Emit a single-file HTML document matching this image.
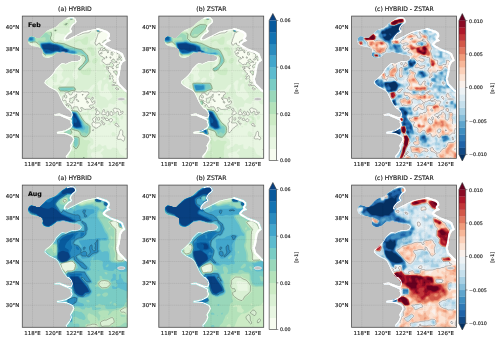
<!DOCTYPE html>
<html><head><meta charset="utf-8"><title>figure</title><style>html,body{margin:0;padding:0;background:#fff}svg{display:block}text{stroke:#222;stroke-width:.14px}</style></head><body>
<svg width="500" height="340" viewBox="0 0 500 340" font-family="'DejaVu Sans','Liberation Sans',sans-serif">
<defs>
<clipPath id="pc"><rect x="0" y="0" width="104.9" height="142.2"/></clipPath>
<clipPath id="sea"><polygon points="6.0,25.0 7.0,22.0 9.0,20.5 12.0,21.0 15.0,22.3 18.0,22.0 20.0,20.0 22.0,18.0 23.5,16.3 26.0,14.3 29.0,13.0 31.9,12.0 34.8,10.2 37.2,7.8 39.8,5.7 42.8,3.8 45.8,1.8 48.8,0.9 51.8,1.2 53.7,3.0 54.5,5.7 53.2,7.5 51.0,9.3 49.5,11.2 48.8,13.2 50.2,15.0 49.2,16.8 46.8,18.0 45.0,19.8 43.5,21.8 43.0,23.2 45.2,23.7 47.5,22.5 52.0,20.2 56.5,18.0 61.0,15.8 67.0,14.2 73.0,13.2 76.0,12.0 80.5,13.5 85.0,15.0 87.7,17.2 88.0,20.2 86.5,22.5 88.8,24.8 85.0,26.2 82.8,28.5 85.0,30.0 88.8,32.2 92.5,33.8 97.0,35.2 100.8,37.5 102.0,40.8 103.5,44.4 100.6,46.6 99.0,49.6 98.5,53.0 97.6,58.7 96.3,63.0 97.6,67.5 100.6,70.5 103.5,73.4 106.0,75.0 106.0,143.0 44.2,143.0 44.2,142.2 43.8,140.3 45.8,137.8 47.7,135.2 48.8,132.2 48.0,129.5 49.8,126.5 51.3,123.5 50.2,121.0 47.2,119.5 44.2,118.2 40.5,117.8 35.2,117.5 34.8,116.0 39.0,115.2 42.8,114.5 45.8,113.0 48.3,111.5 49.5,109.2 48.3,106.2 48.8,104.8 45.0,102.8 41.2,101.3 37.5,99.5 32.7,99.5 32.2,98.3 37.5,97.4 42.0,99.2 45.8,100.7 48.8,101.3 49.8,98.8 48.8,95.8 46.5,93.2 45.0,92.5 42.0,88.8 39.8,85.0 38.2,81.2 36.0,76.8 33.8,74.5 30.8,73.0 27.8,71.5 24.8,69.2 22.5,67.0 23.2,64.8 27.0,61.8 30.0,58.8 32.2,55.8 33.8,52.8 37.5,49.0 40.2,46.9 43.8,48.0 46.8,46.5 50.2,45.3 53.2,45.1 55.8,44.9 57.9,44.0 59.0,42.1 58.2,40.2 55.5,38.9 52.2,38.4 48.8,38.0 45.0,36.8 41.2,35.7 37.5,36.5 35.0,36.3 33.0,38.0 30.0,40.5 26.0,42.0 22.0,41.0 20.5,39.0 21.0,36.0 20.5,33.0 18.0,31.5 14.0,30.5 10.0,30.0 7.0,28.0"/></clipPath>
<g id="fringe"><polyline points="45.8,1.8 48.8,0.9 51.8,1.2 53.7,3.0 54.5,5.7 53.2,7.5 51.0,9.3 49.5,11.2 48.8,13.2 50.2,15.0 49.2,16.8 46.8,18.0 45.0,19.8 43.5,21.8 43.0,23.2" fill="none" stroke="#fff" stroke-width="2.6" stroke-linejoin="round" stroke-linecap="round"/><polyline points="45.2,23.7 47.5,22.5 52.0,20.2 56.5,18.0 61.0,15.8 67.0,14.2 73.0,13.2 76.0,12.0" fill="none" stroke="#fff" stroke-width="1.6" stroke-linejoin="round" stroke-linecap="round"/><polyline points="76.0,12.0 80.5,13.5 85.0,15.0 87.7,17.2 88.0,20.2 86.5,22.5 88.8,24.8 85.0,26.2 82.8,28.5 85.0,30.0 88.8,32.2 92.5,33.8 97.0,35.2 100.8,37.5 102.0,40.8 103.5,44.4 100.6,46.6 99.0,49.6 98.5,53.0 97.6,58.7 96.3,63.0 97.6,67.5 100.6,70.5 103.5,73.4 106.0,75.0" fill="none" stroke="#fff" stroke-width="4.2" stroke-linejoin="round" stroke-linecap="round"/><polyline points="44.2,142.2 43.8,140.3 45.8,137.8 47.7,135.2 48.8,132.2 48.0,129.5 49.8,126.5 51.3,123.5 50.2,121.0 47.2,119.5 44.2,118.2 40.5,117.8 35.2,117.5 34.8,116.0 39.0,115.2 42.8,114.5 45.8,113.0 48.3,111.5 49.5,109.2 48.3,106.2 48.8,104.8 45.0,102.8 41.2,101.3 37.5,99.5 32.7,99.5 32.2,98.3 37.5,97.4 42.0,99.2 45.8,100.7 48.8,101.3 49.8,98.8 48.8,95.8 46.5,93.2" fill="none" stroke="#fff" stroke-width="2.2" stroke-linejoin="round" stroke-linecap="round"/><polyline points="46.5,93.2 45.0,92.5 42.0,88.8 39.8,85.0 38.2,81.2 36.0,76.8 33.8,74.5 30.8,73.0 27.8,71.5 24.8,69.2 22.5,67.0 23.2,64.8 27.0,61.8 30.0,58.8 32.2,55.8 33.8,52.8 37.5,49.0 40.2,46.9" fill="none" stroke="#fff" stroke-width="1.4" stroke-linejoin="round" stroke-linecap="round"/><polyline points="40.2,46.9 43.8,48.0 46.8,46.5 50.2,45.3 53.2,45.1 55.8,44.9 57.9,44.0 59.0,42.1" fill="none" stroke="#fff" stroke-width="1.2" stroke-linejoin="round" stroke-linecap="round"/><polyline points="59.0,42.1 58.2,40.2 55.5,38.9 52.2,38.4 48.8,38.0 45.0,36.8 41.2,35.7 37.5,36.5 35.0,36.3" fill="none" stroke="#fff" stroke-width="0.5" stroke-linejoin="round" stroke-linecap="round"/></g>
<ellipse id="jeju" cx="99.3" cy="83.1" rx="3.8" ry="1.5" fill="#c0c0c0" stroke="#fff" stroke-width="0.5"/>
<g id="grid" stroke="#000" stroke-opacity="0.17" stroke-width="0.4" stroke-dasharray="1.4 0.5" fill="none"><path d="M10.20 0V142.3"/><path d="M31.20 0V142.3"/><path d="M52.20 0V142.3"/><path d="M73.20 0V142.3"/><path d="M94.20 0V142.3"/><path d="M0 10.90H105.2"/><path d="M0 32.74H105.2"/><path d="M0 54.58H105.2"/><path d="M0 76.42H105.2"/><path d="M0 98.26H105.2"/><path d="M0 120.10H105.2"/></g>
</defs>
<rect width="500" height="340" fill="#fff"/>
<g transform="translate(22.3,16.1)">
<g clip-path="url(#pc)">
<rect width="105.2" height="142.3" fill="#c0c0c0"/>
<g transform="translate(-0.3,-0.1)"><g clip-path="url(#sea)"><rect x="-1" y="-1" width="107.2" height="144.3" fill="#f7fcf0"/><path d="M65.0 85.0L64.5 86.2L65.5 87.0L66.2 87.0L66.5 86.8L66.2 85.8ZM54.5 83.2L54.2 83.8L55.8 85.5L56.8 85.5L56.8 85.0L55.0 83.2ZM60.0 79.0L60.8 79.2L61.2 78.5L60.2 78.5ZM54.8 78.0L53.5 79.2L53.2 80.2L52.5 81.0L51.0 81.0L50.0 82.2L48.0 82.2L47.5 82.8L48.2 84.0L47.5 85.2L47.5 86.0L49.0 87.0L50.8 87.0L50.8 85.5L52.2 83.8L52.2 82.2L52.8 81.8L54.0 81.8L54.5 81.0ZM98.0 58.8L97.0 58.8L96.2 59.8L96.8 63.8L97.0 63.8L97.0 62.2L97.8 60.5ZM91.5 55.2L91.8 56.5L92.5 56.8L93.5 57.8L94.0 59.0L94.5 59.2L95.5 58.0L95.2 55.5L93.8 54.8ZM90.2 51.8L90.8 52.8L91.5 52.8L91.2 52.0ZM97.2 46.2L97.5 47.5L96.8 48.2L95.0 48.8L94.0 50.2L94.0 51.2L94.8 51.8L97.0 51.2L97.5 51.8L97.5 53.2L99.0 54.0L99.5 49.8L100.5 47.5L100.0 47.0ZM89.2 44.8L89.5 45.2L90.5 45.2L92.2 46.8L94.0 46.0L95.2 46.5L94.8 45.5L93.5 45.2L92.2 44.0L92.0 43.0L90.8 43.0ZM88.0 40.8L87.8 41.8L88.0 42.2L88.8 42.2L89.0 41.5L88.5 40.8ZM84.0 40.5L84.0 41.5L84.2 42.0L84.8 42.0L85.0 41.0ZM79.8 36.2L78.2 37.2L78.5 38.0L79.5 38.0L80.0 37.5ZM89.2 36.0L89.0 38.5L90.5 39.2L91.0 38.8L90.8 37.2L90.0 36.0ZM87.8 33.2L87.5 34.0L88.5 34.2L88.5 33.8ZM90.8 32.2L90.2 33.8L90.5 35.2L93.0 36.2L93.2 35.0L94.2 34.8L94.8 35.8L94.5 36.5L95.5 37.8L96.0 37.8L96.0 36.5L96.5 36.0L97.2 36.0L97.8 36.5L97.8 37.5L97.0 38.5L96.8 41.2L97.2 42.0L95.2 43.0L95.5 44.0L96.8 44.0L97.8 42.8L98.2 42.8L99.2 43.5L99.2 45.0L100.8 44.8L102.0 46.2L104.0 45.0L104.0 43.8L101.0 36.8L97.0 34.5L92.8 33.2ZM98.5 40.0L99.5 40.8L99.5 41.5L99.0 42.0L98.0 42.0L97.5 41.5L97.5 41.0ZM87.8 16.2L88.5 19.0L88.2 16.8ZM6.8 21.2L5.5 24.2L5.5 25.8L6.5 28.5L9.5 30.5L12.5 30.8L17.0 31.8L19.8 33.2L20.5 36.0L20.0 37.8L20.0 39.5L21.5 41.5L25.2 42.5L26.8 42.5L30.5 41.0L35.5 36.8L38.5 37.0L40.0 36.5L42.0 36.5L48.0 38.5L55.0 39.2L57.5 40.5L58.2 42.0L57.8 43.2L57.0 43.8L53.2 44.8L49.5 44.8L46.8 45.8L44.0 47.2L43.0 47.2L41.0 46.5L39.2 46.8L37.2 48.2L33.0 52.5L31.8 55.2L29.8 58.0L26.0 61.8L22.8 64.2L22.0 66.2L22.0 67.5L24.5 70.0L27.2 72.0L33.0 74.8L35.5 77.2L38.2 82.8L38.8 84.5L41.2 89.0L44.0 92.5L45.8 93.5L48.2 96.2L49.0 98.2L48.5 100.2L47.2 100.5L38.2 97.0L36.2 97.0L31.8 97.8L31.8 99.0L32.2 100.0L37.2 100.0L40.5 101.8L43.5 102.8L48.0 105.2L47.8 107.0L48.8 109.2L47.5 111.2L42.5 114.0L34.2 115.5L34.2 116.8L34.8 118.0L40.8 118.2L44.0 118.8L49.5 121.2L50.2 122.5L50.5 123.5L47.5 129.0L47.5 130.2L48.0 131.5L47.5 134.2L43.2 139.8L43.2 141.2L43.8 143.0L104.8 143.0L105.0 142.0L106.0 141.2L106.0 135.0L105.0 134.8L104.0 133.5L104.2 132.5L105.0 131.8L106.0 131.5L106.0 74.2L103.5 72.5L101.0 73.0L99.8 72.0L98.8 72.0L95.8 69.2L92.5 69.5L92.0 69.0L93.2 67.8L93.8 66.5L93.2 66.2L91.2 66.5L90.8 65.8L91.5 64.8L91.5 64.0L90.5 62.5L91.0 61.8L90.8 59.8L89.8 59.5L88.5 61.2L87.5 60.8L87.2 59.8L88.8 58.8L89.0 57.5L87.0 56.2L86.2 54.0L85.5 54.0L85.0 53.5L85.0 52.8L84.2 52.0L84.5 50.5L85.5 50.0L86.0 50.5L85.5 51.8L85.8 52.5L86.5 53.0L86.5 51.5L87.2 50.5L90.0 51.2L92.0 49.5L92.0 49.0L90.8 48.0L90.8 47.2L89.5 46.2L88.2 46.5L87.8 48.5L86.0 48.2L84.0 48.8L81.8 46.5L80.8 46.2L80.0 45.2L80.2 43.8L81.2 43.0L82.8 43.0L82.8 42.2L80.8 40.8L78.0 39.5L77.2 38.5L77.2 37.5L76.5 36.5L76.5 35.5L77.2 34.8L78.8 34.2L78.2 32.5L79.0 31.8L80.5 31.8L81.5 32.5L79.8 34.2L80.2 35.0L83.8 34.2L85.5 35.8L85.5 36.8L86.5 36.5L86.2 34.2L84.0 33.8L82.0 32.2L82.2 31.8L84.0 31.5L84.2 29.8L84.0 29.0L83.0 28.0L83.0 27.5L84.0 26.8L85.0 26.8L85.8 26.2L86.0 24.0L83.0 24.0L82.0 25.2L80.5 26.0L82.2 28.2L80.5 30.0L78.0 28.5L78.0 27.0L76.2 27.5L75.0 29.2L73.5 28.5L73.0 27.0L73.2 25.8L73.8 25.2L74.2 22.8L76.0 18.5L76.0 17.8L77.0 16.8L80.2 15.2L82.0 15.2L84.0 14.8L86.2 15.0L85.0 14.2L76.8 11.5L75.2 11.5L72.8 12.8L67.5 13.5L61.2 15.0L57.5 16.8L59.2 16.8L61.8 15.5L64.2 15.2L67.5 14.2L69.0 14.2L69.2 14.8L67.0 16.5L62.8 17.0L59.2 18.0L55.8 19.5L50.5 20.2L48.5 21.2L46.8 23.0L44.2 23.0L44.0 22.2L45.0 20.8L47.2 18.5L50.0 17.0L50.8 15.5L50.8 14.5L49.5 12.8L51.0 10.2L53.2 8.5L55.0 6.2L54.5 3.0L53.2 1.5L52.2 0.8L48.0 0.5L44.8 1.5L39.5 5.0L34.0 10.0L32.0 11.2L28.2 12.5L24.8 14.2L17.5 21.5L15.2 21.8L12.8 20.5L10.2 20.0L8.5 20.0ZM99.2 113.5L100.2 114.5L100.8 115.8L100.5 118.0L100.8 119.5L102.0 120.2L102.8 121.2L102.5 123.8L102.0 124.8L101.2 125.2L99.2 123.5L98.5 123.2L96.0 123.5L95.2 123.0L95.2 121.8L97.2 117.8L97.5 115.5L98.0 114.5ZM71.0 113.5L71.5 113.8L71.2 114.8L70.5 114.5ZM93.8 107.2L94.8 107.0L95.8 108.8L97.0 109.8L97.0 110.5L96.5 111.0L93.0 109.2L93.0 108.2ZM79.2 104.8L80.0 104.5L80.5 105.0L80.8 106.5L83.0 107.5L83.0 108.0L82.2 108.8L81.2 108.8L80.8 108.2L80.2 107.0L79.0 105.5ZM89.0 102.5L90.5 103.5L90.5 104.2L89.2 106.0L88.5 106.0L87.2 105.0L86.8 104.0ZM83.5 102.5L85.2 102.2L86.8 103.8L85.5 104.5L84.0 104.5L83.5 104.0ZM79.5 101.5L82.0 101.0L83.0 101.8L83.0 102.2L80.8 103.2L79.8 102.2ZM76.8 101.0L77.2 101.5L77.5 103.8L76.8 104.2L76.0 104.2L75.2 103.5L75.2 102.5ZM73.5 100.5L74.2 101.0L74.5 101.8L73.5 102.8L73.8 105.0L72.5 106.5L73.2 107.0L77.2 106.8L78.5 107.8L79.0 109.2L78.2 110.0L77.0 110.2L76.0 111.5L74.2 112.2L73.2 112.2L72.8 111.0L71.5 111.0L70.8 110.2L70.0 108.5L70.0 107.0L71.5 106.2L71.5 105.2L70.5 103.0L71.0 102.2L71.8 102.0ZM89.0 95.2L90.0 96.0L91.2 98.2L90.8 99.0L89.5 99.5L88.5 99.2L87.8 98.2L88.2 96.2ZM75.5 94.5L77.8 96.2L78.0 97.2L77.0 98.2L74.0 99.0L73.5 98.0L74.5 96.5L74.8 95.0ZM81.5 93.5L82.5 93.8L82.2 95.5L83.5 97.2L84.5 97.2L85.5 95.2L86.2 95.2L86.8 95.8L86.5 97.0L86.8 99.5L85.5 100.0L83.5 98.5L80.5 99.0L79.8 98.2L79.8 97.2L80.8 95.2L80.8 94.5ZM74.0 92.5L75.0 93.0L75.0 93.8L74.5 94.2L73.8 94.2L73.2 93.8L73.2 93.0ZM91.2 93.2L92.2 92.2L94.0 92.2L94.8 92.8L96.8 93.0L98.2 94.2L98.8 95.2L98.5 95.8L98.8 96.8L100.2 95.2L100.8 95.2L101.0 97.0L100.0 98.0L98.0 99.0L97.2 99.0L96.5 98.5L96.2 95.8L95.2 95.2L93.5 97.0L92.5 97.2L92.0 96.5L92.0 95.0L91.2 94.0ZM71.0 90.8L71.8 90.8L72.2 91.2L71.5 92.2L71.0 92.2L70.2 91.5ZM46.0 89.8L47.0 89.5L47.2 90.0L46.5 90.5ZM44.5 88.0L45.5 89.0L45.0 89.8L44.0 89.2L44.0 88.5ZM70.2 81.2L71.0 81.2L71.5 82.0L71.0 83.2L70.2 83.2L69.5 82.2ZM41.0 80.8L41.8 79.5L42.5 79.5L42.8 79.8L42.5 81.2L43.5 82.0L44.8 81.8L44.8 79.8L43.0 78.5L43.0 77.2L43.5 76.8L46.0 76.5L47.0 77.2L47.0 78.0L47.5 78.8L49.0 79.0L49.8 78.5L50.5 76.5L52.8 75.2L53.8 75.2L55.0 76.0L58.5 76.0L60.2 75.2L61.8 76.0L65.8 75.8L66.5 76.2L67.0 77.8L66.5 78.5L65.0 79.0L64.8 80.8L63.2 81.5L63.2 83.0L64.8 84.2L64.2 83.2L64.2 82.5L64.8 82.0L67.8 82.5L68.5 83.0L70.0 86.5L70.5 86.8L71.2 85.5L72.2 84.8L72.8 85.2L72.8 87.2L70.2 89.0L68.5 89.0L67.2 89.8L67.2 90.5L69.5 92.0L69.5 92.8L69.0 93.2L64.2 93.2L64.0 93.5L62.0 93.2L61.2 92.8L60.8 91.8L58.8 91.5L58.5 92.2L59.8 93.8L59.8 94.8L59.0 95.5L58.0 95.5L57.2 94.8L55.5 90.8L52.0 90.8L51.2 91.2L51.2 93.0L51.0 93.2L50.0 93.0L49.5 92.5L49.8 91.0L48.8 90.0L48.5 89.0L46.8 87.8L45.0 87.8L44.2 86.5L44.2 85.0L43.5 84.2L42.2 84.2L41.5 85.0L40.8 84.8L40.5 83.5L41.0 82.2ZM93.5 72.0L94.2 71.5L97.0 73.0L96.0 73.8L95.0 73.8L93.8 72.8ZM90.8 68.0L92.0 69.0L91.0 69.8L90.0 69.2L90.0 68.8ZM87.8 62.0L88.8 62.8L88.2 63.2L87.2 63.0Z" fill="#e8f6e2" fill-rule="evenodd"/><path d="M106.0 137.0L104.5 137.5L104.2 138.5L106.0 138.8ZM90.5 116.0L89.5 117.5L89.5 118.5L90.0 119.5L91.0 120.2L92.8 120.2L93.8 119.0L93.5 117.5L92.5 116.5L91.5 116.0ZM83.0 110.2L83.5 111.0L84.2 111.0L84.0 110.2L83.5 110.0ZM80.0 109.8L79.5 111.0L80.2 110.2ZM86.2 105.5L87.0 107.0L86.0 108.0L85.2 108.2L86.0 109.0L88.2 109.2L88.8 108.2L88.8 107.2L87.2 106.5ZM78.5 102.8L78.8 103.5L79.2 103.5L79.2 103.0ZM99.5 99.5L98.5 100.8L98.5 102.5L99.2 103.5L100.2 103.5L101.5 101.0L100.5 99.5ZM82.8 99.8L83.0 100.5L84.8 101.5L86.5 101.2L86.2 100.8L85.0 100.5L83.8 99.5ZM71.2 99.5L71.2 100.5L71.5 100.5L71.8 99.8ZM31.8 99.0L32.2 100.0L38.5 100.2L40.0 99.5L41.2 98.2L38.2 97.0L36.2 97.0L31.8 97.8ZM95.2 96.5L93.8 97.8L93.8 98.5L93.2 99.2L92.0 99.8L90.5 99.8L89.8 100.2L89.8 101.0L90.5 102.0L92.5 102.2L93.2 103.2L93.2 104.2L92.8 104.8L91.0 105.0L90.2 106.0L90.5 107.2L91.8 108.2L92.5 108.0L94.8 106.0L95.8 106.5L96.2 107.8L97.5 108.2L97.2 103.2L96.8 102.0L95.0 100.8L95.2 100.0L95.0 98.5L95.5 97.8ZM60.8 94.0L61.0 94.5L62.0 94.2ZM68.8 94.8L69.2 95.5L72.5 95.0L72.0 94.0L71.2 93.5L70.5 93.5ZM85.5 93.2L84.8 93.2L83.0 95.0L83.5 96.0L84.0 96.0L84.2 95.0L85.8 94.0ZM59.5 92.2L59.5 92.8L60.5 93.2L60.2 92.5ZM52.0 91.5L52.0 92.5L52.5 93.2L53.8 92.5L55.2 92.5L55.0 91.8ZM44.2 90.8L44.2 91.5L44.8 92.2L47.0 92.8L48.0 93.5L47.5 94.5L47.5 95.5L48.5 96.8L49.0 99.0L48.5 100.2L47.5 100.5L47.5 103.0L46.8 104.5L48.0 105.2L47.8 107.0L48.8 109.2L47.5 111.2L42.5 114.0L34.2 115.5L34.2 116.8L34.8 118.0L38.8 118.2L39.5 117.8L40.0 116.5L40.8 116.2L42.5 118.5L44.0 118.8L49.5 121.2L50.2 122.5L50.5 123.5L47.5 129.0L47.5 130.2L48.0 131.5L47.5 134.2L43.2 139.8L43.2 140.2L44.8 141.2L45.2 143.0L70.5 143.0L70.2 141.2L69.0 139.5L69.0 138.0L69.5 136.8L70.2 136.2L73.8 136.5L75.5 135.5L77.2 135.5L78.8 134.2L80.2 132.2L81.0 132.2L82.0 133.8L78.5 137.0L80.8 139.5L80.5 143.0L103.0 143.0L102.5 140.5L99.0 138.8L97.5 137.2L96.0 133.2L94.5 132.0L90.5 131.5L89.0 133.2L88.2 133.5L86.0 133.2L84.8 132.2L84.2 129.8L83.8 129.2L82.8 129.2L81.0 130.2L80.2 130.2L78.2 128.2L76.8 128.2L74.8 130.8L72.0 131.5L70.0 133.5L69.2 133.5L68.5 132.8L68.0 131.0L69.2 129.5L70.8 129.0L71.5 127.8L71.5 125.0L71.0 123.0L68.8 121.8L67.8 120.5L67.8 119.2L69.0 116.5L69.2 110.5L68.2 108.2L67.0 107.0L65.0 106.2L62.8 104.0L60.8 100.5L61.0 99.2L64.0 99.5L65.5 99.0L66.2 99.8L66.2 102.2L67.0 104.0L67.5 104.5L68.5 104.5L68.8 104.2L68.8 99.5L69.2 98.8L69.2 98.0L68.0 97.8L66.5 96.2L68.2 94.5L66.5 93.8L65.0 93.8L65.2 95.0L65.0 96.2L60.2 96.5L59.0 97.0L57.5 96.2L56.2 94.5L53.8 94.5L53.0 94.0L51.0 94.0L49.0 93.2L48.5 92.8L48.8 91.5L48.2 91.0L46.0 91.2L45.5 90.8ZM68.2 89.8L68.2 90.5L69.5 90.2L69.2 89.8ZM50.5 83.2L50.0 84.0L50.8 84.5L51.2 83.8ZM93.0 67.0L92.2 66.8L91.5 67.5L92.5 67.8ZM98.0 59.2L97.0 59.5L96.8 60.0L97.0 61.0L97.5 61.0ZM34.8 58.2L32.8 57.5L31.5 57.8L30.0 60.5L29.2 61.2L28.5 60.8L28.0 59.8L22.8 64.2L22.0 66.2L22.0 67.5L25.2 70.5L25.8 69.2L25.8 68.0L25.2 66.8L25.5 64.8L28.8 61.5L29.2 61.8L32.2 66.2L33.2 66.5L34.8 65.8L34.8 62.2L35.2 61.0L35.2 59.0ZM92.5 55.5L92.2 56.2L93.0 56.5L94.2 58.2L94.8 58.2L95.2 57.2L95.0 55.8L94.2 55.2ZM99.8 47.5L97.2 48.5L96.2 49.5L96.8 50.2L98.8 50.8L99.2 51.2L98.2 53.2L99.0 53.2L99.5 49.8L100.2 48.5ZM89.0 46.8L88.5 47.0L88.8 48.0L88.5 50.0L89.5 50.5L91.0 49.5L90.2 48.5L90.0 47.2ZM90.8 43.8L90.5 44.5L91.2 44.8L92.2 46.0L92.8 46.0L92.8 45.2L92.0 45.0L91.2 43.8ZM79.5 41.2L80.0 42.5L81.8 42.2L80.2 41.0ZM100.0 36.2L100.0 36.8L99.2 37.2L100.2 38.0L100.2 39.8L101.5 41.2L101.5 42.0L101.2 42.2L100.2 42.0L100.0 42.8L100.2 43.0L102.5 42.8L103.5 43.8L103.2 44.5L101.8 44.0L101.8 45.0L102.5 46.0L104.0 45.0L104.0 43.8L101.2 37.0ZM97.2 34.8L96.2 34.5L95.5 34.8L95.2 35.2L96.2 35.5ZM91.2 33.8L91.0 34.5L92.2 35.2L92.5 34.2ZM77.0 30.8L76.0 32.2L76.0 33.2L76.8 33.8L77.8 33.8L77.8 32.5L78.5 31.0ZM83.5 29.5L82.2 29.2L80.8 31.0L81.5 31.2L82.2 30.8L83.5 30.8ZM82.0 26.5L82.5 26.8L84.8 26.5L85.5 26.0L85.5 24.8L84.8 24.2L83.2 24.2L82.0 25.8ZM74.2 15.2L75.2 16.2L77.2 16.2L78.0 15.8L78.5 13.8L79.0 13.2L82.8 13.5L76.8 11.5L75.2 11.5L74.2 12.0L74.5 12.5ZM6.5 21.5L5.5 24.2L5.5 25.8L6.5 28.5L7.8 27.5L9.8 27.2L11.8 27.5L14.2 30.5L14.5 31.2L17.0 31.8L19.8 33.2L20.5 36.0L20.0 37.8L20.0 39.5L21.5 41.5L24.8 42.2L24.8 41.2L26.5 40.5L28.8 40.5L30.5 41.0L35.5 36.8L38.5 37.0L40.0 36.5L42.0 36.5L48.0 38.5L55.0 39.2L57.8 40.8L58.2 42.0L57.8 43.0L58.8 42.8L59.5 43.5L59.8 44.2L59.5 47.8L59.0 48.8L56.2 51.0L55.2 52.2L55.8 54.0L55.2 58.0L56.2 60.0L56.2 61.0L55.5 62.5L54.0 63.8L53.2 63.8L51.5 61.8L50.5 59.5L50.5 57.8L51.2 56.5L52.0 54.0L54.2 51.8L54.8 49.5L57.0 47.5L56.8 44.5L57.2 43.5L53.2 44.8L49.5 44.8L48.0 46.2L47.0 46.5L46.2 46.0L44.0 47.2L39.8 46.5L37.0 48.5L41.2 53.8L41.2 55.0L40.0 56.8L39.5 58.2L39.8 59.2L41.5 61.8L41.5 62.5L41.0 63.2L38.0 65.0L37.5 66.0L37.8 66.8L38.5 67.5L39.8 67.5L41.2 66.8L42.5 64.8L42.8 63.5L44.2 62.0L45.2 61.5L46.5 61.5L47.8 62.5L47.5 64.2L45.2 67.2L44.5 69.0L43.5 70.0L42.2 70.2L39.8 70.0L38.0 68.5L36.8 68.5L34.0 69.5L31.8 69.2L31.0 69.8L30.2 71.0L29.8 73.2L33.0 74.8L35.5 77.2L38.0 82.5L39.5 78.2L40.0 77.8L41.8 78.2L42.0 78.0L41.8 76.5L42.2 76.0L44.2 75.8L46.0 76.0L47.2 76.5L47.8 77.5L48.5 78.0L49.0 77.2L49.0 76.5L49.8 75.8L52.8 74.8L53.8 74.8L55.0 73.8L56.5 73.8L59.2 74.5L61.5 74.2L62.5 73.8L65.5 73.8L66.8 73.2L70.0 69.2L72.0 68.2L72.8 69.0L72.8 70.0L70.5 73.8L70.2 75.5L69.8 76.0L68.0 75.8L67.5 76.2L67.8 78.0L66.8 79.2L65.5 79.8L65.2 81.2L67.0 82.0L68.8 82.0L70.8 80.0L71.5 79.8L72.2 80.2L72.8 81.2L72.8 82.5L73.5 82.2L74.2 83.0L74.8 84.8L74.8 88.5L74.0 89.8L73.8 91.0L74.8 90.8L76.0 91.0L78.5 93.0L78.8 94.0L78.2 95.2L78.8 96.2L79.5 96.2L80.2 93.0L80.8 92.0L82.2 91.5L84.0 91.8L85.2 91.5L86.0 90.8L86.5 88.2L87.2 87.5L88.5 87.5L91.8 88.5L93.0 88.2L93.5 87.8L94.0 85.2L95.0 84.5L99.5 85.0L102.0 88.0L103.0 88.5L106.0 88.5L106.0 80.2L105.5 79.8L105.5 78.8L106.0 78.2L106.0 74.2L104.0 73.0L101.0 73.5L99.2 72.8L98.2 74.2L95.5 75.0L94.2 74.5L92.2 72.5L92.5 71.8L93.5 70.8L94.5 70.8L95.2 71.5L96.0 71.5L96.2 70.8L95.5 69.8L93.5 70.2L91.8 70.0L90.8 70.5L89.2 69.2L90.2 67.2L90.2 65.5L90.8 64.0L89.8 64.0L89.0 65.5L88.0 66.2L87.2 66.2L86.5 65.5L86.8 64.2L86.5 62.5L87.2 61.5L86.8 59.5L87.8 58.5L88.0 57.8L86.5 56.8L86.2 55.5L85.8 55.0L85.0 55.0L83.8 53.2L82.5 53.2L82.0 52.8L82.0 52.2L83.8 51.0L84.0 50.0L81.2 47.2L80.2 48.0L79.5 49.2L78.0 48.2L77.5 47.0L78.5 45.0L78.2 41.0L76.8 40.5L76.0 39.8L75.2 38.0L74.8 34.5L72.0 29.8L70.8 28.8L68.8 28.2L68.0 27.5L68.2 25.5L69.0 24.8L71.2 24.0L72.2 22.5L73.5 19.0L73.5 17.5L73.0 16.5L70.8 16.2L66.5 18.2L63.0 18.5L59.2 20.2L55.5 20.8L53.2 21.5L48.0 24.5L43.0 26.0L40.5 25.5L39.0 23.8L37.5 24.0L35.8 25.2L34.2 25.5L33.0 25.2L32.2 24.5L32.8 19.5L33.2 18.5L35.0 17.0L36.0 16.8L39.0 18.0L41.8 17.8L44.5 19.8L46.0 19.8L47.2 18.5L50.0 17.0L50.8 15.5L50.8 14.5L49.5 12.8L50.8 10.8L51.0 9.0L51.8 8.0L54.8 6.8L55.0 6.2L54.5 3.0L52.2 0.8L48.0 0.5L44.8 1.5L39.5 5.0L36.5 7.5L36.8 10.0L35.8 11.0L31.8 11.2L30.8 12.2L30.8 13.0L30.0 14.0L25.0 14.8L24.5 14.5L17.5 21.5L15.2 21.8L12.8 20.5L10.2 20.0L8.5 20.0ZM104.5 82.2L102.8 84.0L101.5 84.0L101.0 83.2L102.0 82.0L103.8 81.5ZM78.2 64.2L79.5 64.2L80.0 64.8L80.0 66.8L79.2 68.8L79.2 72.2L78.8 73.2L79.0 74.5L80.0 75.0L81.5 74.8L81.8 70.5L82.5 69.0L84.0 67.5L85.2 67.5L86.0 68.2L86.0 70.2L85.5 71.5L85.8 72.8L88.8 76.8L90.5 80.0L90.2 81.2L86.5 84.5L86.0 84.5L83.0 81.0L79.8 80.5L78.8 80.0L77.5 78.5L77.2 75.0L75.8 72.8L75.8 69.5L75.2 68.8L75.0 67.2L77.2 64.8ZM83.0 61.2L83.8 62.0L83.8 62.8L82.8 63.8L81.5 63.8L81.0 63.2L81.2 62.5L82.2 61.5ZM84.2 55.8L84.8 55.8L85.8 57.0L85.8 57.8L85.0 58.5L84.0 58.2L83.2 57.5L83.5 56.2ZM73.2 54.8L74.0 54.8L74.5 55.2L74.0 56.2L73.2 56.2L72.8 55.8ZM47.0 15.5L47.0 14.8L48.2 14.0L49.2 14.0L50.0 14.8L49.0 16.0L47.5 16.0Z" fill="#daf0d4" fill-rule="evenodd"/><path d="M93.5 105.5L91.5 105.8L91.2 106.0L91.5 107.0L92.5 107.2L93.5 106.2ZM91.0 100.5L91.0 101.0L91.5 101.2L93.0 101.2L93.8 102.0L93.8 102.8L94.5 103.8L96.0 103.0L95.8 102.5L94.0 101.8L93.2 100.5ZM48.8 94.0L48.2 94.5L48.0 96.0L48.5 96.8L49.0 99.0L48.2 100.5L48.2 103.2L47.8 104.5L48.0 105.2L47.8 107.0L48.8 109.2L47.5 111.2L42.5 114.0L41.2 114.2L41.2 114.8L42.5 117.0L43.5 118.0L47.0 119.5L48.5 119.2L50.2 117.5L50.5 116.0L49.8 114.5L50.0 114.2L51.2 114.2L53.5 115.2L55.8 115.8L56.8 116.8L57.0 117.8L56.2 118.5L53.5 118.5L51.2 120.0L50.0 122.2L50.5 123.5L49.5 125.2L50.5 127.5L50.8 130.2L52.2 133.5L51.8 134.8L51.0 135.2L48.8 135.0L47.5 134.2L46.2 136.0L47.0 137.5L47.0 143.0L65.5 143.0L65.2 141.5L65.5 137.5L65.0 136.0L65.0 134.8L65.5 133.8L65.5 130.8L66.2 128.5L68.5 126.5L68.5 125.5L66.8 124.0L64.2 124.2L62.5 124.0L60.8 122.2L61.2 121.8L62.2 122.0L64.5 121.8L67.8 117.8L68.5 115.8L68.5 110.2L67.2 108.5L64.0 106.5L62.8 105.2L59.5 100.5L58.2 98.0L55.8 95.0ZM53.5 136.2L54.8 137.0L54.2 137.8L53.8 137.8L53.0 137.0ZM68.0 79.8L66.2 80.0L65.8 81.0L66.5 81.5L67.8 81.2L68.2 80.8ZM68.5 76.8L68.5 78.0L69.0 78.8L69.8 78.2L69.8 77.5L69.0 76.8ZM89.8 71.2L90.2 73.2L91.2 73.8L90.8 72.0ZM36.0 71.8L37.2 74.8L38.2 75.5L45.5 75.5L47.2 76.0L48.8 75.2L53.0 74.5L54.0 73.8L53.0 71.5L51.2 70.5L44.5 70.5L40.0 71.0L37.2 70.8L36.5 71.0ZM89.5 65.8L88.8 66.5L88.8 67.0L89.5 66.8L89.8 66.0ZM85.0 59.8L85.2 61.2L85.8 61.8L86.5 61.8L86.8 61.5L86.5 60.5L85.8 59.8ZM93.2 55.8L94.5 57.2L94.8 56.2L94.2 55.8ZM97.5 49.0L97.2 49.8L98.5 50.2L98.8 49.2ZM81.2 48.5L81.0 49.5L82.0 51.0L83.0 51.0L83.2 50.0L81.8 48.5ZM89.2 47.8L89.5 48.5L89.2 49.8L89.5 49.8L89.8 49.0L89.5 47.8ZM74.5 42.2L73.0 42.0L71.2 43.0L70.0 45.2L70.0 46.0L71.0 47.2L72.8 47.8L73.5 47.5L74.5 46.5L75.8 44.0L75.8 43.2ZM66.0 31.0L65.5 32.0L65.5 33.8L66.2 34.5L67.5 35.0L68.8 36.2L69.2 39.2L70.2 40.0L71.5 40.0L72.5 39.0L72.8 38.2L72.8 36.0L71.0 32.2L69.8 31.0L69.0 30.8ZM82.8 25.2L82.8 26.2L85.2 26.0L85.2 25.0L84.5 24.5L83.5 24.5ZM66.2 21.8L65.8 21.0L64.0 20.5L61.0 22.8L59.0 23.5L55.0 23.2L53.2 24.2L53.0 26.0L53.5 26.5L54.2 26.5L56.0 25.0L57.8 24.8L58.5 25.2L60.5 28.0L62.2 28.8L64.8 28.8L65.8 27.0ZM6.5 21.5L5.5 24.2L5.5 25.8L7.5 26.8L13.2 26.5L15.8 28.2L17.2 30.0L17.8 32.0L20.0 33.5L20.5 36.0L20.2 36.5L20.8 37.5L22.0 39.0L23.0 39.5L31.8 40.0L35.5 36.8L38.5 37.0L40.0 36.5L42.0 36.5L48.0 38.5L55.0 39.2L56.2 40.0L59.0 40.0L62.0 40.5L62.8 41.5L63.0 44.0L60.5 48.2L56.2 52.2L56.2 53.5L57.0 54.5L58.2 54.8L58.8 55.2L58.5 55.8L58.8 56.8L61.2 58.8L66.5 59.2L67.5 59.0L68.2 58.2L69.0 55.2L69.0 52.8L68.2 51.8L66.2 51.8L63.8 53.5L60.8 54.0L59.8 53.8L60.5 52.2L64.8 48.0L66.0 47.2L67.0 47.2L68.0 46.8L68.5 46.0L68.5 45.0L67.2 43.2L66.2 39.5L64.2 37.2L62.8 34.5L59.8 33.0L56.2 32.5L50.8 30.8L43.2 27.2L37.2 26.2L33.2 26.2L31.5 25.5L29.5 22.8L29.5 21.2L30.5 18.2L29.8 15.5L28.8 15.0L26.5 15.5L23.2 15.5L17.5 21.5L15.2 21.8L12.8 20.5L10.2 20.0L8.5 20.0ZM31.5 14.5L32.2 15.8L33.8 15.8L35.5 14.8L35.8 13.5L35.0 13.0L33.0 13.0L32.0 13.5ZM75.5 12.8L74.8 13.5L74.8 15.5L75.5 16.0L77.2 16.0L78.0 15.2L77.8 13.0ZM51.0 1.2L50.0 0.5L47.5 0.8L46.2 4.5L45.0 5.8L41.5 7.0L40.8 7.8L41.0 9.2L43.5 10.5L45.0 10.5L46.0 10.0L47.2 8.0L48.2 4.8L49.5 4.0L50.2 4.0L51.2 2.8Z" fill="#ccebc5" fill-rule="evenodd"/><path d="M60.0 142.5L60.0 143.0L63.2 143.0L62.5 141.5L61.0 141.5ZM52.5 120.5L51.8 121.0L51.0 123.0L51.2 130.0L53.2 132.5L54.2 132.8L55.2 132.0L57.0 128.8L57.2 122.5L56.8 121.5L54.0 120.5ZM49.0 94.5L48.5 95.2L48.5 97.2L49.0 98.2L48.5 100.0L48.8 103.5L47.8 106.2L47.8 107.0L48.8 109.2L48.0 110.8L47.2 111.2L47.0 112.8L43.5 113.5L42.0 114.2L42.5 116.0L43.8 117.5L46.8 118.8L47.8 118.8L49.8 116.8L49.8 116.0L48.5 113.5L49.5 113.0L52.8 114.2L55.5 114.8L57.0 115.5L58.8 119.0L59.5 119.8L62.2 120.8L64.5 120.5L66.5 118.5L67.8 116.5L68.0 115.5L68.0 110.5L66.2 108.5L64.0 107.2L62.2 105.5L59.8 102.0L57.0 97.2L55.2 95.2ZM36.8 71.8L36.8 72.5L37.8 74.5L38.5 75.0L42.0 75.0L42.2 75.2L45.0 75.0L46.2 75.5L47.5 75.5L49.0 74.8L52.8 74.2L53.5 73.5L52.8 72.0L51.5 71.0L37.5 71.2ZM83.0 25.5L83.2 26.0L85.0 25.8L85.0 25.2L84.2 24.8L83.5 24.8ZM6.5 21.5L5.5 24.2L5.5 25.2L6.5 26.0L8.2 26.5L11.2 26.0L14.0 26.0L16.0 27.5L17.5 29.2L18.5 32.5L20.0 33.5L20.2 35.8L21.2 37.2L22.8 38.8L24.0 39.2L31.8 39.2L33.0 39.0L35.5 36.8L38.5 37.0L40.0 36.5L42.0 36.5L49.2 38.8L59.5 39.2L62.2 39.8L63.2 41.2L63.8 43.8L61.2 48.0L56.8 52.2L56.5 53.0L57.2 54.0L58.5 53.8L66.2 45.5L66.5 44.0L65.5 39.2L60.0 33.8L54.5 32.5L47.8 30.2L42.2 27.8L36.0 26.8L33.5 26.8L31.2 26.0L28.5 23.0L28.5 21.5L29.5 19.2L29.5 17.5L28.8 16.0L22.5 16.2L17.5 21.5L15.2 21.8L12.8 20.5L10.2 20.0L8.5 20.0ZM32.8 14.2L32.8 14.8L34.2 14.5L34.0 14.0ZM75.2 13.2L74.8 14.2L75.0 15.2L75.5 15.8L77.2 15.8L77.8 15.2L77.8 13.5L77.0 13.0ZM45.2 7.5L43.5 7.8L42.8 8.5L44.0 9.0L45.2 8.0ZM47.8 1.5L48.0 3.2L50.0 3.5L50.8 3.0L50.8 1.5L50.2 1.0L48.8 0.8Z" fill="#b4e2ba" fill-rule="evenodd"/><path d="M52.5 121.2L52.0 121.8L51.5 124.0L51.8 129.8L53.0 131.5L54.2 131.8L55.5 130.2L56.5 128.0L56.5 122.5L55.8 121.8L54.2 121.2ZM42.8 114.5L43.0 115.8L44.2 117.0L46.8 118.0L48.0 117.8L49.0 116.2L47.5 113.5L43.8 114.0ZM49.2 95.0L48.8 95.8L49.2 103.2L48.8 105.8L48.0 107.2L48.8 109.2L47.8 111.2L48.5 112.0L50.8 113.0L57.2 115.0L58.2 116.0L59.2 118.2L61.0 119.5L63.0 120.0L64.5 119.5L66.8 117.2L67.2 116.2L67.2 113.2L67.5 113.0L67.2 110.2L65.5 108.8L63.8 108.0L62.2 106.5L58.5 101.0L56.2 97.0L55.0 95.8L51.0 95.0ZM52.8 73.8L52.8 72.8L51.5 71.5L49.0 71.2L48.2 71.5L41.0 71.5L37.2 72.0L37.8 73.8L38.5 74.5L39.5 74.8L47.8 75.0L48.5 74.5ZM83.5 25.2L83.5 25.8L84.5 25.8L84.5 25.2ZM5.5 24.2L5.5 25.0L7.5 26.0L12.0 25.8L14.0 24.8L13.5 21.5L13.0 20.8L10.2 20.0L8.5 20.0L6.8 21.2ZM16.5 21.5L17.2 22.0L19.0 22.0L21.2 21.2L22.8 21.2L23.5 21.8L23.8 23.5L22.8 24.8L20.5 25.0L17.0 24.5L15.5 25.5L15.8 26.2L17.0 27.5L19.0 33.0L20.0 33.5L20.5 35.5L21.5 37.0L23.5 38.8L26.0 39.0L26.2 38.8L30.5 38.8L34.2 37.8L35.5 36.8L38.5 37.0L40.0 36.5L42.0 36.5L48.0 38.5L50.2 38.8L59.2 38.5L62.0 39.0L63.0 39.8L64.0 42.5L64.0 44.2L61.5 48.2L57.0 52.5L57.2 53.5L58.5 53.2L65.8 45.5L66.0 44.8L65.8 41.5L65.0 39.2L61.0 35.0L59.5 34.0L49.2 31.2L42.0 28.5L31.2 26.5L29.0 24.8L27.5 22.8L28.0 19.5L26.2 18.5L25.5 17.5L24.2 17.0L21.8 17.2L17.5 21.5ZM75.2 13.5L75.0 15.0L75.5 15.5L76.8 15.8L77.5 15.2L77.8 14.8L77.5 13.5L77.0 13.2ZM48.2 1.2L48.0 1.8L48.2 3.0L49.8 3.2L50.5 2.8L50.2 1.2L49.5 1.0Z" fill="#99d7ba" fill-rule="evenodd"/><path d="M53.0 121.8L52.2 123.0L52.2 127.2L52.8 129.8L53.5 130.8L54.0 130.8L55.0 129.5L55.8 127.8L55.8 123.2L55.2 122.5ZM49.8 95.2L49.0 96.2L49.5 101.0L49.5 105.5L48.5 108.2L48.8 109.2L48.2 110.5L51.0 112.5L56.5 114.0L58.0 114.8L60.5 117.0L61.8 116.2L62.5 116.2L64.2 117.5L65.0 117.5L66.2 116.0L66.2 112.5L66.5 112.2L66.2 110.5L65.0 109.8L63.5 109.5L62.2 108.2L61.2 106.0L58.2 101.8L56.8 98.8L54.5 96.0ZM38.0 72.2L38.2 73.5L39.2 74.2L47.2 74.5L48.0 74.0L51.8 73.0L50.8 72.2L49.2 72.0ZM59.0 51.5L57.5 53.0L58.2 52.8ZM17.5 27.0L19.2 33.0L20.0 33.5L20.2 34.8L22.0 37.2L23.8 38.5L29.5 38.5L34.5 36.8L38.5 37.0L40.0 36.5L42.0 36.5L46.5 38.0L48.2 38.2L52.8 38.2L55.2 37.8L56.8 36.2L58.0 36.2L60.8 38.0L62.2 38.5L63.8 40.0L64.5 42.8L64.5 44.0L62.5 48.0L65.5 45.0L65.2 41.2L64.8 39.8L60.0 34.8L59.0 34.2L54.0 33.2L49.2 31.8L47.0 32.0L46.2 31.5L43.5 31.2L40.5 29.0L35.5 27.5L31.5 27.0L27.5 24.5L26.5 24.5L25.5 25.5L24.0 26.0L18.5 26.2ZM5.5 24.2L6.0 25.0L7.8 25.8L10.2 25.8L12.2 25.2L13.0 24.8L12.8 21.5L12.0 20.5L11.2 20.2L8.2 20.2L6.5 21.5ZM75.5 13.5L75.2 15.0L75.8 15.5L77.0 15.5L77.5 15.0L77.5 13.8ZM48.2 1.8L48.2 2.5L48.8 3.0L50.2 2.8L50.2 1.8L49.8 1.2L49.0 1.2Z" fill="#7accc4" fill-rule="evenodd"/><path d="M49.8 95.8L49.2 96.5L50.0 103.8L50.0 106.2L49.8 106.5L50.0 110.8L51.0 111.8L53.0 112.8L56.8 113.5L59.2 114.5L61.2 114.5L62.2 114.0L63.2 112.5L63.2 111.2L61.5 109.2L59.8 105.0L58.2 103.0L55.2 97.5L54.2 96.5L53.0 96.0ZM18.0 27.8L18.8 31.0L20.0 34.0L21.8 36.5L23.2 38.0L24.0 38.2L30.0 38.0L33.5 36.5L36.0 36.5L37.5 37.0L42.0 36.5L45.8 37.8L48.5 37.8L48.8 38.0L52.2 38.0L54.0 37.5L55.0 36.8L55.0 35.8L53.0 34.5L47.0 33.2L45.8 32.5L42.8 31.8L41.0 30.0L38.2 28.8L35.0 27.8L31.2 27.2L28.5 26.0L19.0 26.8ZM5.8 23.5L5.8 24.2L8.0 25.5L10.8 25.2L12.2 24.8L12.5 24.2L12.2 21.5L10.8 20.5L7.8 20.5L6.5 21.5ZM76.0 13.5L75.5 13.8L75.2 14.8L75.5 15.2L76.5 15.5L77.2 15.0L77.5 14.2L77.2 13.8ZM49.0 1.5L48.5 2.2L49.0 2.8L49.8 2.8L50.0 1.8Z" fill="#5dbbce" fill-rule="evenodd"/><path d="M50.0 96.0L49.5 96.8L50.2 102.5L50.2 109.8L50.5 110.5L51.5 111.5L54.2 112.8L58.8 112.8L59.0 113.0L61.0 112.8L61.2 111.5L59.8 107.5L59.8 106.8L54.8 97.5L53.5 96.5ZM18.5 27.8L18.5 29.2L20.0 33.5L23.0 37.5L24.2 38.0L29.5 37.8L33.8 36.0L35.2 36.0L38.0 36.8L42.0 36.5L45.0 37.5L47.2 37.2L49.5 37.8L52.8 37.5L54.2 36.5L54.0 35.8L52.5 35.0L49.8 34.2L48.5 34.2L44.8 32.5L42.5 32.0L40.2 30.0L34.8 28.0L32.2 27.8L28.2 26.5L20.0 27.0ZM5.8 23.5L6.2 24.2L7.8 25.0L10.5 24.8L11.5 24.0L11.5 21.5L9.5 20.8L7.5 20.8L6.5 21.5ZM75.8 13.8L75.5 14.8L76.0 15.2L76.8 15.2L77.2 14.8L77.2 14.0ZM49.2 1.8L49.0 2.2L49.5 2.5L49.8 2.0Z" fill="#42a6cc" fill-rule="evenodd"/><path d="M50.2 96.2L49.8 97.2L50.5 102.2L50.8 110.2L51.8 111.2L54.8 112.5L58.0 112.2L59.8 111.8L60.2 111.2L60.2 110.0L59.8 109.2L59.0 106.2L54.5 97.8L53.2 96.8ZM18.8 28.0L18.8 29.2L19.8 32.5L21.5 35.2L23.5 37.5L28.8 37.5L33.5 35.8L35.8 35.8L39.5 36.8L40.0 36.5L42.0 36.5L43.2 37.0L48.5 36.8L49.8 37.2L51.5 37.2L53.2 36.5L52.8 35.8L50.5 35.0L48.2 35.5L46.8 33.8L42.5 32.2L40.8 30.8L34.5 28.2L32.0 28.0L27.5 26.8L19.5 27.5ZM6.5 22.0L6.5 22.8L7.5 24.2L9.5 24.5L10.2 24.2L10.8 23.5L10.8 22.2L10.0 21.5L8.2 21.2L7.0 21.5ZM75.8 14.0L76.0 15.0L77.0 14.8L77.0 14.0Z" fill="#2a8bbe" fill-rule="evenodd"/><path d="M50.5 96.5L50.2 96.8L50.2 99.5L51.0 104.8L50.8 106.8L51.0 110.0L52.0 111.0L54.0 112.0L56.5 112.0L59.2 111.5L59.8 111.0L59.8 109.8L59.2 109.0L58.5 106.0L54.2 98.0L53.0 97.0ZM19.0 28.5L19.5 31.0L20.5 33.2L22.8 36.5L24.0 37.2L29.5 37.0L34.0 35.2L40.0 36.5L45.2 36.8L46.8 35.2L46.8 34.2L46.2 33.8L42.5 32.5L40.5 31.0L37.2 29.5L34.0 28.5L26.8 27.0L20.0 27.8ZM8.0 22.5L8.0 23.5L8.5 23.8L9.5 23.8L10.0 23.2L9.5 22.2ZM76.0 14.2L76.0 14.8L76.8 14.8L76.8 14.2Z" fill="#1373b2" fill-rule="evenodd"/><path d="M50.8 97.0L50.5 98.8L51.2 102.5L51.2 109.8L52.2 110.8L54.5 111.8L59.0 111.0L59.2 109.8L58.0 105.8L54.2 98.8L53.2 97.5ZM19.5 28.5L19.8 30.8L20.8 33.0L23.8 36.8L29.5 36.5L33.5 35.0L35.8 35.0L39.2 36.0L44.8 36.5L46.0 35.5L46.2 34.8L45.5 33.8L44.5 33.2L42.2 32.8L40.5 31.5L36.8 29.8L33.5 28.8L30.0 28.2L27.8 27.5L20.8 28.0Z" fill="#085a9d" fill-rule="evenodd"/><path d="M51.5 97.8L51.2 98.5L52.0 101.0L54.2 103.0L55.0 104.5L54.8 106.0L54.2 106.8L53.8 107.0L52.8 106.5L52.0 106.8L51.8 109.8L54.2 111.0L58.2 110.5L58.5 109.8L58.0 107.5L56.8 104.8L55.8 103.5L53.5 98.8L52.8 98.0ZM24.0 35.2L24.5 35.8L25.2 35.5L25.2 35.2ZM39.2 34.8L39.8 35.2L42.5 36.0L44.5 36.0L45.2 35.2L45.2 34.5L44.5 33.8L43.0 33.2L41.2 33.2ZM20.0 29.0L21.0 32.2L22.5 33.5L25.8 33.5L30.2 35.2L31.5 35.2L33.5 34.5L37.8 34.5L38.0 34.2L37.5 33.2L37.8 32.2L37.5 31.0L34.5 29.5L30.8 29.0L27.0 28.0L23.8 28.5L21.0 28.5Z" fill="#084081" fill-rule="evenodd"/><path d="M99.2 113.5L100.2 114.5L100.8 115.8L100.8 117.8L100.5 118.0L100.8 119.5L102.0 120.2L102.8 121.2L102.5 123.8L102.0 124.8L101.2 125.2L99.2 123.5L98.5 123.2L96.0 123.5L95.2 123.0L95.2 121.8L97.2 117.8L97.5 115.5L98.0 114.5L99.2 113.5M71.0 113.5L71.5 113.8L71.2 114.8L70.5 114.5L70.5 114.0L71.0 113.5M93.8 107.2L94.8 107.0L95.8 108.8L97.0 109.8L97.0 110.5L96.5 111.0L96.0 111.0L94.8 110.0L93.0 109.2L93.0 108.2L93.8 107.2M79.2 104.8L80.0 104.5L80.5 105.0L80.8 106.5L83.0 107.5L83.0 108.0L82.2 108.8L81.2 108.8L80.8 108.2L80.2 107.0L79.0 105.5L79.2 104.8M89.0 102.5L89.8 102.8L90.5 103.5L90.5 104.2L89.2 106.0L88.5 106.0L87.2 105.0L86.8 104.0L87.5 103.2L89.0 102.5M83.5 102.5L83.8 102.2L85.2 102.2L86.8 103.8L85.5 104.5L84.0 104.5L83.5 104.0L83.5 102.5M79.5 101.5L82.0 101.0L83.0 101.8L83.0 102.2L81.2 103.2L80.8 103.2L79.8 102.2L79.5 101.5M76.8 101.0L77.2 101.5L77.5 103.8L76.8 104.2L76.0 104.2L75.2 103.5L75.2 102.5L76.8 101.0M73.5 100.5L74.2 101.0L74.5 101.8L73.5 102.8L73.8 105.0L72.5 106.5L73.2 107.0L77.2 106.8L78.5 107.8L79.0 108.8L79.0 109.2L78.2 110.0L77.0 110.2L76.0 111.5L74.2 112.2L73.2 112.2L72.8 111.0L71.5 111.0L70.8 110.2L70.0 108.5L70.0 107.0L70.5 106.5L71.5 106.2L71.5 105.2L70.5 103.5L70.5 103.0L71.0 102.2L71.8 102.0L73.5 100.5M89.0 95.2L90.0 96.0L91.2 98.2L90.8 99.0L89.5 99.5L88.5 99.2L87.8 98.2L88.2 96.2L89.0 95.2M75.5 94.5L77.8 96.2L78.0 97.2L77.0 98.2L74.0 99.0L73.5 98.0L74.5 96.5L74.8 95.0L75.5 94.5M81.5 93.5L82.5 93.8L82.2 95.5L83.5 97.2L84.5 97.2L85.0 96.8L85.0 95.8L85.5 95.2L86.2 95.2L86.8 95.8L86.5 97.0L86.8 99.5L85.5 100.0L83.5 98.5L82.2 98.5L80.5 99.0L79.8 98.2L79.8 97.2L80.8 95.2L80.8 94.5L81.5 93.5M74.0 92.5L74.5 92.5L75.0 93.0L75.0 93.8L74.5 94.2L73.8 94.2L73.2 93.8L73.2 93.0L74.0 92.5M91.2 93.2L92.2 92.2L94.0 92.2L94.8 92.8L96.8 93.0L98.2 94.2L98.8 95.2L98.5 95.8L98.8 96.8L100.2 95.2L100.8 95.2L101.0 95.5L101.0 97.0L100.0 98.0L99.5 98.0L98.0 99.0L97.2 99.0L96.5 98.5L96.5 96.2L95.8 95.2L95.2 95.2L93.5 97.0L92.5 97.2L92.0 96.5L92.0 95.0L91.2 94.0L91.2 93.2M70.2 91.5L71.0 90.8L71.8 90.8L72.2 91.2L71.5 92.2L71.0 92.2L70.2 91.5M46.0 89.8L47.0 89.5L47.2 90.0L46.5 90.5L46.0 89.8M44.5 88.0L45.5 89.0L45.0 89.8L44.0 89.2L44.0 88.5L44.5 88.0M65.0 85.0L64.5 86.2L65.5 87.0L66.2 87.0L66.5 86.8L66.2 85.8L65.0 85.0M54.5 83.2L54.2 83.8L55.8 85.5L56.8 85.5L56.8 85.0L55.0 83.2L54.5 83.2M70.2 81.2L71.0 81.2L71.5 82.0L71.0 83.2L70.2 83.2L69.5 82.2L70.2 81.2M60.0 79.0L60.8 79.2L61.2 78.5L60.2 78.5L60.0 79.0M54.8 78.0L53.5 79.2L53.2 80.2L52.5 81.0L51.0 81.0L50.0 82.2L48.0 82.2L47.5 82.8L48.2 84.0L47.5 85.2L47.5 86.0L49.0 87.0L50.8 87.0L50.8 85.5L52.2 83.8L52.2 82.2L52.8 81.8L54.0 81.8L54.5 81.0L54.8 78.0M41.0 80.8L41.8 79.5L42.5 79.5L42.8 79.8L42.5 80.0L42.5 81.2L43.5 82.0L44.8 81.8L44.8 79.8L43.0 78.5L43.0 77.2L43.5 76.8L46.0 76.5L47.0 77.2L47.0 78.0L47.5 78.8L49.0 79.0L49.8 78.5L50.5 76.5L52.8 75.2L53.8 75.2L55.0 76.0L58.5 76.0L60.2 75.2L61.2 75.5L61.8 76.0L65.8 75.8L66.5 76.2L67.0 77.8L66.5 78.5L65.0 79.0L64.8 80.8L64.2 81.2L63.2 81.5L63.2 83.0L64.8 84.2L64.2 83.2L64.2 82.5L64.8 82.0L67.8 82.5L68.5 83.0L70.0 86.5L70.5 86.8L71.2 85.5L72.2 84.8L72.8 85.2L72.8 87.2L70.2 89.0L68.5 89.0L67.2 89.8L67.2 90.5L68.0 91.2L69.5 92.0L69.5 92.8L69.0 93.2L64.2 93.2L64.0 93.5L62.0 93.2L61.2 92.8L60.8 91.8L58.8 91.5L58.5 92.2L59.8 93.8L59.8 94.8L59.0 95.5L58.0 95.5L57.2 94.8L55.5 90.8L52.0 90.8L51.2 91.2L51.2 93.0L51.0 93.2L50.0 93.0L49.5 92.5L49.8 91.0L48.8 90.0L48.5 89.0L46.8 87.8L45.0 87.8L44.2 86.5L44.2 85.0L43.5 84.2L42.2 84.2L41.5 85.0L40.8 84.8L40.5 83.5L41.0 82.2L41.0 80.8M93.5 72.0L94.2 71.5L97.0 73.0L96.0 73.8L95.0 73.8L93.8 72.8L93.5 72.0M90.0 69.2L90.0 68.8L90.8 68.0L92.0 69.0L91.0 69.8L90.5 69.8L90.0 69.2M87.2 63.0L87.2 62.5L87.8 62.0L88.8 62.8L88.2 63.2L87.2 63.0M96.2 59.8L96.2 61.0M91.5 55.2L91.8 56.5L92.5 56.8L93.5 57.8L94.0 59.0L94.5 59.2L95.5 58.0L95.2 55.5L93.8 54.8L91.5 55.2M90.2 51.8L90.2 52.2L90.8 52.8L91.5 52.8L91.2 52.0L90.2 51.8M89.2 44.8L89.5 45.2L90.5 45.2L92.2 46.8L94.0 46.0L95.2 46.5L95.2 46.0L94.8 45.5L93.5 45.2L92.2 44.0L92.0 43.0L90.8 43.0L89.2 44.8M88.0 40.8L87.8 41.8L88.0 42.2L88.8 42.2L89.0 41.5L88.5 40.8L88.0 40.8M84.0 40.5L84.0 41.5L84.2 42.0L84.8 42.0L85.0 41.0L84.5 40.5L84.0 40.5M98.5 40.0L99.5 40.8L99.5 41.5L99.0 42.0L98.0 42.0L97.5 41.5L97.5 41.0L98.5 40.0M79.8 36.2L79.0 36.5L78.2 37.2L78.5 38.0L79.5 38.0L80.0 37.5L79.8 36.2M89.2 36.0L89.0 38.5L89.5 39.0L90.5 39.2L91.0 38.8L90.8 37.2L90.0 36.0L89.2 36.0M87.8 33.2L87.5 34.0L88.5 34.2L88.5 33.8L87.8 33.2M69.2 14.5L68.2 15.8L66.2 16.8L62.8 17.0L60.8 17.5L54.8 19.8M104.0 133.5L104.2 132.5M102.0 73.0L101.0 73.0L99.8 72.0L98.2 71.8L95.8 69.2L92.5 69.5L92.0 69.0L93.2 67.8L93.8 66.5L93.2 66.2L91.2 66.5L90.8 65.8L91.5 64.8L91.5 64.0L90.5 62.5L91.0 61.8L90.8 59.8L89.8 59.5L88.5 61.2L87.5 60.8L87.2 59.8L88.0 59.0L88.8 58.8L89.0 57.5L87.0 56.2L86.2 54.0L85.5 54.0L85.0 53.5L85.0 52.8L84.2 52.0L84.5 50.5L85.0 50.0L85.5 50.0L86.0 50.5L85.5 51.8L85.8 52.5L86.5 53.0L86.5 51.5L87.2 50.5L90.0 51.2L90.2 50.8L92.0 49.5L92.0 49.0L90.8 48.0L90.8 47.2L89.5 46.2L88.2 46.5L87.8 48.5L86.0 48.2L84.0 48.8L81.8 46.5L80.8 46.2L80.0 45.2L80.2 43.8L81.2 43.0L82.8 43.0L82.8 42.2L82.0 41.5L81.5 41.5L80.8 40.8L78.8 40.0L77.5 39.0L77.2 37.5L76.5 36.5L76.5 35.5L77.2 34.8L78.8 34.2L78.2 32.5L79.0 31.8L80.5 31.8L81.5 32.5L79.8 34.2L80.2 35.0L83.8 34.2L85.5 35.8L85.5 36.8L86.5 36.5L86.2 34.2L84.0 33.8L82.0 32.2L82.2 31.8L83.8 31.8L84.0 31.5M83.0 28.0L83.0 27.5M86.0 24.0L83.0 24.0L82.0 25.2L81.5 25.2L80.5 26.0L82.2 28.2L80.5 30.0L78.0 28.5L78.0 27.0L76.2 27.5L75.0 29.2L74.0 29.0L73.2 28.0L73.0 26.5L73.8 25.2L73.8 24.2L75.2 20.8L76.0 17.8L77.0 16.8L77.5 16.8L78.8 15.8L80.2 15.2L82.0 15.2M90.2 33.8L90.2 35.0L93.0 36.2L93.2 35.0M94.8 35.8L94.5 36.5L95.5 37.8L96.0 37.8L96.0 36.5L96.5 36.0M97.8 36.5L97.8 37.5L97.0 38.5L97.0 39.8L96.8 40.0L96.8 41.2L97.2 42.0L95.8 42.5L95.2 43.0L95.2 43.8L95.5 44.0L96.8 44.0L97.8 42.8L98.2 42.8L99.2 43.5L99.2 45.0L100.8 44.8M97.2 46.2L97.5 47.5L96.8 48.2L95.0 48.8L94.0 50.2L94.0 51.2L94.8 51.8L96.0 51.2L97.0 51.2L97.5 51.8L97.5 53.2" fill="none" stroke="#1a1a1a" stroke-opacity="0.85" stroke-width="0.33" stroke-linejoin="round"/><path d="M62.5 141.5L61.0 141.5M52.5 120.5L51.8 121.0M51.2 130.0L53.2 132.5L54.2 132.8L55.2 132.0L57.0 128.8L57.2 127.8L57.2 122.5L56.8 121.5L54.0 120.5L52.5 120.5M42.5 116.0L43.8 117.5M47.8 118.8L49.8 116.8L49.8 116.0L48.5 113.5L49.0 113.0L49.5 113.0L52.8 114.2L55.5 114.8L57.0 115.5L57.8 116.5L58.8 119.0L59.5 119.8L62.2 120.8L64.5 120.5L66.5 118.5L67.8 116.5L68.0 115.5L68.0 110.5L66.2 108.5L64.0 107.2L62.2 105.5L59.8 102.0L57.0 97.2L55.2 95.2L49.0 94.5M36.8 71.8L36.8 72.5L37.8 74.5L38.5 75.0L42.0 75.0L42.2 75.2L45.0 75.0L46.2 75.5L47.5 75.5L49.0 74.8L52.8 74.2L53.5 73.5L52.8 72.0L51.5 71.0L37.5 71.2L36.8 71.8M83.0 25.5L83.2 26.0M85.0 25.2L84.2 24.8L83.5 24.8L83.0 25.5M8.2 26.5L11.0 26.2L11.2 26.0L14.0 26.0L16.0 27.5L17.5 29.2M21.2 37.2L23.2 39.0L24.0 39.2M59.5 39.2L59.8 39.5L62.2 39.8L63.2 41.2L63.8 43.8L61.2 48.0L56.8 52.2L56.5 53.0L57.2 54.0L58.5 53.8L66.2 45.5L66.5 44.0L65.5 39.2L60.0 33.8L54.5 32.5L47.8 30.2L42.2 27.8L36.2 27.0L36.0 26.8L33.5 26.8L31.2 26.0L28.5 23.0L28.5 21.5L29.5 19.2L29.5 17.5L28.8 16.0M32.8 14.2L32.8 14.8L34.0 14.8L34.2 14.5L34.0 14.0L32.8 14.2M75.2 13.2L74.8 14.2L75.0 15.2L75.5 15.8L77.2 15.8L77.8 15.2L77.8 13.5L77.0 13.0L75.2 13.2M45.2 7.5L43.5 7.8L42.8 8.5L44.0 9.0L45.2 8.0L45.2 7.5M48.0 3.2L50.0 3.5L50.8 3.0" fill="none" stroke="#1a1a1a" stroke-opacity="0.85" stroke-width="0.33" stroke-linejoin="round"/><use href="#fringe"/></g><use href="#jeju"/></g>
<use href="#grid"/>
</g>
<rect x="0" y="0" width="104.9" height="142.2" fill="none" stroke="#4a4a4a" stroke-width="0.8"/>
<text x="10.2" y="149.60000000000002" font-size="5.4" text-anchor="middle" fill="#111">118°E</text>
<text x="31.2" y="149.60000000000002" font-size="5.4" text-anchor="middle" fill="#111">120°E</text>
<text x="52.2" y="149.60000000000002" font-size="5.4" text-anchor="middle" fill="#111">122°E</text>
<text x="73.2" y="149.60000000000002" font-size="5.4" text-anchor="middle" fill="#111">124°E</text>
<text x="94.2" y="149.60000000000002" font-size="5.4" text-anchor="middle" fill="#111">126°E</text>
<text x="-3.0" y="13.00" font-size="5.4" text-anchor="end" fill="#111">40°N</text>
<text x="-3.0" y="34.84" font-size="5.4" text-anchor="end" fill="#111">38°N</text>
<text x="-3.0" y="56.68" font-size="5.4" text-anchor="end" fill="#111">36°N</text>
<text x="-3.0" y="78.52" font-size="5.4" text-anchor="end" fill="#111">34°N</text>
<text x="-3.0" y="100.36" font-size="5.4" text-anchor="end" fill="#111">32°N</text>
<text x="-3.0" y="122.20" font-size="5.4" text-anchor="end" fill="#111">30°N</text>
<text x="52.6" y="-5.2" font-size="6.1" text-anchor="middle" fill="#111">(a) HYBRID</text>
<text x="5.6" y="11.4" font-size="6.3" font-weight="bold" fill="#000">Feb</text>
</g>
<g transform="translate(158.8,16.1)">
<g clip-path="url(#pc)">
<rect width="105.2" height="142.3" fill="#c0c0c0"/>
<g transform="translate(-0.3,-0.1)"><g clip-path="url(#sea)"><rect x="-1" y="-1" width="107.2" height="144.3" fill="#f7fcf0"/><path d="M65.0 85.0L64.5 86.2L65.5 87.0L66.2 87.0L66.5 86.8L66.2 85.8ZM54.5 83.2L54.2 83.8L55.8 85.5L56.8 85.5L56.8 85.0L55.0 83.2ZM60.0 79.0L60.8 79.2L61.2 78.5L60.2 78.5ZM54.8 78.0L53.5 79.2L53.2 80.2L52.5 81.0L51.0 81.0L50.0 82.2L48.0 82.2L47.5 82.8L48.2 84.0L47.5 85.2L47.5 86.0L49.0 87.0L50.8 87.0L50.8 85.5L52.2 83.8L52.2 82.2L52.8 81.8L54.0 81.8L54.5 81.0ZM98.0 58.8L97.0 58.8L96.2 59.8L96.8 63.8L97.0 63.8L97.0 62.2L97.8 60.5ZM91.5 55.2L91.8 56.5L92.5 56.8L93.5 57.8L94.0 59.0L94.5 59.2L95.5 58.0L95.2 55.5L93.8 54.8ZM90.2 51.8L90.8 52.8L91.5 52.8L91.2 52.0ZM97.2 46.2L97.5 47.5L96.8 48.2L95.0 48.8L94.0 50.2L94.0 51.2L94.8 51.8L97.0 51.2L97.5 51.8L97.5 53.2L99.0 54.0L99.5 49.8L100.5 47.5L100.0 47.0ZM89.2 44.8L89.5 45.2L90.5 45.2L92.2 46.8L94.0 46.0L95.2 46.5L94.8 45.5L93.5 45.2L92.2 44.0L92.0 43.0L90.8 43.0ZM88.0 40.8L87.8 41.8L88.0 42.2L88.8 42.2L89.0 41.5L88.5 40.8ZM84.0 40.5L84.0 41.5L84.2 42.0L84.8 42.0L85.0 41.0ZM79.8 36.2L78.2 37.2L78.5 38.0L79.5 38.0L80.0 37.5ZM89.2 36.0L89.0 38.5L90.5 39.2L91.0 38.8L90.8 37.2L90.0 36.0ZM87.8 33.2L87.5 34.0L88.5 34.2L88.5 33.8ZM90.8 32.2L90.2 33.8L90.5 35.2L93.0 36.2L93.2 35.0L94.2 34.8L94.8 35.8L94.5 36.5L95.5 37.8L96.0 37.8L96.0 36.5L96.5 36.0L97.2 36.0L97.8 36.5L97.8 37.5L97.0 38.5L96.8 41.2L97.2 42.0L95.2 43.0L95.5 44.0L96.8 44.0L97.8 42.8L98.2 42.8L99.2 43.5L99.2 45.0L100.8 44.8L102.0 46.2L104.0 45.0L104.0 43.8L101.0 36.8L97.0 34.5L92.8 33.2ZM98.5 40.0L99.5 40.8L99.5 41.5L99.0 42.0L98.0 42.0L97.5 41.5L97.5 41.0ZM87.8 16.2L88.5 19.0L88.2 16.8ZM6.8 21.2L5.5 24.2L5.5 25.8L6.5 28.5L9.5 30.5L12.5 30.8L17.0 31.8L19.8 33.2L20.5 36.0L20.0 37.8L20.0 39.5L21.5 41.5L25.2 42.5L26.8 42.5L30.5 41.0L35.5 36.8L38.5 37.0L40.0 36.5L42.0 36.5L48.0 38.5L55.0 39.2L57.5 40.5L58.2 42.0L57.8 43.2L57.0 43.8L53.2 44.8L49.5 44.8L46.8 45.8L44.0 47.2L43.0 47.2L41.0 46.5L39.2 46.8L37.2 48.2L33.0 52.5L31.8 55.2L29.8 58.0L26.0 61.8L22.8 64.2L22.0 66.2L22.0 67.5L24.5 70.0L27.2 72.0L33.0 74.8L35.5 77.2L38.2 82.8L38.8 84.5L41.2 89.0L44.0 92.5L45.8 93.5L48.2 96.2L49.0 98.2L48.5 100.2L47.2 100.5L38.2 97.0L36.2 97.0L31.8 97.8L31.8 99.0L32.2 100.0L37.2 100.0L40.5 101.8L43.5 102.8L48.0 105.2L47.8 107.0L48.8 109.2L47.5 111.2L42.5 114.0L34.2 115.5L34.2 116.8L34.8 118.0L40.8 118.2L44.0 118.8L49.5 121.2L50.2 122.5L50.5 123.5L47.5 129.0L47.5 130.2L48.0 131.5L47.5 134.2L43.2 139.8L43.2 141.2L43.8 143.0L104.8 143.0L105.0 142.0L106.0 141.2L106.0 134.8L104.5 133.8L104.5 133.0L105.5 132.0L106.0 132.0L106.0 74.2L103.5 72.5L101.0 73.0L99.8 72.0L98.8 72.0L95.8 69.2L92.5 69.5L92.0 69.0L93.2 67.8L93.8 66.5L93.2 66.2L91.2 66.5L90.8 65.8L91.5 64.8L91.5 64.0L90.5 62.5L91.0 61.8L90.8 59.8L89.8 59.5L88.5 61.2L87.5 60.8L87.2 59.8L88.8 58.8L89.0 57.5L87.0 56.2L86.2 54.0L85.5 54.0L85.0 53.5L85.0 52.8L84.2 52.0L84.5 50.5L85.5 50.0L86.0 50.5L85.5 51.8L85.8 52.5L86.5 53.0L86.5 51.5L87.2 50.5L90.0 51.2L92.0 49.5L92.0 49.0L90.8 48.0L90.8 47.2L89.5 46.2L88.2 46.5L87.8 48.5L86.0 48.2L84.0 48.8L81.8 46.5L80.8 46.2L80.0 45.2L80.2 43.8L81.2 43.0L82.8 43.0L82.8 42.2L80.8 40.8L78.0 39.5L77.2 38.5L77.2 37.5L76.5 36.5L76.5 35.5L77.2 34.8L78.8 34.2L78.2 32.5L79.0 31.8L80.5 31.8L81.5 32.5L79.8 34.2L80.2 35.0L83.8 34.2L85.5 35.8L85.5 36.8L86.5 36.5L86.2 34.2L84.0 33.8L82.0 32.2L82.2 31.8L84.0 31.5L84.2 29.8L84.0 29.0L83.0 28.0L83.0 27.5L84.0 26.8L85.0 26.8L85.8 26.2L86.0 24.0L83.0 24.0L82.0 25.2L80.5 26.0L82.2 28.2L80.5 30.0L78.0 28.5L78.0 27.0L76.2 27.5L75.0 29.2L73.5 28.5L73.0 27.0L73.2 25.8L73.8 25.2L74.2 22.8L76.0 18.5L76.0 17.8L77.0 16.8L80.2 15.2L82.0 15.2L84.0 14.8L86.2 15.0L85.0 14.2L76.8 11.5L75.2 11.5L72.8 12.8L67.5 13.5L61.2 15.0L57.5 16.8L59.2 16.8L61.8 15.5L64.2 15.2L67.5 14.2L69.0 14.2L69.2 14.8L67.0 16.5L62.8 17.0L59.2 18.0L55.8 19.5L50.5 20.2L45.2 23.0L44.2 23.0L44.0 22.2L45.0 20.8L47.2 18.5L50.0 17.0L50.8 15.5L50.8 14.5L49.5 12.8L51.0 10.2L53.2 8.5L55.0 6.2L54.5 3.0L53.2 1.5L52.2 0.8L48.0 0.5L44.8 1.5L39.5 5.0L34.0 10.0L32.0 11.2L28.2 12.5L24.8 14.2L17.5 21.5L15.2 21.8L12.8 20.5L10.2 20.0L8.5 20.0ZM98.8 115.2L99.2 115.2L100.0 116.0L100.2 120.2L101.5 120.8L102.2 121.8L102.2 122.8L101.5 123.8L100.8 123.8L99.8 122.8L96.5 123.0L95.8 122.5L95.8 121.5L97.2 119.0L97.8 116.5ZM93.0 108.2L94.2 107.0L94.8 107.0L95.2 107.5L95.5 108.8L96.8 109.8L96.8 110.2L95.8 110.5L94.8 109.8L93.5 109.5L93.0 109.0ZM80.8 107.2L81.0 107.0L82.2 107.2L82.8 108.0L81.8 108.8L80.8 108.0ZM79.5 104.8L80.0 104.8L80.5 105.5L80.0 106.5L79.2 105.8ZM88.5 102.8L89.5 102.8L90.5 103.8L90.2 104.8L89.0 106.0L87.8 105.5L87.0 104.2ZM83.5 103.0L84.8 102.2L85.8 102.5L86.5 103.8L84.5 104.5L83.8 104.0ZM76.8 101.5L77.2 102.2L77.2 103.8L76.0 104.2L75.2 102.8ZM79.8 101.8L80.2 101.2L82.2 101.2L82.8 102.2L80.8 103.2ZM73.8 100.5L74.2 101.0L74.2 102.0L73.5 102.8L73.8 105.0L73.0 106.0L73.0 106.8L74.2 107.0L77.2 106.8L78.2 107.5L79.0 109.0L78.2 110.0L77.0 110.2L75.8 111.8L75.0 112.0L73.2 113.8L72.8 115.0L71.2 116.5L70.5 116.8L69.8 115.8L69.8 113.0L70.2 111.2L69.5 109.0L69.5 107.0L71.2 105.8L71.2 105.0L70.2 103.0L71.0 102.0L72.0 101.8L73.2 100.5ZM89.0 95.2L90.0 96.0L91.0 98.0L91.0 98.5L90.0 99.2L88.8 99.2L88.0 98.8L88.0 97.0ZM81.5 93.5L82.0 93.2L82.5 93.8L82.2 95.5L83.8 97.5L85.0 97.0L85.0 95.8L85.5 95.2L86.2 95.2L86.8 95.8L86.2 97.5L86.8 99.2L86.2 99.8L85.2 99.8L83.2 98.2L81.8 98.8L80.5 98.8L80.0 98.2L79.8 97.5L80.5 96.0L80.8 94.5ZM74.2 92.2L74.8 92.2L75.5 93.0L75.2 94.2L78.0 96.8L78.0 97.2L77.2 98.0L74.8 99.0L74.0 99.0L73.5 98.5L73.5 97.8L74.5 96.2L74.8 94.8L73.0 93.8L73.0 93.0ZM91.2 93.0L92.5 92.0L93.8 92.0L95.0 92.8L97.0 93.0L98.5 94.8L98.2 96.0L98.5 97.0L99.2 97.0L100.2 95.8L100.8 96.0L100.8 97.0L100.0 97.8L98.8 98.0L98.2 98.8L97.0 98.8L96.5 98.2L96.5 96.0L96.0 95.2L95.0 95.2L93.8 96.8L92.5 97.0L92.0 96.0L92.0 95.0L91.2 94.0ZM71.2 90.5L72.2 91.0L72.2 91.8L71.8 92.2L70.8 92.2L70.2 91.8L70.2 91.2ZM46.0 89.8L47.0 89.5L47.2 90.0L46.5 90.5ZM70.2 81.2L71.0 81.2L71.5 82.0L71.0 83.2L70.2 83.2L69.5 82.2ZM41.0 80.8L41.8 79.5L42.5 79.5L42.8 79.8L42.5 81.2L43.5 82.0L44.5 82.0L44.8 79.8L43.0 78.5L43.0 77.8L43.5 77.2L46.5 77.0L47.5 78.8L49.0 79.0L49.8 78.5L50.2 76.8L51.5 75.5L52.8 75.0L53.5 75.0L55.2 76.0L58.5 76.0L60.2 75.2L61.8 76.0L65.8 75.8L66.5 76.2L67.0 77.8L66.5 78.5L65.0 79.0L64.8 80.8L63.2 81.5L63.2 83.0L64.8 84.2L64.2 83.2L64.2 82.5L64.8 82.0L67.8 82.5L68.8 83.2L69.0 84.5L70.2 86.5L71.0 86.2L71.8 84.8L72.5 84.8L72.8 87.2L70.5 89.0L68.5 89.0L67.2 89.8L67.2 90.5L68.0 91.2L69.8 92.0L69.2 93.2L68.8 93.5L68.0 93.2L63.2 93.5L61.5 93.0L60.8 91.8L58.8 91.5L58.5 92.2L59.8 93.8L59.8 94.8L59.0 95.5L58.2 95.5L57.2 94.5L55.5 90.8L52.0 90.8L50.8 91.8L50.2 91.8L48.8 90.0L48.0 88.5L45.2 87.2L45.0 86.5L45.8 85.2L45.2 84.5L43.0 83.8L40.8 83.5ZM93.5 72.0L94.2 71.5L97.0 73.0L96.0 73.8L95.0 73.8L93.8 72.8ZM90.8 68.0L92.0 69.0L91.0 69.8L90.0 69.2L90.0 68.8ZM87.8 62.0L88.8 62.8L88.2 63.2L87.2 63.0Z" fill="#e8f6e2" fill-rule="evenodd"/><path d="M106.0 137.0L104.2 137.5L104.0 138.5L106.0 138.8ZM106.0 122.5L105.8 122.8L106.0 124.8ZM90.2 115.2L89.2 116.8L89.0 117.8L89.2 119.0L90.2 120.2L91.2 120.8L92.5 120.8L93.8 119.8L94.2 118.0L93.2 116.5L91.2 115.2ZM82.8 110.0L83.2 111.5L84.5 111.2L84.8 110.5L83.8 109.8ZM80.0 109.2L79.0 111.0L79.2 112.0L80.0 111.8L80.5 110.2ZM86.0 105.2L86.5 107.2L85.8 107.8L85.0 107.8L85.0 108.5L85.8 109.2L88.0 109.5L88.8 108.5L89.0 107.2L87.2 106.2L86.5 105.2ZM77.2 105.2L77.0 106.0L78.0 106.2L78.0 105.5ZM78.5 102.5L78.5 103.2L79.5 103.5L79.5 103.0ZM82.8 99.8L82.8 100.2L83.8 101.2L86.5 101.8L86.2 100.8L83.8 99.5ZM99.5 99.2L98.2 100.8L98.2 102.0L99.0 103.8L100.2 103.8L100.8 103.5L101.5 102.0L101.8 100.5L100.5 99.2ZM31.8 99.0L32.2 100.0L38.5 100.2L40.0 99.5L41.2 98.2L38.2 97.0L36.2 97.0L31.8 97.8ZM95.0 96.5L94.0 97.2L93.5 98.0L93.5 98.8L92.8 99.5L91.2 99.5L89.8 100.2L89.8 101.2L90.2 102.0L92.2 102.2L93.2 103.5L93.2 104.0L92.5 104.8L90.8 105.0L90.2 105.8L90.2 107.0L91.5 108.2L92.2 108.2L94.0 106.5L95.0 106.0L96.5 108.0L98.0 108.8L97.5 107.5L97.8 104.2L96.8 101.5L95.2 100.8L95.5 100.0L95.2 98.2L95.8 97.0L95.5 96.5ZM69.2 94.8L69.8 95.2L70.8 95.2L72.0 94.5L71.2 93.8L70.2 93.8ZM65.0 94.0L65.5 95.5L66.5 95.5L67.8 94.8L67.2 94.0L66.5 93.8ZM85.5 93.5L84.8 93.5L83.0 95.0L83.0 95.5L84.0 96.0L84.2 95.0L85.5 94.0ZM59.5 92.2L59.5 92.8L60.5 93.2L60.2 92.5ZM44.2 90.8L44.2 91.5L44.8 92.2L46.8 92.8L47.5 93.8L47.2 95.2L48.2 96.2L49.0 98.2L48.5 100.2L47.5 100.5L47.5 103.0L46.8 104.5L48.0 105.2L47.8 107.0L48.8 109.2L47.5 111.2L42.5 114.0L34.2 115.5L34.2 116.8L34.8 118.0L37.2 118.0L37.5 118.2L38.8 118.2L40.0 117.0L41.5 117.5L44.5 117.0L47.2 120.2L49.5 121.2L50.2 122.5L50.5 123.5L47.5 129.0L47.5 130.2L48.0 131.5L47.5 134.2L43.2 139.8L43.2 140.2L44.8 141.2L45.2 143.0L70.8 143.0L70.5 141.0L69.5 139.5L69.8 137.5L70.5 136.8L73.2 136.8L75.8 135.5L77.8 135.5L80.2 132.8L80.8 132.8L81.5 133.5L81.5 134.2L78.5 136.5L78.5 137.2L80.8 139.5L80.5 143.0L103.0 143.0L103.0 141.8L102.5 140.5L101.8 139.8L99.5 139.0L97.8 137.5L97.0 136.0L96.5 133.8L95.8 132.5L94.8 131.8L92.0 131.0L91.0 130.0L90.2 130.2L89.0 132.8L88.0 133.2L86.8 133.2L85.5 132.8L84.8 131.5L84.8 128.5L84.5 128.2L80.2 129.5L78.8 128.0L77.0 127.8L75.8 128.8L74.2 130.8L72.5 131.0L70.0 133.0L69.2 133.0L68.2 131.8L68.2 130.8L69.2 129.8L70.8 129.2L71.5 128.5L71.8 127.0L71.0 123.5L68.2 122.0L67.2 120.8L67.5 119.5L68.8 117.0L69.0 111.2L67.8 108.8L65.0 106.8L63.0 104.5L60.8 100.0L61.2 99.2L63.5 99.0L64.2 98.2L64.5 97.2L64.0 96.8L61.5 96.5L58.8 96.8L57.0 95.2L56.5 94.0L55.5 93.2L55.2 91.8L52.0 91.5L51.2 92.8L49.8 92.8L48.5 91.0L46.0 91.2L45.0 90.5ZM50.2 115.5L51.0 115.2L51.8 116.0L51.8 116.5L51.0 117.0ZM68.2 90.2L69.0 90.5L69.5 90.0L68.5 89.8ZM42.2 84.2L41.0 85.0L40.5 87.8L42.0 90.0L43.2 90.0L45.0 88.2L44.8 85.0L43.5 84.2ZM50.5 83.2L50.0 84.0L50.8 84.5L51.2 83.8ZM93.0 67.0L92.2 66.8L91.5 67.5L92.5 67.8ZM98.0 59.2L97.0 59.5L96.8 60.0L97.0 61.0L97.5 61.0ZM92.5 55.5L92.2 56.2L93.0 56.5L94.2 58.2L94.8 58.2L95.2 57.2L95.0 55.8L94.2 55.2ZM99.8 47.5L97.2 48.5L96.2 49.5L96.8 50.2L98.8 50.8L99.2 51.2L98.2 53.2L99.0 53.2L99.5 49.8L100.2 48.5ZM89.0 46.8L88.5 47.0L88.8 48.0L88.5 50.0L89.5 50.5L91.0 49.5L90.2 48.5L90.0 47.2ZM90.8 43.8L90.5 44.5L91.2 44.8L92.2 46.0L92.8 46.0L92.8 45.2L92.0 45.0L91.2 43.8ZM79.5 41.2L80.0 42.5L81.8 42.2L80.2 41.0ZM100.0 36.2L100.0 36.8L99.2 37.2L100.2 38.0L100.2 39.8L101.5 41.2L101.5 42.0L101.2 42.2L100.2 42.0L100.0 42.8L100.2 43.0L102.5 42.8L103.5 43.8L103.2 44.5L101.8 44.0L101.8 45.0L102.5 46.0L104.0 45.0L104.0 43.8L101.2 37.0ZM97.2 34.8L96.2 34.5L95.5 34.8L95.2 35.2L96.2 35.5ZM91.2 33.8L91.0 34.5L92.2 35.2L92.5 34.2ZM77.0 30.8L76.0 32.2L76.0 33.2L76.8 33.8L77.8 33.8L77.8 32.5L78.5 31.0ZM83.5 29.5L82.2 29.2L80.8 31.0L81.5 31.2L82.2 30.8L83.5 30.8ZM82.0 26.5L82.5 26.8L84.8 26.5L85.5 26.0L85.5 24.8L84.8 24.2L83.2 24.2L82.0 25.8ZM74.2 15.2L75.2 16.2L77.2 16.2L78.0 15.8L78.5 13.8L79.0 13.2L82.8 13.5L76.8 11.5L75.2 11.5L74.2 12.0L74.5 12.5ZM6.5 21.5L5.5 24.2L5.5 25.8L6.5 28.5L7.2 28.0L12.0 27.8L14.2 30.5L14.5 31.2L17.0 31.8L19.8 33.2L20.5 36.0L20.0 37.8L20.0 39.5L21.5 41.5L24.8 42.2L24.8 41.2L26.5 40.5L28.8 40.5L30.5 41.0L35.5 36.8L38.5 37.0L40.0 36.5L42.0 36.5L48.0 38.5L55.0 39.2L57.8 40.8L58.2 42.0L57.8 43.0L58.8 42.8L59.5 43.5L59.8 45.2L59.0 48.0L57.8 49.8L55.8 50.8L54.8 50.8L54.5 50.0L57.0 47.5L56.8 44.5L57.2 43.5L53.2 44.8L49.5 44.8L48.0 46.2L47.0 46.5L46.2 46.0L44.0 47.2L39.8 46.5L37.0 48.5L41.2 53.8L41.2 55.0L40.0 56.8L39.5 58.2L39.8 59.2L41.5 61.8L41.5 62.5L41.0 63.2L39.0 64.2L37.5 65.5L36.0 65.8L34.8 64.8L35.2 59.0L34.8 58.2L32.8 57.5L32.0 57.5L31.0 58.2L30.0 60.5L29.2 61.2L28.5 60.8L28.0 59.8L22.8 64.2L22.0 66.2L22.0 67.5L25.2 70.5L25.8 69.2L25.8 68.0L25.2 66.8L25.5 64.8L27.8 62.2L28.8 61.5L29.2 61.8L32.5 66.5L32.8 68.5L31.2 69.5L30.5 70.5L29.8 73.2L33.0 74.8L35.5 77.2L38.0 82.5L39.0 79.2L40.0 77.8L41.8 78.2L42.8 76.8L47.0 76.5L48.5 78.0L49.0 77.2L49.0 76.0L49.5 75.5L55.0 73.5L59.2 74.5L61.5 74.2L62.5 73.8L65.5 73.8L66.8 73.2L70.0 69.2L72.0 68.2L72.8 69.0L72.8 70.0L70.5 73.8L70.2 75.5L69.8 76.0L68.0 75.8L67.5 76.2L67.8 78.0L66.8 79.2L65.5 79.8L65.2 81.2L67.0 82.0L68.8 82.0L70.8 80.0L71.8 79.8L72.8 81.2L72.8 82.5L73.5 82.2L74.5 83.2L75.2 87.8L74.8 90.0L76.5 90.8L78.5 92.5L78.8 94.2L78.2 95.2L79.0 96.5L79.8 96.0L80.2 92.0L82.2 90.8L84.8 91.0L85.5 90.0L85.8 88.0L86.8 86.8L92.0 88.0L93.0 87.5L93.8 85.0L94.5 84.2L96.5 84.8L99.5 84.8L100.5 85.8L101.2 87.2L102.5 88.2L106.0 88.5L106.0 80.2L105.5 79.8L105.5 78.8L106.0 78.2L106.0 74.2L104.0 73.0L101.0 73.5L99.2 72.8L98.2 74.2L95.5 75.0L94.2 74.5L92.2 72.5L92.5 71.8L93.5 70.8L94.5 70.8L95.2 71.5L96.0 71.5L96.2 70.8L95.5 69.8L93.5 70.2L91.8 70.0L90.8 70.5L89.2 69.2L90.2 67.2L90.2 65.5L90.8 64.0L89.8 64.0L89.0 65.5L88.0 66.2L87.2 66.2L86.5 65.5L86.8 64.2L86.5 62.5L87.2 61.5L86.8 59.5L87.8 58.5L88.0 57.8L86.5 56.8L86.2 55.5L85.8 55.0L85.0 55.0L83.8 53.2L82.5 53.2L82.0 52.8L82.0 52.2L83.8 51.0L84.0 50.0L81.2 47.2L80.2 48.0L79.5 49.2L78.0 48.2L77.5 47.0L78.5 45.0L78.2 41.0L76.8 40.5L76.0 39.8L75.2 38.0L74.8 34.5L72.0 29.8L70.8 28.8L68.8 28.2L68.0 27.5L68.2 25.5L69.0 24.8L71.2 24.0L72.2 22.5L73.5 19.0L73.5 17.5L73.0 16.5L70.8 16.2L66.5 18.2L63.0 18.5L59.2 20.2L55.5 20.8L53.2 21.5L50.5 23.2L48.0 24.2L46.0 24.5L44.5 24.0L43.8 23.2L43.5 21.8L47.2 18.5L50.0 17.0L50.8 15.5L50.8 14.5L49.5 12.8L51.0 10.5L51.0 9.5L52.5 7.8L54.5 7.0L55.0 6.2L54.5 3.0L52.2 0.8L48.0 0.5L44.8 1.5L37.2 6.8L36.2 7.8L36.5 9.0L35.5 10.2L34.2 10.8L32.5 10.8L31.0 11.8L29.8 12.0L29.5 14.2L28.8 14.8L26.2 15.0L24.2 14.8L17.5 21.5L15.2 21.8L12.8 20.5L10.2 20.0L8.5 20.0ZM104.5 82.0L104.0 83.2L102.8 84.0L101.5 84.0L101.0 83.5L101.0 83.0L102.5 81.8L103.8 81.5ZM78.2 64.2L79.5 64.2L80.0 64.8L80.0 66.8L79.2 68.8L79.2 72.2L78.8 73.2L79.0 74.5L80.0 75.0L81.5 74.8L81.8 70.5L82.5 69.0L84.0 67.5L85.2 67.5L86.0 68.2L86.0 70.2L85.5 71.5L85.8 72.8L88.8 76.8L90.5 80.0L90.5 81.0L88.0 83.0L86.5 84.8L86.0 84.8L83.0 81.0L80.2 80.8L78.8 80.0L77.5 78.5L77.2 75.0L75.8 72.8L75.8 69.5L75.2 68.8L75.0 67.2L77.2 64.8ZM47.0 61.8L47.8 62.5L47.8 63.8L46.2 65.8L45.2 66.2L43.2 66.2L42.2 65.5L42.8 63.5L44.2 62.0L45.2 61.5ZM83.0 61.2L83.8 62.0L83.8 62.8L82.8 63.8L81.5 63.8L81.0 63.2L81.2 62.5L82.2 61.5ZM84.2 55.8L84.8 55.8L85.8 57.0L85.8 57.8L85.0 58.5L84.0 58.2L83.2 57.5L83.5 56.2ZM73.2 54.8L74.0 54.8L74.5 55.2L74.0 56.2L73.2 56.2L72.8 55.8ZM53.0 53.0L55.2 56.2L55.2 58.0L56.2 60.0L56.2 61.0L55.5 62.5L54.0 63.8L53.2 63.8L52.0 62.5L50.5 59.5L50.5 57.8L51.2 56.5L52.0 54.0ZM47.8 15.2L48.2 14.5L49.8 14.8L49.0 15.8L48.2 15.8Z" fill="#daf0d4" fill-rule="evenodd"/><path d="M50.2 122.8L50.5 123.5L49.5 125.8L53.0 128.5L53.2 129.8L52.0 134.2L51.2 135.0L49.8 135.2L47.5 134.0L46.2 136.0L47.0 137.5L47.0 143.0L65.8 143.0L65.2 141.0L65.5 138.8L65.2 134.8L65.8 133.2L65.8 129.8L66.2 128.5L68.2 126.5L68.2 125.8L66.8 124.8L63.0 125.0L59.8 123.5L58.8 123.5L56.8 125.5L56.0 125.5L55.0 124.5L53.8 121.8L52.0 121.8ZM53.5 136.2L54.8 137.0L54.2 137.8L53.8 137.8L53.0 137.0ZM93.5 105.2L91.8 105.5L91.2 106.0L91.2 106.8L91.8 107.2L92.5 107.2L93.8 106.0ZM90.8 100.8L91.2 101.2L93.0 101.5L94.2 103.8L95.2 103.8L96.0 103.2L95.5 102.2L94.0 101.5L93.8 100.5L91.2 100.2ZM47.5 91.5L47.2 92.0L48.2 93.0L48.0 96.0L49.0 98.2L49.0 99.0L48.2 100.5L48.2 103.2L47.8 104.5L48.0 105.2L47.8 107.0L48.8 109.2L47.5 111.2L42.5 114.0L39.2 114.5L39.5 115.5L41.2 116.8L44.5 116.5L46.8 119.0L49.0 119.0L50.0 118.5L50.2 118.0L50.2 117.0L49.5 115.2L49.5 114.2L50.0 113.8L55.8 115.8L56.5 116.8L57.0 120.2L57.5 121.0L59.5 121.8L64.0 122.2L66.8 119.2L68.2 116.5L68.5 112.0L67.8 110.0L63.2 106.0L60.0 101.0L58.8 98.2L56.0 94.5L53.8 94.0L52.8 92.2L52.0 93.2L51.2 93.5L48.5 92.8L48.2 92.0ZM44.0 84.8L42.8 84.5L41.5 85.0L41.2 85.5L41.5 89.0L43.5 89.2L44.5 88.2L44.5 85.2ZM68.0 79.8L66.2 80.0L65.8 81.0L66.5 81.5L67.8 81.2L68.2 80.8ZM68.5 76.8L68.5 78.0L69.0 78.8L69.8 78.2L69.8 77.5L69.0 76.8ZM89.8 71.2L90.2 73.2L91.2 73.8L90.8 72.0ZM33.8 67.8L34.2 71.2L36.0 76.2L37.0 76.8L46.5 76.2L48.0 75.8L48.8 75.0L54.0 73.2L54.2 72.8L54.2 71.5L52.8 67.8L51.0 66.8L46.2 66.8L46.0 67.0L34.8 66.8ZM89.5 65.8L88.8 66.5L88.8 67.0L89.5 66.8L89.8 66.0ZM85.0 59.8L85.2 61.2L85.8 61.8L86.5 61.8L86.8 61.5L86.5 60.5L85.8 59.8ZM93.2 55.8L94.5 57.2L94.8 56.2L94.2 55.8ZM97.5 49.0L97.2 49.8L98.5 50.2L98.8 49.2ZM81.2 48.5L81.0 49.5L82.0 51.0L83.0 51.0L83.2 50.0L81.8 48.5ZM89.2 47.8L89.5 48.5L89.2 49.8L89.5 49.8L89.8 49.0L89.5 47.8ZM74.5 42.2L73.0 42.0L71.2 43.0L70.0 45.2L70.0 46.0L71.0 47.2L72.8 47.8L73.5 47.5L74.5 46.5L75.8 44.0L75.8 43.2ZM66.0 31.0L65.5 32.0L65.5 33.8L66.2 34.5L67.5 35.0L68.8 36.2L69.2 39.2L70.2 40.0L71.5 40.0L72.5 39.0L72.8 38.2L72.8 36.0L71.0 32.2L69.8 31.0L69.0 30.8ZM82.8 25.2L82.8 26.2L85.2 26.0L85.2 25.0L84.5 24.5L83.5 24.5ZM66.2 21.8L65.8 21.0L64.0 20.5L61.0 22.8L59.0 23.5L57.5 23.2L54.2 23.5L53.2 24.2L52.8 25.8L53.2 26.5L54.2 26.5L56.0 25.0L57.8 24.8L58.5 25.2L60.5 28.0L62.2 28.8L64.8 28.8L65.8 27.0ZM75.5 12.8L74.8 13.5L74.8 15.5L75.5 16.0L77.2 16.0L78.0 15.2L77.8 13.0ZM6.5 21.5L5.5 24.2L5.8 26.5L7.8 27.2L9.8 27.2L13.0 26.5L15.0 27.8L16.2 29.0L17.2 32.0L20.0 33.5L20.5 36.0L20.2 36.8L21.0 38.0L23.0 39.5L31.8 40.0L35.5 36.8L38.5 37.0L40.0 36.5L42.0 36.5L48.0 38.5L55.0 39.2L56.8 40.2L60.0 40.0L61.5 42.0L61.5 43.8L60.8 47.0L58.2 50.2L55.0 51.8L54.0 53.0L54.2 53.8L55.5 55.5L58.2 55.2L58.8 56.8L60.0 58.0L62.0 59.0L66.5 59.2L67.5 59.0L68.2 58.2L69.0 55.2L69.0 52.8L68.2 51.8L66.2 51.8L63.8 53.5L62.8 53.8L60.8 53.5L61.8 51.2L65.0 47.5L67.0 47.2L68.0 46.8L68.5 46.0L68.2 44.5L65.8 41.5L64.0 38.0L63.5 35.0L62.2 33.8L59.8 32.5L56.0 32.2L52.0 31.0L43.8 26.5L40.8 26.0L38.8 25.0L33.8 25.2L32.5 24.8L31.8 23.8L31.5 22.8L31.8 21.2L34.8 22.2L38.5 22.0L41.2 19.0L43.8 17.5L45.2 16.0L47.8 12.8L49.0 10.5L49.0 9.0L48.0 7.0L49.0 6.0L49.5 4.5L51.0 3.5L51.2 1.8L50.5 0.8L48.0 0.5L47.2 1.0L45.5 4.5L45.5 5.5L46.0 6.5L45.5 7.2L40.8 7.8L33.5 12.8L32.5 13.8L31.8 16.2L31.0 17.5L27.5 15.8L22.8 16.0L17.5 21.5L15.2 21.8L12.8 20.5L10.2 20.0L8.5 20.0Z" fill="#ccebc5" fill-rule="evenodd"/><path d="M60.0 142.5L60.0 143.0L63.2 143.0L63.2 142.2L62.5 141.5L61.0 141.5ZM48.8 93.5L48.5 94.0L48.5 97.2L49.0 98.2L48.5 100.0L48.8 103.5L47.8 106.2L47.8 107.0L48.8 109.2L48.0 110.8L47.2 111.2L47.0 112.2L45.5 112.2L42.5 114.0L39.8 114.5L39.8 115.2L41.2 116.5L44.8 116.2L46.5 118.5L48.8 118.8L49.8 118.2L50.0 117.8L49.0 114.2L49.0 113.2L49.8 113.0L56.2 115.2L57.5 117.2L58.0 119.2L58.8 120.0L62.2 121.2L63.8 121.2L66.0 119.2L67.8 116.5L68.0 114.0L67.8 111.0L65.8 108.8L62.8 106.2L59.2 100.8L58.2 98.5L55.5 94.8L53.8 94.5L53.0 94.0L51.5 94.0L50.5 93.5ZM42.2 85.0L41.8 85.5L41.8 88.5L43.5 88.8L44.2 88.0L44.2 85.8L43.8 85.0ZM34.2 67.8L34.8 71.5L36.0 75.2L36.8 76.0L46.0 76.0L47.2 75.8L49.0 74.5L52.8 73.5L53.8 72.8L53.2 70.2L51.8 67.5L50.8 67.2L44.0 67.5L43.8 67.2L38.0 67.0L37.8 67.2L34.8 67.2ZM83.0 25.5L83.2 26.0L85.0 25.8L85.0 25.2L84.2 24.8L83.5 24.8ZM6.5 21.5L5.5 24.2L5.5 25.8L8.2 27.0L9.2 27.0L12.5 26.0L13.8 26.0L15.0 26.8L17.0 29.2L17.8 32.0L20.0 33.5L20.2 35.8L20.8 36.8L22.2 38.5L24.0 39.2L31.8 39.2L33.0 39.0L35.5 36.8L38.5 37.0L40.0 36.5L42.0 36.5L49.2 38.8L53.2 39.0L56.2 39.8L60.2 39.5L61.2 40.5L62.0 42.2L61.5 46.0L60.8 47.8L58.5 50.5L54.5 52.8L54.5 53.5L55.5 55.0L56.8 55.0L59.8 53.5L61.2 51.2L63.0 49.5L65.5 45.5L65.5 43.5L64.2 39.5L62.2 35.8L60.8 34.0L59.0 33.2L56.8 33.0L51.0 31.2L42.5 27.2L38.0 26.2L33.5 26.0L32.0 25.5L29.0 22.5L29.5 18.5L28.0 16.8L23.5 16.8L23.2 16.5L22.2 16.8L17.5 21.5L15.2 21.8L12.8 20.5L10.2 20.0L8.5 20.0ZM75.2 13.2L74.8 14.2L75.0 15.2L75.5 15.8L77.2 15.8L77.8 15.2L77.8 13.5L77.0 13.0ZM48.0 9.5L47.0 8.8L42.0 8.5L36.0 11.8L34.2 13.5L33.0 15.5L32.0 18.0L32.2 19.5L34.2 21.2L38.2 21.0L41.0 18.2L43.0 17.0L46.2 13.8L48.0 10.8ZM47.8 1.5L47.8 3.0L48.2 3.5L50.0 3.5L50.8 3.0L50.8 1.5L50.2 1.0L48.8 0.8Z" fill="#b4e2ba" fill-rule="evenodd"/><path d="M40.0 114.5L40.2 115.5L41.2 116.2L44.8 116.0L47.0 118.5L48.8 118.5L49.8 117.8L49.0 114.5L48.2 113.0L45.2 112.5L42.5 114.0ZM49.0 94.0L48.8 98.0L49.0 98.2L49.2 103.8L48.0 107.2L48.8 109.2L47.8 111.2L49.8 112.5L55.5 114.2L57.5 115.8L59.0 119.2L62.0 120.2L64.0 120.0L66.2 118.0L67.2 116.2L67.2 111.2L65.8 109.5L64.0 108.5L62.5 107.0L57.5 98.2L55.2 95.0L51.2 94.2L50.2 93.8ZM42.5 85.5L42.2 88.0L43.5 88.2L44.0 87.5L43.8 85.8ZM34.5 68.2L34.8 70.2L36.5 75.2L37.2 75.8L46.8 75.5L49.2 74.0L52.2 73.2L53.2 72.5L52.2 69.0L51.0 67.8L35.2 67.5ZM83.5 25.2L83.5 25.8L84.5 25.8L84.5 25.2ZM5.5 24.2L5.5 25.2L6.0 25.8L8.2 26.8L13.0 25.8L14.2 25.2L14.5 24.8L13.8 21.2L12.8 20.5L10.2 20.0L8.5 20.0L6.8 21.2ZM16.5 21.5L17.2 22.0L19.0 22.0L21.2 21.2L22.8 21.2L23.5 21.8L23.8 23.2L23.0 24.2L16.8 24.5L15.5 25.2L15.5 26.0L17.2 29.0L18.2 32.5L20.0 33.5L20.2 35.5L22.5 38.2L23.5 38.8L26.0 39.0L26.2 38.8L30.5 38.8L34.2 37.8L35.5 36.8L38.5 37.0L40.0 36.5L42.0 36.5L48.0 38.5L51.0 39.0L53.5 39.0L53.8 39.2L60.2 39.0L61.5 40.2L62.2 41.8L61.8 46.5L61.0 48.0L58.5 51.0L55.0 52.8L55.0 53.8L56.0 54.8L59.0 53.5L63.0 48.8L64.8 46.0L65.2 44.5L64.2 40.5L61.5 35.8L60.0 34.2L55.8 33.2L49.8 31.2L42.0 28.0L41.0 28.0L36.8 26.8L32.5 26.2L30.2 25.0L28.2 23.2L27.8 22.2L28.0 19.5L24.2 17.5L21.5 17.5L17.5 21.5ZM75.2 13.5L75.0 15.0L75.5 15.5L76.8 15.8L77.5 15.2L77.8 14.8L77.5 13.5L77.0 13.2ZM47.2 10.0L46.8 9.5L41.8 9.5L38.2 11.2L35.8 13.0L34.8 14.2L33.0 17.8L33.0 19.0L34.5 19.8L35.5 18.2L36.2 17.8L39.0 18.2L43.2 15.8L45.5 13.5ZM48.2 1.2L48.0 1.8L48.2 3.0L50.0 3.2L50.5 2.8L50.2 1.2L49.5 1.0Z" fill="#99d7ba" fill-rule="evenodd"/><path d="M40.2 114.5L40.5 115.5L41.8 116.2L44.0 115.8L45.0 116.0L47.0 118.2L49.0 118.2L49.5 117.8L48.5 113.8L47.5 113.0L44.8 112.8L42.5 114.0ZM49.5 94.2L49.0 95.0L49.0 97.0L49.2 97.2L49.8 105.2L49.5 106.5L48.5 108.2L48.8 109.2L48.2 110.5L50.0 111.8L57.0 114.5L58.5 115.8L59.8 118.0L60.2 118.0L60.5 117.2L61.5 116.2L62.5 116.2L64.2 117.5L65.2 117.5L66.2 116.2L66.2 111.5L65.2 110.2L63.5 110.0L62.2 108.8L60.8 104.8L55.5 96.0L54.0 95.0L52.0 94.8L50.0 94.0ZM35.0 68.2L35.0 70.0L36.5 74.8L37.5 75.5L46.2 75.2L48.2 73.8L51.8 72.5L52.2 72.0L51.2 68.8L50.2 68.2L41.8 68.0L41.5 67.8L36.0 67.8ZM60.0 51.0L56.2 52.5L55.5 53.2L55.8 54.0L56.8 54.0L58.5 53.2L59.5 52.2ZM16.8 26.2L16.8 27.5L18.5 32.5L20.0 33.5L20.2 35.0L21.8 37.0L23.8 38.5L29.5 38.5L34.5 36.8L38.5 37.0L40.0 36.5L42.0 36.5L47.2 38.2L51.0 38.8L58.2 39.0L60.5 38.5L61.5 39.5L62.8 42.0L62.2 46.5L61.5 48.8L63.0 47.8L64.8 45.0L63.5 39.8L61.0 36.0L59.0 34.5L55.5 33.8L48.8 31.5L47.2 31.2L43.2 31.5L42.5 30.5L42.5 29.8L41.2 28.8L40.5 28.8L36.8 27.2L32.0 26.5L27.5 24.0L26.5 24.0L24.2 25.2L18.2 25.5ZM46.5 31.5L47.8 31.8L49.2 33.2L49.2 34.5L48.5 35.2L47.5 35.2L46.5 34.2L46.2 33.5ZM5.5 24.2L5.8 25.2L8.5 26.5L12.5 25.5L13.5 24.8L13.0 21.0L12.8 20.5L8.5 20.0L6.5 21.5ZM75.5 13.5L75.2 15.0L75.8 15.5L77.0 15.5L77.5 15.0L77.5 13.8ZM48.2 1.8L48.2 2.5L48.8 3.0L50.2 2.8L50.2 1.8L49.8 1.2L49.0 1.2Z" fill="#7accc4" fill-rule="evenodd"/><path d="M40.5 114.2L40.8 115.5L41.5 116.0L45.0 115.8L47.2 118.2L48.2 118.2L49.2 117.8L48.5 114.2L47.5 113.2L44.8 112.8L42.5 114.0ZM49.8 94.5L49.2 95.2L50.5 107.2L50.5 109.8L51.0 110.8L55.0 113.2L57.5 114.2L59.0 114.2L62.5 113.0L63.0 112.5L63.0 111.8L61.2 108.8L60.5 105.5L55.0 96.0L53.0 95.0ZM35.2 68.8L35.8 71.8L36.8 74.5L37.2 75.0L41.0 75.0L41.2 74.8L43.0 75.0L46.0 74.2L46.8 73.2L47.0 69.2L46.0 68.5L45.0 68.2L35.8 68.2ZM17.2 26.8L17.2 28.0L19.0 33.0L20.0 33.5L20.2 34.8L22.2 37.2L24.0 38.2L30.0 38.0L33.5 36.5L36.0 36.5L37.5 37.0L42.0 36.5L45.8 37.8L51.5 38.5L58.8 38.5L59.5 37.8L59.2 37.2L57.0 36.0L53.5 36.5L50.2 36.5L47.2 36.0L43.0 33.5L41.0 29.5L36.0 27.5L31.0 26.5L28.5 25.2L25.8 25.2L24.5 25.8L18.5 26.0ZM5.5 24.2L5.8 25.0L8.8 26.2L12.2 25.2L13.0 24.8L12.5 20.8L11.8 20.2L8.5 20.0L6.5 21.5ZM76.0 13.5L75.5 13.8L75.2 14.8L75.5 15.2L76.5 15.5L77.2 15.0L77.5 14.2L77.2 13.8ZM49.0 1.5L48.5 2.5L49.8 2.8L50.0 1.8Z" fill="#5dbbce" fill-rule="evenodd"/><path d="M40.5 114.8L41.5 115.8L45.0 115.5L47.2 118.0L49.0 117.8L48.5 114.8L48.0 113.8L44.2 113.0L42.5 114.0L40.8 114.2ZM50.0 94.8L49.5 95.2L49.8 99.8L51.2 110.0L52.5 111.2L56.5 113.5L58.8 113.5L61.0 112.8L61.8 112.0L61.8 111.2L60.8 109.0L60.0 105.5L55.0 96.8L53.8 95.5ZM35.8 69.0L35.8 70.2L37.0 74.0L38.0 74.8L45.2 73.8L46.0 73.0L46.2 72.2L46.0 69.8L45.0 68.8L36.0 68.8ZM17.5 27.2L19.2 33.0L20.0 33.5L20.0 34.0L23.0 37.5L24.2 38.0L29.5 37.8L33.8 36.0L35.2 36.0L38.0 36.8L42.0 36.5L45.0 37.5L48.2 37.5L50.0 38.0L53.0 38.0L53.2 38.2L58.2 38.0L57.0 36.8L51.0 37.2L47.2 36.5L45.2 35.0L43.2 34.2L42.5 33.5L42.0 31.8L41.0 30.0L37.0 28.2L31.2 27.0L28.2 25.8L18.2 26.5ZM5.5 24.2L6.2 25.0L8.0 25.8L9.8 25.8L11.2 25.2L12.5 24.5L12.2 21.2L11.5 20.2L8.5 20.0L6.5 21.5ZM75.8 13.8L75.5 14.8L76.0 15.2L76.8 15.2L77.2 14.8L77.2 14.0ZM49.2 1.8L49.0 2.2L49.5 2.5L49.8 2.0Z" fill="#42a6cc" fill-rule="evenodd"/><path d="M41.0 114.2L41.0 115.0L41.5 115.5L45.0 115.2L47.2 117.8L48.8 117.5L48.2 114.8L47.0 113.5L44.2 113.0L42.5 114.0ZM50.2 95.0L49.8 95.5L50.0 99.5L51.2 106.8L51.2 108.5L51.8 110.0L52.8 111.0L56.8 113.2L60.5 112.5L61.0 112.0L61.0 110.5L60.2 108.8L59.8 106.0L56.2 99.5L54.0 96.0ZM36.5 69.5L36.5 71.2L37.8 74.0L40.2 74.0L44.5 73.2L45.5 72.2L45.2 70.2L44.8 69.5L43.8 69.5L42.8 70.0L37.8 69.2ZM56.8 37.8L56.5 37.2L55.0 37.5ZM18.0 27.2L18.0 28.8L19.5 33.0L22.5 36.8L23.5 37.5L28.8 37.5L33.5 35.8L35.8 35.8L39.5 36.8L42.0 36.5L44.2 37.2L46.5 37.0L46.5 36.5L45.5 35.5L43.0 34.5L42.2 33.8L41.8 31.8L41.0 30.5L37.2 28.8L27.0 26.0L24.5 26.5L18.8 26.8ZM5.8 23.5L6.2 24.5L7.8 25.2L10.5 25.0L11.8 24.2L11.5 20.8L10.8 20.2L8.5 20.0L6.5 21.5ZM75.8 14.0L76.0 15.0L77.0 14.8L77.0 14.0Z" fill="#2a8bbe" fill-rule="evenodd"/><path d="M41.2 114.5L41.5 115.2L45.0 115.0L47.5 117.5L48.5 117.2L48.0 114.8L47.0 113.8L43.8 113.2ZM50.2 95.5L50.0 96.2L50.2 96.5L50.5 101.5L52.0 109.8L53.0 110.8L56.2 112.8L58.2 112.8L60.5 112.0L60.8 111.0L59.8 108.2L59.2 105.5L55.0 98.0L53.8 96.2L51.8 95.5ZM18.2 27.8L18.5 29.5L20.0 33.2L22.5 36.2L24.0 37.2L29.5 37.0L34.0 35.2L42.2 36.8L45.5 36.8L45.8 36.5L45.0 35.5L43.0 34.8L42.0 33.8L41.0 31.0L37.5 29.2L34.5 28.2L31.5 27.8L27.8 26.5L19.5 27.0ZM6.5 21.5L6.2 23.5L7.0 24.2L10.0 24.5L11.0 23.8L11.0 21.2L10.2 20.5L7.8 20.5ZM76.0 14.2L76.0 14.8L76.8 14.8L76.8 14.2Z" fill="#1373b2" fill-rule="evenodd"/><path d="M42.0 114.8L44.8 114.5L46.0 115.0L47.0 116.0L47.5 115.8L47.5 114.8L47.0 114.2L45.2 113.8L43.5 113.8ZM50.8 95.8L50.5 98.2L52.2 109.5L56.0 112.2L57.8 112.5L59.8 112.0L60.2 111.5L60.2 110.8L58.5 104.8L53.8 96.8L52.5 96.0ZM18.8 27.8L18.8 29.2L20.2 33.0L23.8 36.8L29.5 36.5L33.5 35.0L35.8 35.0L39.2 36.0L42.8 36.5L45.0 36.2L44.8 35.8L42.5 34.8L41.8 34.0L41.2 32.2L40.5 31.2L34.8 28.8L32.8 28.5L26.8 26.8ZM6.8 21.5L7.0 23.0L7.5 23.8L9.8 23.8L10.2 23.2L10.2 21.5L9.8 21.0L7.8 20.8Z" fill="#085a9d" fill-rule="evenodd"/><path d="M51.2 96.5L51.8 100.5L54.2 103.0L55.0 104.5L54.5 106.5L53.8 107.0L53.2 106.8L52.8 107.0L52.5 107.8L52.8 109.2L54.8 110.2L56.5 111.8L58.2 111.8L59.5 111.2L58.0 105.0L56.8 103.5L53.8 97.8L52.8 96.8ZM24.0 35.2L24.2 35.8L25.2 35.5L25.2 35.2ZM39.2 34.8L39.8 35.2L42.8 36.0L43.8 35.8L42.5 35.2L41.0 33.8L40.5 33.8ZM19.2 28.2L19.2 29.2L20.5 32.2L22.5 33.8L25.8 33.5L30.2 35.2L31.5 35.2L33.5 34.5L37.8 34.5L38.0 34.2L37.5 33.2L37.8 31.0L37.0 30.2L34.5 29.2L31.2 28.8L27.8 27.5L22.2 27.8Z" fill="#084081" fill-rule="evenodd"/><path d="M98.8 115.2L99.2 115.2L100.0 116.0L100.0 119.8L100.2 120.2L101.5 120.8L102.2 121.8L102.2 122.8L101.5 123.8L100.8 123.8L99.8 122.8L96.5 123.0L95.8 122.5L95.8 121.5L97.2 119.0L97.8 116.5L98.8 115.2M93.0 108.2L94.2 107.0L94.8 107.0L95.2 107.5L95.5 108.8L96.8 109.8L96.8 110.2L95.8 110.5L94.8 109.8L93.5 109.5L93.0 109.0L93.0 108.2M80.8 107.2L81.0 107.0L82.2 107.2L82.8 108.0L81.8 108.8L80.8 108.0L80.8 107.2M79.5 104.8L80.0 104.8L80.5 105.5L80.5 106.0L80.0 106.5L79.2 105.8L79.5 104.8M88.5 102.8L89.5 102.8L90.5 103.8L90.2 104.8L89.0 106.0L87.8 105.5L87.0 104.2L88.5 102.8M83.5 103.0L84.8 102.2L85.8 102.5L86.5 103.8L85.8 104.2L84.5 104.5L83.8 104.0L83.5 103.0M76.8 101.5L77.2 102.2L77.2 103.8L76.0 104.2L75.5 103.8L75.2 102.8L76.8 101.5M79.8 101.8L80.2 101.2L82.2 101.2L82.8 101.8L82.8 102.2L80.8 103.2L79.8 101.8M73.8 100.5L74.2 101.0L74.2 102.0L73.5 102.8L73.8 105.0L73.0 106.0L73.0 106.8L74.2 107.0L77.2 106.8L78.2 107.5L79.0 109.0L78.2 110.0L77.0 110.2L75.8 111.8L75.0 112.0L73.2 113.8L72.8 115.0L71.2 116.5L70.5 116.8L69.8 115.8L69.8 113.0L70.2 111.2L69.5 109.0L69.5 107.0L71.2 105.8L71.2 105.0L70.8 104.5L70.2 103.0L71.0 102.0L72.0 101.8L73.2 100.5L73.8 100.5M89.0 95.2L90.0 96.0L91.0 98.0L91.0 98.5L90.0 99.2L88.8 99.2L88.0 98.8L88.0 97.0L89.0 95.2M81.5 93.5L82.0 93.2L82.5 93.8L82.2 95.5L83.8 97.5L85.0 97.0L85.0 95.8L85.5 95.2L86.2 95.2L86.8 95.8L86.8 96.5L86.2 97.5L86.8 99.2L86.2 99.8L85.2 99.8L83.2 98.2L81.8 98.8L80.5 98.8L80.0 98.2L79.8 97.5L80.5 96.0L80.8 94.5L81.5 93.5M74.2 92.2L74.8 92.2L75.5 93.0L75.2 94.2L78.0 96.8L78.0 97.2L77.2 98.0L74.8 99.0L74.0 99.0L73.5 98.5L73.5 97.8L74.5 96.2L74.8 94.8L73.0 93.8L73.0 93.0L74.2 92.2M91.2 93.0L92.5 92.0L93.8 92.0L95.0 92.8L97.0 93.0L98.5 94.8L98.2 96.0L98.5 97.0L99.2 97.0L100.2 95.8L100.8 96.0L100.8 97.0L100.0 97.8L98.8 98.0L98.2 98.8L97.0 98.8L96.5 98.2L96.5 96.0L96.0 95.2L95.0 95.2L93.8 96.8L92.5 97.0L92.0 96.0L92.0 95.0L91.2 94.0L91.2 93.0M71.2 90.5L71.8 90.5L72.2 91.0L72.2 91.8L71.8 92.2L70.8 92.2L70.2 91.8L70.2 91.2L71.2 90.5M46.0 89.8L47.0 89.5L47.2 90.0L46.5 90.5L46.0 89.8M65.0 85.0L64.5 86.2L65.5 87.0L66.2 87.0L66.5 86.8L66.2 85.8L65.0 85.0M54.5 83.2L54.2 83.8L55.8 85.5L56.8 85.5L56.8 85.0L55.0 83.2L54.5 83.2M70.2 81.2L71.0 81.2L71.5 82.0L71.0 83.2L70.2 83.2L69.5 82.2L70.2 81.2M60.0 79.0L60.8 79.2L61.2 78.5L60.2 78.5L60.0 79.0M54.8 78.0L53.5 79.2L53.2 80.2L52.5 81.0L51.0 81.0L50.0 82.2L48.0 82.2L47.5 82.8L48.2 84.0L47.5 85.2L47.5 86.0L49.0 87.0L50.8 87.0L50.8 85.5L52.2 83.8L52.2 82.2L52.8 81.8L54.0 81.8L54.5 81.0L54.8 78.0M41.0 80.8L41.8 79.5L42.5 79.5L42.8 79.8L42.5 80.0L42.5 81.2L43.5 82.0L44.5 82.0L44.8 81.8L44.8 79.8L43.0 78.5L43.0 77.8L43.5 77.2L46.5 77.0L47.5 78.8L49.0 79.0L49.8 78.5L50.2 77.5L50.2 76.8L51.5 75.5L52.8 75.0L53.5 75.0L55.2 76.0L58.5 76.0L60.2 75.2L61.2 75.5L61.8 76.0L65.8 75.8L66.5 76.2L67.0 77.8L66.5 78.5L65.0 79.0L64.8 80.8L64.2 81.2L63.2 81.5L63.2 83.0L64.8 84.2L64.2 83.2L64.2 82.5L64.8 82.0L67.8 82.5L68.8 83.2L69.0 84.5L70.2 86.5L71.0 86.2L71.2 85.2L71.8 84.8L72.5 84.8L72.8 85.0L72.8 87.2L70.5 89.0L68.5 89.0L67.2 89.8L67.2 90.5L68.0 91.2L69.8 92.0L69.2 93.2L68.8 93.5L68.0 93.2L63.2 93.5L61.5 93.0L60.8 91.8L58.8 91.5L58.5 92.2L59.8 93.8L59.8 94.8L59.0 95.5L58.2 95.5L57.2 94.5L57.2 94.0L55.5 90.8L52.0 90.8L50.8 91.8L50.2 91.8L48.8 90.0L48.8 89.5L48.0 88.5L47.5 88.5L46.8 87.8L45.2 87.2L45.0 86.5L45.8 85.2L45.2 84.5L43.0 83.8L41.0 83.8L40.8 83.5L41.0 80.8M93.5 72.0L94.2 71.5L97.0 73.0L96.0 73.8L95.0 73.8L93.8 72.8L93.5 72.0M90.0 69.2L90.0 68.8L90.8 68.0L92.0 69.0L91.0 69.8L90.5 69.8L90.0 69.2M87.2 63.0L87.2 62.5L87.8 62.0L88.8 62.8L88.2 63.2L87.2 63.0M96.2 59.8L96.2 61.0M91.5 55.2L91.8 56.5L92.5 56.8L93.5 57.8L94.0 59.0L94.5 59.2L95.5 58.0L95.2 55.5L93.8 54.8L91.5 55.2M90.2 51.8L90.2 52.2L90.8 52.8L91.5 52.8L91.2 52.0L90.2 51.8M89.2 44.8L89.5 45.2L90.5 45.2L92.2 46.8L94.0 46.0L95.2 46.5L95.2 46.0L94.8 45.5L93.5 45.2L92.2 44.0L92.0 43.0L90.8 43.0L89.2 44.8M88.0 40.8L87.8 41.8L88.0 42.2L88.8 42.2L89.0 41.5L88.5 40.8L88.0 40.8M84.0 40.5L84.0 41.5L84.2 42.0L84.8 42.0L85.0 41.0L84.5 40.5L84.0 40.5M98.5 40.0L99.5 40.8L99.5 41.5L99.0 42.0L98.0 42.0L97.5 41.5L97.5 41.0L98.5 40.0M79.8 36.2L79.0 36.5L78.2 37.2L78.5 38.0L79.5 38.0L80.0 37.5L79.8 36.2M89.2 36.0L89.0 38.5L89.5 39.0L90.5 39.2L91.0 38.8L90.8 37.2L90.0 36.0L89.2 36.0M87.8 33.2L87.5 34.0L88.5 34.2L88.5 33.8L87.8 33.2M69.2 14.5L68.2 15.8L66.2 16.8L62.8 17.0L60.8 17.5L54.8 19.8M104.5 133.8L104.5 133.0M102.0 73.0L101.0 73.0L99.8 72.0L98.2 71.8L95.8 69.2L92.5 69.5L92.0 69.0L93.2 67.8L93.8 66.5L93.2 66.2L91.2 66.5L90.8 65.8L91.5 64.8L91.5 64.0L90.5 62.5L91.0 61.8L90.8 59.8L89.8 59.5L88.5 61.2L87.5 60.8L87.2 59.8L88.0 59.0L88.8 58.8L89.0 57.5L87.0 56.2L86.2 54.0L85.5 54.0L85.0 53.5L85.0 52.8L84.2 52.0L84.5 50.5L85.0 50.0L85.5 50.0L86.0 50.5L85.5 51.8L85.8 52.5L86.5 53.0L86.5 51.5L87.2 50.5L90.0 51.2L90.2 50.8L92.0 49.5L92.0 49.0L90.8 48.0L90.8 47.2L89.5 46.2L88.2 46.5L87.8 48.5L86.0 48.2L84.0 48.8L81.8 46.5L80.8 46.2L80.0 45.2L80.2 43.8L81.2 43.0L82.8 43.0L82.8 42.2L82.0 41.5L81.5 41.5L80.8 40.8L78.8 40.0L77.5 39.0L77.2 37.5L76.5 36.5L76.5 35.5L77.2 34.8L78.8 34.2L78.2 32.5L79.0 31.8L80.5 31.8L81.5 32.5L79.8 34.2L80.2 35.0L83.8 34.2L85.5 35.8L85.5 36.8L86.5 36.5L86.2 34.2L84.0 33.8L82.0 32.2L82.2 31.8L83.8 31.8L84.0 31.5M83.0 28.0L83.0 27.5M86.0 24.0L83.0 24.0L82.0 25.2L81.5 25.2L80.5 26.0L82.2 28.2L80.5 30.0L78.0 28.5L78.0 27.0L76.2 27.5L75.0 29.2L74.0 29.0L73.2 28.0L73.0 26.5L73.8 25.2L73.8 24.2L75.2 20.8L76.0 17.8L77.0 16.8L77.5 16.8L78.8 15.8L80.2 15.2L82.0 15.2M90.2 33.8L90.2 35.0L93.0 36.2L93.2 35.0M94.8 35.8L94.5 36.5L95.5 37.8L96.0 37.8L96.0 36.5L96.5 36.0M97.8 36.5L97.8 37.5L97.0 38.5L97.0 39.8L96.8 40.0L96.8 41.2L97.2 42.0L95.8 42.5L95.2 43.0L95.2 43.8L95.5 44.0L96.8 44.0L97.8 42.8L98.2 42.8L99.2 43.5L99.2 45.0L100.8 44.8M97.2 46.2L97.5 47.5L96.8 48.2L95.0 48.8L94.0 50.2L94.0 51.2L94.8 51.8L96.0 51.2L97.0 51.2L97.5 51.8L97.5 53.2" fill="none" stroke="#1a1a1a" stroke-opacity="0.85" stroke-width="0.33" stroke-linejoin="round"/><path d="M62.5 141.5L61.0 141.5M48.8 93.5L48.5 94.0L48.8 103.5M41.2 116.5L44.8 116.2L46.5 118.5L48.8 118.8L49.8 118.2L50.0 117.8L49.0 114.2L49.0 113.2L49.8 113.0L56.2 115.2L57.5 117.2L58.0 119.2L58.8 120.0L62.2 121.2L63.8 121.2L66.0 119.2L67.8 116.5L67.8 114.2L68.0 114.0L67.8 111.0L65.8 108.8L64.5 108.0L62.8 106.2L59.2 100.8L58.2 98.5L55.5 94.8L53.8 94.5L53.0 94.0L51.5 94.0L50.5 93.5L48.8 93.5M42.2 85.0L41.8 85.5M43.5 88.8L44.2 88.0L44.2 85.8L43.8 85.0L42.2 85.0M34.2 67.8L34.8 71.5L36.0 75.2L36.8 76.0L46.0 76.0L47.2 75.8L49.0 74.5L52.8 73.5L53.8 72.8L53.2 70.2L51.8 67.5L50.8 67.2L44.8 67.2L44.0 67.5L43.8 67.2L38.0 67.0L37.8 67.2L34.8 67.2L34.2 67.8M83.0 25.5L83.2 26.0M85.0 25.2L84.2 24.8L83.5 24.8L83.0 25.5M8.2 27.0L9.2 27.0L12.5 26.0L13.8 26.0L15.0 26.8L17.0 29.2M21.8 38.0L23.2 39.0L24.0 39.2M60.2 39.5L61.2 40.5L62.0 42.2L61.5 46.0L60.8 47.8L58.5 50.5L54.5 52.8L54.5 53.5L55.5 55.0L56.8 55.0L59.8 53.5L61.2 51.2L63.0 49.5L65.5 45.5L65.5 43.5L64.2 39.5L62.2 35.8L60.8 34.0L59.0 33.2L56.8 33.0L51.0 31.2L42.5 27.2L41.5 27.2L38.0 26.2L33.5 26.0L32.0 25.5L29.0 22.5L29.5 18.5L28.0 16.8M75.2 13.2L74.8 14.2L75.0 15.2L75.5 15.8L77.2 15.8L77.8 15.2L77.8 13.5L77.0 13.0L75.2 13.2M48.0 9.5L47.0 8.8L42.0 8.5L39.2 9.8L36.0 11.8L34.2 13.5L33.0 15.5L32.0 18.0L32.2 19.5L34.2 21.2L37.5 21.2L38.2 21.0L41.0 18.2L43.0 17.0L46.2 13.8L48.0 10.8L48.0 9.5M47.8 3.0L48.2 3.5L50.0 3.5L50.8 3.0" fill="none" stroke="#1a1a1a" stroke-opacity="0.85" stroke-width="0.33" stroke-linejoin="round"/><use href="#fringe"/></g><use href="#jeju"/></g>
<use href="#grid"/>
</g>
<rect x="0" y="0" width="104.9" height="142.2" fill="none" stroke="#4a4a4a" stroke-width="0.8"/>
<text x="10.2" y="149.60000000000002" font-size="5.4" text-anchor="middle" fill="#111">118°E</text>
<text x="31.2" y="149.60000000000002" font-size="5.4" text-anchor="middle" fill="#111">120°E</text>
<text x="52.2" y="149.60000000000002" font-size="5.4" text-anchor="middle" fill="#111">122°E</text>
<text x="73.2" y="149.60000000000002" font-size="5.4" text-anchor="middle" fill="#111">124°E</text>
<text x="94.2" y="149.60000000000002" font-size="5.4" text-anchor="middle" fill="#111">126°E</text>
<text x="-3.0" y="13.00" font-size="5.4" text-anchor="end" fill="#111">40°N</text>
<text x="-3.0" y="34.84" font-size="5.4" text-anchor="end" fill="#111">38°N</text>
<text x="-3.0" y="56.68" font-size="5.4" text-anchor="end" fill="#111">36°N</text>
<text x="-3.0" y="78.52" font-size="5.4" text-anchor="end" fill="#111">34°N</text>
<text x="-3.0" y="100.36" font-size="5.4" text-anchor="end" fill="#111">32°N</text>
<text x="-3.0" y="122.20" font-size="5.4" text-anchor="end" fill="#111">30°N</text>
<text x="52.6" y="-5.2" font-size="6.1" text-anchor="middle" fill="#111">(b) ZSTAR</text>
</g>
<g transform="translate(351.6,16.1)">
<g clip-path="url(#pc)">
<rect width="105.2" height="142.3" fill="#c0c0c0"/>
<g transform="translate(-0.3,-0.1)"><g clip-path="url(#sea)"><rect x="-1" y="-1" width="107.2" height="144.3" fill="#f9f0eb"/><path d="M99.0 143.0L100.8 143.0L100.0 142.0L99.2 142.0ZM52.2 141.8L51.2 143.0L52.2 143.0ZM105.5 131.8L103.8 132.8L103.8 134.0L104.8 135.5L106.0 136.0L106.0 131.8ZM50.0 124.2L48.0 128.0L48.5 128.5L47.5 129.5L48.0 131.5L47.5 134.2L43.2 139.8L43.2 141.2L43.8 143.0L47.5 143.0L49.0 139.5L50.8 133.5L51.0 131.2L52.0 129.5L52.0 127.2L50.8 126.2ZM88.8 113.2L87.5 113.2L86.2 114.2L86.2 115.5L86.8 116.5L87.5 116.8L88.8 116.0L89.2 114.8L89.2 113.5ZM77.5 103.0L77.0 104.0L77.0 106.2L78.8 107.8L80.2 107.8L81.0 106.8L81.0 105.0L79.8 104.5L78.2 103.0ZM81.0 101.0L80.5 101.5L80.5 102.2L81.2 103.2L81.2 104.0L82.0 101.8L81.8 101.2ZM80.0 93.0L79.8 94.0L80.2 95.0L81.0 95.0L81.2 94.0ZM97.8 47.8L97.2 48.2L97.5 49.0L99.0 49.8L99.5 48.8L98.8 48.0ZM40.2 46.5L39.2 46.8L37.2 48.2L33.2 52.2L33.5 53.2L32.8 54.0L32.2 54.0L31.2 55.8L34.0 57.2L34.2 59.0L35.0 60.2L36.8 60.0L37.5 58.5L37.5 55.2L40.0 52.2L41.8 51.5L42.5 50.5L41.0 49.2L41.0 48.0ZM58.0 41.8L58.2 42.2L57.8 43.2L57.0 43.8L53.2 44.8L51.2 44.8L50.8 45.5L51.2 48.5L50.5 49.0L49.5 48.8L49.0 48.0L49.2 46.8L50.0 46.0L50.0 44.8L46.2 46.0L46.5 47.5L45.2 49.2L45.2 50.5L46.2 53.2L46.2 54.8L45.8 56.2L44.2 58.2L44.2 60.0L45.2 61.5L46.2 64.2L45.8 64.8L45.2 64.8L43.0 62.0L40.8 61.5L38.8 61.5L37.5 61.0L36.5 61.8L35.8 64.0L34.8 64.5L34.0 63.5L32.0 63.2L30.8 62.2L30.2 60.0L29.2 58.5L26.0 61.8L22.8 64.2L22.0 66.2L22.0 67.5L24.5 70.0L27.2 72.0L27.8 71.8L29.2 73.0L33.0 74.8L35.5 77.2L38.2 83.2L39.2 83.2L39.8 83.8L40.0 85.0L39.8 86.5L41.2 89.0L44.2 92.8L43.8 91.5L44.5 90.8L45.0 90.8L46.2 92.2L46.0 93.8L48.2 96.2L49.0 98.2L48.5 100.0L48.8 100.8L52.0 102.5L51.8 104.8L51.0 105.5L48.8 105.5L48.2 105.0L48.2 102.0L47.5 101.5L46.0 101.2L45.5 100.8L45.8 100.0L38.2 97.0L36.2 97.0L31.8 97.8L31.8 98.5L32.5 98.2L33.0 98.8L32.8 100.0L37.2 100.0L47.5 104.8L48.0 105.2L47.8 107.0L48.8 109.0L48.0 110.8L45.0 112.8L42.5 114.0L34.2 115.5L34.2 116.8L34.8 118.0L42.8 118.5L45.2 119.2L49.2 121.2L51.2 121.0L51.8 120.0L51.8 118.2L50.0 116.2L49.2 112.5L49.2 110.8L49.8 110.2L53.2 109.8L54.2 111.0L55.0 113.5L55.0 114.8L54.2 116.2L54.8 118.5L56.0 119.2L57.0 120.5L58.2 123.2L58.5 125.5L59.0 126.5L55.5 132.2L54.0 136.5L54.0 138.2L54.8 137.8L55.2 136.0L56.0 135.2L56.8 135.2L57.2 135.8L57.2 136.5L56.5 137.5L55.5 138.0L55.5 138.5L56.2 139.2L59.5 141.0L60.5 142.0L60.8 143.0L63.5 143.0L62.8 140.8L62.8 138.5L63.2 138.0L64.5 138.0L65.8 139.2L66.5 141.0L66.2 143.0L74.5 143.0L74.5 141.2L75.5 140.2L76.2 140.0L77.2 141.0L77.2 143.0L87.5 143.0L87.2 141.5L85.2 140.5L85.2 137.8L83.5 137.2L82.5 136.2L80.0 135.8L78.8 134.0L78.5 133.0L78.8 132.2L79.2 131.8L81.2 131.2L82.0 132.0L82.0 132.8L82.8 134.0L86.0 136.8L88.0 136.5L89.0 135.8L89.2 135.0L91.0 133.0L92.2 132.2L93.8 132.0L94.8 131.0L95.5 129.5L95.8 128.0L97.0 126.5L101.8 126.2L103.0 125.8L104.0 124.2L106.0 124.0L106.0 111.0L105.0 111.2L104.0 112.5L103.8 114.0L103.2 114.8L103.2 116.0L104.0 117.0L103.2 117.8L101.8 117.2L98.0 119.5L96.5 119.0L93.8 119.0L93.0 119.5L90.5 119.5L89.8 120.0L89.2 121.5L88.5 122.0L87.2 121.8L86.2 120.8L86.0 119.8L85.2 119.2L82.2 121.0L81.0 121.0L80.0 120.2L79.5 119.2L79.5 118.0L78.8 117.8L76.2 119.0L74.8 118.0L73.5 115.0L72.8 114.2L71.0 115.0L69.2 116.8L68.0 117.0L67.0 116.5L66.2 115.5L66.5 112.8L64.8 111.5L63.0 111.2L61.8 109.2L61.8 108.2L63.2 106.8L62.2 106.0L61.2 106.2L60.0 106.0L58.0 103.5L57.5 102.0L57.8 101.8L60.2 102.0L62.8 100.2L67.0 100.2L67.8 99.2L68.0 98.0L69.0 97.0L71.0 97.5L72.2 96.2L74.2 96.2L75.2 95.0L75.2 93.2L74.8 92.5L75.2 90.0L75.8 89.5L77.5 89.0L80.5 89.2L82.2 88.8L83.8 87.8L84.2 86.0L82.5 85.2L80.5 85.8L79.0 84.8L77.5 84.8L76.0 85.8L73.8 86.0L73.0 86.8L73.0 87.8L72.5 88.8L73.2 90.8L73.2 92.2L72.0 93.8L70.8 93.8L69.2 93.0L68.2 92.0L66.8 91.8L66.5 93.8L63.5 95.5L62.0 94.2L61.5 93.2L61.8 92.2L63.2 91.5L64.8 89.5L65.5 89.5L67.5 87.8L70.5 88.0L71.5 87.0L71.8 86.2L69.5 83.8L66.0 84.2L63.5 83.0L61.5 83.0L60.8 84.2L61.5 87.2L59.5 89.0L55.2 89.8L52.0 89.2L51.0 90.0L50.2 89.5L50.2 88.5L48.8 86.2L48.5 83.8L49.5 83.0L51.8 82.5L53.0 81.8L55.8 83.5L56.5 83.5L58.2 82.5L57.8 81.2L56.5 80.0L53.5 79.8L53.0 79.2L52.5 76.5L53.0 76.0L54.2 76.0L55.5 76.5L58.0 76.5L61.0 78.5L64.0 78.5L65.2 78.0L67.5 78.0L69.0 79.0L71.2 79.0L74.0 78.0L75.5 75.8L77.0 75.5L78.0 74.5L79.0 74.5L79.5 75.2L78.5 76.0L77.2 76.2L76.5 77.8L78.5 78.8L81.2 78.5L82.8 80.5L82.8 82.0L80.0 82.5L79.5 83.8L80.5 84.5L81.5 84.5L82.8 83.2L83.8 83.0L85.5 84.8L87.8 84.5L89.5 85.2L89.8 86.2L88.2 88.5L88.5 89.5L89.2 90.0L91.2 89.8L92.8 91.0L93.0 91.8L92.8 93.2L91.8 94.2L89.5 94.8L87.2 97.2L84.5 98.0L83.8 98.8L83.8 99.5L84.5 100.2L86.5 100.5L86.8 100.8L86.5 101.8L87.5 102.0L87.8 101.2L86.5 100.5L86.8 99.8L88.0 98.8L89.5 98.5L90.0 98.0L90.2 96.5L91.0 95.8L92.0 95.8L93.0 96.5L94.2 98.8L94.5 100.2L94.0 102.0L94.5 103.0L95.2 103.8L96.5 104.0L97.5 101.2L97.2 97.0L97.8 96.2L100.2 96.2L101.8 97.5L101.8 99.2L101.0 100.5L101.0 102.5L101.8 104.0L101.2 107.2L101.8 108.0L106.0 108.0L106.0 82.2L105.0 81.5L104.2 79.8L104.5 77.2L105.2 76.2L106.0 76.0L106.0 74.2L104.2 73.2L97.8 66.5L97.0 63.8L97.0 62.2L98.0 59.5L98.0 58.5L97.5 57.5L98.8 55.5L99.2 51.2L98.0 52.5L96.5 52.5L94.5 50.8L93.5 50.8L92.2 51.8L91.2 53.8L89.2 54.8L87.8 55.0L87.0 54.2L86.5 54.2L85.2 56.5L83.0 56.2L81.0 56.5L80.8 56.8L81.0 60.2L78.0 62.5L77.5 62.0L78.5 59.5L78.5 57.5L76.2 55.2L76.2 54.2L76.8 53.8L77.0 52.5L79.2 51.0L79.0 48.0L77.8 45.5L78.0 41.8L77.5 41.5L75.5 41.8L74.0 40.8L72.5 40.8L70.5 40.0L69.5 40.0L68.0 41.5L71.8 42.5L72.8 43.0L73.2 43.8L73.0 44.8L71.5 46.0L69.8 46.0L68.0 44.8L66.0 45.5L62.5 42.2L60.2 42.5L58.8 42.2ZM58.8 131.2L59.2 130.5L62.8 130.2L64.5 131.0L66.5 130.8L70.0 131.0L72.8 132.2L75.2 132.5L77.0 134.0L77.0 135.0L75.8 136.0L75.0 136.0L72.8 135.0L69.0 137.5L67.8 137.5L65.0 136.8L64.0 137.0L61.0 136.8L59.8 135.8L59.5 133.5ZM101.0 120.8L101.8 121.0L102.5 122.8L102.2 124.0L101.2 124.0L100.8 123.2L100.5 121.8ZM66.8 120.2L67.8 121.2L67.5 124.2L68.0 125.2L68.0 127.8L66.8 129.0L64.0 129.2L62.0 127.5L62.0 126.5L63.0 125.5L64.8 125.2L65.2 124.8L64.2 122.2L64.2 121.2L65.0 120.2L65.5 120.5ZM42.5 100.8L42.8 100.5L44.2 100.8L45.0 101.5L44.0 102.2L43.2 102.2L42.5 101.5ZM68.0 94.5L68.5 94.2L69.0 95.0L68.2 95.5ZM95.2 92.2L96.8 92.2L97.5 93.0L97.5 94.8L96.8 96.0L95.5 95.5L94.2 94.0L94.2 93.0ZM95.8 85.8L96.8 86.0L96.8 87.2L96.2 87.8L95.2 87.8L94.8 87.2L94.8 86.5ZM90.8 80.0L91.8 80.5L92.8 82.2L92.8 83.2L92.2 83.8L91.2 83.0L89.8 81.0ZM96.5 76.8L97.5 77.8L98.0 79.5L99.0 80.5L99.0 81.5L98.0 82.5L97.0 82.5L95.5 81.5L94.8 80.5L94.8 79.2L95.5 77.8ZM43.2 75.8L44.0 76.5L45.0 78.5L45.0 79.5L42.5 82.8L42.0 83.0L40.0 82.8L38.8 81.2L38.5 77.5L39.5 76.2L41.5 75.8ZM51.5 73.0L51.5 73.5L50.0 74.8L48.5 77.0L47.0 77.0L46.0 76.0L46.0 75.2L47.2 73.8L50.2 72.5ZM80.2 66.5L81.2 67.2L80.2 68.5L79.8 70.2L79.0 70.5L78.5 70.0L79.0 67.5L79.5 66.8ZM91.5 65.5L92.0 65.5L93.0 66.5L93.0 68.0L92.2 68.5L91.2 67.8L91.0 66.0ZM58.8 53.8L59.2 53.8L60.5 54.8L64.5 56.8L64.5 57.5L63.5 59.2L63.5 60.8L67.5 66.5L67.8 68.0L68.2 68.8L70.0 68.5L70.5 67.0L72.5 64.8L73.8 64.8L74.5 65.8L73.8 67.0L73.8 69.0L75.5 69.8L76.0 70.5L75.8 73.8L75.0 74.8L71.5 74.5L70.8 75.0L68.5 75.5L67.8 75.0L64.8 75.0L62.5 74.0L60.5 74.5L58.5 74.5L57.5 74.0L56.8 73.0L55.8 73.0L55.2 72.5L56.0 71.8L56.2 70.8L58.2 69.2L57.2 66.5L56.2 65.5L55.5 64.0L55.5 63.2L56.5 61.8L56.5 60.8L57.0 59.8L58.8 58.0L58.2 56.5L58.2 54.2ZM50.8 51.2L51.2 52.0L50.8 58.5L51.5 59.8L51.5 60.8L50.8 61.5L48.8 61.8L47.8 60.8L48.2 55.8L47.5 53.0L49.0 51.5ZM63.5 49.8L65.8 47.2L66.5 47.2L68.5 50.0L73.2 49.2L73.8 49.8L73.8 51.0L71.5 52.5L69.0 52.8L67.5 51.8L64.2 52.0L63.5 51.2ZM54.8 46.2L56.0 48.0L56.2 49.2L54.5 50.5L52.0 50.8L51.8 49.2L53.5 48.0L53.5 46.5L54.0 46.0ZM74.8 26.8L74.2 25.5L73.8 25.2L71.8 25.5L70.8 24.8L69.5 25.5L66.2 26.5L64.8 28.2L65.8 29.0L68.2 29.2L69.5 30.0L71.0 30.0L73.2 28.8L74.5 28.5ZM72.5 23.2L71.8 23.0L71.2 24.2L72.2 23.8ZM61.5 22.8L60.5 22.5L59.8 22.8L59.2 23.5L60.0 23.5ZM6.5 21.5L5.5 24.2L5.5 25.8L6.8 28.8L9.5 30.5L12.5 30.8L17.0 31.8L19.8 33.2L19.5 31.8L16.8 30.0L16.2 28.8L16.2 27.0L15.5 25.8L12.2 22.5L12.2 22.0L13.2 21.0L13.8 21.0L11.8 20.2L8.5 20.0ZM7.8 25.2L10.8 25.2L11.5 26.0L11.8 28.0L11.0 29.2L10.2 29.8L9.5 29.8L7.8 28.5L7.2 27.2L7.2 25.8ZM21.8 17.2L23.0 17.8L25.2 20.2L24.5 23.0L23.5 24.5L23.8 24.8L28.0 24.0L28.8 24.5L30.8 24.8L33.2 25.8L35.5 28.0L36.2 29.8L36.2 31.2L34.8 33.8L34.2 36.0L33.8 36.5L31.5 37.0L29.5 38.2L27.5 37.2L24.5 36.8L23.2 34.5L21.8 34.2L20.2 35.5L20.5 36.0L20.0 37.8L20.0 39.5L21.5 41.5L25.2 42.5L26.8 42.5L30.5 41.0L35.5 36.8L38.5 37.0L40.0 36.5L42.0 36.5L49.2 38.8L55.0 39.2L57.8 40.8L58.2 40.0L59.5 39.5L60.2 38.8L60.2 37.8L57.8 37.2L56.5 36.0L56.2 35.0L57.0 34.2L57.8 34.2L58.0 33.8L57.0 32.8L55.2 32.0L54.0 33.8L53.2 33.8L51.2 31.5L51.2 30.5L52.5 29.0L53.0 28.8L54.2 29.0L56.8 28.2L56.5 27.2L54.0 27.0L52.0 28.0L51.0 28.0L49.2 26.8L46.8 28.0L41.8 27.8L40.5 26.2L40.5 25.0L41.5 24.2L43.5 23.8L44.8 23.0L46.8 23.0L49.2 25.5L50.8 23.5L52.8 23.0L53.5 22.2L54.0 21.0L56.5 18.8L58.2 18.2L60.0 17.2L61.0 17.2L62.8 18.5L64.0 18.5L65.8 19.2L66.2 19.8L66.2 21.2L67.8 22.0L69.5 21.8L69.8 21.0L67.5 16.5L68.2 15.5L68.8 15.5L69.8 17.2L72.2 18.5L74.0 18.8L76.0 20.2L76.2 20.8L76.0 23.8L78.8 27.2L80.5 32.8L79.5 34.8L79.5 35.8L80.2 37.2L81.2 42.0L82.0 42.8L84.8 44.0L85.8 44.0L86.8 44.8L86.5 47.5L87.2 49.0L90.0 49.2L91.2 49.0L92.2 48.2L94.5 48.5L95.0 47.0L95.0 44.5L95.5 44.0L97.2 44.2L98.8 45.8L100.8 45.8L101.5 45.2L101.5 44.5L99.2 41.5L99.5 40.0L100.2 38.5L100.2 37.8L99.2 35.8L97.0 34.5L90.2 32.2L84.0 28.5L85.5 26.8L85.8 24.8L86.5 24.0L88.0 24.2L88.8 24.0L87.5 22.5L88.5 20.8L88.2 16.8L85.0 14.2L76.8 11.5L75.2 11.5L72.8 12.8L67.5 13.5L62.2 14.8L61.0 16.2L60.5 16.2L60.0 15.5L45.2 23.0L44.2 23.0L44.0 22.2L45.0 20.8L47.2 18.5L50.0 17.0L50.0 16.2L50.8 15.5L50.8 14.5L49.5 12.8L51.0 10.2L53.2 8.5L55.0 6.2L54.5 3.0L52.2 0.8L48.0 0.5L44.8 1.5L37.2 6.8L34.0 10.0L32.5 10.8L32.0 11.8L31.2 11.5L25.5 13.8L23.5 15.2ZM22.5 38.8L23.2 38.0L25.8 38.0L27.0 39.0L27.2 40.5L26.8 41.0L23.8 40.8L23.0 40.2ZM53.2 3.0L52.8 5.8L52.0 6.5L47.8 7.5L43.0 9.5L40.0 9.2L39.0 8.2L38.5 6.5L39.5 5.5L43.8 3.5L50.5 2.0L52.2 2.0Z" fill="#edf2f5" fill-rule="evenodd"/><path d="M84.0 142.5L84.0 143.0L87.0 143.0L86.5 141.8L85.0 141.8ZM84.5 138.8L81.8 136.8L80.0 136.5L78.2 135.0L76.0 136.5L75.0 136.5L74.0 136.0L72.2 136.0L69.0 137.8L67.5 137.8L66.2 137.2L65.0 137.5L66.0 138.8L67.0 141.0L66.8 143.0L71.0 143.0L69.5 141.8L70.2 141.0L71.2 141.0L72.0 141.8L72.0 143.0L73.8 143.0L73.5 142.5L73.8 140.8L74.8 139.8L77.2 138.8L78.5 139.2L77.8 140.8L77.5 143.0L81.2 143.0L82.0 141.5L82.0 139.8L82.2 139.5L83.0 140.2L84.0 140.2L84.5 139.5ZM105.5 132.2L104.8 132.8L104.5 134.2L105.0 135.2L106.0 135.8L106.0 132.2ZM51.8 127.5L50.8 127.8L50.0 129.5L48.2 130.0L47.8 130.5L48.0 132.8L47.5 134.2L43.8 139.0L44.2 139.5L44.0 140.5L43.2 141.0L43.8 143.0L47.5 143.0L47.5 142.2L48.5 140.5L50.2 135.2L50.8 131.5L52.0 129.0ZM49.8 124.8L48.8 127.0L50.0 127.0L50.2 126.5ZM88.8 114.0L87.8 113.8L86.8 114.5L86.8 115.2L87.2 116.0L88.2 115.8ZM106.0 111.8L105.5 111.8L104.8 112.5L104.0 115.0L105.5 117.0L102.8 119.5L102.5 120.8L102.8 122.2L103.2 123.0L104.8 123.5L106.0 123.5ZM78.0 104.2L77.5 104.8L77.5 106.0L78.5 107.0L80.0 107.2L80.2 107.0L80.0 105.5ZM43.8 102.8L47.5 104.8L48.0 105.2L47.8 105.8L48.0 105.5L48.2 103.0L47.8 102.0L46.5 101.8L44.5 102.8ZM43.5 99.2L44.0 100.0L45.2 100.0L45.2 99.8ZM34.0 97.5L34.2 98.5L33.2 100.0L37.2 100.0L41.5 102.0L40.5 100.0L40.5 99.2L41.5 98.2L38.2 97.0L36.2 97.0ZM89.2 96.8L88.2 97.5L88.5 98.0L89.5 97.5ZM106.0 96.0L105.8 96.8L104.5 98.0L103.2 97.8L102.5 98.0L102.5 98.8L101.2 101.0L101.2 102.2L102.5 104.8L102.0 106.8L104.0 107.5L106.0 107.5ZM93.2 94.8L93.0 95.5L95.0 98.8L94.8 102.2L95.5 103.2L96.2 103.2L96.8 102.5L97.2 100.2L97.0 98.0L94.2 95.0ZM74.2 92.5L73.5 93.0L72.5 94.5L73.5 95.2L74.2 95.2L75.0 94.5L75.0 93.5ZM83.2 86.5L83.0 86.2L80.5 86.5L78.0 85.2L75.5 86.8L74.5 86.8L73.8 87.5L73.2 89.2L74.0 90.2L74.5 90.2L75.5 89.2L77.0 88.8L81.2 88.8L82.5 88.2L83.2 87.5ZM61.8 84.2L62.5 87.0L63.5 88.0L70.2 87.0L69.8 84.8L69.0 84.0L65.8 84.8L63.8 83.5L62.2 83.5ZM80.2 83.5L81.0 83.8L82.0 83.0L80.5 82.8ZM53.5 81.2L55.8 83.2L56.5 83.2L57.8 82.5L57.8 81.8L55.5 80.0L53.8 80.2ZM59.2 75.2L60.5 77.8L61.5 78.2L64.0 78.2L66.0 77.5L67.5 77.5L68.5 76.5L69.2 77.2L69.5 78.8L71.2 78.8L73.8 77.8L74.5 75.2L73.5 74.8L71.2 74.8L70.0 75.5L68.2 75.8L67.2 75.0L65.2 75.2L62.5 74.2L60.8 74.5ZM39.8 46.5L38.2 47.5L37.2 49.0L36.5 49.0L33.8 51.8L34.2 52.5L34.2 53.5L32.5 55.0L32.8 56.0L34.2 56.8L35.0 59.5L36.0 59.5L36.8 59.0L37.2 58.0L37.0 55.5L38.5 54.0L39.2 52.2L41.8 51.0L41.5 50.5L40.5 50.0L40.5 47.8ZM71.5 40.8L70.0 40.8L70.0 41.0L72.8 42.5L73.8 43.8L73.5 44.8L72.0 46.2L71.0 46.8L69.5 46.8L68.2 45.8L67.5 45.8L67.0 46.5L68.8 49.2L71.0 49.2L73.0 48.5L74.2 49.2L74.5 50.8L72.2 53.0L72.0 53.8L71.8 53.5L68.2 53.5L66.8 52.2L65.8 52.2L64.5 53.2L63.8 53.0L62.8 51.2L63.5 49.2L65.2 47.2L65.5 46.0L62.5 42.5L58.5 42.5L58.2 42.2L57.8 43.2L57.0 43.8L52.2 44.8L52.2 45.5L54.2 45.2L55.8 46.5L56.5 49.2L55.5 50.2L52.0 51.2L51.5 51.8L51.0 58.2L52.0 60.0L52.0 60.8L51.0 61.8L48.8 62.0L47.8 61.2L47.2 60.0L47.8 58.2L47.2 52.5L48.5 50.8L49.8 50.5L50.0 50.0L49.0 49.8L48.0 48.5L48.0 47.5L49.0 45.0L46.8 45.8L47.0 48.2L45.8 50.0L46.5 52.8L46.5 55.2L46.0 56.5L44.5 58.2L44.8 60.0L47.0 64.5L46.5 65.2L45.5 65.2L44.5 64.8L42.5 62.5L40.0 61.8L37.5 61.8L36.8 63.0L36.5 64.2L35.8 65.0L33.2 65.2L32.8 64.8L32.8 64.0L30.8 62.8L30.0 61.2L29.8 59.8L28.8 59.2L29.2 61.8L28.2 62.2L27.2 61.0L26.8 61.0L22.8 64.2L22.0 66.2L22.0 67.5L24.5 70.0L26.5 71.5L28.2 71.5L29.8 73.2L33.0 74.8L35.5 77.2L38.0 82.5L38.5 82.0L38.0 80.2L38.0 78.8L38.5 77.0L39.2 76.2L41.2 75.8L43.5 75.8L44.5 76.8L45.2 79.2L42.8 82.8L40.8 83.0L40.2 83.5L40.2 87.2L43.0 91.2L44.2 90.2L45.8 90.2L46.8 91.0L46.8 92.8L46.2 93.8L48.5 96.8L49.0 98.2L48.8 100.0L49.2 101.0L52.0 102.5L52.0 104.0L51.2 105.5L49.2 106.0L49.5 108.5L48.5 108.8L48.8 109.2L47.5 111.2L42.5 114.0L34.2 115.5L34.2 116.8L34.8 118.0L42.8 118.5L47.2 120.2L48.8 120.0L49.8 120.8L51.0 120.5L51.5 118.8L49.8 115.8L49.0 111.0L49.8 110.0L53.5 109.8L54.2 110.8L55.2 114.0L54.5 115.8L54.8 117.8L55.2 118.8L56.8 120.0L58.5 123.5L59.0 125.8L59.8 127.0L58.0 129.0L57.5 130.0L57.5 131.0L56.2 131.5L54.8 134.8L54.8 135.8L56.0 134.5L57.0 134.5L58.2 135.5L58.5 136.2L57.5 138.2L58.2 139.8L61.0 141.8L61.2 143.0L63.0 143.0L62.2 141.5L62.0 137.5L60.0 136.8L59.0 135.8L59.2 134.0L58.2 131.8L58.2 131.0L59.5 130.0L62.8 129.8L64.5 130.8L66.2 130.8L67.5 130.0L68.2 130.0L73.2 131.8L75.5 132.0L77.2 133.2L77.8 133.0L77.8 132.2L78.2 131.5L80.2 131.0L82.0 130.0L82.8 130.0L83.2 130.5L83.2 131.5L82.8 132.5L84.8 134.8L88.0 135.8L90.8 132.5L91.5 132.0L93.2 131.8L94.8 130.5L95.2 129.0L95.2 127.2L96.8 125.8L97.5 125.5L101.8 125.8L102.5 125.2L101.5 125.0L100.5 124.0L99.5 120.5L98.2 120.2L96.5 119.2L93.5 119.2L92.5 119.8L90.5 119.8L89.8 120.5L89.5 121.8L88.5 122.5L87.0 122.2L85.2 120.2L84.2 120.2L81.2 122.0L79.5 120.5L78.5 118.5L76.8 119.5L75.2 119.0L74.2 117.8L73.8 116.0L73.0 115.0L72.0 115.0L71.0 115.5L69.5 117.0L68.2 117.5L66.8 116.8L65.5 115.2L65.5 114.5L66.0 113.8L65.8 112.5L64.5 112.0L62.8 112.5L62.2 112.0L61.0 107.2L58.8 105.0L56.2 101.0L56.8 100.2L58.0 100.2L59.2 101.2L60.5 101.2L62.5 100.0L64.2 100.2L67.0 99.8L67.8 97.5L67.2 95.5L66.5 94.8L65.8 94.8L64.5 95.5L63.5 97.2L63.0 97.2L61.0 93.0L61.2 91.8L63.0 90.5L62.8 89.2L60.5 88.8L58.5 89.8L54.8 90.5L53.2 90.0L50.2 90.2L49.5 89.5L49.5 88.0L48.0 85.5L48.0 83.8L49.0 82.8L51.5 82.2L52.5 81.5L52.5 78.2L52.0 77.2L52.0 76.2L53.0 75.5L56.5 76.0L58.0 75.2L57.0 74.2L55.5 74.0L54.5 73.0L54.8 71.5L57.8 69.0L56.2 66.0L54.8 64.8L54.0 65.0L53.2 66.5L52.2 67.2L50.5 67.2L48.8 66.0L51.0 65.2L52.2 64.2L54.2 61.8L56.0 61.5L56.2 60.2L58.2 58.0L57.8 53.5L58.5 53.0L59.2 53.0L61.2 54.8L63.5 55.8L64.5 55.5L65.2 54.0L65.8 54.5L65.2 55.5L65.2 57.2L64.0 58.8L63.8 60.5L66.8 65.2L67.8 66.2L68.5 68.2L69.5 68.2L69.8 67.0L71.8 63.8L72.5 63.5L73.5 63.8L74.8 64.8L75.2 65.8L74.2 67.0L74.2 68.5L75.5 69.2L76.5 70.5L75.8 72.5L75.8 74.8L76.5 75.0L77.5 74.2L79.2 74.0L80.8 75.2L80.2 76.0L77.5 76.8L77.2 77.8L77.8 78.2L79.0 78.5L81.5 78.2L82.8 79.8L83.2 82.0L85.5 83.8L88.2 83.5L89.0 84.0L90.2 84.0L90.5 83.2L89.2 82.0L89.0 80.8L90.5 79.0L91.5 79.0L93.2 80.5L93.8 81.8L93.5 83.2L92.5 84.5L91.8 84.8L91.0 86.5L88.8 88.8L89.5 89.8L91.5 89.2L94.0 92.2L95.8 91.8L97.2 92.0L98.0 92.8L98.0 95.5L98.5 95.8L101.2 95.8L102.0 94.5L103.5 93.8L105.0 93.8L106.0 94.8L106.0 83.2L104.8 82.5L104.2 81.0L102.5 79.0L102.5 78.5L105.0 76.0L106.0 75.8L106.0 74.2L104.2 73.2L98.0 67.0L97.0 63.8L97.0 62.2L98.0 59.5L97.0 57.2L98.8 55.0L99.0 52.8L96.8 53.0L94.5 51.5L93.2 51.5L92.5 52.0L92.0 53.2L91.0 54.2L88.2 55.5L87.0 55.5L85.5 57.2L83.8 56.8L81.8 56.8L81.2 57.2L81.5 60.8L79.2 62.0L78.5 65.0L76.5 62.8L75.5 62.8L75.0 62.2L75.5 61.8L76.8 61.5L78.0 59.8L78.0 57.8L75.2 54.8L75.2 54.2L76.2 53.2L76.2 52.2L77.0 51.5L78.5 51.0L79.0 50.2L78.5 47.2L77.8 46.5L76.2 46.2L75.8 45.8L77.2 44.5L77.8 42.8L77.2 42.2L75.8 42.5L75.0 42.2L74.0 41.2ZM81.8 125.5L82.2 124.5L83.0 125.0L82.5 125.8ZM67.0 119.8L68.0 121.2L67.8 124.5L68.2 125.2L68.2 128.0L67.2 129.2L65.2 129.2L64.0 129.8L61.8 128.0L61.5 126.8L62.5 125.5L63.5 125.0L64.5 125.0L65.0 124.5L64.0 122.2L63.8 120.0L64.2 119.5L66.0 120.0ZM96.8 73.5L98.0 74.5L97.8 75.8L98.0 78.5L99.5 80.2L99.8 81.0L99.5 81.8L98.0 83.5L98.0 85.2L97.5 86.0L97.2 87.5L96.5 88.2L95.0 88.2L94.2 87.8L94.0 87.0L94.2 86.2L96.5 84.5L96.8 83.2L95.8 82.2L94.5 81.8L93.5 80.8L93.5 80.0L95.0 78.0L95.5 76.8L95.2 74.2L96.0 73.5ZM83.5 73.2L84.2 73.2L84.8 73.8L84.8 74.8L84.2 75.2L83.8 75.2L83.0 74.2ZM52.0 72.8L52.0 73.8L50.5 75.0L50.0 76.5L49.2 77.2L47.8 77.8L45.0 76.5L45.0 76.0L47.5 73.2L49.8 72.2L51.5 72.2ZM79.0 66.0L80.2 66.0L82.0 66.8L82.0 67.5L81.0 68.2L80.2 70.8L79.8 71.2L78.5 71.2L78.0 70.5ZM91.5 64.8L93.5 66.5L93.8 67.2L93.5 68.2L92.8 69.0L91.2 68.8L90.5 67.5L90.5 65.8ZM65.8 27.8L65.8 28.2L66.8 29.0L68.2 29.0L70.0 30.0L70.8 30.0L74.2 28.2L74.5 26.8L74.0 25.8L69.8 25.5L66.5 26.5ZM6.5 21.5L5.5 24.2L5.5 25.8L6.8 28.8L8.8 30.0L7.8 28.8L6.8 26.2L8.0 25.0L10.5 25.0L11.8 26.2L11.8 28.5L11.2 29.2L11.2 30.0L12.0 30.8L17.0 31.8L19.2 33.0L19.0 31.8L17.0 30.8L16.0 29.8L15.8 26.8L14.8 25.2L12.2 22.8L12.2 21.8L13.5 21.0L13.2 20.8L10.2 20.0L8.5 20.0ZM67.2 19.8L67.0 21.0L67.8 21.5L68.8 21.5L69.0 20.8L68.0 19.8ZM58.2 17.0L57.5 16.8L48.5 21.2L49.0 21.2L49.8 22.2L48.2 23.2L48.5 24.2L49.0 24.5L50.0 23.0L52.5 22.5L53.2 21.2L56.2 18.2L58.2 17.5ZM62.8 15.0L62.0 17.0L62.2 17.5L63.5 18.2L66.5 18.8L67.0 14.8L67.8 13.8L68.5 13.8L70.0 15.5L70.2 16.5L71.5 17.8L74.0 18.5L76.0 19.8L76.5 20.5L76.5 23.8L77.0 24.8L79.0 26.8L79.5 27.8L79.5 29.0L81.0 32.8L81.0 33.5L80.0 34.8L80.0 36.2L81.8 41.8L82.8 42.8L84.0 43.2L86.5 43.2L88.0 44.5L88.2 45.0L87.0 47.0L87.5 48.8L89.5 49.0L90.8 48.8L92.5 47.5L93.8 47.5L94.5 46.5L94.5 44.2L95.8 43.2L97.8 44.0L99.2 45.2L100.5 45.0L100.2 43.8L98.8 42.0L98.8 40.2L99.5 38.8L99.5 38.0L98.8 36.8L98.8 35.5L97.0 34.5L90.2 32.2L86.5 30.0L85.8 30.0L84.0 28.5L85.2 26.5L85.2 25.0L85.8 23.5L87.8 23.2L87.5 19.8L86.8 18.5L86.8 17.2L87.2 16.8L88.2 17.2L88.2 16.8L86.2 15.0L85.0 14.2L76.8 11.5L75.2 11.5L72.8 12.8L66.2 13.8L63.2 14.5ZM92.8 39.5L94.0 39.2L95.0 40.0L93.2 40.2ZM84.5 20.0L85.2 20.0L85.8 20.5L86.0 21.2L85.5 21.8L84.0 21.0ZM83.2 15.0L83.8 15.8L82.5 17.2L81.5 17.5L81.0 17.0L81.5 15.8L82.2 15.0ZM53.2 1.5L52.2 0.8L50.8 0.5L48.0 0.5L44.8 1.5L39.2 5.2L40.8 5.0L43.2 3.5L49.0 2.0L52.5 2.0L53.2 2.8L53.5 3.8L52.8 6.0L51.8 6.8L48.0 7.5L43.2 9.5L41.0 9.5L39.8 9.2L39.0 8.5L38.2 6.5L38.5 5.8L35.5 8.5L35.2 9.8L34.8 10.0L34.2 9.8L33.2 10.5L33.2 11.2L32.0 12.5L31.2 12.5L30.5 12.0L28.2 12.5L25.5 13.8L22.2 16.5L21.8 17.2L22.0 17.0L23.8 18.5L24.8 19.0L25.5 18.2L26.2 18.5L26.2 19.2L25.5 19.8L24.2 24.2L25.5 24.2L26.2 23.8L27.8 23.5L33.5 25.8L36.0 27.8L36.8 31.0L35.0 34.0L34.8 36.2L33.8 37.0L32.2 37.0L30.0 38.5L27.8 37.5L25.0 37.2L23.5 36.0L22.8 34.8L22.0 34.8L21.2 35.8L20.2 36.2L20.0 39.5L21.5 41.5L25.2 42.5L27.5 42.2L31.2 40.5L35.5 36.8L38.5 37.0L40.0 36.5L42.0 36.5L47.2 38.2L48.8 38.0L49.2 38.8L55.0 39.2L57.2 40.5L59.5 38.8L59.2 38.0L57.2 37.5L55.2 35.0L53.2 34.8L52.2 33.8L50.8 31.5L51.0 29.0L49.8 27.8L48.5 27.5L47.5 28.0L43.8 28.0L43.5 27.8L41.8 28.0L40.2 26.0L40.2 25.0L41.0 24.2L44.5 23.0L44.0 22.8L44.2 21.8L47.2 18.5L49.5 17.5L49.5 16.2L50.8 15.0L50.8 14.5L49.5 12.8L51.0 10.2L53.2 8.5L55.0 6.2L54.5 3.0ZM22.5 38.5L23.0 38.0L24.8 37.8L26.0 38.0L27.0 38.8L27.2 40.5L26.2 41.2L23.5 40.8L22.8 40.0Z" fill="#dbeaf2" fill-rule="evenodd"/><path d="M67.2 142.8L67.2 143.0L68.2 143.0L68.0 142.5ZM44.0 141.8L43.5 141.8L43.8 143.0ZM78.8 140.5L78.0 141.8L78.0 143.0L80.8 143.0L81.0 141.0L80.2 140.2ZM80.0 137.8L80.2 138.2L81.0 138.0ZM59.5 137.8L59.0 139.0L59.2 139.8L60.2 140.5L61.0 140.5L61.5 140.0L61.2 138.5L60.5 137.8ZM72.2 137.8L71.8 137.2L70.5 137.2L68.5 138.2L66.5 138.0L67.2 140.5L67.8 141.0L68.5 141.0L70.2 140.2L72.2 140.0L72.5 139.8ZM78.5 136.5L77.5 136.2L76.8 136.8L76.5 137.5L77.8 137.8L78.2 137.5ZM57.5 132.8L57.2 133.8L57.8 134.2L58.5 134.2L58.8 134.0L58.5 133.2ZM106.0 132.5L105.0 133.5L105.0 134.5L106.0 135.5ZM50.2 130.5L48.8 130.5L48.0 131.2L47.8 134.2L44.2 138.5L45.0 139.2L44.5 141.8L47.0 142.5L48.5 140.2L50.5 133.5L50.5 130.8ZM64.5 130.0L64.8 130.5L66.2 130.2L66.2 129.8ZM60.8 129.0L59.8 128.5L58.8 129.5L60.2 129.8L60.8 129.5ZM51.8 128.2L51.2 128.5L51.0 129.8L51.8 129.2ZM106.0 117.8L103.5 120.2L103.2 121.5L104.2 122.5L106.0 122.8L106.0 121.8L105.5 121.8L104.8 120.8L105.5 119.8L106.0 119.8ZM106.0 112.5L105.2 113.0L104.8 114.0L104.8 115.2L106.0 116.0ZM49.2 110.0L48.5 109.5L47.5 111.2L42.5 114.0L34.2 115.5L34.2 116.8L34.8 118.0L36.0 118.0L35.5 117.2L35.8 116.0L37.2 116.5L39.8 116.2L42.0 118.5L44.0 118.8L46.0 119.8L48.8 119.2L50.2 120.2L51.0 118.8L49.8 116.0L49.5 113.8L48.8 111.8ZM44.2 103.2L47.2 104.8L47.8 104.0L47.8 102.5L47.2 102.2L46.2 102.2ZM106.0 98.2L104.0 99.8L102.2 100.2L101.5 101.5L101.8 102.8L103.5 105.0L103.5 106.0L104.8 107.0L106.0 107.0L106.0 105.0L104.5 104.2L104.8 103.0L106.0 102.5ZM95.8 98.2L95.8 102.0L96.0 102.0L96.5 101.0L96.5 98.8ZM34.0 100.0L37.2 100.0L38.0 100.5L38.5 99.2L40.2 97.8L38.2 97.0L35.5 97.2L35.5 98.5ZM74.0 88.8L74.2 89.2L74.8 89.2L76.2 88.5L78.0 88.2L80.8 88.5L82.0 88.0L82.5 87.2L80.0 87.0L78.8 86.0L77.8 86.0L76.0 87.5L74.5 87.8ZM69.0 84.5L68.0 84.5L66.0 85.8L66.0 86.5L66.2 86.8L68.5 86.5L69.0 86.0ZM54.2 80.8L54.2 81.5L55.0 82.5L56.0 83.0L57.2 82.5L57.2 81.8L56.0 80.5ZM45.5 78.0L45.5 79.2L42.5 83.0L40.8 83.5L40.5 87.8L42.8 90.8L45.0 89.8L46.8 90.0L47.5 90.5L47.5 92.0L46.5 94.0L48.5 96.8L49.0 98.2L48.8 99.8L49.5 101.0L51.2 101.8L52.2 102.8L51.8 105.0L51.0 105.8L49.8 106.0L49.8 109.8L50.2 110.0L53.5 109.8L54.2 110.5L55.2 113.8L55.2 114.8L54.5 116.0L54.5 116.8L55.5 118.8L56.8 119.8L59.0 124.2L59.0 125.0L60.0 126.5L61.0 126.8L62.8 125.0L64.5 124.2L64.0 123.5L63.5 120.8L62.0 120.2L61.8 119.8L63.5 118.8L64.2 118.8L65.0 119.2L67.0 119.2L68.0 120.2L68.0 124.5L68.8 126.0L68.5 129.0L70.5 130.5L73.5 131.2L75.0 131.2L76.8 132.0L78.2 131.0L80.0 130.5L81.2 129.2L82.8 128.8L84.8 130.8L84.0 132.0L84.0 133.0L84.8 134.0L86.2 134.5L88.8 134.0L89.5 133.0L90.2 130.5L90.8 130.5L91.2 131.2L92.0 131.5L93.5 131.2L94.5 130.2L94.8 128.5L93.8 127.5L94.5 126.5L97.0 125.0L99.8 125.0L100.0 124.8L99.5 122.2L98.5 121.0L96.0 119.2L94.2 119.2L93.0 119.8L90.5 120.0L89.8 121.0L89.8 122.2L88.0 123.2L87.5 125.5L86.8 125.2L86.5 122.5L85.2 121.0L84.8 120.8L83.8 121.0L83.0 121.8L83.0 122.8L83.8 124.0L83.8 125.8L82.5 126.8L81.0 127.0L80.0 128.2L78.2 127.8L77.2 126.8L77.2 126.2L77.8 125.8L79.8 125.8L80.5 125.0L80.5 124.5L79.2 123.5L79.5 122.2L79.2 121.0L78.2 120.0L76.5 120.2L75.5 119.8L74.0 118.0L73.5 116.2L72.8 115.5L71.5 115.8L68.8 118.0L67.5 117.8L65.2 116.0L64.5 114.8L65.5 113.2L65.0 112.8L64.2 112.8L62.8 113.5L62.0 112.8L61.8 110.8L60.2 107.0L56.8 102.8L56.0 101.2L56.0 100.2L56.8 99.5L58.2 99.8L59.5 100.5L60.8 100.5L62.8 99.2L63.8 99.8L66.5 99.5L67.0 98.8L67.0 96.5L66.5 95.5L65.0 95.8L64.2 97.8L63.5 98.5L63.0 98.5L62.2 97.5L62.0 96.0L60.8 93.5L60.8 90.2L60.5 90.0L58.8 90.0L56.0 90.8L49.8 90.5L49.0 89.8L49.0 87.8L48.5 86.8L47.0 85.2L48.2 82.8L51.5 81.8L52.0 78.2L51.2 77.5L48.5 78.0ZM85.5 130.8L85.8 130.2L87.0 130.5L86.5 131.0ZM90.0 127.0L90.5 127.2L90.2 128.2L89.8 127.8ZM45.8 86.0L46.0 85.2L46.8 85.8L46.0 86.2ZM73.8 75.2L72.5 74.8L71.2 75.0L69.8 75.8L69.2 76.5L70.2 78.2L71.8 78.2L73.5 77.2L74.0 75.8ZM60.2 75.2L60.5 76.8L61.0 77.8L61.5 78.0L64.2 78.0L65.8 77.2L67.0 77.2L67.8 76.5L67.8 75.8L67.2 75.2L64.5 75.2L62.5 74.5L60.8 74.8ZM22.0 66.2L22.5 66.2L23.0 67.0L22.5 68.0L24.5 70.0L26.5 71.5L26.8 71.2L28.8 71.5L30.2 73.5L33.0 74.8L35.5 77.2L37.5 81.5L37.0 79.5L38.8 76.5L42.0 75.5L44.5 75.8L47.2 73.0L50.0 71.8L51.8 71.8L52.8 73.0L52.5 74.2L51.2 75.5L51.5 75.8L52.5 75.0L54.2 74.5L54.0 71.8L55.0 70.5L55.8 70.2L57.0 69.0L56.8 67.8L55.8 66.8L54.8 66.8L53.0 68.5L52.2 68.0L48.5 67.0L44.0 64.8L42.5 63.2L41.0 63.5L39.8 62.5L38.0 62.5L37.0 64.5L36.2 65.2L32.8 65.5L32.0 64.0L30.8 63.2L30.0 62.2L28.5 63.0L26.5 61.2L22.8 64.2ZM33.2 72.5L33.8 72.5L34.2 73.2L34.0 74.5L33.5 74.5L32.8 73.8L32.8 73.0ZM47.0 55.0L46.8 56.5L45.0 58.2L45.0 59.2L46.2 61.2L46.2 62.2L46.8 63.2L48.0 64.5L50.2 64.5L51.5 63.5L51.8 62.2L48.5 62.2L47.0 60.8L47.2 58.8ZM74.0 54.8L72.8 55.0L71.5 54.2L70.2 54.0L67.0 54.5L66.0 55.5L65.8 57.0L64.2 59.0L64.0 60.0L64.5 61.2L68.0 66.0L68.8 66.2L69.0 65.2L66.8 63.0L67.0 62.2L69.5 63.0L72.8 62.5L75.0 61.2L76.5 61.0L77.2 60.2L77.8 59.0L77.5 58.0ZM93.5 52.0L92.5 52.8L91.5 54.2L88.5 55.8L87.2 56.0L86.5 56.8L86.2 57.8L85.5 58.2L83.2 57.0L82.2 57.0L81.8 57.5L82.0 61.0L79.5 62.2L79.2 64.5L79.8 65.5L82.2 66.2L82.8 66.8L82.8 67.5L81.0 69.0L80.8 70.8L80.2 71.5L79.0 72.0L77.5 71.0L77.2 70.5L78.0 69.2L78.5 67.0L76.2 63.8L75.2 64.0L76.0 65.8L75.0 67.0L75.0 68.0L77.0 70.2L76.0 72.5L76.2 74.2L79.0 73.5L82.0 75.2L82.5 74.8L82.5 73.5L83.2 72.8L84.5 72.8L85.2 73.5L85.5 74.8L84.5 76.2L83.5 76.2L81.8 77.0L80.8 76.5L79.0 76.5L78.2 76.8L77.8 77.8L78.0 78.0L80.5 78.0L80.8 77.8L81.8 78.0L82.5 78.8L83.8 81.8L85.5 83.2L87.2 83.2L88.2 82.5L88.5 79.8L90.2 78.0L91.5 78.0L92.8 78.8L94.2 78.2L95.0 76.5L94.2 75.0L94.2 74.0L95.2 73.0L98.5 73.0L99.2 73.8L99.2 75.5L98.5 76.2L98.2 77.5L98.8 78.8L100.2 79.8L100.2 81.0L98.8 83.5L98.8 85.0L97.8 86.8L97.8 88.0L97.0 88.8L95.5 88.8L93.8 88.0L94.0 85.8L95.2 85.0L96.0 84.0L95.8 83.0L94.5 82.8L93.8 84.0L92.0 85.5L91.5 87.0L93.0 90.5L94.0 91.8L97.5 91.5L98.5 92.2L98.8 92.8L98.5 94.8L99.2 95.2L99.8 95.0L99.5 93.5L100.2 92.8L102.0 93.5L103.5 93.2L106.0 93.5L106.0 83.8L104.8 84.0L104.2 85.5L103.5 86.2L103.0 85.8L102.8 84.8L104.0 82.8L103.8 81.2L102.8 80.2L100.8 79.0L100.8 78.0L100.2 77.2L100.2 76.5L100.8 76.0L103.2 76.5L105.2 75.5L106.0 75.5L106.0 74.2L104.2 73.2L100.2 69.2L99.5 69.0L97.8 66.5L97.0 63.8L97.0 62.2L98.0 59.5L96.8 58.5L96.5 57.0L98.0 55.2L98.5 53.8L96.5 53.2L94.5 52.0ZM85.8 77.5L86.2 77.0L87.0 77.0L88.0 77.8L88.2 78.5L87.8 79.0L86.8 79.0L86.0 78.5ZM91.2 64.2L91.8 64.2L93.8 66.2L94.2 67.2L93.8 68.8L92.8 69.5L91.8 69.5L90.0 68.2L90.0 65.8ZM39.2 46.8L38.5 47.5L38.5 49.0L37.5 50.2L36.2 50.2L35.8 49.8L34.0 51.5L35.0 53.0L34.0 54.8L34.0 55.5L35.2 56.5L35.5 58.5L36.0 58.5L36.8 57.5L36.2 55.8L38.5 53.5L38.8 52.5L38.5 50.8L39.5 49.8L40.0 48.5L40.0 47.8ZM75.5 43.0L74.2 43.2L74.2 44.8L72.5 46.5L71.0 47.5L69.0 48.0L69.8 48.8L71.5 48.5L72.2 48.0L73.8 48.0L74.8 48.8L75.5 51.2L73.5 52.8L73.8 53.2L75.2 53.0L75.5 52.5L75.2 51.5L75.8 51.0L78.0 50.8L78.8 49.8L78.5 48.0L77.2 47.0L75.8 47.2L74.8 46.5L74.5 45.8L74.8 45.0L76.5 44.0L76.5 43.5ZM62.5 42.8L58.0 42.5L57.8 43.2L57.0 43.8L53.5 44.5L55.0 45.0L56.2 46.2L56.8 49.0L55.8 50.5L52.8 51.2L51.8 52.0L51.5 58.8L52.0 59.2L53.8 59.0L55.0 60.2L55.8 60.2L57.2 58.8L58.0 57.2L57.0 54.0L58.0 52.8L59.5 52.5L61.8 54.5L63.5 55.0L63.5 54.2L62.2 52.2L62.2 51.5L63.2 49.2L64.5 48.0L65.2 46.5L64.5 45.0ZM72.2 41.5L72.8 42.0L73.5 42.0L73.0 41.5ZM15.2 30.8L15.2 31.5L17.0 31.8L18.8 32.8L18.8 32.2L18.0 31.5ZM6.2 27.8L6.5 28.5L8.0 29.5L7.2 28.0ZM80.0 27.8L80.2 30.5L81.8 32.8L81.8 33.8L80.2 35.2L81.8 40.5L82.5 41.8L83.8 42.8L86.2 42.2L89.2 44.5L89.0 45.8L87.5 47.2L88.0 48.5L90.2 48.5L91.8 47.2L93.5 47.0L94.2 45.8L94.0 43.8L95.5 42.5L98.2 43.2L98.2 41.5L97.8 40.0L98.5 39.0L98.5 37.8L98.0 37.0L98.0 35.0L90.2 32.2L87.8 30.8L87.0 30.8L86.5 31.2L87.0 33.0L85.2 35.2L84.5 35.2L84.0 34.8L84.2 31.5L84.8 30.5L84.5 29.8L81.0 27.5ZM91.5 37.2L92.0 36.8L93.0 36.8L94.5 38.5L96.8 39.2L97.2 40.0L95.5 41.5L92.8 41.0L91.8 40.0ZM84.2 37.5L85.0 36.8L86.0 36.8L87.5 37.8L87.5 38.5L86.8 39.2L85.5 39.2L84.2 38.2ZM88.8 33.0L89.5 32.8L90.0 33.2L89.2 33.8ZM66.2 28.2L66.8 28.8L68.0 28.8L69.8 29.8L71.2 29.8L73.2 28.0L74.0 27.8L74.2 26.8L73.8 26.0L69.5 25.8L66.5 26.8ZM6.8 21.2L5.5 24.2L5.5 25.5L7.0 25.5L7.8 25.0L11.0 25.0L11.8 25.8L12.0 26.8L11.8 29.2L12.5 30.0L14.8 29.5L15.2 28.8L15.5 27.2L14.8 25.8L12.0 22.5L12.2 21.5L13.2 20.8L10.2 20.0L8.5 20.0ZM56.0 17.5L49.8 20.8L50.8 22.2L52.0 22.2ZM65.8 14.5L64.2 14.8L63.2 15.5L63.0 16.0L63.2 17.5L64.5 18.0L66.0 17.8L66.0 14.8ZM69.8 13.2L71.0 16.8L72.8 18.0L75.2 18.8L76.5 20.0L77.0 24.0L78.8 25.8L79.5 25.8L79.5 24.2L80.2 23.8L82.2 24.8L82.2 26.5L82.8 27.0L84.0 27.2L84.8 26.8L85.0 22.8L83.5 21.2L83.2 20.5L84.2 19.2L85.8 18.2L86.0 17.2L85.8 16.0L85.0 15.5L83.0 17.5L80.2 18.5L78.2 18.5L77.8 17.5L78.2 17.0L79.2 17.2L80.2 17.0L82.0 14.5L84.8 14.8L85.2 14.5L76.8 11.5L75.2 11.5L75.5 11.8L75.2 13.0L73.5 12.2L72.8 12.8ZM55.0 5.8L53.5 4.8L52.8 6.2L51.5 7.0L48.2 7.5L43.5 9.5L39.8 9.2L38.8 8.2L38.2 6.8L37.8 6.5L35.8 8.2L36.2 9.0L36.0 10.0L34.0 11.0L32.2 12.8L29.8 12.8L28.5 13.5L27.5 13.0L26.5 13.2L24.8 14.2L22.2 16.5L22.0 17.0L23.0 17.2L24.0 18.2L25.0 17.8L26.2 17.8L26.8 18.2L26.8 19.5L25.5 21.0L24.5 23.8L25.0 24.0L27.0 22.8L27.8 22.8L29.0 23.8L33.8 25.8L36.2 27.5L37.0 29.5L37.0 31.5L35.2 34.5L35.0 37.2L34.8 37.5L33.2 37.2L31.8 37.5L30.2 39.0L27.2 37.5L25.0 37.5L22.8 35.5L20.8 36.2L20.0 37.8L20.0 39.5L21.5 41.5L25.2 42.5L27.5 42.2L31.2 40.5L35.5 36.8L38.5 37.0L40.0 36.5L42.0 36.5L47.2 38.2L48.0 37.5L49.2 37.5L50.0 38.0L50.2 38.8L55.0 39.2L56.8 40.2L58.8 38.8L58.8 38.2L58.2 38.0L57.0 38.0L55.0 35.5L53.0 35.5L52.0 34.5L51.5 33.0L50.2 31.5L50.5 29.2L50.0 28.5L49.2 28.0L47.0 28.2L41.2 28.0L40.0 25.8L40.0 25.0L41.0 24.0L42.5 23.8L44.0 23.0L44.0 22.2L45.0 20.8L47.2 18.5L49.2 17.5L49.0 16.2L50.8 14.5L49.5 12.8L51.0 10.2L54.0 7.8ZM22.5 38.2L23.2 37.8L25.8 37.8L27.2 39.0L27.5 40.5L26.8 41.2L23.8 41.0L23.0 40.5L22.5 39.5ZM54.2 2.5L52.2 0.8L48.0 0.5L44.8 1.5L40.0 4.8L40.8 4.8L44.2 3.0L46.5 2.8L49.2 1.8L52.5 1.8L53.8 2.8Z" fill="#c5dfec" fill-rule="evenodd"/><path d="M80.2 141.8L79.8 141.2L78.8 141.5L78.2 143.0L80.2 143.0ZM71.5 138.2L70.5 137.8L68.0 138.8L67.5 139.5L68.2 140.2L71.0 139.5L71.5 139.0ZM106.0 133.0L105.5 133.5L105.8 135.0L106.0 135.0ZM85.0 133.0L85.5 133.5L86.5 133.5L88.2 132.5L88.0 132.0L86.0 132.0L85.2 132.2ZM49.2 131.2L48.8 131.5L48.5 134.0L47.2 136.0L47.5 137.8L47.0 138.8L45.8 139.5L45.2 140.5L45.8 141.2L47.8 141.0L48.5 139.8L50.2 134.2L50.2 132.5L49.8 131.5ZM92.5 128.5L91.8 130.0L92.0 130.8L93.2 131.0L94.2 130.0L94.2 129.0L93.5 128.5ZM84.0 121.5L83.8 122.5L84.5 124.0L84.8 125.8L83.5 127.2L83.8 128.5L84.5 129.2L86.2 129.0L88.2 129.5L88.8 129.0L88.5 127.2L88.0 126.8L86.5 126.8L85.5 126.0L86.0 123.5L85.5 122.2L84.8 121.5ZM96.2 119.5L93.8 119.5L92.8 120.0L90.5 120.2L90.0 120.8L90.2 123.0L88.8 124.0L89.0 125.2L90.8 125.5L92.2 127.0L96.5 124.8L98.8 124.2L99.0 124.0L98.8 122.2ZM72.2 116.0L71.2 116.5L69.8 118.5L67.8 118.8L68.2 120.0L68.2 123.5L68.0 123.8L68.5 125.0L69.2 125.8L68.8 128.0L70.8 130.0L77.0 131.2L79.5 130.0L79.5 129.5L78.0 128.0L76.5 127.5L76.0 126.8L76.2 125.5L76.8 125.0L78.5 124.8L78.2 121.8L77.2 121.0L75.8 120.8L73.5 118.0L73.0 116.5ZM40.0 114.5L37.0 115.0L38.2 115.2ZM106.0 113.2L105.2 114.0L105.5 115.2L106.0 115.2ZM48.5 110.5L48.2 110.2L47.0 112.2L44.2 113.0L42.8 114.0L40.2 115.0L40.5 116.5L42.0 118.0L43.8 118.0L44.5 119.0L48.0 119.2L49.0 118.8L50.0 117.2L50.0 116.5L49.5 115.5L49.2 113.2L48.0 111.8L48.5 111.2ZM47.2 103.0L46.8 102.8L46.2 103.0L45.8 104.0L46.5 104.2ZM102.2 101.2L102.0 102.2L102.5 103.0L103.2 103.2L103.5 102.2L102.8 101.2ZM106.0 99.0L104.8 100.0L104.5 100.8L104.8 101.5L105.5 102.0L106.0 102.0ZM66.0 96.2L65.5 96.5L64.8 98.2L65.0 99.2L66.0 99.0L66.5 98.2L66.5 97.0ZM48.5 90.8L46.8 93.5L47.0 95.0L48.5 96.8L49.0 98.2L48.8 99.2L49.5 100.8L52.2 102.5L51.8 105.2L51.2 105.8L50.0 106.0L50.0 109.5L51.0 110.0L53.0 109.5L54.0 110.0L55.2 113.5L55.2 114.8L54.5 116.2L55.8 118.8L56.8 119.5L57.8 122.0L59.2 124.2L59.5 125.5L60.2 126.0L61.0 126.0L63.5 123.5L63.5 122.0L63.0 121.2L62.0 121.2L60.8 122.2L60.5 122.0L60.8 119.5L63.8 118.0L65.2 118.8L66.8 118.8L67.0 118.0L65.5 116.8L64.2 116.2L62.5 114.2L61.8 113.0L61.5 110.5L60.2 107.5L56.5 102.8L55.8 101.2L55.8 100.2L56.8 99.0L57.8 99.0L59.2 99.8L60.8 99.8L62.0 98.5L61.8 96.8L60.5 94.0L60.2 91.2L59.8 90.8L57.2 90.8L57.0 91.0ZM77.8 87.0L77.8 87.8L79.0 88.0L79.8 87.8L78.2 86.5ZM93.0 86.0L92.5 86.0L92.2 86.8L92.8 87.5ZM54.8 81.0L54.8 81.8L55.5 82.5L57.0 82.2L57.0 81.8L55.8 80.8ZM101.0 80.5L98.2 86.8L98.8 89.5L97.8 89.8L96.2 89.0L94.2 88.8L93.2 89.2L93.2 90.2L94.5 91.5L98.2 90.8L99.2 91.5L101.0 91.2L102.8 93.0L104.0 92.8L106.0 93.0L106.0 84.2L105.0 84.8L104.8 86.2L104.0 87.0L103.2 87.0L102.2 85.5L102.5 83.8L103.2 82.0L102.2 80.8ZM50.2 78.2L46.5 78.5L45.8 79.2L45.5 80.2L42.5 83.2L41.2 83.5L40.8 84.0L40.5 84.8L40.8 88.0L42.5 90.5L45.0 89.5L48.0 89.5L48.5 89.0L48.2 87.2L47.5 86.8L46.0 87.0L45.0 85.5L45.2 84.5L46.5 84.0L47.8 82.5L50.2 82.0L51.0 81.5L51.0 78.8ZM82.8 77.5L82.5 78.2L84.0 81.2L85.8 83.0L87.2 82.8L88.0 81.8L87.8 80.0L86.0 79.5L85.2 78.8L85.0 77.5L84.5 77.0ZM78.5 77.2L78.5 77.8L80.5 77.5L80.2 77.0ZM73.2 75.2L72.5 75.0L70.2 75.8L69.8 76.5L70.8 77.8L72.0 77.8L73.0 77.0ZM60.8 75.2L61.0 77.2L61.5 77.8L64.2 77.8L66.0 76.8L67.2 76.5L67.2 75.5L64.8 75.5L62.8 74.8L61.8 74.8ZM76.8 66.0L75.8 66.8L75.8 67.8L76.2 69.0L76.8 69.5L77.5 69.5L78.0 68.2L78.0 66.8ZM47.0 62.0L47.0 62.8L47.8 63.5L48.8 63.8L49.2 63.2L48.8 62.5ZM22.2 65.5L23.2 66.2L23.8 68.5L23.2 68.8L26.2 71.2L28.2 71.0L29.2 71.5L31.0 73.5L32.0 73.5L32.2 72.8L33.2 71.8L34.5 73.2L34.5 75.2L34.0 75.5L33.2 75.0L35.5 76.5L36.2 79.0L38.5 76.5L40.2 75.8L44.5 75.5L46.2 74.0L47.0 72.8L49.8 71.2L50.8 71.5L52.5 71.2L53.2 71.8L54.2 69.8L55.2 69.8L56.2 69.0L56.2 68.5L55.2 68.0L54.0 70.0L53.0 70.0L52.0 68.5L48.2 67.2L42.8 64.2L42.0 64.2L41.0 65.0L37.5 65.0L35.0 65.8L32.5 65.8L31.5 64.0L30.2 63.0L28.0 63.2L26.2 61.8L23.2 63.8ZM64.5 59.5L64.5 60.5L65.2 61.5L67.0 61.2L68.5 62.2L70.2 62.5L72.8 62.0L74.5 61.0L76.8 60.2L77.2 59.0L77.0 58.2L75.5 57.2L74.8 55.8L72.5 55.2L71.2 54.5L67.5 54.8L66.5 55.5L66.0 57.5ZM106.0 75.2L105.8 74.0L104.2 73.2L101.0 70.0L99.8 69.8L98.2 68.2L97.5 66.5L97.5 65.0L97.0 63.8L97.0 62.2L97.8 60.0L95.8 58.0L95.8 57.0L97.2 55.2L97.5 54.0L94.2 52.5L93.2 52.8L92.5 54.0L91.5 54.8L90.8 54.8L87.2 56.5L87.0 58.2L86.5 58.8L85.2 58.8L83.2 57.5L82.2 57.8L82.5 61.2L81.8 61.8L80.2 62.0L79.5 63.0L79.5 64.0L80.0 65.2L83.0 66.2L83.8 67.2L81.8 68.8L81.2 69.8L81.2 71.0L80.0 72.2L78.5 72.5L77.2 71.5L76.2 72.5L76.5 73.8L79.2 73.0L81.0 74.0L81.8 74.0L82.5 72.5L85.0 72.2L85.8 73.0L86.0 74.8L86.8 76.0L88.5 77.0L91.0 77.0L92.5 77.8L93.8 77.8L94.2 77.2L94.2 76.2L93.0 75.0L91.2 75.0L90.5 74.0L91.0 73.0L93.8 73.5L95.0 72.5L99.5 72.2L100.0 72.8L100.0 74.2L100.8 75.2L101.5 75.5ZM94.8 67.0L94.5 68.5L93.5 69.8L92.8 70.0L91.2 69.8L89.2 68.8L86.0 69.0L85.2 68.2L86.0 67.5L88.8 67.8L89.2 67.2L89.5 65.5L91.2 63.5L91.8 63.5ZM85.2 63.8L85.8 63.2L86.5 63.2L87.8 64.8L87.8 65.2L87.2 65.5L85.8 64.5ZM93.2 56.8L94.0 56.8L94.8 57.2L94.5 58.2L93.8 59.0L92.5 58.8L92.5 57.5ZM35.5 51.2L35.2 51.5L35.5 54.5L36.8 54.5L37.8 54.0L38.2 53.2L38.0 51.8L37.5 51.2ZM76.0 47.8L75.5 48.2L75.5 49.2L76.0 50.2L77.8 50.5L78.2 50.0L78.0 48.0L77.2 47.5ZM62.5 43.0L58.0 42.8L57.0 43.8L54.8 44.2L56.5 45.8L56.8 49.8L56.2 50.5L52.8 51.5L52.0 52.2L52.2 53.0L51.8 57.2L52.0 58.5L54.2 58.2L55.5 59.2L56.0 59.2L57.5 57.8L57.5 56.2L57.2 55.5L56.2 54.5L56.5 54.0L58.5 52.2L60.2 52.2L61.5 53.2L61.2 52.5L61.5 51.8L62.2 51.0L63.2 49.0L64.5 47.8L65.0 46.5L63.8 44.2ZM32.2 37.8L31.5 38.8L32.0 39.2L32.8 39.2L33.5 38.2ZM26.2 37.8L27.2 38.8L27.5 39.5L27.2 41.5L30.0 41.0L29.8 39.5L28.5 38.2L27.5 37.8ZM20.5 36.8L20.0 37.8L20.0 39.5L21.8 41.5L25.2 42.5L26.8 42.5L26.0 42.0L26.0 41.5L23.5 41.0L22.8 40.2L22.2 38.5L23.0 37.8L24.5 37.5L23.0 36.2L21.5 36.2ZM91.5 32.8L91.2 33.8L90.5 34.5L87.2 34.5L86.8 35.0L86.5 36.2L88.0 37.8L88.0 38.8L87.0 39.8L85.0 39.8L83.2 38.5L82.0 39.0L82.5 40.8L83.8 42.0L86.5 41.8L89.2 43.2L91.2 43.2L92.0 44.0L91.0 45.5L89.8 46.0L88.2 47.2L88.2 48.0L88.8 48.2L89.8 48.2L91.5 46.8L93.2 46.5L93.8 46.0L93.8 45.0L93.2 44.0L93.8 42.0L92.2 41.5L91.2 40.2L91.0 38.8L91.2 36.8L92.5 36.0L93.5 36.2L94.8 37.5L95.8 37.8L96.8 35.8L96.0 34.2ZM80.5 28.2L80.2 29.5L80.8 30.8L81.5 31.5L82.2 31.8L82.8 31.5L83.2 30.8L83.2 30.0L81.8 28.5ZM66.5 28.2L68.0 28.5L70.0 29.8L71.5 29.5L72.5 28.5L73.5 26.5L72.8 26.8L71.2 26.0L69.2 26.0L67.0 26.8L66.5 27.2ZM6.5 21.5L5.5 24.8L6.8 25.2L8.0 24.8L10.8 24.8L12.0 25.8L12.8 27.8L13.8 28.2L14.8 28.2L15.0 27.0L12.0 22.8L12.0 21.8L13.2 20.8L10.2 20.0L8.5 20.0ZM54.5 18.2L50.2 20.5L50.8 21.5L52.0 21.8ZM64.2 16.0L64.0 17.0L65.0 17.2L65.2 17.0L65.0 16.0ZM70.8 13.0L71.8 16.8L72.5 17.5L74.2 17.8L76.8 19.2L77.2 20.8L77.2 23.5L78.0 24.2L78.5 24.0L79.0 22.5L79.8 21.8L80.8 21.5L81.2 23.2L83.5 24.5L82.8 26.2L83.5 26.8L84.5 26.5L84.8 25.2L84.0 24.0L84.2 22.8L82.5 20.8L84.8 18.0L85.0 17.2L84.2 17.2L82.2 18.5L79.8 19.2L78.0 19.2L76.8 18.2L76.8 14.5L77.2 14.0L78.2 14.2L78.0 15.0L78.2 16.2L80.0 16.5L81.8 14.0L82.5 13.8L83.5 14.0L83.5 13.8L77.5 11.8L76.8 12.0L76.8 13.0L76.0 14.0L74.2 13.5L73.2 12.5ZM53.8 6.0L51.8 7.0L48.5 7.5L42.8 9.8L40.0 9.5L38.8 8.5L37.8 7.0L37.0 7.0L36.2 7.8L36.8 9.8L36.0 10.8L34.0 11.5L31.8 13.2L29.8 13.2L28.5 14.2L26.5 13.2L24.8 14.2L22.2 16.5L22.8 16.5L23.8 17.5L26.5 17.2L27.2 18.2L27.2 19.2L26.8 20.2L27.0 21.2L29.8 23.8L33.2 25.2L36.5 27.2L37.5 30.0L37.0 33.2L37.8 33.5L38.8 34.5L38.8 35.0L38.2 35.5L36.5 35.8L36.0 36.2L36.0 37.0L38.5 37.0L39.2 36.8L39.8 35.8L40.8 35.5L42.2 36.8L44.0 37.0L46.5 38.0L48.0 37.0L49.5 37.0L51.2 38.5L53.5 39.2L55.0 39.2L56.5 40.0L56.5 39.2L55.8 38.2L55.5 36.5L55.0 36.0L52.5 36.0L52.0 35.5L51.0 33.0L50.0 32.0L50.0 29.2L49.0 28.2L43.5 28.2L43.2 28.0L41.2 28.2L40.5 27.5L39.8 25.5L40.2 24.2L43.5 23.0L45.0 20.8L47.2 18.5L49.0 17.8L48.8 16.0L50.5 14.2L49.5 12.8L51.0 10.2L53.8 8.0L54.0 7.5ZM42.2 34.5L42.8 35.0L41.8 35.8L41.5 35.2ZM47.8 1.5L47.0 1.0L45.2 1.2L40.5 4.5L44.0 2.8L46.5 2.5L47.5 2.0ZM49.5 1.0L50.0 1.5L53.5 1.8L52.2 0.8L49.8 0.5Z" fill="#a7d0e4" fill-rule="evenodd"/><path d="M79.5 142.2L78.8 143.0L79.8 143.0ZM49.8 133.2L49.0 133.8L48.0 135.5L48.2 138.0L47.2 140.2L48.2 139.8L50.0 134.8ZM93.5 129.2L92.5 129.8L92.8 130.5L93.8 130.0ZM78.5 129.2L77.8 128.5L76.8 128.2L75.8 128.8L75.0 130.0L76.0 130.8L77.0 130.8L78.5 130.0ZM86.8 127.8L86.8 128.2L87.2 128.5L87.8 128.2L87.5 127.8ZM62.5 122.0L61.8 122.8L61.8 123.5L62.8 123.2L63.0 122.5ZM96.2 119.8L93.5 119.8L90.8 120.2L90.2 120.8L90.2 122.0L91.0 123.5L91.0 124.8L91.8 126.0L92.5 126.2L94.0 125.8L98.2 123.5L98.0 122.0ZM72.0 117.2L70.2 119.0L68.5 119.5L68.2 124.0L70.0 125.8L70.2 126.5L70.0 128.0L70.8 128.8L71.5 128.8L72.5 127.5L73.5 127.8L74.8 127.5L75.8 126.0L76.0 124.8L77.5 123.5L77.5 122.2L76.5 121.5L75.5 121.5L74.2 119.2ZM49.8 117.2L49.2 113.5L48.2 112.5L46.5 112.5L44.8 113.0L41.8 114.5L40.5 115.8L40.8 116.5L42.0 117.8L44.5 117.8L46.8 119.0L48.5 118.8ZM105.2 100.2L105.2 101.0L106.0 101.5L106.0 99.8ZM49.0 91.0L47.0 93.5L47.0 94.5L48.5 96.8L49.0 99.2L49.8 100.8L52.2 102.5L51.8 105.2L51.0 106.0L50.0 106.2L50.2 109.5L50.5 109.8L53.5 109.5L54.2 110.2L55.5 114.2L54.8 115.8L54.8 116.8L55.8 118.5L57.2 120.0L58.5 122.8L59.0 123.0L59.8 121.5L59.5 119.2L60.2 118.8L62.5 118.2L63.2 117.0L61.5 113.0L61.5 111.5L60.8 109.0L59.0 106.0L56.0 102.2L55.5 101.2L55.5 100.0L57.0 98.5L58.0 98.5L59.8 99.2L61.2 98.8L61.5 97.2L60.2 94.5L60.0 91.8L59.0 91.0L56.5 91.5L54.5 91.5L53.2 91.0ZM93.8 89.8L93.8 90.5L94.2 91.0L95.8 91.0L97.0 90.2L96.5 89.5L94.5 89.2ZM101.5 81.5L100.2 83.2L99.5 85.5L98.8 86.5L98.8 87.8L99.5 88.8L101.8 89.0L102.2 89.5L102.5 92.0L103.0 92.5L106.0 92.2L106.0 84.8L105.2 85.5L105.2 87.0L104.8 87.5L103.8 87.8L103.0 87.5L102.0 86.2L102.2 82.5ZM55.2 81.2L55.5 82.0L56.0 82.2L56.5 82.0L56.2 81.5ZM85.0 80.0L84.8 80.2L85.0 81.8L85.8 82.5L87.0 82.5L87.5 81.8L87.5 80.8L87.0 80.2ZM50.0 78.8L46.8 79.0L45.8 80.8L44.5 81.5L43.2 83.0L41.0 84.0L40.8 85.8L41.2 89.0L42.2 90.2L43.0 90.2L45.0 89.2L47.2 89.0L47.8 88.5L47.5 87.5L46.0 87.5L45.2 86.8L44.8 85.5L45.0 83.5L46.2 82.5L50.0 81.5L50.5 81.0L50.5 79.2ZM92.0 76.2L92.5 76.8L93.2 76.8L92.8 76.0ZM72.8 75.5L71.2 75.5L70.5 76.0L70.5 76.8L71.0 77.2L72.2 77.0ZM61.0 75.5L61.8 77.5L64.0 77.5L65.8 76.0L66.8 76.0L66.8 75.8L65.2 76.0L62.8 75.0L61.8 75.0ZM77.2 72.2L76.8 72.5L76.8 73.2L77.5 73.0ZM100.8 71.2L100.8 74.2L101.0 74.5L103.5 75.0L106.0 75.0L106.0 74.2L104.2 73.2L101.5 70.5ZM76.5 66.8L76.2 67.2L76.8 68.8L77.2 68.8L77.8 68.0L77.8 67.0ZM22.5 64.8L23.5 66.0L24.5 68.8L24.2 69.8L25.5 70.8L28.8 71.0L31.0 72.8L31.8 72.8L33.2 71.2L34.8 73.2L35.0 75.5L36.5 77.2L37.2 77.2L38.5 76.2L40.0 75.8L44.0 75.5L46.0 74.0L46.5 72.8L47.2 72.0L49.2 70.8L51.2 70.8L51.8 70.2L51.5 68.8L47.5 67.2L43.2 64.8L42.0 64.8L40.0 65.5L36.5 65.5L34.2 66.0L32.2 66.0L30.8 63.8L30.2 63.5L28.5 63.8L27.2 63.2L26.5 62.5L25.5 62.5L24.0 63.2ZM65.0 60.0L65.5 60.5L68.0 60.8L69.5 62.0L71.0 62.0L73.2 61.5L75.8 60.2L76.5 59.5L76.5 59.0L75.2 58.0L74.8 56.8L74.0 56.0L71.2 54.8L69.5 54.8L67.2 55.2L66.8 55.8L66.5 57.2ZM94.8 53.2L93.8 53.5L93.0 54.2L92.5 55.5L90.5 55.2L87.8 56.8L88.0 58.8L87.5 59.2L85.5 59.2L83.0 58.2L82.8 59.5L83.2 61.2L82.2 62.0L80.5 62.2L79.8 63.5L80.0 64.8L80.5 65.2L85.5 66.8L86.2 66.2L84.8 64.5L84.8 63.2L85.2 62.5L87.0 61.8L88.2 64.2L89.2 64.8L90.0 64.2L90.5 63.2L90.2 61.5L91.8 60.5L92.8 61.0L93.0 62.2L92.5 63.8L95.5 66.8L95.2 68.0L93.8 70.2L92.5 70.5L90.0 69.5L87.5 69.5L85.8 70.0L83.8 68.5L82.2 69.0L81.8 70.2L81.8 71.8L84.0 71.5L85.8 71.8L87.0 75.0L88.2 76.0L89.5 76.0L90.0 75.5L89.8 72.8L90.2 72.2L91.8 72.2L92.2 72.8L93.5 73.0L94.8 72.0L98.0 72.0L99.8 71.0L99.8 70.5L98.2 69.0L96.8 66.5L96.2 62.2L97.0 60.5L95.8 59.2L94.8 59.2L92.8 60.2L91.8 59.0L92.2 55.8L92.8 55.2L95.5 55.8L96.8 54.8L96.5 54.0ZM36.8 51.8L36.0 52.2L36.0 53.2L36.5 53.8L37.2 53.8L37.8 52.8ZM76.8 48.0L76.2 48.5L76.2 49.5L76.8 50.0L77.8 50.0L78.0 48.8L77.2 48.0ZM62.8 43.5L61.2 43.8L59.2 43.0L57.8 43.0L57.5 43.5L55.8 44.0L56.8 45.5L57.0 50.0L56.2 51.0L53.5 51.5L52.5 52.0L52.8 54.5L53.8 55.8L54.0 56.8L55.8 58.5L56.5 58.5L57.2 57.5L57.0 56.0L56.5 55.8L54.2 56.0L54.0 55.5L57.8 52.2L61.8 51.2L64.8 46.8L64.2 45.2ZM83.0 39.5L83.2 40.8L84.2 41.2L84.8 40.8L83.8 39.5ZM27.0 38.0L27.5 39.0L27.8 41.0L29.5 40.8L29.5 39.8L29.0 39.0L27.8 38.0ZM51.8 37.5L52.8 38.5L54.5 38.8L55.2 37.2L54.8 36.5L53.8 36.5ZM21.0 36.8L20.2 37.8L20.0 38.8L20.2 39.8L22.5 41.8L24.8 42.2L25.2 41.5L23.2 41.0L22.2 39.5L22.2 38.2L23.2 37.5L24.0 37.5L22.8 36.5ZM36.8 36.8L36.8 37.0L38.5 37.0L38.2 36.2L37.5 36.2ZM93.8 33.5L92.5 33.2L92.0 34.2L90.8 35.2L87.8 35.5L87.5 36.2L88.2 37.0L88.5 38.8L87.5 40.0L86.5 40.2L86.0 41.0L88.2 42.0L91.0 42.0L91.2 41.8L90.8 40.0L91.0 36.0L91.5 35.5L93.2 35.5L94.8 36.0L95.2 35.2ZM80.8 29.0L81.0 30.2L81.8 30.8L82.2 30.2L82.0 29.5L81.5 29.0ZM66.8 27.5L67.0 28.2L68.5 28.2L70.0 29.5L71.5 29.2L72.2 28.0L72.0 27.0L71.0 26.2L69.2 26.2L68.0 27.0L67.0 27.0ZM82.2 21.8L82.0 23.0L83.0 23.2L83.2 22.2ZM6.5 21.5L6.0 22.8L6.0 24.2L6.5 24.8L11.5 24.8L12.5 25.5L12.8 26.2L14.0 27.5L14.5 27.2L14.2 26.5L12.5 25.0L12.5 24.0L11.8 22.8L11.8 21.8L12.8 20.8L13.2 20.8L10.2 20.0L8.5 20.0ZM80.0 20.0L78.8 19.8L77.8 20.2L77.8 22.5L79.8 20.8ZM52.5 19.5L51.0 20.2L51.2 21.0L52.2 20.5ZM72.0 13.0L71.8 13.8L72.5 16.5L73.0 17.0L75.5 17.2L75.8 15.0L72.8 13.0ZM78.2 12.0L78.8 12.8L79.8 13.2L79.0 15.0L79.0 15.8L79.8 16.0L80.5 15.0L80.8 13.8L79.8 13.2L79.0 12.2ZM53.2 6.8L48.8 7.5L43.2 9.8L39.8 9.5L38.0 7.8L37.2 7.8L37.0 8.0L37.2 9.5L36.2 11.0L33.8 12.0L32.0 13.5L30.0 13.8L28.5 15.5L27.0 14.0L26.0 13.8L25.2 14.5L24.5 16.5L26.5 16.5L27.5 17.2L27.2 20.2L27.8 21.2L29.5 23.0L30.8 23.5L34.0 25.8L36.2 26.5L37.0 27.2L38.0 30.2L37.8 32.8L39.8 34.2L40.8 34.2L42.0 33.5L43.0 33.8L43.8 35.0L43.2 36.8L45.8 37.8L46.5 37.8L47.2 37.0L48.8 36.5L51.2 36.8L51.5 35.8L51.0 34.0L49.5 31.8L49.5 29.2L48.5 28.5L44.5 28.5L44.2 28.2L40.8 28.5L40.0 27.2L39.8 24.5L41.2 23.5L43.0 23.0L47.2 18.5L49.0 17.8L48.5 16.8L48.5 15.5L50.2 14.0L49.5 12.8L51.0 10.2L53.0 8.5L53.5 7.2ZM46.2 1.2L46.0 1.0L43.8 2.2L45.8 2.2L46.2 2.0Z" fill="#87beda" fill-rule="evenodd"/><path d="M49.5 134.5L48.8 135.2L48.8 136.5L49.5 135.8L49.8 134.8ZM77.8 129.5L77.0 129.0L76.2 129.5L76.2 130.0L77.0 130.2ZM96.0 120.0L94.0 119.8L92.8 120.2L91.2 120.2L90.5 120.8L90.5 122.0L91.2 123.0L91.5 125.0L92.2 125.8L94.2 125.2L97.8 123.2L97.2 121.5ZM69.2 119.8L68.8 121.2L68.5 124.0L70.8 125.5L71.0 127.0L74.5 126.8L75.2 126.0L75.5 124.5L76.8 122.8L75.0 121.8L74.2 119.8L73.5 119.0L71.8 118.8ZM49.8 116.8L49.2 114.0L48.5 112.8L45.0 113.0L42.0 114.5L40.8 115.8L41.0 116.5L42.0 117.5L45.0 117.5L47.0 119.0L48.2 118.8ZM49.5 91.2L47.2 93.5L47.2 94.8L48.5 96.8L49.0 99.0L50.0 100.8L51.8 101.8L52.5 102.8L51.8 105.5L50.2 106.2L50.5 109.5L51.0 109.8L53.5 109.5L54.2 110.0L55.5 113.8L54.8 116.2L55.8 118.2L57.2 119.8L58.0 121.8L58.8 122.2L59.2 121.5L59.2 120.8L58.2 119.2L58.5 118.2L59.0 117.8L62.0 118.0L62.5 117.5L62.5 116.2L61.2 112.8L61.2 111.0L60.8 109.5L59.0 106.2L56.8 103.8L55.5 101.8L55.2 100.2L57.0 98.0L58.2 98.0L59.0 98.5L60.5 98.5L61.0 98.0L60.8 96.2L59.8 95.2L59.0 96.2L58.2 96.5L57.5 96.0L56.8 94.8L57.0 94.0L58.0 94.0L59.5 94.8L59.8 92.2L59.0 91.5L57.5 91.5L56.8 92.0L54.8 92.0L53.0 91.2ZM94.2 90.0L94.8 90.8L96.0 90.2L95.8 89.8ZM103.0 88.2L102.8 88.5L103.0 91.5L103.5 92.0L106.0 91.8L106.0 88.0ZM101.2 83.8L100.2 84.5L99.2 86.8L99.2 87.5L100.0 88.2L102.0 88.0ZM44.0 83.0L41.5 83.8L41.0 84.2L41.2 87.8L42.0 90.0L43.0 90.0L45.0 89.2L46.2 88.2L44.8 86.2L44.8 83.8ZM85.8 81.0L86.0 82.0L87.0 81.8L86.8 81.0L86.2 80.8ZM46.2 81.0L47.0 81.8L49.2 81.2L49.8 80.8L49.8 79.5L47.2 79.2L46.8 79.5ZM61.5 75.8L62.0 77.2L63.8 77.2L64.2 76.8L64.2 76.0L63.5 75.5L62.2 75.2ZM102.0 71.2L101.8 73.2L102.2 73.8L104.2 74.8L106.0 74.8L105.8 74.0L104.2 73.2ZM87.0 73.5L87.5 74.5L88.8 75.2L89.2 74.8L89.0 72.2L89.5 71.8L91.2 71.2L92.8 72.2L93.5 72.2L94.0 71.2L91.8 71.0L90.0 70.0L88.2 70.0L87.2 70.8L87.5 72.0L87.0 72.8ZM83.0 70.0L83.2 70.8L84.0 70.5ZM96.0 68.0L95.2 69.0L95.0 70.8L95.8 71.5L96.8 71.8L98.0 71.5L98.8 70.8L98.5 69.8L96.8 68.0ZM22.8 64.2L25.8 70.2L27.2 70.8L29.0 70.8L30.8 72.0L31.5 72.0L32.8 70.8L33.5 71.0L34.8 72.8L35.2 75.2L37.0 76.5L42.0 75.2L44.0 75.2L45.0 74.8L46.0 73.8L46.5 72.2L50.2 69.5L49.0 68.0L46.8 67.2L45.0 65.8L43.5 65.0L42.0 65.0L39.2 65.8L34.0 66.0L32.2 66.5L31.5 65.8L31.2 64.8L30.0 63.8L28.0 64.0L26.2 63.0L25.2 63.0ZM89.0 62.5L88.5 63.2L88.8 63.8L89.5 63.8L89.8 63.0ZM95.0 60.2L94.0 61.0L93.0 63.5L93.2 64.2L94.2 65.2L95.8 65.0L95.5 62.5L95.8 61.2L95.5 60.5ZM83.8 59.2L83.5 60.0L84.0 61.5L82.5 62.2L80.8 62.5L80.2 63.0L80.2 64.5L80.8 65.0L84.5 66.0L84.8 65.2L84.2 64.2L84.5 62.2L85.8 61.2L86.0 60.0L85.2 59.5ZM56.5 56.5L55.5 57.0L55.8 57.8L56.2 58.0L56.8 57.5ZM90.0 55.8L88.5 56.8L88.5 57.8L90.0 59.5L90.8 59.5L91.5 57.8L91.5 56.0ZM66.2 58.5L66.5 59.8L67.0 59.8L67.8 59.0L68.8 59.0L69.5 59.8L70.0 61.5L72.5 61.5L75.5 59.8L74.2 57.2L73.0 56.0L71.2 55.0L69.5 55.0L67.5 55.5ZM63.2 44.2L62.0 44.0L61.0 44.5L59.5 43.2L57.8 43.2L56.8 43.8L56.5 44.5L57.0 45.5L57.2 51.0L56.2 51.8L54.8 51.5L52.8 52.2L53.0 54.0L53.5 54.5L54.5 54.5L57.5 52.0L60.0 51.2L61.2 51.2L64.5 47.0L64.5 46.0ZM27.5 38.2L28.0 40.5L28.2 40.8L29.2 40.2L29.0 39.5ZM21.0 37.0L20.2 38.8L20.5 39.5L23.2 42.0L24.2 42.0L24.5 41.5L23.2 41.0L22.5 40.2L22.0 39.0L22.2 38.0L23.2 37.5L23.2 37.0L22.8 36.8ZM89.0 36.0L88.8 36.2L89.0 37.2L88.8 39.5L87.5 41.0L90.0 41.5L90.5 41.2L90.2 36.0ZM69.5 26.5L69.2 28.5L70.5 29.5L71.2 29.2L71.8 28.5L71.8 27.8L71.0 26.8ZM12.8 20.5L9.0 20.0L6.5 21.5L6.8 24.2L7.0 24.5L11.0 24.2L11.5 23.8L11.5 21.8ZM73.0 14.2L72.8 14.5L73.0 15.8L73.8 16.2L74.5 16.0L74.8 15.0L73.8 14.2ZM52.8 7.2L48.2 7.8L43.5 9.8L40.2 9.8L39.0 9.2L38.0 8.2L37.5 10.0L36.8 11.0L34.2 12.0L32.0 13.8L30.5 14.0L29.8 14.8L27.8 19.0L27.8 20.5L29.8 22.5L31.2 23.2L32.5 24.8L34.5 25.8L36.0 26.0L37.2 27.0L38.8 30.0L38.2 31.5L38.5 32.8L40.2 33.5L40.8 33.2L41.2 32.2L41.8 32.2L43.2 33.2L44.2 34.5L44.0 37.0L45.8 37.8L47.8 36.2L50.0 36.2L50.8 35.8L49.0 32.0L49.2 29.8L48.2 28.8L42.2 28.5L41.2 29.0L40.5 30.8L39.8 30.5L38.8 29.5L38.8 28.8L39.8 27.0L39.5 24.5L40.5 23.5L44.5 21.5L47.2 18.5L48.8 17.8L48.2 16.8L48.2 15.5L50.0 13.8L49.5 12.8L51.0 10.2L52.5 9.0Z" fill="#5fa5cd" fill-rule="evenodd"/><path d="M95.8 120.2L93.8 120.0L92.5 120.5L91.0 120.5L90.5 121.0L90.8 121.8L91.8 122.8L91.8 124.8L92.2 125.2L93.2 125.2L97.2 123.2L97.2 122.5ZM70.2 119.8L69.2 121.0L69.0 123.8L71.5 124.5L73.0 126.2L74.5 126.2L75.0 125.8L75.5 123.2L74.5 121.8L74.0 120.0L73.2 119.2L71.5 119.2ZM41.0 115.8L41.0 116.2L42.2 117.5L45.0 117.2L47.0 118.8L48.0 118.8L49.5 117.0L49.0 113.5L48.5 113.0L44.8 113.2L42.2 114.5ZM58.8 97.2L59.5 98.0L60.5 97.8L60.2 96.5ZM57.8 92.0L57.5 92.8L59.0 93.5L59.2 93.2L59.0 92.0ZM49.8 91.5L47.5 93.5L47.5 94.8L50.2 100.8L52.5 102.5L52.0 105.2L50.5 106.5L50.8 109.5L53.8 109.5L54.5 110.2L55.5 113.5L55.0 116.5L56.0 118.2L57.8 120.0L58.0 121.2L58.5 121.5L58.8 121.0L58.0 119.8L58.2 117.8L59.2 117.0L61.8 117.5L62.0 115.5L60.2 108.8L59.2 107.0L56.5 103.8L55.0 101.0L55.5 99.2L57.2 97.5L57.2 96.5L55.5 94.2L55.2 93.2L54.2 92.2L52.5 91.5ZM103.8 88.8L103.5 89.0L103.8 91.0L106.0 91.2L106.0 88.8ZM100.8 85.2L100.0 86.2L100.0 87.5L100.5 87.8L101.2 87.2L101.2 86.2ZM44.0 83.5L42.0 83.8L41.0 84.8L41.5 88.0L42.2 89.8L43.2 89.8L45.5 88.5L44.5 86.2L44.5 84.2ZM48.5 80.0L47.8 79.8L47.0 80.2L47.0 80.8L48.0 81.0ZM62.5 76.0L62.8 76.8L63.5 76.5L63.2 76.0ZM103.0 72.0L103.0 73.0L104.2 74.2L106.0 74.5ZM96.5 69.0L96.0 69.5L96.0 70.8L97.0 71.2L98.0 70.5ZM23.5 64.0L23.5 65.0L24.2 67.0L26.2 70.2L29.0 70.5L31.2 71.5L33.0 70.0L35.0 72.8L35.5 75.2L36.8 76.0L38.5 76.0L41.5 75.2L43.8 75.2L44.8 74.8L45.8 73.8L46.8 71.2L49.0 69.5L48.8 68.2L46.2 67.2L44.8 65.8L43.8 65.2L42.0 65.2L41.0 65.8L33.5 66.2L32.0 67.0L31.2 66.2L30.2 64.2L29.8 64.2L28.2 66.0L27.8 65.5L27.5 64.2L26.5 63.5L24.5 63.5ZM94.8 62.5L94.0 62.8L93.8 63.2L94.0 64.5L95.2 64.2ZM80.8 63.2L81.0 64.5L83.8 65.5L84.0 65.2L83.8 62.5L82.2 62.5ZM90.0 56.2L89.2 56.8L89.2 57.8L90.5 58.2L91.0 57.8L91.0 56.5ZM67.8 55.8L67.5 58.0L69.2 58.8L70.0 59.5L70.5 61.0L71.0 61.2L73.2 61.0L74.8 59.5L73.8 57.5L71.8 55.5L69.2 55.2ZM56.2 52.2L55.5 52.0L53.2 52.5L53.2 53.8L54.0 54.2L55.5 53.5L56.2 52.8ZM57.2 43.5L57.0 43.8L57.2 49.0L58.0 51.2L58.8 51.5L61.5 50.8L64.2 47.2L64.5 46.5L64.2 45.8L63.0 44.5L60.8 45.0L59.2 43.5ZM28.0 39.0L28.0 39.8L28.5 40.2L28.5 39.5ZM21.5 37.2L20.8 38.0L20.8 39.5L23.8 41.8L24.0 41.5L23.8 41.2L23.0 41.2L22.5 40.8L22.0 39.5L22.0 38.0L22.8 37.2L22.2 37.0ZM41.8 29.2L41.8 31.0L44.5 34.0L44.8 36.5L45.2 37.0L48.8 35.2L47.0 33.0L47.0 32.0L47.5 31.5L48.2 31.5L48.8 30.8L48.5 29.2L45.0 29.0L43.5 28.5L42.2 28.8ZM70.8 27.5L70.2 27.5L69.8 28.2L70.0 29.0L70.5 29.2L71.2 28.8L71.2 28.0ZM11.0 20.2L11.5 20.8L12.5 20.5ZM52.0 7.8L49.5 7.5L42.8 10.0L39.8 9.8L38.2 9.2L37.0 11.2L34.2 12.2L32.5 13.8L30.0 15.0L29.2 17.2L28.2 18.8L28.2 20.2L29.5 21.5L31.2 22.5L33.0 24.8L34.5 25.5L35.8 25.5L38.0 27.2L38.8 27.2L39.2 26.8L39.2 24.5L40.2 23.2L45.0 21.0L47.2 18.5L48.5 18.0L48.0 16.8L48.0 15.2L49.8 13.5L49.5 12.8L50.2 11.2L52.2 9.2Z" fill="#3f8ec0" fill-rule="evenodd"/><path d="M94.8 120.2L93.5 120.2L91.0 121.0L91.5 122.0L93.0 122.8L92.2 124.2L92.2 124.8L92.8 125.0L96.0 122.8L96.0 121.2ZM70.8 120.0L69.8 121.2L69.8 122.5L71.0 123.5L73.0 124.2L73.5 125.2L74.2 125.8L74.8 125.2L75.0 123.5L73.8 120.0L73.0 119.5ZM49.5 116.5L48.8 113.5L48.0 113.0L45.2 113.2L41.2 115.5L41.2 116.2L42.2 117.2L45.2 117.2L47.2 118.8L48.0 118.5ZM50.0 91.8L49.2 92.0L48.0 93.2L47.8 94.5L48.8 97.8L51.0 101.0L52.5 102.2L52.2 105.0L50.8 106.5L51.0 109.2L51.2 109.5L53.8 109.2L54.8 110.2L55.0 112.0L55.8 113.8L55.8 114.5L55.0 116.0L56.0 118.0L57.5 118.8L58.2 117.0L59.5 116.2L60.0 114.8L61.0 115.2L61.2 116.5L61.5 116.5L60.8 110.5L59.8 108.2L56.2 104.0L54.8 101.0L55.2 99.2L56.8 97.2L56.5 96.0L53.0 92.2L51.8 91.8ZM57.2 113.5L58.0 113.2L58.8 114.0L58.8 114.5L58.0 114.8L57.2 114.0ZM43.8 83.8L42.8 83.8L41.2 84.5L41.8 88.2L42.5 89.8L44.8 89.0L45.2 88.5L44.2 86.2L44.2 84.5ZM104.0 73.0L104.5 73.8L105.8 74.0ZM23.8 64.2L24.2 66.2L26.5 70.0L29.0 70.2L29.8 70.8L31.2 71.0L32.0 70.2L32.2 69.2L32.8 69.0L35.2 72.8L35.8 75.2L37.0 75.8L39.2 75.8L42.2 75.0L43.8 75.0L44.8 74.5L45.5 73.8L46.5 71.0L48.5 69.0L48.2 68.5L46.8 68.0L44.5 65.8L43.0 65.2L40.5 66.0L34.2 66.2L33.0 67.0L32.5 68.2L31.0 67.0L30.2 65.2L28.5 67.2L27.8 67.2L26.8 66.5L27.0 65.0L26.8 64.0L24.8 63.8ZM68.5 55.8L68.0 56.2L68.0 57.5L70.5 59.5L70.8 60.5L73.0 60.8L73.8 60.0L74.0 59.2L73.0 57.2L71.8 55.8L71.2 55.5ZM55.2 52.8L54.0 53.0L53.8 53.5L54.5 53.5ZM58.0 43.5L57.2 44.0L57.5 49.2L58.8 51.0L61.0 50.8L62.0 50.0L62.2 49.2L64.2 47.0L64.2 46.2L62.8 44.8L61.5 45.5L60.5 45.5L59.0 43.8ZM42.5 29.0L42.0 30.0L42.8 31.8L45.0 33.8L46.0 34.0L46.2 30.8L48.0 30.5L48.2 29.8L48.0 29.5L45.8 29.8L43.5 28.8ZM51.5 8.0L48.8 7.8L43.2 10.0L38.5 9.8L37.0 11.8L34.8 12.2L32.2 14.2L30.8 14.8L29.8 16.0L29.5 17.8L31.0 19.5L30.8 21.2L32.5 23.2L32.8 24.0L34.0 25.0L35.8 25.0L37.8 26.5L38.5 26.5L39.0 26.0L39.0 24.0L40.2 22.8L45.0 20.8L47.2 18.5L48.5 18.0L47.5 16.0L48.0 14.8L49.5 13.2L50.2 11.2L51.8 9.5Z" fill="#2f79b5" fill-rule="evenodd"/><path d="M91.8 121.2L94.2 121.5L94.5 120.8L93.0 120.8ZM71.5 120.0L70.5 121.0L70.2 122.0L72.0 123.2L73.2 123.2L74.2 123.8L73.5 120.2L72.8 119.8ZM41.2 116.0L42.2 117.0L45.2 117.0L47.0 118.5L47.8 118.5L49.2 116.8L48.8 113.8L48.2 113.2L45.2 113.5L42.5 114.8ZM49.8 92.2L48.0 93.8L48.0 94.2L49.0 95.5L49.0 96.8L49.5 97.8L51.0 98.2L51.8 99.0L52.2 100.2L52.0 101.2L52.8 102.2L52.2 105.5L51.2 106.8L51.2 109.2L55.0 109.5L56.0 108.8L57.0 108.8L58.0 109.8L58.0 110.2L57.2 111.0L55.2 110.8L55.2 112.2L56.0 113.8L55.2 116.2L55.8 117.2L56.8 118.2L57.2 118.2L58.2 115.8L56.5 114.0L56.5 113.2L57.0 112.8L58.0 112.8L59.2 113.8L60.8 114.0L60.5 110.2L59.2 108.0L58.2 107.0L57.2 106.5L54.8 106.5L54.5 106.2L54.5 105.5L55.8 104.2L55.8 103.8L54.2 100.5L56.2 97.5L56.2 96.2L51.8 92.2ZM43.2 84.0L41.5 84.5L42.0 88.5L42.8 89.5L44.8 88.8L45.0 88.2L44.0 86.5L43.8 84.2ZM30.0 68.0L29.2 69.8L30.0 70.5L31.2 70.5L31.8 69.2L31.2 68.5ZM25.8 67.8L26.8 69.8L28.0 69.8L28.5 69.2L27.8 68.0L26.8 67.5ZM44.5 66.0L43.5 65.5L42.2 65.5L40.0 66.2L34.0 66.5L33.2 67.2L33.2 69.0L35.8 73.0L35.8 74.8L37.2 75.5L40.0 75.5L44.0 74.8L44.8 74.2L45.8 72.8L46.5 70.5L47.5 69.2ZM37.2 71.0L37.8 71.0L38.8 72.5L37.8 74.0L37.0 74.0L36.0 72.8L36.2 72.0ZM24.8 64.0L24.0 64.8L24.8 66.2L25.5 66.5L26.2 65.2L26.2 64.2ZM68.5 56.2L68.2 56.8L68.5 57.2L70.0 58.2L71.8 60.5L72.8 60.5L73.2 60.0L73.2 58.8L72.2 56.8L71.5 56.0L69.5 55.8ZM58.0 43.8L57.5 44.0L57.8 49.0L59.0 50.5L61.0 50.5L61.8 50.0L62.5 48.5L63.8 47.5L64.0 46.0L63.2 45.2L61.5 46.0L60.2 46.0L59.0 44.8L59.0 44.2ZM42.8 29.2L42.5 30.0L43.5 32.0L45.0 32.8L45.5 31.8L45.2 30.5L44.2 29.5ZM51.0 8.2L50.2 7.8L49.2 7.8L43.5 10.0L39.2 10.0L38.0 11.8L36.5 12.5L35.0 12.5L32.8 14.2L30.5 15.2L30.0 16.2L30.0 17.8L31.5 19.2L31.2 21.0L33.2 24.0L34.0 24.5L36.2 24.8L38.2 25.8L38.5 24.2L39.8 22.8L43.0 21.0L45.5 20.2L47.2 18.5L48.2 18.0L47.2 16.8L47.2 15.8L47.8 14.8L49.5 13.0L50.2 11.2L51.2 10.0ZM32.5 19.0L33.0 18.5L33.8 18.5L34.2 19.0L33.8 19.8L33.0 19.8Z" fill="#1f63a8" fill-rule="evenodd"/><path d="M72.8 120.2L71.8 120.5L71.0 121.2L71.2 122.2L72.5 122.5L73.2 122.0L73.2 120.8ZM56.2 114.8L55.5 115.5L55.5 116.2L56.2 117.5L57.0 117.8L57.8 116.2L57.5 115.5ZM49.0 116.8L48.8 115.8L47.5 115.0L47.8 114.5L48.2 114.5L48.0 113.5L46.2 113.5L42.8 114.8L41.5 116.0L42.2 116.8L43.8 117.0L45.0 116.8L47.5 118.5L48.2 118.0ZM59.2 109.0L58.2 112.0L58.8 112.8L60.0 113.2L60.2 110.2ZM54.0 101.5L52.8 101.8L53.0 103.2L52.5 106.0L51.8 107.2L51.8 109.0L54.0 109.0L55.0 108.0L52.8 106.0L54.5 103.5L54.5 102.2ZM49.2 93.0L48.5 93.8L49.0 94.2L51.5 94.2L52.2 95.0L52.0 97.2L52.8 98.8L53.5 99.5L54.2 99.5L56.0 97.2L55.8 96.2L54.5 95.0L52.8 94.2L51.2 92.8L50.5 92.5ZM42.5 84.2L41.5 85.0L42.5 89.0L43.5 89.0L44.5 88.5L44.5 87.8L43.8 87.0L43.5 84.8ZM45.5 67.2L43.8 65.8L42.0 65.8L41.0 66.2L38.2 66.8L35.2 66.5L34.0 66.8L33.5 67.2L33.5 68.8L34.0 70.0L35.5 71.2L36.5 70.2L37.2 70.0L38.8 71.2L39.2 72.2L39.0 73.5L38.0 74.5L36.0 74.2L36.5 75.0L40.5 75.2L41.5 74.8L44.0 74.5L45.2 73.2L46.5 70.2L46.5 68.8ZM24.8 64.5L24.5 65.0L25.2 65.2L25.5 64.5ZM69.2 56.2L69.0 57.0L69.8 57.8L71.2 58.2L72.0 59.8L72.5 60.0L72.8 59.2L72.0 58.2L71.8 56.8L70.8 56.0ZM58.0 44.2L58.2 46.0L57.8 48.0L58.2 49.2L59.5 50.2L61.2 50.0L62.0 48.5L63.8 47.0L63.8 46.0L62.8 45.8L61.8 46.5L60.0 46.5L58.5 45.2L58.5 44.5ZM43.5 30.0L43.5 31.0L44.5 31.8L44.8 31.2L44.5 30.8ZM50.8 8.5L50.2 8.0L48.8 8.0L43.0 10.2L40.0 10.2L39.8 11.2L39.0 12.0L37.8 12.2L36.5 13.0L34.8 13.0L33.2 14.5L31.2 15.0L30.2 16.0L30.2 17.5L31.0 18.2L33.8 17.8L34.8 18.5L34.8 19.5L33.5 20.5L32.2 20.2L31.8 20.8L32.0 21.8L34.0 24.0L36.8 24.5L37.8 25.0L39.2 22.8L42.2 20.8L46.2 19.5L47.2 18.5L48.0 18.2L46.5 17.2L46.2 16.5L50.8 10.8L51.0 10.0Z" fill="#124984" fill-rule="evenodd"/><path d="M56.2 115.5L56.0 116.2L56.5 117.0L57.0 117.0L57.2 116.2L56.8 115.5ZM42.0 115.8L42.2 116.2L43.8 116.8L45.5 116.8L47.2 118.2L47.8 118.2L48.5 117.2L48.5 116.5L47.2 116.2L45.8 115.0L42.8 115.0ZM53.0 107.5L52.5 108.2L53.5 108.5L53.8 108.0ZM53.2 95.2L52.8 96.8L53.0 97.8L53.8 98.5L54.5 98.5L55.2 97.8L55.5 96.8L54.5 95.5ZM42.0 84.8L42.0 86.2L42.8 87.5L42.8 88.2L43.5 88.5L43.8 88.2L43.0 87.2L43.0 85.0ZM44.2 66.2L42.8 65.8L38.0 67.2L34.0 67.0L33.8 68.5L34.0 69.2L34.8 69.5L35.8 68.2L37.0 67.8L37.8 69.5L39.8 72.0L39.8 73.0L38.8 75.0L40.2 75.0L41.8 74.2L43.8 74.2L45.5 72.0L46.2 70.0L46.2 69.0ZM70.2 56.5L70.0 57.0L70.8 57.2L71.0 57.0ZM58.2 47.5L58.2 48.2L59.0 49.2L60.0 49.8L61.0 49.5L61.2 48.2L60.5 47.2L58.8 47.0ZM63.5 46.2L62.8 46.5L62.8 47.2L63.5 47.0ZM50.5 8.8L49.8 8.0L49.2 8.0L42.8 10.5L40.8 10.5L40.8 11.2L40.0 12.2L38.2 12.5L36.0 13.8L34.8 13.8L33.5 15.5L32.8 15.2L31.0 15.5L30.5 16.0L30.5 17.2L31.0 17.8L34.0 17.2L35.5 18.8L34.5 20.5L32.2 21.2L32.8 22.2L34.8 24.0L37.5 24.2L40.8 21.2L41.0 20.2L42.2 19.5L49.0 12.8L50.5 10.5ZM38.0 17.5L38.8 17.2L40.2 19.0L40.2 19.5L39.2 19.8L37.8 18.2Z" fill="#053061" fill-rule="evenodd"/><path d="M75.8 141.5L75.5 143.0L76.2 143.0L76.2 142.0ZM53.5 143.0L60.0 143.0L59.8 142.0L59.0 141.2L56.2 140.0L55.0 140.0L54.2 140.8ZM63.8 139.2L64.0 143.0L65.8 143.0L65.8 140.8L65.2 139.8L64.5 139.0ZM73.5 133.5L73.5 134.2L74.2 135.0L75.8 135.2L76.2 134.8L76.0 134.0L75.0 133.2ZM80.2 132.5L79.8 133.0L80.0 134.8L80.5 135.2L81.8 135.2L82.0 134.2L81.2 132.8ZM59.5 131.2L60.2 135.5L61.8 136.2L65.5 136.2L67.8 137.0L69.0 137.0L72.2 133.8L71.8 132.5L70.2 131.8L68.8 131.8L68.0 131.2L64.5 131.5L63.5 131.0L59.8 131.0ZM106.0 124.8L104.8 124.8L103.5 126.2L102.5 126.8L99.2 126.8L97.2 127.5L96.5 128.2L95.5 131.0L93.8 132.8L91.8 133.2L90.0 135.0L89.5 136.2L88.8 137.0L86.5 138.0L86.2 139.8L87.5 140.5L88.2 143.0L98.2 143.0L98.5 141.5L99.0 141.0L100.5 141.5L101.5 142.5L101.5 143.0L105.5 143.0L105.5 142.2L106.0 141.8L106.0 136.5L104.2 135.8L101.8 133.5L101.8 133.0L103.8 131.0L106.0 130.8L104.8 129.5L105.0 128.5L106.0 127.8ZM66.8 121.0L65.5 121.0L64.8 121.5L64.8 122.5L65.8 124.0L65.8 125.0L64.8 125.8L63.8 125.8L62.5 126.5L62.5 127.2L64.2 128.5L67.0 128.2L67.5 127.5L67.5 125.5L67.0 124.5L67.2 121.5ZM53.5 110.2L50.0 110.5L49.5 111.2L50.2 116.0L52.5 118.5L52.2 121.2L50.2 122.2L50.5 123.8L51.5 125.8L52.2 126.5L52.5 129.0L51.2 131.8L50.8 135.0L48.0 143.0L50.8 143.0L53.0 138.8L55.0 132.5L57.8 127.0L58.0 125.0L57.8 123.0L56.5 120.2L54.2 118.8L54.0 116.0L54.8 114.8L54.8 113.5ZM106.0 108.8L103.8 109.0L103.0 109.8L103.0 111.0L106.0 110.2ZM48.8 101.5L48.8 105.0L51.0 105.2L51.5 104.5L51.8 102.8L51.2 102.2ZM46.8 100.2L47.5 101.0L48.0 100.8L48.0 100.5ZM96.0 92.8L95.2 93.2L95.2 93.8L96.0 94.8L96.5 94.8L97.0 93.5L96.8 93.0ZM65.5 91.2L64.8 91.2L62.5 93.0L63.2 94.2L64.2 94.2L65.5 93.2ZM67.0 89.2L66.8 90.2L69.0 91.8L71.2 92.8L72.2 92.2L72.2 91.0L71.2 89.0L67.8 88.5ZM101.0 97.5L99.5 96.8L98.2 97.2L98.2 100.8L97.8 103.5L96.8 105.2L96.0 105.2L93.0 102.5L93.2 100.0L92.8 99.0L92.8 97.5L92.0 96.8L91.2 96.8L90.8 98.2L88.5 99.8L88.5 100.5L89.0 101.2L88.5 102.5L86.5 103.8L85.5 103.0L84.5 101.5L83.5 101.5L83.0 102.0L82.8 103.8L81.2 107.8L80.2 108.5L78.8 108.5L77.8 108.0L76.2 106.0L76.5 103.0L76.0 101.8L76.5 100.8L78.2 101.2L78.8 101.0L81.5 97.2L83.0 97.5L85.2 96.5L86.5 96.5L88.0 95.5L89.2 93.5L91.0 93.5L92.0 92.5L92.2 91.2L91.5 90.5L89.0 90.8L87.5 89.0L88.0 86.8L86.0 86.5L83.2 88.8L80.5 90.0L78.8 89.5L76.2 90.0L75.8 90.5L75.2 92.2L75.8 93.2L75.8 95.8L74.8 97.5L73.0 97.5L71.5 98.8L68.8 98.2L68.2 100.0L67.5 100.8L62.8 100.8L61.0 102.5L59.0 103.0L58.8 103.5L59.2 104.5L60.5 105.5L62.2 105.2L63.8 106.0L65.8 106.2L66.2 106.8L65.8 108.2L65.0 109.0L63.0 108.5L62.8 109.2L63.2 110.0L65.0 110.8L67.2 112.5L67.5 113.8L67.0 114.5L67.0 115.5L67.8 116.2L69.0 116.2L71.8 113.5L71.8 112.8L74.0 111.0L74.5 109.8L75.8 108.8L76.8 109.8L75.8 111.0L74.8 111.5L74.0 113.2L74.0 115.0L75.5 118.0L76.5 118.2L79.0 117.0L81.0 117.0L81.8 117.5L81.8 118.0L80.5 119.0L80.5 119.5L81.2 120.2L82.2 120.2L83.2 119.8L85.0 118.2L86.8 118.2L87.2 119.2L87.2 120.5L88.5 121.2L90.2 119.0L92.2 119.2L94.0 118.5L97.8 118.8L102.0 115.5L102.2 113.8L101.0 112.0L101.5 110.5L100.0 107.0L101.0 105.0L101.0 103.8L100.2 102.0L100.2 101.0L101.2 99.0ZM89.2 112.5L90.0 113.2L89.8 115.5L88.8 117.0L87.5 117.8L86.8 117.8L85.5 116.0L85.5 113.8L87.5 112.5ZM94.0 112.2L95.2 113.0L96.5 115.0L95.8 116.0L94.2 116.0L93.0 113.8ZM97.0 106.0L98.2 105.8L99.0 106.5L98.2 107.2L97.8 107.2L97.0 106.5ZM68.2 104.2L69.2 104.2L69.8 104.8L70.0 106.0L71.2 107.5L71.2 108.2L70.8 108.8L70.0 108.8L69.0 107.8L69.0 106.8L67.5 105.2ZM79.8 90.2L80.5 90.8L80.8 92.2L82.0 94.0L82.0 95.0L81.0 96.2L79.2 96.2L78.8 95.8L79.0 94.2L78.0 93.2L77.8 91.2ZM49.0 84.5L49.2 86.0L50.0 87.2L53.8 88.5L58.5 88.8L59.2 88.5L60.2 87.0L60.0 84.5L59.5 83.2L59.0 83.0L56.8 84.0L55.5 84.0L54.0 82.8L52.8 82.5L49.5 83.8ZM96.2 78.2L95.8 78.8L95.8 80.2L96.8 81.2L97.8 81.2L98.0 80.8L96.8 78.2ZM53.2 77.0L54.2 79.0L54.8 78.8L56.8 79.0L57.5 79.8L58.0 81.0L59.5 82.2L64.0 82.5L66.5 83.8L69.5 83.2L71.8 84.5L73.5 84.5L75.2 83.0L77.0 83.0L78.2 83.5L80.2 81.8L82.2 81.2L81.8 79.5L81.0 79.0L77.0 79.2L75.5 78.0L71.2 79.5L68.8 79.5L66.2 78.5L60.5 79.5L57.5 77.2L54.2 76.8ZM43.0 76.0L39.8 76.5L39.0 77.2L39.0 80.2L39.2 81.2L40.2 82.2L42.2 82.5L44.5 79.8L44.5 78.5L43.8 76.8ZM50.0 73.5L47.5 74.2L47.0 75.0L47.0 75.8L48.2 76.0ZM48.8 58.5L48.2 59.2L48.5 61.0L49.0 61.2L50.5 61.0L51.0 60.5L50.8 59.5L49.8 58.5ZM79.5 57.5L79.2 60.0L79.8 60.2L80.2 59.8L80.0 57.8ZM30.5 57.0L30.0 57.5L30.0 58.8L31.0 60.5L31.5 62.2L32.2 62.8L34.0 62.8L34.8 62.0L34.8 61.2L33.8 59.2L33.8 57.8L32.8 57.0L31.5 56.8ZM59.2 55.0L58.8 56.2L59.5 57.5L59.5 58.2L57.5 60.0L57.2 61.8L56.5 63.0L56.5 64.5L58.2 67.0L59.0 68.8L59.0 69.8L57.0 70.8L57.8 73.2L58.8 74.0L63.0 73.5L64.5 74.5L67.5 74.5L68.5 75.0L69.5 75.0L72.0 74.0L74.8 74.2L75.2 73.8L75.2 70.5L74.8 70.0L72.8 69.8L72.0 69.0L73.0 66.2L71.2 67.5L71.0 68.5L70.2 69.2L68.8 69.5L67.2 70.2L65.5 69.8L62.5 70.2L61.5 69.5L61.2 68.5L61.8 67.8L62.8 67.5L65.5 68.5L66.8 68.5L67.0 66.8L64.0 62.0L62.8 60.8L62.8 59.5L63.5 58.2L63.5 57.0L62.0 55.8ZM50.5 52.0L49.5 52.0L48.2 53.0L48.8 54.8L50.0 56.2L50.5 54.0ZM72.8 50.5L72.5 50.2L70.2 50.5L68.8 51.0L68.8 51.5L69.5 52.0L70.2 52.0L72.2 51.2ZM96.0 49.0L95.2 49.8L95.5 50.8L97.0 52.0L98.0 51.5L97.8 50.2ZM55.8 49.0L55.2 48.2L54.5 48.2L53.0 49.5L53.0 50.0L54.5 50.0L55.5 49.5ZM66.2 48.0L65.5 48.2L64.2 49.5L64.5 51.0L66.2 51.0L67.0 50.5L67.0 49.0ZM45.2 46.8L44.0 47.2L41.2 46.8L41.8 49.0L43.0 49.5L43.2 50.5L42.2 51.8L40.2 52.8L38.0 55.5L37.8 60.2L38.2 60.8L41.8 61.2L43.8 61.0L43.8 58.0L45.2 56.0L45.8 54.8L45.8 53.2L45.0 51.0L44.0 49.5L44.2 48.8L45.5 47.5ZM102.2 46.2L101.0 46.8L99.8 46.8L99.5 47.2L100.5 47.8L101.2 46.8ZM96.2 44.8L95.8 45.0L95.8 46.8L96.5 47.2L97.5 46.8L97.8 46.0L97.2 45.2ZM100.8 40.8L100.5 41.0L100.8 42.5L101.8 43.5L102.8 43.5L103.5 42.5L103.0 41.2ZM23.0 38.5L23.0 39.5L23.8 40.5L26.5 40.8L27.0 40.2L26.8 39.0L25.2 38.2ZM52.5 30.5L52.2 31.5L52.8 32.0L53.5 32.0L53.5 30.8ZM8.0 25.5L7.5 26.2L8.0 28.2L9.0 29.0L10.5 29.0L11.2 28.2L11.0 25.8ZM86.0 26.5L88.2 25.8L87.8 25.0L86.5 25.0L86.0 25.8ZM50.5 26.2L51.5 26.8L52.8 26.0L55.5 26.0L56.0 25.0L54.5 24.2L51.2 24.2L50.5 25.0ZM48.2 26.0L47.8 25.0L45.8 23.5L44.0 23.8L41.2 24.8L40.8 25.2L41.8 27.2L47.0 27.5L48.2 26.8ZM57.2 25.2L57.2 26.8L57.8 27.5L57.8 28.2L56.8 29.0L55.0 29.5L55.0 30.5L55.8 31.5L57.8 32.5L59.2 34.5L58.5 35.2L57.8 35.2L57.5 36.2L58.0 36.8L60.8 36.5L62.0 37.8L61.8 38.5L60.0 40.2L58.8 40.8L59.0 41.5L62.5 41.8L65.2 44.0L66.8 44.0L67.5 43.5L68.5 43.5L70.2 45.0L71.2 45.2L72.2 44.8L72.5 43.8L72.0 43.2L70.8 43.0L68.2 43.2L67.0 42.2L67.0 41.2L67.8 40.2L69.5 39.2L70.2 39.2L72.8 40.2L74.5 40.0L76.2 41.0L78.0 40.8L78.8 41.8L78.5 45.8L79.2 47.2L79.5 49.5L80.8 51.2L80.5 51.8L78.5 52.5L77.0 54.8L77.0 55.2L79.0 56.8L79.5 56.8L81.0 55.5L82.8 55.8L84.8 55.5L85.0 53.2L84.0 52.0L84.0 51.2L84.5 50.8L85.5 51.0L88.5 54.0L90.0 53.8L91.2 53.0L92.0 50.0L86.8 49.5L86.0 48.5L85.8 47.2L84.5 46.5L84.0 44.5L83.2 43.8L81.8 43.2L80.8 42.2L79.8 37.2L78.8 35.0L79.8 32.5L79.5 31.0L78.2 27.5L75.8 24.8L74.8 24.5L75.2 26.8L75.0 28.5L74.5 29.0L73.2 29.2L70.8 30.5L70.0 30.5L68.5 29.8L65.2 29.8L64.5 29.2L62.2 29.5L61.2 28.2L61.5 27.8L64.8 27.2L66.2 26.0L69.5 24.8L71.5 22.2L72.5 22.2L74.5 23.8L75.0 23.8L75.8 22.5L75.8 20.8L75.2 20.0L74.0 19.2L70.0 18.2L69.5 19.0L70.5 21.2L70.5 22.0L68.8 22.8L68.2 23.8L67.0 23.8L66.0 22.2L62.5 23.0L59.2 24.8L58.0 24.8ZM54.8 21.8L55.2 22.2L57.8 23.0L59.8 22.0L63.0 21.8L65.2 21.0L65.2 20.0L64.2 19.2L63.0 19.2L60.8 18.2L59.5 18.2L56.5 19.5L55.0 21.0ZM12.8 21.8L12.8 22.8L14.5 24.5L15.8 25.0L16.8 26.2L17.2 27.5L17.0 28.0L17.2 29.5L20.2 31.8L20.5 33.2L21.0 33.8L22.8 33.5L24.0 34.8L24.2 35.8L25.0 36.5L27.0 36.8L28.8 37.5L30.0 37.5L33.8 35.5L34.5 32.8L35.5 31.0L35.5 30.2L34.5 29.2L34.8 28.5L34.5 27.5L33.0 26.0L30.8 25.2L26.2 24.8L23.2 25.5L22.0 24.8L22.5 24.2L23.8 23.8L24.8 21.0L24.5 19.8L22.5 17.8L21.2 17.8L17.5 21.5L15.2 21.8L14.5 21.2L13.5 21.2ZM32.8 29.8L32.0 31.0L30.8 31.0L30.2 30.5L30.5 29.8L31.8 29.2ZM52.8 2.8L52.5 2.5L49.2 2.5L45.0 3.8L44.0 3.8L39.5 6.0L39.0 6.5L39.0 7.5L39.5 8.5L40.2 9.0L42.8 9.2L48.2 7.0L51.2 6.5L52.5 5.5Z" fill="#fbe3d4" fill-rule="evenodd"/><path d="M64.5 140.5L64.5 143.0L65.2 143.0L65.5 142.0L65.2 141.0ZM54.0 143.0L59.8 143.0L58.8 141.5L56.2 140.5L55.2 140.5L54.5 141.2ZM60.0 131.8L60.5 135.0L61.2 135.8L65.0 135.8L67.8 136.8L69.0 136.8L69.8 135.2L70.8 134.8L71.2 134.0L71.0 132.8L70.5 132.5L69.2 132.8L67.8 131.5L64.2 131.8L62.2 131.2ZM106.0 125.2L105.0 125.2L103.5 127.0L99.0 127.2L97.5 128.0L96.8 128.8L96.2 130.5L95.2 132.0L93.0 134.0L92.2 133.8L90.8 134.8L90.2 135.8L90.2 136.8L89.5 137.5L88.0 137.8L87.2 138.5L87.2 139.2L89.0 143.0L98.0 143.0L98.0 141.8L97.2 141.0L95.5 142.2L94.5 142.0L93.8 141.2L94.2 139.8L95.0 139.0L96.2 139.0L99.8 140.2L101.8 142.0L102.0 143.0L105.0 143.0L105.2 141.8L106.0 141.0L106.0 137.0L101.5 134.5L100.8 133.8L100.8 133.0L102.8 131.0L103.5 128.5L104.2 127.8L106.0 127.0ZM65.2 121.5L65.0 122.2L66.5 124.8L65.0 126.0L63.2 126.2L62.8 127.0L63.2 127.5L65.0 127.2L66.5 128.0L67.0 127.5L67.0 125.5L66.5 124.5L67.0 121.8ZM55.8 119.5L53.0 119.0L52.2 120.0L52.5 129.5L51.8 130.8L50.0 137.8L48.0 143.0L50.8 143.0L52.5 139.5L54.5 133.5L57.2 127.5L57.8 123.2ZM50.2 110.5L49.8 111.0L50.2 115.8L52.8 118.2L53.5 118.2L54.0 115.8L54.8 114.5L54.0 111.2L53.5 110.2ZM74.5 113.8L74.8 116.0L76.0 117.8L76.8 117.8L78.5 116.8L82.0 116.0L82.8 115.2L83.0 114.0L83.8 113.8L84.0 114.5L83.5 115.8L83.8 117.5L84.5 117.0L84.8 115.8L84.5 113.5L85.0 112.5L87.5 111.8L89.0 111.8L90.5 112.8L90.8 113.8L90.2 114.5L89.8 116.8L88.2 118.2L88.0 119.5L88.2 120.2L88.8 120.2L90.0 118.2L91.5 119.0L92.2 119.0L93.8 118.2L97.5 118.2L98.5 116.2L100.0 116.2L101.0 115.8L101.5 115.0L101.5 114.0L99.8 112.2L98.8 112.0L98.8 111.5L100.2 110.5L100.2 109.5L99.8 108.5L97.2 108.0L93.5 103.8L88.8 103.0L88.0 103.8L88.0 104.2L87.2 105.0L86.8 105.0L84.2 102.5L83.5 102.5L83.0 104.8L82.0 107.5L80.2 109.0L77.8 108.8L77.0 111.0L75.0 112.8ZM92.0 112.0L93.2 111.0L94.8 111.5L97.2 114.5L97.5 115.8L96.5 116.5L94.2 117.0L93.2 114.8L91.8 113.2ZM49.0 101.8L48.8 102.0L48.8 104.5L49.0 105.0L50.8 105.2L51.5 104.2L51.8 103.0L51.0 102.2ZM91.2 99.0L89.5 100.0L89.8 101.2L90.5 101.8L91.5 101.8L92.2 101.2L92.2 100.2ZM74.5 98.5L73.2 98.5L72.2 99.5L70.8 99.5L69.0 99.0L68.5 100.5L67.8 101.2L66.0 100.8L62.8 101.0L61.2 103.0L59.5 103.5L59.5 104.2L60.0 104.8L62.0 104.8L63.8 105.5L66.0 105.2L67.5 103.5L69.5 103.2L70.2 103.8L72.0 108.0L70.8 109.0L69.8 109.0L68.2 107.2L67.5 107.0L66.2 108.0L65.8 109.2L66.0 111.0L66.8 111.8L68.8 112.5L69.0 113.2L68.8 113.8L67.5 114.8L68.0 115.8L68.8 115.8L69.5 115.0L69.5 114.5L70.8 113.8L71.5 112.0L73.5 111.0L74.0 109.5L73.8 107.5L74.0 106.5L74.5 106.2L75.0 106.5L75.2 107.2L76.2 107.8L75.8 106.8L76.0 102.8L75.5 101.5L75.8 100.0L75.2 99.0ZM72.2 100.8L72.8 100.5L73.0 101.0L72.5 101.5ZM99.0 97.2L98.5 98.0L98.8 101.0L98.2 102.0L98.5 104.2L100.0 105.0L100.5 104.5L99.8 101.0L100.8 99.2L100.8 98.0L100.0 97.2ZM76.2 91.2L75.8 91.8L76.2 95.2L76.0 97.0L77.2 98.5L77.5 99.5L78.2 100.0L79.2 99.0L79.5 98.0L77.5 96.0L78.2 94.5L76.8 91.5ZM91.8 91.2L91.0 90.8L90.0 91.5L90.0 92.2L91.2 92.5ZM67.8 89.2L67.8 90.0L68.5 90.8L70.0 91.5L71.2 91.5L71.2 90.8L70.2 89.5L69.0 89.0ZM86.0 88.0L84.5 88.2L81.0 90.2L81.2 92.5L82.5 94.0L82.8 96.5L83.8 96.5L85.0 95.5L87.0 95.5L88.0 94.2L88.2 90.5ZM49.5 84.5L49.5 85.8L50.5 87.0L52.0 87.0L53.5 87.8L54.8 87.8L56.5 88.5L59.0 88.2L59.8 87.2L59.8 85.2L59.0 83.5L58.0 83.5L55.8 84.5L54.2 83.2L53.0 82.8ZM81.8 80.5L81.0 79.5L79.5 79.8L78.2 79.5L76.0 80.5L75.5 80.0L75.2 78.8L73.8 78.8L71.0 79.8L67.2 79.5L66.5 79.0L62.5 79.5L61.5 80.8L58.8 80.5L58.8 81.0L60.0 81.8L64.0 82.0L66.8 83.5L68.2 83.0L73.2 83.5L75.2 82.5L78.5 82.8L80.2 81.2L81.5 81.0ZM42.5 76.0L40.0 76.5L39.0 77.5L39.5 81.2L40.2 82.0L41.5 82.5L42.5 82.2L44.5 79.2L43.2 76.2ZM48.5 59.8L48.8 60.8L49.8 60.8L50.5 60.2L50.2 59.8L48.8 59.2ZM30.5 57.5L30.2 58.8L31.5 60.8L31.8 62.0L32.5 62.5L33.8 62.5L34.2 61.2L33.8 60.2L33.2 57.5L32.8 57.2ZM59.5 55.5L59.2 56.5L60.8 58.5L58.0 60.2L57.8 61.8L56.8 63.8L57.0 65.0L58.5 66.8L60.0 69.8L57.8 71.0L58.0 73.0L59.0 73.8L60.0 73.8L62.5 72.8L65.0 74.5L67.2 74.2L68.5 74.8L69.5 74.8L71.2 74.0L75.0 73.8L75.0 71.0L74.8 70.5L74.0 70.2L72.2 70.2L70.8 69.5L68.2 70.8L64.5 70.5L61.8 71.2L60.5 69.8L60.5 68.5L61.2 67.0L62.0 66.8L66.2 67.8L66.5 66.5L64.5 63.8L64.0 62.5L61.8 60.5L61.8 59.5L63.2 57.8L63.0 57.0L61.2 55.8ZM80.5 53.2L79.5 53.0L77.8 54.8L77.8 55.5L79.2 55.8ZM50.2 52.5L49.5 52.5L49.0 53.0L49.8 54.0ZM44.2 50.8L43.8 50.8L42.8 51.8L40.8 52.8L38.2 55.8L38.5 57.8L38.0 59.2L38.5 60.5L42.8 60.8L43.2 60.2L43.5 57.8L45.5 54.8L45.5 53.5ZM96.2 50.2L96.2 50.8L97.2 51.2L97.2 50.8ZM86.5 50.2L87.0 51.5L89.2 53.2L90.2 53.2L91.2 52.2L91.2 50.5L90.5 50.0ZM66.0 48.8L64.8 49.5L65.0 50.5L65.8 50.5L66.2 50.0ZM42.0 46.8L42.5 48.5L43.0 48.5L43.2 48.0L43.0 47.2ZM23.0 38.8L23.5 40.2L26.8 40.5L26.8 39.2L25.8 38.5L23.2 38.5ZM87.5 25.8L87.0 25.5L86.5 26.2ZM7.8 26.0L8.0 27.8L8.8 28.8L11.0 28.5L11.2 27.2L10.8 25.8L8.5 25.5ZM17.2 25.8L17.8 29.5L18.5 30.2L20.0 30.8L21.2 32.8L23.0 33.2L24.0 34.2L25.0 36.2L26.8 36.5L28.5 37.2L30.0 37.2L31.2 36.2L32.5 36.0L33.5 35.2L34.8 31.2L34.5 30.5L33.8 30.2L32.0 31.5L30.5 31.5L29.8 31.0L27.8 31.0L27.2 30.5L27.2 29.8L28.0 29.0L29.2 29.5L30.5 29.5L33.8 28.5L34.0 27.5L33.0 26.2L32.0 25.8L28.0 25.0L26.5 25.0L23.5 26.0L21.5 25.0L17.8 25.2ZM22.5 29.2L23.0 29.8L22.8 30.2L22.0 30.0ZM47.8 26.8L47.5 25.2L45.5 23.8L42.0 24.8L41.0 25.5L42.0 27.0L46.5 27.5ZM58.2 25.8L58.0 26.8L58.5 28.0L57.5 29.0L55.8 29.5L55.5 30.2L56.0 31.0L57.0 31.2L60.2 35.2L62.8 37.5L62.8 38.5L61.2 39.8L60.2 41.2L62.8 41.5L64.2 42.5L65.8 42.2L66.5 40.8L69.0 39.0L70.5 39.0L71.8 39.8L73.0 40.0L75.2 39.8L76.2 40.5L78.5 40.5L79.0 41.0L78.8 45.5L79.5 47.5L79.8 49.8L80.5 50.5L81.8 51.0L82.2 51.5L82.2 52.2L82.8 52.5L83.0 52.2L82.8 51.0L83.2 49.8L84.0 49.2L85.2 49.2L85.2 48.0L84.0 46.5L83.5 44.2L81.5 43.5L80.2 42.0L79.5 37.2L78.2 34.5L78.2 33.8L79.0 33.0L79.2 31.5L78.2 28.2L77.5 27.0L76.5 26.0L75.8 25.8L75.2 28.8L74.8 29.2L73.8 29.2L71.0 30.5L69.5 30.5L68.5 30.0L65.0 30.2L62.0 29.8L60.8 28.2L59.5 27.8L59.2 27.2L59.8 26.5L62.2 27.2L63.8 27.2L65.5 26.5L66.8 25.5L68.2 25.0L67.8 24.5L66.0 24.5L65.0 23.2L63.2 23.2L61.0 24.0L59.5 25.5ZM64.5 37.8L65.2 37.8L65.8 38.2L65.0 39.2L64.2 39.2L63.8 38.8ZM70.2 19.0L70.5 20.8L71.5 21.8L72.2 21.8L73.8 22.8L75.0 22.8L75.5 22.2L75.5 20.8L74.5 19.8L71.0 18.8ZM55.5 21.2L55.8 21.8L56.8 22.2L58.5 22.2L60.2 21.5L62.5 21.2L64.0 20.5L64.0 20.0L61.0 18.8L59.2 18.8L56.8 19.8ZM24.5 20.0L22.2 17.8L21.5 17.8L17.5 21.5L15.2 21.8L14.5 21.2L13.8 21.2L12.8 22.0L12.8 22.5L14.2 24.2L15.5 24.8L22.2 24.2L23.8 23.5L24.5 21.5ZM52.8 3.2L52.2 2.5L50.0 2.5L44.5 3.8L39.8 6.0L39.0 7.0L40.0 8.8L43.5 9.0L47.2 7.2L51.0 6.5L52.0 6.0Z" fill="#fbd0b9" fill-rule="evenodd"/><path d="M97.5 142.5L97.0 142.2L96.2 143.0L97.5 143.0ZM54.5 142.5L54.5 143.0L59.2 143.0L59.2 142.5L58.5 141.8L56.5 141.0L55.5 141.0ZM88.0 138.8L88.0 139.5L89.0 141.8L90.5 142.5L90.8 143.0L95.0 143.0L92.8 141.8L93.2 139.0L92.5 138.0L91.5 137.8L90.5 138.8L89.2 138.2L88.5 138.2ZM69.0 136.2L69.0 134.8L68.5 134.0L68.2 132.2L67.5 131.8L62.5 132.0L61.0 133.8L61.2 134.8L63.5 134.8L68.0 136.5ZM99.0 127.8L97.2 129.0L96.8 130.8L95.5 132.0L94.0 134.5L94.2 137.2L95.2 138.0L98.0 138.0L99.2 138.8L99.2 138.2L98.0 138.0L97.8 137.0L98.5 135.8L99.8 135.8L101.8 138.2L102.0 139.0L101.8 141.0L102.5 142.0L102.5 143.0L104.8 143.0L104.8 142.0L106.0 140.2L106.0 137.2L100.8 135.0L100.0 134.0L100.2 132.5L102.5 130.0L102.8 128.2L102.5 127.8L101.8 127.5ZM65.5 122.0L65.5 122.5L66.2 122.8L66.5 122.2ZM55.5 119.5L53.0 119.2L52.5 119.8L53.0 123.8L52.8 129.0L51.5 131.8L50.2 137.2L48.5 141.5L48.2 143.0L50.8 142.8L52.2 139.8L54.0 134.5L57.0 127.8L57.8 123.5L56.2 120.2ZM97.2 117.2L96.8 117.0L95.2 117.8L96.8 118.0ZM91.2 114.2L90.5 114.8L90.5 117.2L91.5 118.5L92.8 118.5L93.5 117.8L92.8 114.8ZM50.0 110.8L49.8 111.8L50.2 115.5L52.0 117.5L53.5 117.8L54.8 114.2L53.8 110.8L53.2 110.2ZM79.2 109.8L78.5 109.8L75.0 114.0L74.8 114.8L75.0 115.8L76.0 117.2L80.5 115.8L81.2 114.8L81.5 113.0L80.0 111.5L80.0 110.5ZM66.2 108.8L66.2 110.5L67.5 111.8L69.5 111.8L70.5 112.2L72.8 111.2L73.5 110.2L73.5 109.0L73.0 108.5L70.2 109.5L68.2 108.0L67.2 107.8ZM80.8 109.5L82.2 111.8L83.5 111.8L84.8 110.0L86.2 110.8L88.0 110.2L90.2 111.8L91.0 111.8L92.0 110.8L93.5 110.2L94.8 110.8L97.0 113.5L97.5 113.5L98.8 115.0L99.2 115.2L100.8 115.0L100.5 113.8L98.5 113.5L97.8 112.8L98.0 109.2L95.0 106.8L93.0 104.2L89.2 103.8L88.0 105.5L87.0 105.8L85.8 105.2L84.0 103.2L83.5 103.8L82.8 107.2ZM49.2 101.8L49.0 102.0L49.0 104.8L51.0 105.0L51.5 102.8ZM74.8 100.5L74.2 100.5L72.0 103.5L72.0 104.5L72.5 105.2L75.2 105.2L75.8 103.2ZM71.0 100.5L70.5 100.0L69.5 100.0L67.8 102.2L66.2 101.0L63.2 101.0L62.8 101.2L61.8 104.0L63.5 105.0L65.0 105.0L67.8 102.2L68.0 102.5L70.2 102.2L71.0 101.5ZM99.2 97.8L99.0 99.2L99.2 99.8L100.0 99.8L100.5 99.0L100.5 98.2L100.0 97.8ZM76.2 92.2L76.0 92.5L76.2 94.8L77.2 95.0L77.5 94.2ZM86.5 89.0L84.2 88.8L82.0 89.8L81.2 90.8L81.5 92.2L83.0 93.8L83.5 95.5L84.8 94.5L85.0 93.0L85.5 92.5L87.0 92.5L87.8 91.5L87.8 90.2ZM50.0 85.0L50.0 85.8L50.8 86.5L51.5 86.5L53.8 85.5L56.2 88.0L58.5 88.0L59.5 87.0L59.2 84.5L58.5 83.8L56.2 85.0L55.2 85.0L54.0 83.5L52.8 83.2ZM79.8 80.5L79.0 80.0L78.0 80.0L77.0 80.8L76.5 81.8L77.2 82.2L78.5 82.2L79.2 81.8ZM75.5 82.0L74.5 79.0L72.8 79.2L71.2 80.0L69.0 79.8L67.2 80.0L66.5 79.5L65.0 79.5L64.5 80.0L65.5 82.2L66.2 83.0L68.0 82.8L73.5 83.0ZM40.2 76.5L39.2 77.2L39.5 81.0L40.5 82.0L42.2 82.2L44.0 80.0L44.2 78.5L43.0 76.2ZM59.5 71.0L58.8 73.0L60.2 73.2L60.8 73.0L61.0 71.8L60.2 71.0ZM74.8 73.5L74.8 71.2L74.2 70.8L70.0 70.5L68.2 71.2L64.0 71.0L63.2 71.2L62.8 72.0L64.8 74.2L69.8 74.5L71.2 73.8L74.5 73.8ZM57.2 63.5L57.5 65.2L59.2 66.8L59.8 67.8L59.8 66.5L60.2 66.0L65.8 66.8L64.0 63.0L63.0 62.0L61.0 61.8L59.5 63.2L58.8 63.2L58.0 62.8ZM30.8 57.8L30.5 58.8L31.8 60.2L32.2 61.8L32.8 62.2L33.5 62.2L33.8 60.5L33.2 59.2L33.2 58.0L32.8 57.5ZM59.8 56.0L59.8 56.5L60.5 57.2L62.0 58.0L62.8 57.5L61.8 56.2ZM44.0 51.5L41.0 53.0L38.8 55.8L38.8 58.2L38.5 58.5L38.8 60.2L42.5 60.5L43.0 60.0L43.0 58.5L42.5 57.8L44.8 55.8L45.2 54.2L44.8 52.5ZM87.8 50.8L88.0 51.8L89.0 52.5L90.0 52.8L90.8 52.2L91.0 51.2L90.5 50.5L88.0 50.5ZM79.5 41.8L79.0 43.2L79.0 45.8L79.5 46.8L79.8 49.2L80.5 50.2L82.2 50.8L84.5 48.0L83.2 44.5L81.0 43.5ZM23.0 39.0L23.8 40.2L24.5 40.5L26.8 40.2L26.5 39.0L25.8 38.5L23.2 38.5ZM77.5 27.5L76.0 26.8L75.5 27.8L75.5 28.8L74.8 29.5L73.5 29.5L70.5 30.8L68.5 30.2L67.5 30.2L66.5 30.8L64.0 30.8L61.8 30.0L60.8 28.8L59.8 28.2L58.2 28.8L56.5 30.2L57.8 31.0L58.8 33.0L63.5 37.0L65.2 37.0L66.5 38.0L66.5 39.0L65.5 40.2L64.2 40.5L62.8 39.5L61.8 40.2L61.8 41.0L64.0 41.5L64.5 41.0L65.2 41.0L66.5 39.8L69.5 38.5L72.0 39.5L74.8 39.2L76.5 40.2L79.2 40.0L79.2 37.0L77.5 33.8L77.5 33.2L78.8 31.8L78.5 30.0ZM8.2 25.8L8.0 26.0L8.2 28.0L9.2 28.8L10.8 28.5L11.0 28.2L10.8 26.0ZM17.8 25.8L18.0 29.2L18.5 29.8L20.8 30.0L22.2 28.8L23.5 29.0L24.2 31.8L23.5 32.0L22.8 31.2L21.5 31.2L21.5 32.0L23.8 33.0L24.8 35.5L25.5 36.2L29.8 37.0L33.2 35.0L33.8 32.2L33.5 31.5L32.2 32.0L30.5 32.0L29.5 31.5L27.2 32.0L26.8 31.5L26.8 29.5L27.8 28.2L30.0 29.2L32.8 28.5L33.5 27.8L32.8 26.2L31.2 25.8L26.2 25.5L24.5 26.0L23.5 26.8L21.2 25.2ZM41.5 25.5L42.0 26.5L44.2 27.2L46.8 27.2L47.5 26.8L47.2 25.5L45.8 24.2L44.0 24.2ZM65.8 25.5L64.2 24.0L61.5 24.2L60.5 25.0L60.5 26.0L61.0 26.5L62.8 27.0L64.5 26.8ZM70.8 19.8L71.5 21.2L73.8 22.2L75.0 22.2L75.2 21.0L74.0 19.8L73.0 19.5ZM62.2 20.0L60.5 19.0L59.5 19.0L57.0 20.0L56.2 20.8L56.2 21.2L56.8 21.8L58.0 22.0L61.5 21.0L62.2 20.5ZM24.5 20.2L22.8 18.2L21.2 18.0L17.5 21.5L15.2 21.8L14.2 21.2L13.0 21.8L13.0 22.8L15.0 24.5L22.8 24.0L24.0 22.8ZM52.5 3.0L51.8 2.5L49.2 2.8L43.2 4.2L39.5 6.2L39.2 7.5L40.0 8.8L43.2 9.0L47.0 7.2L51.5 6.2L52.2 5.5Z" fill="#f7b799" fill-rule="evenodd"/><path d="M55.0 142.2L55.0 143.0L59.0 143.0L58.8 142.2L57.0 141.5L55.5 141.5ZM88.8 139.5L89.0 140.8L89.5 141.2L90.8 141.2L92.0 140.2L92.0 139.8L90.2 139.8L89.2 139.2ZM102.5 136.8L102.8 141.0L103.2 142.0L103.2 143.0L104.2 143.0L104.2 142.0L105.5 140.0L106.0 139.8L106.0 137.8L104.5 137.0ZM63.5 132.8L63.2 133.8L63.8 134.2L65.8 135.0L67.0 135.0L68.0 136.0L68.5 136.0L68.5 135.2L67.8 134.5L68.0 133.5L67.8 132.2L66.2 132.0ZM101.5 128.5L99.2 128.2L98.2 129.2L98.2 130.2L95.8 132.5L94.8 135.0L94.8 136.8L95.8 137.5L96.8 137.2L97.5 134.5L99.8 131.8L101.2 130.5ZM55.2 119.5L53.0 119.5L52.5 120.0L53.0 122.5L52.8 129.2L51.5 132.0L50.5 136.8L48.2 143.0L50.5 143.0L52.8 138.2L54.8 132.2L56.2 129.5L57.0 127.2L57.5 123.0L56.2 120.2ZM91.2 114.8L90.8 115.2L91.0 116.8L92.0 117.0L92.2 115.2ZM78.8 110.8L75.8 113.8L75.2 114.8L75.5 116.0L76.2 116.8L79.8 115.5L80.5 114.5L80.5 113.0ZM50.2 110.8L50.0 111.0L50.2 115.2L51.2 116.8L53.0 117.8L54.5 114.8L54.5 113.5L53.8 111.0L53.0 110.2ZM95.0 108.2L94.2 109.2L96.8 111.8L96.5 109.0L95.8 108.2ZM66.5 108.8L66.5 110.2L67.8 111.5L72.2 111.2L73.0 110.8L73.2 110.0L72.8 109.0L72.0 109.0L70.8 109.8L69.8 109.8L68.0 108.2L67.0 108.2ZM81.5 109.2L82.5 110.5L83.0 110.5L84.5 109.0L86.8 109.5L87.8 108.8L88.5 108.8L88.8 109.8L89.8 110.8L91.0 111.0L93.5 109.2L93.0 108.2L93.0 105.5L91.5 104.5L89.5 104.5L88.8 105.8L87.8 106.5L85.5 105.8L84.2 104.5L83.2 106.5L83.2 107.8L82.0 108.5ZM49.2 102.0L49.0 104.5L49.8 105.0L51.0 105.0L51.5 102.8ZM74.8 101.8L74.2 101.8L73.2 103.0L73.2 104.0L73.8 104.5L74.8 104.5L75.2 104.0L75.2 102.8ZM62.8 101.8L62.8 103.8L63.8 104.5L66.0 103.5L66.8 102.8L66.8 101.8L66.2 101.2L63.0 101.2ZM87.5 90.2L86.0 89.2L84.5 89.0L81.8 90.2L81.5 91.5L82.2 92.8L83.8 93.2L85.0 92.0L87.0 91.8L87.5 91.2ZM58.5 84.2L57.5 84.5L55.8 85.8L55.8 86.8L56.2 87.5L58.0 87.8L59.0 87.2L59.2 85.8ZM78.0 80.8L77.5 81.5L78.5 81.8L78.8 80.8ZM74.5 79.8L73.8 79.2L72.0 79.8L71.0 80.5L68.5 80.0L67.5 81.2L66.8 81.2L66.5 82.2L66.8 82.5L68.2 82.2L68.5 82.5L71.0 82.5L71.2 82.2L74.0 82.5L74.5 82.0ZM42.8 76.2L39.8 76.8L39.2 77.5L39.8 81.2L41.5 82.2L42.0 82.2L43.0 81.2L44.2 79.2ZM74.8 73.0L74.5 71.5L74.0 71.0L70.5 71.0L68.8 71.5L64.2 71.2L63.5 71.5L63.2 72.0L64.0 73.2L65.5 74.2L65.8 74.0L69.8 74.2L71.2 73.5L73.8 73.8L74.5 73.5ZM57.8 63.8L58.0 65.2L58.8 65.5L59.2 64.5ZM60.5 63.0L60.0 64.0L60.5 65.0L61.8 65.5L64.0 65.5L64.0 64.0L63.0 62.5L61.8 62.2ZM31.0 58.0L30.8 58.2L31.0 59.0L32.2 60.0L32.8 61.5L33.2 61.8L33.5 61.0L33.0 59.8L33.0 58.0L32.5 57.8ZM44.0 52.5L43.5 52.2L42.5 52.5L40.8 53.8L40.2 55.2L39.2 56.5L39.2 58.0L38.8 59.0L39.2 60.0L42.2 60.2L42.8 59.8L42.8 59.2L41.8 58.8L41.0 58.0L41.0 57.5L42.0 56.5L43.5 56.2L44.2 55.8L44.8 54.2ZM89.0 51.2L89.8 52.0L90.2 51.8L90.2 51.2L89.8 51.0ZM79.8 42.8L79.2 43.2L79.2 46.0L79.8 47.0L79.8 48.8L80.5 50.0L82.0 50.5L84.0 48.0L84.0 47.2L83.5 46.5L83.2 45.0L81.2 44.0ZM23.2 38.8L23.2 39.5L24.0 40.2L26.2 40.5L26.8 40.0L26.0 38.8L25.2 38.5ZM79.0 38.5L79.0 37.0L77.0 33.5L77.0 32.2L78.0 31.2L78.0 29.8L77.5 28.2L76.8 27.5L76.0 27.5L75.8 28.8L75.0 29.5L73.0 29.8L71.0 30.8L68.0 30.5L66.0 31.2L64.2 31.2L61.8 30.2L60.2 28.8L59.0 28.8L57.8 30.0L59.2 33.2L60.5 34.2L61.8 34.2L63.2 33.2L64.0 33.2L64.5 33.8L64.2 36.0L67.0 37.5L67.8 38.5L69.5 38.2L72.8 39.5L75.0 39.0L76.5 40.0L78.2 39.5ZM32.2 26.2L30.2 25.8L27.2 26.0L25.2 26.5L24.5 27.2L24.0 28.2L24.0 29.5L25.5 31.8L24.8 33.0L24.8 34.2L25.8 36.0L27.5 36.2L28.2 36.8L29.5 36.8L31.0 35.5L32.8 34.8L33.0 33.0L32.5 32.5L29.0 32.2L28.2 33.0L27.0 33.2L25.8 31.8L26.5 28.8L27.2 27.5L28.0 27.5L29.5 28.8L31.0 28.8L32.8 27.8L32.8 26.8ZM8.5 25.8L8.0 26.2L8.5 28.2L10.5 28.5L11.0 27.8L10.8 26.2L10.2 25.8ZM23.0 27.0L21.8 25.8L21.0 25.5L18.2 26.0L18.5 27.2L18.2 28.8L19.0 29.5L20.8 29.5L22.0 28.2L23.2 27.8ZM64.8 25.5L64.0 24.8L61.2 25.0L61.0 26.0L63.2 26.8L64.2 26.5ZM42.5 25.8L43.5 26.8L45.5 27.2L46.8 27.0L47.2 26.5L47.0 25.8L45.2 24.5L43.5 24.8ZM71.5 20.0L71.5 20.8L74.0 22.0L75.0 21.5L75.0 21.0L73.8 20.0L72.5 19.8ZM61.2 20.0L59.8 19.2L57.0 20.5L57.0 21.2L57.2 21.5L59.8 21.2L61.0 20.8ZM24.2 20.0L22.2 18.0L21.5 18.0L20.5 18.5L17.5 21.5L15.2 21.8L14.5 21.2L13.2 21.8L13.0 22.5L14.8 24.2L22.2 24.0L23.5 23.5L24.2 21.8ZM52.5 3.2L52.2 2.8L49.8 2.8L44.2 4.0L39.8 6.2L39.2 7.2L40.2 8.8L43.0 9.0L47.5 7.0L51.8 6.0Z" fill="#f09c7b" fill-rule="evenodd"/><path d="M55.2 143.0L58.5 143.0L58.5 142.8L57.5 142.0L55.8 142.0ZM105.0 137.8L104.0 137.8L103.5 138.5L103.2 140.5L103.8 141.2L104.2 141.2L105.2 139.8L105.5 138.2ZM97.2 132.5L96.8 132.5L96.2 133.2L96.8 133.5ZM67.2 132.5L65.5 132.5L64.8 132.8L64.2 133.5L65.2 134.2L66.0 134.2L67.2 133.0ZM55.5 119.8L54.0 119.5L52.8 119.8L52.8 121.8L53.2 123.5L52.8 126.5L52.8 129.5L51.5 132.2L50.8 136.2L49.0 140.8L48.5 143.0L50.5 142.8L52.0 139.8L54.2 133.2L56.8 127.8L57.5 123.2L56.2 120.5ZM78.8 112.0L78.0 112.2L76.5 113.8L76.0 114.8L76.2 116.0L79.0 115.2L79.8 114.5L80.0 113.8L79.8 113.0ZM50.5 110.8L50.0 111.2L50.5 115.8L52.0 117.2L53.0 117.5L54.5 114.5L53.8 111.2L53.2 110.5ZM73.0 109.8L71.8 109.5L70.2 110.8L70.5 111.0L72.8 110.5ZM66.8 108.8L66.8 110.2L67.2 111.0L67.8 111.2L69.5 110.8L69.0 109.5L67.8 108.5ZM84.0 106.0L83.8 107.0L84.2 108.0L85.8 107.8L86.2 107.2L85.5 106.2ZM90.0 105.0L89.5 105.5L89.5 106.5L90.8 107.8L90.0 109.2L90.0 110.0L91.0 110.2L92.5 109.0L92.0 108.0L92.0 105.8L91.0 105.0ZM49.2 102.0L49.0 104.0L49.5 104.8L50.8 105.0L51.5 103.0L51.0 102.5ZM63.0 101.8L63.0 102.8L63.5 103.5L64.8 103.5L66.2 102.8L66.2 101.5L63.2 101.5ZM87.2 90.5L86.2 89.8L84.2 89.5L82.2 90.2L81.8 91.5L82.0 92.2L83.8 92.5L85.0 91.5L86.8 91.5ZM58.2 84.8L56.5 86.2L57.0 87.2L58.0 87.2L58.8 86.8L58.8 85.2ZM68.5 80.8L68.8 82.0L70.5 81.8L69.0 80.5ZM72.8 79.8L72.0 80.2L71.8 81.5L73.5 82.2L74.2 81.5L74.2 80.2L74.0 79.8ZM42.5 76.2L40.0 76.8L39.5 77.2L39.8 80.8L40.2 81.5L41.2 82.0L42.0 82.0L44.0 79.5L44.0 78.5L43.0 76.5ZM74.5 72.5L73.8 71.2L69.5 71.8L64.5 71.5L63.8 72.0L64.0 72.8L65.0 73.8L67.5 73.5L69.0 74.0L71.0 73.2L73.5 73.5L74.2 73.2ZM61.5 63.0L61.0 63.5L61.0 64.2L61.5 64.8L62.8 64.8L63.2 64.2L63.2 63.5L62.8 63.0ZM40.0 59.0L40.8 59.8L41.5 60.0L42.0 59.8L41.8 59.2ZM31.5 58.2L31.5 58.8L32.0 59.0L32.8 58.8L32.5 58.2ZM42.2 53.2L42.0 54.0L43.0 54.2L43.2 53.2ZM79.8 43.5L79.5 46.0L80.0 47.2L80.0 49.0L80.8 50.0L82.0 50.2L83.8 47.5L83.0 46.0L83.0 45.2L82.2 44.5ZM23.2 38.8L23.5 39.8L24.2 40.2L26.5 40.2L26.5 39.2L25.8 38.8ZM31.0 33.2L29.8 33.0L27.8 34.5L25.8 34.2L25.8 35.0L27.8 36.2L29.2 36.5L30.0 35.8L30.0 34.2ZM78.5 38.5L78.8 37.8L78.5 36.5L77.5 35.2L76.0 31.8L77.2 30.2L77.2 28.8L76.5 28.0L75.2 29.8L72.8 30.0L70.8 31.0L67.5 31.0L64.8 31.8L61.0 30.2L59.8 29.0L58.5 29.5L59.2 32.8L60.2 33.8L61.0 34.0L64.0 32.8L65.0 34.0L65.0 35.8L66.0 36.8L68.5 38.0L69.5 38.0L72.5 39.2L75.2 38.8L76.2 39.5L77.5 39.5ZM26.0 28.0L25.2 28.0L24.5 29.0L25.0 30.2L26.0 29.8ZM28.0 26.5L28.2 27.2L29.8 28.5L31.0 28.5L32.2 27.5L32.0 26.5L30.5 26.0L29.2 26.0ZM21.2 26.0L19.2 26.2L19.2 27.5L18.8 28.2L19.0 29.0L20.2 29.0L20.8 28.5L20.8 27.8L21.5 26.8ZM8.5 26.0L8.2 26.2L8.5 28.0L9.5 28.5L10.5 28.2L10.8 26.5L10.2 26.0ZM62.0 25.8L62.5 26.2L64.0 26.0L63.8 25.5ZM43.5 25.5L43.8 26.5L44.8 27.0L46.8 26.8L46.5 25.5L45.5 25.0L44.0 25.0ZM72.2 20.5L73.8 21.5L74.5 21.2L73.5 20.2ZM60.5 20.0L59.2 19.8L58.2 20.2L58.0 21.0L60.5 20.5ZM24.2 20.2L21.8 18.0L20.2 18.8L17.5 21.5L16.0 21.8L14.0 21.5L13.2 22.0L13.2 22.8L14.5 24.0L15.2 24.2L22.8 23.8L23.8 23.0ZM52.2 3.0L51.8 2.8L48.8 3.0L46.8 3.8L43.8 4.2L40.0 6.2L39.5 6.8L39.8 8.2L42.5 9.0L46.0 7.8L47.8 6.8L51.0 6.2L52.0 5.5Z" fill="#e17860" fill-rule="evenodd"/><path d="M56.0 142.8L56.0 143.0L58.0 143.0L57.5 142.5ZM55.5 119.8L53.0 119.8L52.8 120.0L53.2 122.8L53.0 129.0L51.8 131.8L50.5 137.5L48.5 143.0L50.2 143.0L52.0 139.5L54.2 133.0L56.5 128.2L57.5 123.5ZM78.5 113.0L77.8 113.5L78.0 114.5L79.0 113.8ZM50.2 111.0L50.5 115.5L52.2 117.2L53.2 117.2L54.5 114.2L53.5 110.8L52.2 110.5ZM67.2 108.8L67.0 110.0L67.5 110.8L68.2 110.8L68.5 109.5L68.2 109.0ZM49.2 102.2L49.2 104.5L50.8 104.8L51.2 103.8L51.2 102.8ZM63.5 101.8L63.8 103.0L65.5 102.8L66.0 102.2L65.8 101.8L65.0 102.0ZM86.8 90.5L85.2 90.0L82.5 90.5L82.0 91.5L82.5 92.2L83.2 92.2L84.0 91.5L85.0 91.0L86.5 91.0ZM73.0 80.0L72.8 81.2L73.5 81.8L73.8 80.0ZM42.8 76.5L40.2 76.8L39.5 77.5L40.0 81.0L41.8 82.0L42.5 81.5L44.0 79.2ZM64.2 72.2L65.5 73.5L67.8 72.8L68.8 73.2L70.0 73.2L71.2 72.5L72.0 72.5L72.8 73.0L74.0 72.8L73.8 71.8L69.5 72.0L68.2 72.5L66.2 71.8L64.8 71.8ZM80.0 44.0L79.8 46.0L80.2 47.0L80.0 48.0L80.2 49.2L81.2 50.0L82.0 50.0L83.2 48.0L83.2 47.0L82.2 45.0ZM23.5 38.8L23.8 40.0L24.5 40.2L26.5 40.0L26.5 39.5L25.8 38.8ZM28.0 35.2L28.0 35.8L28.5 36.0L29.0 35.8L29.0 35.2ZM78.0 38.2L78.2 37.0L77.0 35.2L75.2 31.2L76.5 29.8L76.5 29.2L75.5 30.0L73.2 30.0L70.0 31.5L67.5 31.2L65.2 32.0L64.2 32.0L63.0 31.2L61.2 31.0L59.8 29.8L59.2 29.8L59.5 32.5L60.2 33.5L61.5 33.5L62.8 32.8L64.5 32.5L65.2 33.8L65.5 36.0L66.5 36.8L72.2 39.0L75.8 38.5L77.0 39.2ZM69.5 31.8L70.2 32.2L70.2 33.0L69.8 33.5L69.0 33.0L69.0 32.2ZM28.8 26.5L28.8 27.2L30.0 28.2L30.8 28.2L31.5 27.8L31.2 26.5L30.5 26.2ZM8.5 26.2L8.5 27.8L9.0 28.2L10.2 28.2L10.8 27.5L10.5 26.5L9.8 26.0ZM44.2 25.8L44.2 26.2L45.0 26.8L46.5 26.5L46.2 25.8L45.0 25.2ZM24.0 20.2L22.2 18.2L21.5 18.2L20.0 19.0L17.5 21.5L16.0 21.8L14.2 21.5L13.2 22.5L14.8 24.0L22.2 23.8L23.8 22.8ZM52.2 3.2L52.0 3.0L49.2 3.0L45.0 4.2L44.0 4.2L40.2 6.2L39.5 7.0L39.8 8.0L41.2 8.8L43.2 8.8L46.8 7.0L51.2 6.0L52.0 5.2Z" fill="#d25849" fill-rule="evenodd"/><path d="M55.0 119.8L53.0 120.0L53.0 122.0L53.5 123.8L53.0 126.0L53.0 129.5L51.8 132.2L51.0 136.2L48.8 142.0L48.8 143.0L50.0 143.0L52.5 138.0L54.5 132.0L56.5 128.0L57.2 123.0L55.8 120.0ZM53.0 110.5L50.2 111.2L50.5 115.2L52.5 117.2L53.2 117.0L54.2 114.8L53.8 111.8ZM67.2 109.2L67.5 110.2L68.0 110.2L68.0 109.5ZM49.8 102.2L49.2 102.8L49.2 104.0L49.5 104.5L50.8 104.8L51.2 103.0ZM83.5 90.8L83.0 90.8L82.5 91.5L83.0 91.8ZM42.5 76.5L39.8 77.2L40.0 80.8L40.2 81.2L41.2 81.8L42.2 81.5L43.8 79.5L43.8 78.8ZM80.2 45.0L80.2 45.8L81.0 46.2L80.2 48.8L80.8 49.5L81.8 49.8L83.0 47.5L81.5 45.2ZM23.5 39.0L24.0 40.0L26.0 40.2L26.5 39.8L26.0 39.0L25.2 38.8ZM60.0 31.5L60.0 32.5L60.8 33.2L63.2 32.2L63.0 31.8L61.8 31.8L60.5 31.2ZM76.2 34.0L75.8 32.5L74.2 30.2L72.8 30.2L71.5 30.8L70.8 31.5L70.8 33.5L70.2 34.0L69.5 34.0L68.5 33.2L68.5 31.8L68.0 31.5L66.2 31.8L65.0 32.5L65.5 33.8L65.5 35.0L66.2 36.2L72.0 38.8L73.5 38.8L75.2 37.5ZM29.2 26.8L29.8 27.8L30.5 27.8L31.0 27.2L30.8 26.8ZM8.8 26.5L9.0 28.0L10.5 27.8L10.5 27.0L10.0 26.2ZM24.0 20.5L21.8 18.2L19.8 19.2L17.5 21.5L16.0 21.8L14.8 21.5L13.5 22.0L13.5 22.5L14.2 23.5L15.2 24.0L21.5 23.8L23.5 23.0ZM52.0 3.2L50.0 3.0L43.0 4.8L39.8 6.8L39.8 7.5L40.5 8.5L43.0 8.8L47.5 6.5L51.0 6.0L51.8 5.5Z" fill="#c13639" fill-rule="evenodd"/><path d="M55.5 120.0L53.0 120.0L53.5 123.0L53.5 125.0L53.0 126.8L53.2 129.2L51.8 132.5L51.2 136.2L48.8 143.0L49.8 143.0L51.0 141.0L53.2 135.8L54.2 132.2L56.2 128.5L57.2 123.2ZM52.0 110.8L50.5 111.2L50.5 114.8L51.2 116.2L52.2 117.0L53.0 117.0L54.2 114.0L53.2 110.8ZM49.8 102.5L49.5 104.2L50.8 104.5L51.0 103.0ZM42.5 76.8L40.5 77.0L39.8 77.8L40.2 80.8L41.2 81.5L41.8 81.5L43.5 79.5L43.5 78.8L42.8 78.0ZM82.2 47.2L81.5 47.2L80.8 48.0L80.8 49.0L81.5 49.5L82.0 49.2L82.5 48.2ZM23.8 39.0L23.8 39.5L24.5 40.0L26.2 40.0L25.8 39.0ZM75.8 33.5L74.0 30.5L72.5 30.5L71.2 31.2L71.2 34.2L71.0 34.5L69.0 34.2L68.0 33.2L67.8 32.0L66.5 32.0L65.5 32.5L65.8 34.8L66.2 36.0L72.0 38.5L73.5 38.5L74.5 37.8L75.0 36.8L75.0 35.2ZM9.0 27.2L9.2 27.8L10.2 27.8L10.0 26.8ZM23.8 20.2L22.0 18.5L21.5 18.5L19.5 19.5L17.5 21.5L16.0 21.8L15.0 21.5L13.8 22.0L13.8 22.5L15.0 23.8L22.5 23.5L23.5 22.8ZM52.0 3.5L51.8 3.2L49.0 3.2L43.2 4.8L40.0 6.8L40.0 7.8L41.2 8.5L43.2 8.5L46.0 7.2L47.2 6.2L49.5 6.2L51.2 5.8L51.8 5.0Z" fill="#ae172a" fill-rule="evenodd"/><path d="M55.2 120.0L53.0 120.2L53.8 123.8L53.2 125.8L53.2 130.0L52.0 132.2L51.5 136.5L49.5 141.0L49.0 143.0L51.2 140.2L53.0 136.0L54.2 131.8L55.8 129.5L56.5 127.2L57.0 122.8L56.0 120.8ZM53.0 110.8L51.0 111.2L50.5 112.8L50.8 115.2L52.5 117.0L53.2 116.5L54.0 114.8L54.0 113.8ZM50.0 102.8L49.8 104.0L50.5 104.2L50.8 103.2ZM42.2 77.0L41.2 77.0L40.0 77.8L40.8 81.0L41.8 81.0L42.2 80.2L41.0 79.2L41.2 78.2ZM24.0 39.2L24.2 39.8L25.0 40.0L26.2 39.8L25.5 39.0ZM75.2 33.0L73.8 30.8L72.2 30.8L71.5 31.8L71.5 33.0L72.5 34.2L72.8 35.2L72.2 35.8L71.0 35.8L70.2 35.0L68.8 34.5L67.5 33.2L67.2 32.5L65.8 32.8L66.5 35.8L72.0 38.2L73.2 38.2L74.5 37.0L74.5 34.8ZM23.5 20.5L22.0 18.8L21.2 18.8L19.2 19.8L17.5 21.5L14.8 21.8L14.0 22.5L14.8 23.5L17.0 23.2L22.0 23.5L23.2 23.0ZM51.8 3.5L50.0 3.2L43.5 4.8L40.2 7.0L40.2 7.8L41.0 8.2L43.0 8.5L45.2 7.5L47.2 5.8L48.2 6.0L50.8 5.8L51.5 5.0Z" fill="#8a0b25" fill-rule="evenodd"/><path d="M53.2 131.0L52.8 131.0L52.0 132.8L52.0 137.0L50.5 140.5L51.8 138.5L53.5 134.0L53.8 132.2ZM53.2 120.2L53.8 123.2L53.2 128.0L54.0 129.8L55.0 130.2L56.2 127.8L57.0 123.2L55.5 120.2ZM52.0 111.2L52.0 112.0L50.8 113.0L50.8 114.8L51.0 115.5L52.2 116.8L53.0 116.8L53.8 114.5L53.0 111.0ZM24.8 39.2L25.0 39.8L26.0 39.8L25.8 39.2ZM67.2 34.8L67.5 35.8L70.0 36.5L72.0 38.0L73.0 38.0L74.0 37.0L73.8 35.8L72.0 36.5L70.8 36.5L69.5 35.2L67.5 34.5ZM72.5 31.0L72.0 31.5L72.0 32.8L72.8 33.8L73.8 34.2L74.8 32.8L73.5 31.0ZM23.2 21.0L22.0 20.2L22.2 19.5L22.0 19.0L21.5 19.0L20.5 20.0L18.8 20.2L17.5 21.5L16.2 21.5L14.5 22.2L14.5 22.8L15.0 23.2L16.5 23.2L17.2 22.8L19.0 22.5L20.2 23.2L22.5 23.2L23.2 22.5ZM51.2 3.8L49.2 3.5L43.2 5.0L40.8 7.0L40.8 7.5L42.0 8.2L43.8 8.0L44.8 7.5L46.5 5.5L47.5 5.2L49.8 5.8L51.0 5.2Z" fill="#67001f" fill-rule="evenodd"/><path d="M76.5 140.2L75.5 140.5L74.8 141.2M77.0 141.0L76.5 140.2M53.5 139.0L53.8 140.0L53.0 140.8L52.8 140.0L53.5 139.0M63.2 138.2L63.0 138.5L63.0 140.8M66.2 141.0L65.5 139.2L64.5 138.2L63.2 138.2M59.0 131.2L59.8 133.5L60.0 135.8L61.0 136.5L62.2 136.8L65.0 136.5L67.8 137.2L69.0 137.2L70.5 136.0L72.8 134.8L75.0 135.8L75.8 135.8L76.8 135.0L76.8 134.0L75.2 132.8L72.8 132.5L70.0 131.2L68.8 131.2L68.5 131.0L64.5 131.2L62.8 130.5L59.2 130.8L59.0 131.2M104.0 124.5L103.0 126.0L101.8 126.5L97.5 126.5L97.0 126.8L96.0 128.0L96.0 128.8L95.0 131.0L93.8 132.2L92.2 132.5L91.0 133.2L89.5 135.0L89.2 135.8L88.0 136.8L86.0 137.0L82.5 134.0L81.8 132.8L81.8 132.0L81.2 131.5L79.0 132.2L78.8 132.8L79.0 134.0L80.0 135.5L82.5 136.0L83.5 137.0L85.5 137.8L85.5 140.5L86.8 140.8L87.5 141.5M99.2 141.8L100.0 141.8M103.5 134.0L103.5 132.8L104.2 132.0M101.0 121.0L100.8 121.8L101.2 123.8L102.2 123.8L102.2 122.8L101.5 121.0L101.0 121.0M66.8 120.5L66.2 120.8L65.0 120.5L64.5 121.2L64.5 122.2L65.5 124.8L64.8 125.5L63.0 125.8L62.2 126.5L62.2 127.5L64.0 129.0L66.8 128.8L67.8 127.8L67.8 125.2L67.2 124.2L67.5 121.2L66.8 120.5M94.0 114.0L94.8 113.8L95.2 114.5L94.5 115.0L94.0 114.0M88.8 113.0L89.5 113.5L89.5 114.8L89.0 116.0L88.2 116.8L87.5 117.0L86.8 116.8L86.0 115.5L86.0 114.2L87.5 113.0L88.8 113.0M49.8 110.5L49.5 110.8L49.5 112.5L49.8 112.8L50.2 116.2L52.0 118.2L52.0 120.0L51.2 121.2M51.0 126.2L52.2 127.2L52.2 129.5L51.2 131.2L50.5 135.5L49.2 139.5M52.0 141.5L52.5 141.8M59.5 141.2L56.2 139.5L55.2 138.5L55.2 138.0L56.8 137.0L57.0 136.5L56.8 135.5L56.0 135.5L55.2 136.5L55.0 137.8L54.0 138.5L53.8 138.2L53.8 136.5L55.2 132.2L57.2 128.8L58.2 127.8L58.8 126.5L58.2 125.5L58.0 123.2L56.8 121.0L56.8 120.5L56.0 119.5L55.2 119.2L54.5 118.5L54.0 116.2L54.8 114.8L54.8 113.5L53.8 110.5L53.2 110.0L49.8 110.5M77.5 102.8L78.2 102.8L79.8 104.2L80.2 104.2L81.2 105.0L81.2 106.8L80.2 108.0L78.8 108.0L76.8 106.2L76.8 104.0L77.5 102.8M81.0 100.8L81.8 101.0L82.2 101.8L81.8 103.8L81.2 104.2L81.0 103.2L80.2 102.2L80.2 101.5L81.0 100.8M86.2 101.0L87.0 100.5L88.0 101.2L88.0 101.8L87.5 102.2L86.8 102.2L86.2 101.8L86.2 101.0M44.8 101.5L44.2 101.0L42.8 100.8M51.0 105.2L51.5 104.8L51.8 102.5M80.0 92.8L81.5 94.0L81.5 94.8L81.0 95.2L80.2 95.2L79.5 94.0L79.5 93.2L80.0 92.8M94.8 92.8L94.5 94.0L95.5 95.2L96.8 95.8L97.2 94.8L97.2 93.0L96.8 92.5L94.8 92.8M46.0 92.2L45.0 91.0M96.5 86.0L95.2 86.2L95.0 87.2L96.2 87.5L96.5 87.2L96.5 86.0M90.2 80.5L90.0 81.0L90.2 81.5L92.2 83.5L92.5 82.2L92.0 81.2L91.0 80.2L90.2 80.5M96.5 77.0L95.8 77.8L95.0 79.2L95.0 80.5L95.5 81.2L97.0 82.2L98.0 82.2L98.8 81.5L98.8 80.5L97.8 79.5L97.2 77.8L96.5 77.0M43.2 76.0L40.2 76.2L39.0 77.0L38.8 77.5L38.8 80.2L39.2 81.8L40.0 82.5L41.2 82.5L41.5 82.8L42.5 82.5L44.5 80.0L44.8 78.5L43.2 76.0M52.8 76.5L53.2 79.2L53.5 79.5L56.0 79.5L58.0 81.2L58.5 82.5L56.5 83.8L55.8 83.8L53.0 82.0L51.8 82.8L49.0 83.5L48.8 83.8L48.8 85.5L50.5 88.5L50.8 89.8L52.0 89.0L55.2 89.5L55.5 89.2L57.5 89.2L59.5 88.8L61.2 87.2L60.5 84.2L60.8 83.5L61.5 82.8L63.5 82.8L66.0 84.0L69.5 83.5L72.0 86.2L71.8 87.0L70.5 88.2L67.5 88.0L65.5 89.8L64.8 89.8L63.2 91.8L62.0 92.2L61.8 93.2L62.2 94.2L63.5 95.2L66.2 93.8L66.5 93.2L66.2 92.2L66.8 91.5L67.8 91.5L69.2 92.8L70.8 93.5L72.0 93.5L73.0 92.2L73.0 90.8L72.5 90.0L72.2 88.8L72.8 87.8L72.8 86.8L73.8 85.8L75.2 85.8L77.5 84.5L79.0 84.5L80.5 85.5L82.5 85.0L83.5 85.2L84.5 86.0L84.5 86.8L84.0 87.8L82.2 89.0L80.5 89.5L77.5 89.2L75.5 90.0L75.0 91.5L75.0 92.5L75.5 93.2L75.5 95.0L74.2 96.5L72.2 96.5L71.0 97.8L69.0 97.2L68.2 98.0L68.0 99.2L67.0 100.5L62.8 100.5L60.2 102.2L57.8 102.0L58.2 103.5L60.0 105.8L60.5 106.0L62.2 105.8L63.5 106.8L62.0 108.2L62.0 109.2L63.0 111.0L64.8 111.2L66.8 112.8L66.5 115.5L67.0 116.2L68.0 116.8L68.8 116.8L71.0 114.8L72.8 114.0L73.8 115.0L75.2 118.2L76.5 118.8L78.0 117.8L78.8 117.5L79.8 118.0L79.8 119.2L80.2 120.2L81.0 120.8L82.2 120.8L85.2 119.0L86.2 119.8L86.5 120.8L87.2 121.5L88.0 121.8L89.0 121.5L89.5 120.0L90.5 119.2L93.0 119.2L93.8 118.8L96.5 118.8L98.0 119.2L99.2 118.8L101.0 117.2L101.8 117.0L103.2 117.5L103.8 117.0L103.0 116.0L103.0 114.8L103.5 114.0L104.0 112.0M101.8 108.2L101.0 107.2L101.5 104.0L100.8 102.5L100.8 100.5L101.5 99.2L101.5 97.5L100.2 96.5L97.8 96.5L97.5 97.0L97.8 97.5L97.8 101.2L97.2 103.2L96.5 104.2L95.2 104.0L94.2 103.0L93.8 102.0L94.2 100.2L94.0 98.8L92.8 96.5L92.0 96.0L91.0 96.0L90.5 96.5L90.2 98.0L89.5 98.8L87.5 99.2L86.5 100.8L84.5 100.5L83.5 99.5L83.5 98.8L84.5 97.8L87.2 97.0L89.5 94.5L91.8 94.0L92.5 93.2L92.8 91.8L92.5 91.0L91.2 90.0L89.2 90.2L88.2 89.5L88.0 88.5L89.5 86.2L89.5 85.5L87.8 84.8L85.5 85.0L83.8 83.2L82.8 83.5L81.5 84.8L80.5 84.8L79.2 83.8L79.2 83.2L80.0 82.2L82.5 82.0L82.5 80.5L81.2 78.8L78.5 79.0L77.0 78.5L76.2 77.8L76.5 76.8L77.2 76.0L78.5 75.8L79.2 75.2L79.0 74.8L78.0 74.8L77.0 75.8L75.5 76.0L75.0 76.5L75.0 77.2L74.0 78.2L71.2 79.2L69.0 79.2L67.5 78.2L65.2 78.2L64.0 78.8L61.0 78.8L58.0 76.8L55.5 76.8L54.2 76.2L53.0 76.2L52.8 76.5M51.2 73.0L50.2 72.8L47.2 74.0L46.2 75.2L46.2 76.0L47.0 76.8L48.5 76.8L49.8 74.8L51.2 73.5L51.2 73.0M80.2 66.8L79.5 67.0L78.8 69.5L79.0 70.2L79.5 70.2L79.8 69.0L81.0 67.2L80.2 66.8M91.5 65.8L91.2 66.0L91.5 67.8L92.2 68.2L92.8 68.0L92.8 66.5L92.0 65.8L91.5 65.8M58.8 54.0L58.5 54.2L58.5 56.5L59.0 58.0L57.2 59.8L56.8 60.8L56.8 61.8L55.8 63.2L55.8 64.0L56.5 65.5L57.5 66.5L58.5 69.2L56.5 70.8L56.2 71.8L55.5 72.5L56.8 72.8L57.5 73.8L58.5 74.2L60.5 74.2L62.5 73.8L64.8 74.8L67.8 74.8L68.5 75.2L69.2 75.2L71.5 74.2L75.0 74.5L75.5 73.8L75.8 70.5L75.5 70.0L74.0 69.5L73.5 69.0L73.5 67.0L74.2 65.8L73.8 65.0L72.5 65.0L70.8 67.0L70.0 68.8L68.2 69.0L67.5 68.0L67.2 66.5L63.2 60.8L63.2 59.2L64.2 57.5L64.2 56.8L60.5 55.0L59.2 54.0L58.8 54.0M50.8 51.5L49.0 51.8L47.8 53.0L48.5 55.8L48.0 60.8L48.8 61.5L50.8 61.2L51.2 60.8L51.2 59.8L50.5 58.5L50.8 53.0L51.0 52.8L50.8 51.5M97.0 48.2L97.8 47.5L98.2 47.5M97.2 49.0L97.0 48.2M63.8 49.8L63.8 51.2L64.2 51.8L67.5 51.5L69.0 52.5L70.8 52.5L73.5 51.0L73.5 49.8L73.2 49.5L68.5 50.2L66.5 47.5L65.8 47.5L63.8 49.8M54.8 46.5L54.2 46.2L53.8 46.5L53.8 48.0L52.0 49.2L52.0 50.5L54.5 50.2L56.0 49.2L56.0 48.5L54.8 46.5M41.2 48.0L41.2 49.2L42.8 50.5L41.8 51.8L40.0 52.5L39.2 53.8L37.8 55.2L37.8 58.5L36.8 60.2L35.0 60.5L34.2 59.8L33.8 57.2L33.0 56.8M30.5 60.0L31.0 62.2L31.5 62.8L34.0 63.2L34.8 64.2L35.2 64.2L36.2 61.8L37.5 60.8L38.8 61.2L40.8 61.2L43.0 61.8L45.2 64.5L46.0 64.2L45.0 61.5L44.0 60.0L44.0 58.2L45.5 56.2L46.0 54.8L46.0 53.2L45.0 50.5L45.0 49.2L45.8 48.5M50.2 46.0L49.5 46.8L49.2 47.5L49.5 48.5L50.2 48.8L51.0 48.5L51.0 47.2L50.5 46.2M22.8 38.8L23.2 40.2L24.8 40.8L26.8 40.8L27.0 40.5L26.8 39.0L25.8 38.2L23.2 38.2L22.8 38.8M7.8 25.5L7.5 25.8L7.5 27.2M11.0 29.0L11.5 28.0L11.2 26.0L10.8 25.5L7.8 25.5M75.0 26.8L75.0 28.0L74.5 28.8L73.2 29.0L71.0 30.2L69.5 30.2L68.2 29.5L65.8 29.2L64.5 28.2L66.2 26.2L69.5 25.2L70.8 24.5L71.8 25.2L73.2 25.2L73.5 25.0L74.2 25.2L75.0 26.8M72.2 22.8L72.8 23.5L71.2 24.5L71.0 24.2L71.2 23.2L71.8 22.8L72.2 22.8M61.8 22.8L60.0 23.8L59.0 23.5L59.8 22.5L60.5 22.2L61.8 22.8M12.5 22.0L12.5 22.5L16.2 26.5L16.5 28.8L17.0 30.0L19.2 31.2M21.8 34.0L23.2 34.2L24.5 36.5L26.2 37.0L27.5 37.0L29.5 38.0L31.5 36.8L34.0 36.0L34.5 33.8L36.0 31.2L36.0 29.8L35.2 28.0L33.2 26.0L30.8 25.0L28.8 24.8L28.0 24.2L26.8 24.2L23.8 25.0L23.2 24.5L24.2 23.0L25.0 20.2M40.8 25.0L40.8 26.2L41.8 27.5L46.8 27.8L49.2 26.5L51.0 27.8L52.0 27.8L54.0 26.8L56.5 27.0L57.0 27.8L56.8 28.5L54.2 29.2L54.0 29.0L52.5 29.2L51.5 30.5L51.5 31.5L53.2 33.5L54.0 33.5L55.0 31.8L57.0 32.5L58.2 33.8L57.8 34.5L57.0 34.5L56.5 35.0L57.0 36.5L57.8 37.0L59.5 37.2L60.5 37.8L60.5 38.8L59.5 39.8M60.0 42.0L60.2 42.2L62.5 42.0L66.0 45.2L68.0 44.5L69.8 45.8L71.5 45.8L72.8 44.8L73.0 44.2L72.8 43.2L70.2 42.2L68.2 42.0L67.8 41.5L69.5 39.8L70.5 39.8L72.5 40.5L74.0 40.5L74.8 40.8L75.5 41.5L77.2 41.5L77.5 41.2L78.2 41.8L78.0 45.5L79.0 47.2L79.5 49.8L79.5 51.0L77.2 52.5L77.0 53.8L76.5 54.2L76.8 55.8L78.8 57.5L78.8 59.5L77.8 62.0L78.0 62.2L79.0 61.2L80.8 60.2L80.5 56.8L81.5 56.0L85.2 56.2L86.5 54.0L87.0 54.0L87.8 54.8L89.2 54.5L91.2 53.5L92.0 51.8L93.5 50.5L94.5 50.5L96.5 52.2L98.0 52.2M100.5 38.5L99.5 41.0L100.0 42.5L101.8 44.5M98.8 46.0L97.2 44.5L95.5 44.2L95.2 44.5L95.2 47.0L94.5 48.8L92.2 48.5L91.2 49.2L88.0 49.5L87.2 49.2L86.5 48.5L86.2 47.5L86.5 44.8L85.8 44.2L84.8 44.2L83.0 43.5L81.0 42.0L80.8 40.0L80.0 38.2L80.0 37.2L79.2 35.8L79.2 34.8L80.2 32.8L78.8 27.8L75.8 23.8L76.0 23.0L76.0 20.8L75.8 20.2L74.0 19.0L72.2 18.8L70.8 17.8L69.8 17.5L69.0 16.8L68.8 15.8L68.2 15.8L67.8 16.5L68.5 17.8L68.8 19.0L70.0 21.0L70.0 21.5L68.8 22.2L67.8 22.2L66.5 21.8L66.0 21.2L66.0 19.8L64.0 18.8L62.8 18.8L61.0 17.5L60.0 17.5L58.2 18.5L56.5 19.0L54.2 21.0L53.8 22.2L52.8 23.2L50.8 23.8L49.2 25.8M39.2 8.2L40.0 9.0L43.0 9.2L47.8 7.2L50.8 6.8L52.0 6.2L52.8 5.0" fill="none" stroke="#1a1a1a" stroke-opacity="0.85" stroke-width="0.33" stroke-linejoin="round"/><use href="#fringe"/></g><use href="#jeju"/></g>
<use href="#grid"/>
</g>
<rect x="0" y="0" width="104.9" height="142.2" fill="none" stroke="#4a4a4a" stroke-width="0.8"/>
<text x="10.2" y="149.60000000000002" font-size="5.4" text-anchor="middle" fill="#111">118°E</text>
<text x="31.2" y="149.60000000000002" font-size="5.4" text-anchor="middle" fill="#111">120°E</text>
<text x="52.2" y="149.60000000000002" font-size="5.4" text-anchor="middle" fill="#111">122°E</text>
<text x="73.2" y="149.60000000000002" font-size="5.4" text-anchor="middle" fill="#111">124°E</text>
<text x="94.2" y="149.60000000000002" font-size="5.4" text-anchor="middle" fill="#111">126°E</text>
<text x="-3.0" y="13.00" font-size="5.4" text-anchor="end" fill="#111">40°N</text>
<text x="-3.0" y="34.84" font-size="5.4" text-anchor="end" fill="#111">38°N</text>
<text x="-3.0" y="56.68" font-size="5.4" text-anchor="end" fill="#111">36°N</text>
<text x="-3.0" y="78.52" font-size="5.4" text-anchor="end" fill="#111">34°N</text>
<text x="-3.0" y="100.36" font-size="5.4" text-anchor="end" fill="#111">32°N</text>
<text x="-3.0" y="122.20" font-size="5.4" text-anchor="end" fill="#111">30°N</text>
<text x="52.6" y="-5.2" font-size="6.1" text-anchor="middle" fill="#111">(c) HYBRID - ZSTAR</text>
</g>
<g transform="translate(22.3,185.1)">
<g clip-path="url(#pc)">
<rect width="105.2" height="142.3" fill="#c0c0c0"/>
<g transform="translate(-0.3,-0.1)"><g clip-path="url(#sea)"><rect x="-1" y="-1" width="107.2" height="144.3" fill="#f7fcf0"/><path d="M6.8 21.2L5.5 24.2L5.5 25.8L6.5 28.5L9.5 30.5L12.5 30.8L17.0 31.8L19.8 33.2L20.5 36.0L20.0 37.8L20.0 39.5L21.5 41.5L25.2 42.5L26.8 42.5L30.5 41.0L35.5 36.8L38.5 37.0L40.0 36.5L42.0 36.5L48.0 38.5L55.0 39.2L57.5 40.5L58.2 42.0L57.8 43.2L57.0 43.8L53.2 44.8L49.5 44.8L46.8 45.8L44.0 47.2L43.0 47.2L41.0 46.5L39.2 46.8L37.2 48.2L33.0 52.5L31.8 55.2L29.8 58.0L26.0 61.8L22.8 64.2L22.0 66.2L22.0 67.5L24.5 70.0L27.2 72.0L33.0 74.8L35.5 77.2L38.2 82.8L38.8 84.5L41.2 89.0L44.0 92.5L45.8 93.5L48.2 96.2L49.0 98.2L48.5 100.2L47.2 100.5L38.2 97.0L36.2 97.0L31.8 97.8L31.8 99.0L32.2 100.0L37.2 100.0L40.5 101.8L43.5 102.8L48.0 105.2L47.8 107.0L48.8 109.2L47.5 111.2L42.5 114.0L34.2 115.5L34.2 116.8L34.8 118.0L40.8 118.2L44.0 118.8L49.5 121.2L50.2 122.5L50.5 123.5L47.5 129.0L47.5 130.2L48.0 131.5L47.5 134.2L43.2 139.8L43.2 141.2L43.8 143.0L106.0 143.0L106.0 74.2L104.2 73.2L98.0 67.0L97.0 63.8L97.0 62.2L98.2 58.5L99.5 49.8L100.8 47.2L104.0 45.0L104.0 43.8L101.0 36.8L97.0 34.5L90.2 32.2L84.0 28.5L85.5 26.8L89.2 25.2L89.2 24.2L87.5 22.5L88.5 20.8L88.2 16.8L85.0 14.2L76.8 11.5L75.2 11.5L72.8 12.8L66.2 13.8L60.5 15.2L45.2 23.0L44.2 23.0L44.0 22.2L45.0 20.8L47.2 18.5L50.0 17.0L50.8 15.5L50.8 14.5L49.5 12.8L51.0 10.2L53.2 8.5L55.0 6.2L54.5 3.0L53.2 1.5L52.2 0.8L48.0 0.5L44.8 1.5L39.5 5.0L34.0 10.0L32.0 11.2L28.2 12.5L24.8 14.2L17.5 21.5L15.2 21.8L12.8 20.5L10.2 20.0L8.5 20.0Z" fill="#e8f6e2" fill-rule="evenodd"/><path d="M6.8 21.2L5.5 24.2L5.5 25.8L6.5 28.5L9.5 30.5L12.5 30.8L17.0 31.8L19.8 33.2L20.5 36.0L20.0 37.8L20.0 39.5L21.5 41.5L25.2 42.5L26.8 42.5L30.5 41.0L35.5 36.8L38.5 37.0L40.0 36.5L42.0 36.5L48.0 38.5L55.0 39.2L57.5 40.5L58.2 42.0L57.8 43.2L57.0 43.8L53.2 44.8L49.5 44.8L46.8 45.8L44.0 47.2L43.0 47.2L41.0 46.5L39.2 46.8L37.2 48.2L33.0 52.5L31.8 55.2L29.8 58.0L26.0 61.8L22.8 64.2L22.0 66.2L22.0 67.5L24.5 70.0L27.2 72.0L33.0 74.8L35.5 77.2L38.2 82.8L38.8 84.5L41.2 89.0L44.0 92.5L45.8 93.5L48.2 96.2L49.0 98.2L48.5 100.2L47.2 100.5L38.2 97.0L36.2 97.0L31.8 97.8L31.8 99.0L32.2 100.0L37.2 100.0L40.5 101.8L43.5 102.8L48.0 105.2L47.8 107.0L48.8 109.2L47.5 111.2L42.5 114.0L34.2 115.5L34.2 116.8L34.8 118.0L40.8 118.2L44.0 118.8L49.5 121.2L50.2 122.5L50.5 123.5L47.5 129.0L47.5 130.2L48.0 131.5L47.5 134.2L43.2 139.8L43.2 141.2L43.8 143.0L69.5 143.0L70.0 142.0L70.5 142.0L71.0 143.0L106.0 143.0L106.0 74.2L104.2 73.2L100.8 69.8L100.5 70.2L100.8 74.2L100.0 75.0L96.8 75.0L95.8 74.0L95.8 72.2L96.5 70.2L96.5 69.2L94.8 66.5L94.2 63.2L94.8 60.8L94.5 54.5L94.2 54.2L94.5 45.0L94.0 43.8L90.8 40.5L89.0 38.0L89.5 37.0L91.5 36.2L93.2 36.5L95.0 37.5L96.0 38.8L96.2 41.2L96.8 42.2L98.5 43.0L99.5 44.0L100.8 47.5L101.2 46.8L104.0 45.0L104.0 43.8L101.0 36.8L97.0 34.5L90.2 32.2L84.0 28.5L85.5 26.8L89.2 25.2L89.2 24.2L87.5 22.5L88.5 20.8L88.2 16.8L85.0 14.2L76.8 11.5L75.2 11.5L72.8 12.8L66.2 13.8L60.5 15.2L45.2 23.0L44.2 23.0L44.0 22.2L45.0 20.8L47.2 18.5L50.0 17.0L50.8 15.5L50.8 14.5L49.5 12.8L51.0 10.2L53.2 8.5L55.0 6.2L54.5 3.0L53.2 1.5L52.2 0.8L48.0 0.5L44.8 1.5L39.5 5.0L34.0 10.0L32.0 11.2L28.2 12.5L24.8 14.2L17.5 21.5L15.2 21.8L12.8 20.5L10.2 20.0L8.5 20.0ZM81.5 97.2L82.2 97.8L82.0 98.5L81.0 98.2ZM51.0 77.0L53.0 79.8L53.0 81.2L52.0 84.2L49.8 85.5L45.2 85.5L43.5 86.8L40.8 83.8L40.0 82.0L39.5 79.0L42.5 78.0L45.8 77.8L48.5 76.8Z" fill="#daf0d4" fill-rule="evenodd"/><path d="M6.8 21.2L5.5 24.2L5.5 25.8L6.5 28.5L9.5 30.5L12.5 30.8L17.0 31.8L19.8 33.2L20.5 36.0L20.0 37.8L20.0 39.5L21.5 41.5L25.2 42.5L26.8 42.5L30.5 41.0L35.5 36.8L38.5 37.0L40.0 36.5L42.0 36.5L48.0 38.5L55.0 39.2L57.5 40.5L58.2 42.0L57.8 43.2L57.0 43.8L53.2 44.8L49.5 44.8L46.8 45.8L44.0 47.2L43.0 47.2L41.0 46.5L39.2 46.8L37.2 48.2L33.0 52.5L31.8 55.2L29.8 58.0L26.0 61.8L22.8 64.2L22.0 66.2L22.0 67.5L24.5 70.0L27.2 72.0L33.0 74.8L35.5 77.2L38.2 82.8L38.8 84.5L41.2 89.0L44.0 92.5L45.8 93.5L48.2 96.2L49.0 98.2L48.5 100.2L47.2 100.5L38.2 97.0L36.2 97.0L31.8 97.8L31.8 99.0L32.2 100.0L37.2 100.0L40.5 101.8L43.5 102.8L48.0 105.2L47.8 107.0L48.8 109.2L47.5 111.2L42.5 114.0L34.2 115.5L34.2 116.8L34.8 118.0L40.8 118.2L44.0 118.8L49.5 121.2L50.2 122.5L50.5 123.5L47.5 129.0L47.5 130.2L48.0 131.5L47.5 134.2L43.2 139.8L43.2 141.2L43.8 143.0L65.2 143.0L64.8 141.5L64.8 140.8L65.2 140.2L70.5 139.2L72.8 139.2L74.8 139.8L75.2 140.5L75.5 143.0L106.0 143.0L106.0 128.8L103.8 128.2L101.8 127.0L99.8 127.2L98.2 126.0L98.2 125.5L99.0 124.8L102.5 122.8L103.8 122.8L105.2 123.5L106.0 123.5L106.0 74.2L104.2 73.2L101.2 70.2L101.5 74.2L100.8 75.5L96.0 75.8L95.0 74.8L94.8 69.0L93.5 64.2L93.8 45.0L93.0 43.5L90.0 40.5L87.8 37.2L88.8 36.5L91.2 35.8L93.0 35.8L95.8 37.2L96.5 38.5L97.0 41.8L100.0 43.2L101.5 46.8L104.0 45.0L104.0 43.8L101.0 36.8L97.0 34.5L90.2 32.2L84.0 28.5L85.5 26.8L89.2 25.2L89.2 24.2L87.5 22.5L88.5 20.8L88.2 16.8L85.0 14.2L76.8 11.5L75.2 11.5L72.8 12.8L66.2 13.8L60.5 15.2L45.2 23.0L44.2 23.0L44.0 22.2L45.0 20.8L47.2 18.5L50.0 17.0L50.8 15.5L50.8 14.5L49.5 12.8L51.0 10.2L53.2 8.5L55.0 6.2L54.5 3.0L53.2 1.5L52.2 0.8L48.0 0.5L44.8 1.5L39.5 5.0L34.0 10.0L32.0 11.2L28.2 12.5L24.8 14.2L17.5 21.5L15.2 21.8L12.8 20.5L10.2 20.0L8.5 20.0ZM91.2 133.2L92.2 136.0L92.2 137.2L87.5 140.8L83.0 141.0L80.0 141.5L79.2 141.0L78.5 138.8L78.5 137.2L79.2 136.5L82.2 135.2L84.2 135.2L88.8 132.8L90.2 132.5ZM76.8 97.8L79.5 95.8L82.5 95.5L86.0 96.2L88.0 98.2L88.0 99.5L85.8 102.0L84.8 102.5L80.2 102.8L78.2 101.5L77.0 100.2ZM51.0 76.5L53.5 79.5L53.5 81.2L52.5 84.2L51.5 85.2L50.2 85.8L45.2 86.0L43.5 87.5L40.0 83.5L38.8 79.2L39.0 78.8L39.8 78.2L49.0 76.2ZM42.2 14.5L43.8 14.5L44.2 15.0L44.2 16.2L43.2 17.2L41.8 17.0L41.0 16.0L41.2 15.2Z" fill="#ccebc5" fill-rule="evenodd"/><path d="M6.8 21.2L5.5 24.2L5.5 25.8L6.5 28.5L9.5 30.5L12.5 30.8L17.0 31.8L19.8 33.2L20.5 36.0L20.0 37.8L20.0 39.5L21.5 41.5L25.2 42.5L26.8 42.5L30.5 41.0L35.5 36.8L38.5 37.0L40.0 36.5L42.0 36.5L48.0 38.5L55.0 39.2L57.5 40.5L58.2 42.0L57.8 43.2L57.0 43.8L53.2 44.8L49.5 44.8L46.8 45.8L44.0 47.2L43.0 47.2L41.0 46.5L39.2 46.8L37.2 48.2L33.0 52.5L31.8 55.2L29.8 58.0L26.0 61.8L22.8 64.2L22.0 66.2L22.0 67.5L24.5 70.0L27.2 72.0L33.0 74.8L35.5 77.2L38.2 82.8L38.8 84.5L41.2 89.0L44.0 92.5L45.8 93.5L48.2 96.2L49.0 98.2L48.5 100.2L47.2 100.5L38.2 97.0L36.2 97.0L31.8 97.8L31.8 99.0L32.2 100.0L37.2 100.0L40.5 101.8L43.5 102.8L48.0 105.2L47.8 107.0L48.8 109.2L47.5 111.2L42.5 114.0L34.2 115.5L34.2 116.8L34.8 118.0L40.8 118.2L44.0 118.8L49.5 121.2L50.2 122.5L50.5 123.5L47.5 129.0L47.5 130.2L48.0 131.5L47.5 134.2L43.2 139.8L43.2 141.2L43.8 143.0L64.2 143.0L64.0 140.2L64.5 139.8L72.2 138.2L75.5 138.5L76.2 139.2L76.8 143.0L106.0 143.0L106.0 130.2L104.2 129.5L100.2 129.0L97.2 126.2L97.2 125.2L98.2 124.2L102.2 122.2L103.2 122.0L106.0 123.0L106.0 74.2L104.2 73.2L101.8 70.8L101.8 75.0L101.2 75.8L98.8 76.2L95.8 76.2L94.2 75.0L94.0 68.8L92.8 63.5L93.2 45.2L92.5 43.8L89.8 41.0L87.0 37.2L87.8 36.2L92.0 35.2L93.2 35.5L96.5 37.5L97.0 41.2L97.8 42.0L99.8 42.5L100.5 43.2L101.8 45.8L101.8 46.5L104.0 45.0L104.0 43.8L101.0 36.8L97.0 34.5L90.2 32.2L84.0 28.5L85.5 26.8L89.2 25.2L89.2 24.2L87.5 22.5L88.5 20.8L88.2 16.8L85.0 14.2L76.8 11.5L75.2 11.5L72.8 12.8L66.2 13.8L60.5 15.2L45.2 23.0L44.2 23.0L44.0 22.2L45.0 20.8L47.2 18.5L50.0 17.0L50.8 15.5L50.8 14.5L49.5 12.8L51.0 10.2L53.2 8.5L55.0 6.2L54.5 3.0L53.2 1.5L52.2 0.8L48.0 0.5L44.8 1.5L39.5 5.0L34.0 10.0L32.0 11.2L28.2 12.5L24.8 14.2L17.5 21.5L15.2 21.8L12.8 20.5L10.2 20.0L8.5 20.0ZM91.8 132.8L93.0 136.0L93.0 137.5L88.5 141.0L87.0 141.8L84.0 141.8L81.5 142.2L79.5 142.2L78.5 141.2L77.8 139.2L77.5 137.2L78.2 136.2L79.8 135.2L86.0 133.2L89.2 131.8L90.8 131.8ZM76.0 98.0L77.2 96.5L79.5 95.2L82.2 95.0L86.2 95.8L88.5 98.2L88.5 99.5L86.8 101.8L85.5 102.8L80.2 103.5L78.2 102.2L76.5 100.5ZM51.2 76.2L54.0 80.0L52.8 84.5L51.2 85.8L49.2 86.2L45.5 86.2L44.2 87.8L43.8 88.0L43.2 87.8L39.5 83.2L38.5 78.8L39.5 78.0L41.8 77.8L48.8 76.0ZM72.0 14.2L72.0 16.0L71.5 16.5L70.0 16.5L67.8 17.2L64.5 17.2L60.2 19.2L58.8 19.2L58.2 18.8L58.2 18.2L59.0 17.5L63.8 15.5L66.5 15.2L70.5 14.0ZM44.5 13.5L45.2 14.8L45.2 15.8L44.8 16.8L43.5 17.8L41.5 17.5L40.5 16.2L40.8 14.8L43.5 13.2Z" fill="#b4e2ba" fill-rule="evenodd"/><path d="M91.2 141.2L90.8 140.8L90.0 141.0L88.2 143.0L91.5 143.0ZM106.0 138.8L105.0 138.5L103.8 137.5L102.8 137.5L98.2 140.8L96.0 141.0L94.2 141.8L93.2 143.0L106.0 143.0ZM104.5 133.5L104.5 134.0L106.0 135.0L106.0 133.2ZM94.0 133.2L93.8 134.2L94.5 134.5L94.5 133.5ZM81.5 132.5L81.8 133.0L82.8 132.8L82.2 132.2ZM98.5 129.8L98.5 131.0L99.5 131.8L103.0 131.8L103.5 131.0L103.0 130.2L100.2 130.0L99.0 129.5ZM48.0 0.5L44.8 1.5L39.5 5.0L34.0 10.0L32.0 11.2L28.2 12.5L24.8 14.2L17.5 21.5L15.2 21.8L12.8 20.5L8.5 20.0L6.5 21.5L5.5 24.2L5.5 25.8L6.5 28.5L9.0 30.2L17.0 31.8L19.8 33.2L20.5 36.0L20.0 37.8L20.0 39.5L21.0 41.0L22.2 41.8L25.2 42.5L26.8 42.5L30.5 41.0L35.5 36.8L38.5 37.0L40.0 36.5L42.0 36.5L49.2 38.8L55.0 39.2L57.5 40.5L58.0 41.2L58.2 42.2L57.8 43.2L55.5 44.2L53.2 44.8L49.5 44.8L46.8 45.8L44.0 47.2L39.8 46.5L37.2 48.2L33.0 52.5L31.2 56.0L27.2 60.5L29.2 59.8L31.8 59.8L33.8 60.5L34.2 62.5L34.2 66.0L34.0 67.0L33.0 68.0L31.8 68.0L31.2 67.5L30.0 63.5L28.8 63.2L25.8 64.5L25.0 64.0L24.5 62.8L22.8 64.2L22.0 66.2L22.0 67.5L26.5 71.5L33.0 74.8L35.5 77.2L38.2 82.8L38.8 84.5L41.2 89.0L44.0 92.5L45.8 93.5L48.2 96.2L49.0 98.2L48.5 100.2L47.2 100.5L38.2 97.0L36.2 97.0L31.8 97.8L31.8 99.0L32.2 100.0L37.2 100.0L40.5 101.8L43.5 102.8L48.0 105.2L47.8 107.0L48.8 109.2L47.5 111.2L42.5 114.0L34.2 115.5L34.2 116.8L34.8 118.0L40.8 118.2L44.0 118.8L49.5 121.2L50.2 122.5L50.5 123.5L47.5 129.0L47.5 130.2L48.0 131.5L47.5 134.2L43.2 139.8L43.2 141.2L43.8 143.0L63.5 143.0L63.2 140.0L64.5 139.0L67.5 138.5L68.2 137.5L68.0 136.5L66.0 134.5L65.5 132.2L65.5 130.0L66.8 128.2L67.5 128.2L69.8 129.5L70.8 129.5L72.5 131.0L74.0 131.8L75.5 133.5L76.0 135.2L76.8 136.0L77.8 135.0L77.8 133.0L78.5 130.8L76.5 128.2L76.2 127.0L77.8 126.0L81.0 125.2L85.5 125.5L87.0 126.5L87.0 127.5L86.0 129.5L86.0 130.0L86.5 130.2L88.5 128.5L90.2 126.2L93.0 125.2L96.0 125.2L97.2 124.2L102.8 121.5L106.0 122.5L106.0 74.2L104.2 73.2L102.2 71.2L102.2 75.0L100.8 76.5L95.5 76.8L92.8 75.5L91.8 74.5L91.8 73.5L93.0 71.8L93.0 68.0L91.2 64.0L91.2 62.5L91.8 61.5L92.2 58.8L92.2 55.5L91.5 53.0L92.2 49.8L92.2 47.2L92.0 47.0L92.2 44.8L90.2 42.5L88.8 41.5L88.0 39.8L86.2 37.5L86.2 36.5L86.8 36.0L89.2 35.8L91.5 35.0L93.0 35.0L96.5 37.0L97.0 38.2L97.2 41.2L97.8 41.8L100.0 42.2L100.8 43.0L102.2 46.2L104.0 45.0L104.0 43.8L101.0 36.8L97.0 34.5L90.2 32.2L84.0 28.5L85.5 26.8L89.2 25.2L89.2 24.2L87.5 22.5L88.5 20.8L88.2 16.8L85.0 14.2L76.8 11.5L75.2 11.5L72.8 12.8L66.2 13.8L60.5 15.2L45.2 23.0L44.2 23.0L44.0 22.2L45.0 20.8L47.2 18.5L50.0 17.0L50.8 15.5L50.8 14.5L49.5 12.8L51.0 10.2L53.2 8.5L55.0 6.2L54.5 3.0L53.2 1.5L52.2 0.8ZM75.8 97.2L77.2 96.0L80.2 94.5L85.2 95.0L86.5 95.5L89.0 98.2L89.0 99.2L87.5 101.5L85.5 103.2L82.8 103.8L79.8 103.8L76.2 101.0L75.8 99.8ZM51.2 76.0L52.8 77.5L54.2 79.8L54.2 80.8L53.0 84.8L51.2 86.0L49.2 86.5L45.8 86.5L44.0 88.2L43.0 88.0L39.8 84.2L39.0 82.8L38.2 78.5L39.5 77.8L42.0 77.5L48.5 75.8ZM89.5 60.5L90.5 61.8L90.2 62.8L89.2 61.8ZM88.8 50.2L91.0 52.8L90.2 54.2L89.5 54.2L89.0 53.8L88.5 51.8ZM88.2 42.2L88.5 43.2L87.0 44.8L86.5 44.2L86.5 43.5L87.5 42.2ZM72.5 13.5L72.5 17.0L71.5 17.5L69.8 17.5L67.8 18.2L65.0 18.5L60.0 20.2L58.5 20.2L56.2 18.5L57.0 17.5L63.8 14.8L66.2 14.5L71.2 13.2ZM44.2 12.8L45.5 13.8L45.8 14.5L45.5 16.5L44.0 18.0L43.0 18.5L41.0 18.0L39.8 16.5L40.0 14.8L40.8 14.0L43.2 12.8Z" fill="#99d7ba" fill-rule="evenodd"/><path d="M49.5 125.2L47.5 129.0L47.5 130.2L48.0 131.5L47.5 134.2L43.2 139.8L43.2 141.2L43.8 143.0L57.2 143.0L57.5 140.0L56.8 139.0L55.8 138.5L53.2 138.8L50.8 138.5L51.2 137.0L51.0 132.8L52.0 131.8L53.8 131.8L57.8 134.0L59.8 134.2L61.0 135.0L62.2 135.0L63.5 133.8L63.5 132.2L62.8 131.0L62.5 129.8L59.2 126.8L57.2 127.0L55.0 126.0L51.8 126.2L50.0 128.0L49.2 127.8ZM62.8 14.8L60.5 15.2L57.0 17.0L60.8 15.2ZM6.8 21.2L5.5 24.2L5.5 25.8L6.5 28.5L9.5 30.5L12.5 30.8L17.0 31.8L19.8 33.2L20.5 36.0L20.0 37.8L20.0 39.5L21.5 41.5L25.2 42.5L26.8 42.5L30.5 41.0L35.5 36.8L38.5 37.0L40.0 36.5L42.0 36.5L48.0 38.5L55.0 39.2L57.5 40.5L58.2 42.0L57.8 43.2L57.0 43.8L53.2 44.8L49.5 44.8L46.8 45.8L44.0 47.2L39.8 46.5L37.2 48.2L33.0 52.5L31.8 55.2L28.8 59.0L29.2 58.8L33.0 59.0L33.8 59.2L34.8 60.2L35.0 64.8L34.8 65.0L34.8 69.2L34.2 70.0L31.2 71.0L29.2 70.8L24.5 66.8L23.2 63.8L22.0 66.2L22.0 67.5L24.5 70.0L27.2 72.0L33.0 74.8L35.5 77.2L38.2 82.8L38.8 84.5L41.2 89.0L44.0 92.5L45.8 93.5L48.2 96.2L49.0 98.2L48.5 100.2L47.2 100.5L38.2 97.0L36.2 97.0L31.8 97.8L31.8 99.0L32.2 100.0L37.2 100.0L47.5 104.8L48.0 105.2L47.8 107.0L48.8 109.0L47.5 111.2L42.5 114.0L34.2 115.5L34.2 116.8L34.8 118.0L40.8 118.2L44.0 118.8L49.5 121.2L50.5 123.2L52.0 123.0L53.5 122.2L55.0 122.2L57.5 122.8L60.2 124.5L62.8 124.2L63.0 123.0L64.2 122.2L66.0 123.0L67.5 123.0L68.5 122.2L69.5 122.2L70.0 122.8L70.0 124.2L71.2 125.2L77.2 124.5L79.0 123.8L79.0 123.2L78.0 122.5L74.8 122.8L74.0 122.5L73.0 121.5L73.5 120.5L75.2 120.2L77.5 118.8L79.2 119.8L82.5 120.0L83.2 120.8L83.5 123.2L85.5 124.2L92.8 124.0L95.8 122.8L97.0 123.0L98.8 122.8L101.8 121.0L103.5 117.5L105.2 116.2L104.5 115.5L104.2 114.5L104.8 113.2L106.0 112.2L106.0 74.2L104.2 73.2L102.5 71.5L102.8 75.0L102.5 75.8L101.5 76.8L94.8 77.2L90.2 76.2L88.8 75.0L87.8 65.0L86.2 62.0L86.2 60.0L87.8 57.0L86.2 48.8L83.8 45.2L80.2 37.8L76.2 31.8L76.2 29.5L76.8 27.0L77.5 26.2L78.8 26.2L80.0 27.2L81.8 28.0L84.0 30.0L85.0 32.2L87.0 35.0L89.8 35.2L92.5 34.5L96.5 36.5L97.2 38.0L97.5 41.0L98.5 41.8L100.2 42.0L101.0 42.8L102.5 46.0L104.0 45.0L104.0 43.8L101.0 36.8L97.0 34.5L90.2 32.2L84.0 28.5L85.5 26.8L89.2 25.2L89.2 24.2L87.5 22.5L88.5 20.8L88.2 16.8L85.0 14.2L76.8 11.5L75.2 11.5L72.8 12.8L72.0 12.8L73.8 12.5L74.2 13.0L72.8 14.5L73.0 16.8L73.8 17.5L77.0 18.0L80.2 17.8L80.8 18.2L81.2 20.0L82.8 22.2L81.2 24.0L80.2 24.5L78.8 24.0L76.0 21.2L75.0 20.8L72.8 20.5L70.5 18.8L68.8 19.2L64.2 19.5L60.5 20.8L58.2 20.8L55.5 19.2L55.5 18.2L56.0 17.5L45.2 23.0L44.2 23.0L44.0 22.2L45.0 20.8L47.2 18.5L50.0 17.0L50.8 15.5L50.8 14.5L49.5 12.8L51.0 10.2L53.2 8.5L55.0 6.2L54.5 3.0L53.2 1.5L52.2 0.8L48.0 0.5L44.8 1.5L39.5 5.0L34.0 10.0L32.0 11.2L28.2 12.5L24.8 14.2L17.5 21.5L15.2 21.8L12.8 20.5L10.2 20.0L8.5 20.0ZM91.8 118.0L92.5 117.8L93.8 118.2L94.8 120.2L94.0 121.0L92.2 120.5L91.2 119.2ZM89.5 116.2L89.8 116.5L89.5 118.0L88.5 118.8L87.8 118.5L87.5 117.8ZM64.0 115.8L64.8 115.0L66.8 115.0L67.8 116.5L67.2 117.2L65.8 117.5ZM78.8 109.5L78.8 110.0L77.0 111.2L75.5 111.5L74.5 110.8L74.8 109.5L76.5 108.5L77.8 108.8ZM79.8 109.8L81.0 108.5L82.8 107.5L85.0 107.5L86.0 108.5L86.0 109.8L85.5 110.5L83.8 111.8L81.8 111.8ZM78.0 90.8L79.2 91.0L80.2 92.0L80.5 93.8L82.2 94.2L85.5 94.5L86.8 95.0L89.5 98.2L89.5 99.2L89.0 100.2L86.2 103.5L82.5 104.5L80.0 104.5L75.8 101.5L73.8 102.0L72.8 101.2L72.8 100.5L74.8 99.0L75.0 97.2L75.5 96.5L77.8 94.8L77.5 91.2ZM82.5 87.2L84.2 87.0L85.5 88.0L85.5 88.8L84.8 89.5L84.0 89.5L82.5 88.0ZM51.5 75.8L54.5 79.5L54.5 81.2L53.5 84.5L51.2 86.2L49.0 86.8L46.0 86.8L44.2 88.5L42.8 88.2L39.0 83.8L37.8 79.0L38.0 78.2L38.5 77.8L41.2 77.5L48.2 75.5ZM45.0 12.0L46.2 13.2L46.2 16.5L44.0 19.0L43.5 20.2L42.8 20.8L41.8 20.0L39.0 19.5L37.8 18.2L37.5 17.5L38.2 15.2L40.0 13.8L42.8 12.2Z" fill="#7accc4" fill-rule="evenodd"/><path d="M49.5 129.2L47.5 129.0L48.0 132.8L46.8 135.5L43.2 139.8L43.2 141.2L43.8 143.0L45.5 143.0L45.8 138.5L46.5 137.5L48.8 137.5L50.2 136.8L50.5 130.2ZM106.0 89.8L104.8 90.0L104.8 90.2L106.0 90.5ZM91.2 88.8L90.5 89.8L90.8 92.8L89.5 94.0L89.0 95.0L89.0 96.0L90.0 96.8L91.8 95.5L93.8 95.2L94.2 96.0L94.2 97.5L95.5 99.2L95.5 101.0L94.8 102.0L93.2 102.0L91.2 100.8L90.5 100.8L90.0 101.5L90.2 103.2L91.0 104.0L93.8 104.0L95.5 102.8L96.8 102.8L99.2 104.2L100.8 104.5L104.5 106.2L106.0 106.5L106.0 98.0L103.8 97.8L101.5 96.5L100.8 94.5L99.0 92.5L99.2 92.0L99.0 89.5L98.5 89.0L97.8 89.0L97.0 90.0L97.2 93.8L96.2 94.8L94.5 95.2L94.0 94.8L93.8 92.5L94.0 89.8L92.2 88.5ZM75.5 85.2L75.8 85.8L77.2 85.8L77.0 85.2ZM71.2 85.0L71.5 85.2L72.5 85.0L71.8 84.5ZM85.8 29.8L86.2 30.5L86.5 32.0L87.8 34.2L89.5 34.8L91.2 34.0L93.0 34.0L97.0 36.2L97.5 37.0L97.8 41.0L98.5 41.5L100.8 41.8L101.5 42.5L103.2 45.5L104.0 45.0L104.0 43.8L101.0 36.8L97.0 34.5L90.2 32.2ZM50.0 13.5L49.2 14.8L49.5 17.5L50.8 15.5L50.8 14.5ZM74.8 11.8L75.5 12.8L74.5 13.8L73.2 14.0L73.0 14.5L73.0 15.8L73.5 16.8L75.8 17.2L78.8 17.2L80.5 16.8L81.2 17.5L82.0 20.5L83.2 21.2L84.0 22.2L81.2 25.5L81.8 26.2L84.2 28.0L85.5 26.8L89.2 25.2L89.2 24.2L87.5 22.5L88.5 20.8L88.2 16.8L85.0 14.2L76.8 11.5ZM48.0 0.5L44.8 1.5L39.5 5.0L34.0 10.0L32.0 11.2L28.2 12.5L24.8 14.2L17.5 21.5L15.2 21.8L12.8 20.5L8.5 20.0L6.5 21.5L5.5 24.2L5.5 25.8L6.5 28.5L9.0 30.2L17.0 31.8L19.8 33.2L20.5 36.0L20.0 37.8L20.0 39.5L21.0 41.0L22.2 41.8L25.2 42.5L26.8 42.5L30.5 41.0L35.5 36.8L38.5 37.0L40.0 36.5L42.0 36.5L49.2 38.8L55.0 39.2L57.8 40.8L58.2 42.0L57.8 43.2L55.5 44.2L53.2 44.8L49.5 44.8L46.8 45.8L44.0 47.2L39.8 46.5L37.2 48.2L33.0 52.5L31.8 55.2L29.8 58.0L33.5 58.2L35.0 59.5L35.2 69.2L35.0 70.0L34.0 71.0L31.0 72.0L29.0 71.8L23.8 67.0L22.8 64.5L22.0 66.2L22.0 67.5L24.5 70.0L27.2 72.0L33.0 74.8L35.5 77.2L38.0 82.5L37.2 78.8L38.0 77.5L40.5 77.5L42.8 77.0L48.8 75.0L50.8 75.0L51.8 75.5L54.5 78.8L56.0 82.0L56.2 83.5L55.5 83.8L55.0 83.2L54.0 84.8L52.0 86.2L49.0 87.0L46.2 87.0L44.0 89.0L43.0 89.0L38.8 84.2L39.8 86.5L42.0 90.0L44.0 92.5L45.8 93.5L48.2 96.2L49.0 98.2L49.0 99.0L48.2 100.5L46.0 100.2L38.2 97.0L36.2 97.0L34.5 97.8L34.0 97.5L31.8 97.8L31.8 99.0L32.2 100.0L37.2 100.0L47.5 104.8L48.0 105.2L47.8 107.0L48.8 109.0L47.5 111.2L42.5 114.0L34.2 115.5L34.2 116.8L34.8 118.0L40.8 118.2L44.0 118.8L49.5 121.2L49.8 121.8L51.5 121.5L53.2 120.8L60.0 121.5L61.5 121.0L62.0 120.0L61.5 119.0L60.5 118.2L57.5 117.5L56.2 116.5L56.0 116.0L56.2 113.2L56.8 112.8L61.8 113.0L65.8 112.0L67.5 111.0L68.8 109.8L70.5 107.0L70.2 105.5L68.0 102.0L67.2 100.0L67.2 99.0L68.0 98.5L70.2 98.0L70.5 96.8L67.8 91.8L64.5 87.5L64.5 86.8L65.0 86.2L67.5 85.8L68.8 85.0L68.8 84.0L68.0 82.8L68.0 81.8L68.8 80.5L68.8 78.2L68.2 76.5L68.8 75.5L69.8 74.8L69.5 74.0L69.8 73.0L70.8 72.2L72.2 72.5L70.5 74.5L71.2 75.2L75.5 74.8L80.2 76.0L81.0 77.0L80.5 80.5L81.2 82.2L81.5 84.2L82.2 84.8L83.5 84.8L86.5 85.8L90.8 86.0L91.8 85.5L93.0 84.0L94.0 84.0L98.5 87.0L106.0 86.5L106.0 77.5L105.5 77.0L106.0 76.8L106.0 74.2L103.2 72.2L103.5 76.0L102.2 77.2L98.2 77.8L96.0 78.5L89.8 77.5L88.8 77.0L87.0 74.8L87.0 69.0L86.2 66.8L85.5 66.2L82.2 66.2L80.0 67.2L79.2 65.8L78.0 64.2L78.0 61.5L78.2 61.2L78.0 56.8L79.0 55.5L83.5 55.8L85.2 55.2L86.0 54.2L86.0 52.8L85.0 49.5L83.0 47.2L79.8 39.8L75.0 32.5L74.8 28.2L75.8 25.8L77.2 24.5L77.0 23.8L75.5 22.2L74.2 21.8L72.5 21.8L70.0 20.5L68.0 20.2L64.8 20.5L60.5 21.5L58.2 21.5L55.8 20.5L53.8 20.5L53.2 23.5L52.2 24.5L49.5 23.2L49.0 22.8L49.0 22.0L50.2 20.8L52.8 20.0L54.0 18.5L44.8 23.0L43.0 24.5L41.2 24.0L40.0 24.0L38.8 24.5L36.8 22.0L35.2 20.8L34.5 19.5L34.8 18.2L36.8 15.8L38.8 14.0L44.2 10.5L46.0 10.0L48.2 10.0L50.0 11.5L50.0 12.0L51.0 10.2L53.2 8.5L54.8 6.8L55.0 5.0L54.5 3.0L53.2 1.5L52.2 0.8ZM86.2 79.2L86.8 79.8L86.5 81.0L85.5 82.0L84.0 82.2L83.5 81.8L84.0 80.8L85.5 79.2Z" fill="#5dbbce" fill-rule="evenodd"/><path d="M47.5 129.8L48.0 132.8L46.8 135.2L46.8 136.2L47.2 136.8L49.2 136.8L49.8 136.2L49.8 130.2L49.0 129.8ZM62.8 86.0L53.5 86.0L49.5 87.2L46.8 87.2L46.0 87.5L44.0 89.8L44.0 91.2L44.5 93.0L45.8 93.5L48.5 96.8L49.0 98.2L48.5 100.0L49.5 100.8L50.2 102.2L50.8 105.5L52.0 108.2L54.2 110.0L55.0 111.0L54.5 111.8L51.2 111.5L49.2 112.5L45.8 113.5L45.0 114.5L44.8 119.2L48.5 120.8L50.2 120.5L54.8 117.8L55.8 112.2L56.2 111.8L58.5 112.2L61.5 112.2L64.5 111.5L66.8 110.5L69.0 108.0L69.5 106.2L67.0 101.8L66.0 98.5L67.0 97.8L69.2 97.5L69.5 96.5ZM98.5 37.5L97.8 38.0L98.0 40.8L98.8 41.2L100.0 41.2L100.5 40.8L100.0 38.2ZM85.5 24.5L85.2 24.8L85.5 25.2L86.2 25.5L86.5 25.0ZM82.0 16.8L81.8 18.5L82.2 20.2L84.2 21.2L85.8 21.0L86.5 19.8L86.2 17.2L85.5 16.8L83.5 16.5ZM73.2 14.5L73.2 15.8L74.2 16.8L78.5 17.0L79.8 15.8L79.5 14.2L78.8 13.5L77.2 13.0L73.8 14.0ZM6.8 21.2L5.5 24.2L5.8 26.2L7.8 28.0L13.8 30.5L15.2 31.5L17.0 31.8L19.8 33.2L20.5 36.0L20.0 37.8L20.0 39.2L21.8 41.2L24.2 42.2L26.8 42.5L28.8 41.8L29.5 41.0L31.8 40.0L35.5 36.8L37.8 37.0L40.0 36.5L42.0 36.5L44.2 37.2L46.0 37.2L49.0 38.0L53.0 37.8L55.8 36.5L58.0 36.5L58.5 37.0L58.8 38.0L61.5 40.5L61.8 45.0L61.2 45.5L60.0 45.2L55.0 45.5L52.2 46.5L50.2 46.5L46.2 47.5L43.5 49.0L40.2 50.0L38.0 51.5L34.8 54.5L34.5 56.8L35.5 59.5L35.5 62.8L35.8 63.0L35.5 69.5L34.8 71.5L34.8 72.8L35.5 74.8L37.5 76.8L38.5 77.2L41.0 77.2L44.2 76.5L48.8 74.2L50.5 73.8L59.8 83.2L63.2 85.2L65.5 85.2L67.0 84.8L67.2 83.5L66.2 82.0L58.5 74.2L56.8 73.2L55.5 72.0L55.5 71.2L56.0 70.8L57.8 70.5L58.8 71.5L59.5 73.0L60.5 73.8L67.0 73.0L72.8 69.8L76.2 68.2L77.8 66.0L77.0 64.2L77.2 62.0L77.0 56.5L77.2 55.8L78.5 54.5L79.2 54.2L83.8 54.5L84.5 53.8L84.5 53.2L83.0 53.0L79.0 53.5L76.8 53.0L74.5 53.2L72.0 54.2L68.0 54.0L65.2 54.8L57.5 55.5L57.0 55.8L57.0 56.8L59.8 61.0L59.5 62.8L59.0 62.8L57.0 60.2L52.8 58.8L52.5 57.5L55.0 55.0L60.8 53.2L64.5 50.0L66.2 44.5L66.2 43.0L64.5 38.0L60.8 35.5L59.8 34.5L59.8 33.8L64.5 33.0L65.5 32.5L68.8 29.2L72.2 28.0L72.5 25.8L72.0 24.8L70.8 24.2L67.2 24.2L64.2 23.5L62.0 23.5L59.2 24.5L55.8 24.8L53.0 26.2L51.5 26.2L50.8 26.8L51.0 27.5L50.5 28.2L47.0 27.2L44.5 25.8L41.2 24.8L40.5 25.0L39.8 26.2L39.0 26.8L38.0 26.0L36.8 23.5L34.8 21.0L34.0 19.5L34.5 17.8L37.8 14.2L43.8 10.2L45.8 9.5L48.2 9.5L50.8 10.0L52.2 9.2L54.8 6.5L54.8 4.8L53.8 2.0L52.2 0.8L50.8 0.5L48.0 0.5L44.0 2.0L38.5 5.8L35.2 9.2L31.0 11.8L28.2 12.5L24.8 14.2L17.5 21.5L15.2 21.8L12.8 20.5L10.2 20.0L8.5 20.0Z" fill="#42a6cc" fill-rule="evenodd"/><path d="M47.8 131.0L48.0 132.8L47.5 133.8L47.5 135.0L48.0 136.0L49.0 136.0L48.8 134.2L49.0 131.2ZM54.8 113.0L53.0 112.5L51.2 112.5L46.5 114.2L45.8 115.2L46.2 118.2L47.0 119.0L48.8 119.8L50.0 119.8L54.0 117.2L54.8 115.0ZM46.2 88.0L45.2 89.2L45.2 91.5L45.8 93.5L48.2 96.2L49.0 98.8L50.5 101.5L52.5 107.8L53.5 109.0L56.5 111.0L60.2 111.8L61.8 111.2L63.5 109.2L64.8 108.8L66.5 108.8L68.2 107.5L68.5 106.0L66.8 103.2L65.5 100.2L59.2 93.0L59.5 92.0L61.2 92.8L62.2 93.8L62.8 95.0L64.8 96.8L66.8 97.0L68.5 96.8L68.2 95.8L63.8 89.5L62.8 87.2L58.5 86.8L53.5 86.8L49.2 87.8ZM63.0 62.0L62.0 62.0L61.5 62.5L61.2 64.2L61.8 64.8L63.2 63.5ZM75.8 54.8L74.8 55.2L74.5 56.5L72.8 58.5L73.5 60.5L73.5 61.2L73.0 62.0L73.0 63.8L73.5 64.5L73.2 65.5L71.8 65.8L70.8 65.0L70.2 63.8L70.2 61.0L70.0 60.2L69.2 59.8L68.0 61.0L67.5 62.2L67.5 64.0L68.2 66.5L68.2 68.0L65.2 71.0L65.5 71.5L66.2 71.8L67.5 71.5L70.0 69.0L72.2 68.0L74.5 67.8L75.8 67.0L76.0 66.5L76.0 65.5L75.5 64.8L75.8 55.5L76.0 55.2ZM60.0 36.2L59.8 37.5L62.2 39.8L62.8 40.8L63.0 45.5L62.0 46.5L60.0 46.2L54.8 46.5L53.5 47.0L50.5 47.2L47.2 48.0L40.0 51.0L35.8 54.8L35.5 57.0L36.0 62.0L36.0 67.2L35.2 72.0L36.0 74.5L38.5 77.0L40.2 77.2L45.2 76.0L49.8 72.5L51.5 71.8L52.0 72.2L52.2 74.2L55.5 77.8L57.2 78.8L58.5 81.0L59.8 82.2L62.8 84.0L64.0 84.0L64.8 83.2L64.2 81.5L61.2 78.2L58.2 76.8L55.0 73.5L54.0 71.2L54.5 70.5L58.0 68.8L58.8 69.0L60.0 71.0L63.8 71.2L64.5 70.8L64.8 67.8L63.2 66.2L61.5 66.2L60.5 67.2L59.0 68.0L58.8 66.8L59.2 65.8L59.2 64.8L57.2 61.8L55.8 60.5L52.0 59.5L51.2 58.5L51.5 57.2L53.8 54.5L56.5 53.2L60.2 52.5L62.2 51.0L64.0 49.0L64.0 46.5L65.0 44.8L65.0 42.8L64.5 42.0L64.2 39.8L63.2 38.2ZM61.8 25.0L60.8 25.8L60.8 27.0L62.2 29.5L62.5 31.8L63.8 32.0L64.8 31.2L64.8 30.8L62.8 29.0L62.8 28.0L63.8 25.5L63.2 25.0ZM82.5 17.2L82.0 18.0L82.5 20.0L84.2 20.8L85.5 20.5L86.0 19.5L85.8 17.5L84.2 17.0ZM73.5 14.5L73.5 15.8L74.5 16.5L78.2 16.8L79.2 15.8L79.2 14.8L78.5 14.0L75.8 13.8ZM59.0 35.2L58.0 33.5L58.0 31.8L57.5 30.8L56.0 29.8L53.5 30.0L50.8 29.5L45.8 27.8L41.5 25.5L40.8 25.8L39.8 27.5L39.0 27.5L37.5 26.0L33.8 20.0L33.8 18.2L35.2 16.2L37.5 14.0L43.5 10.0L45.2 9.2L50.8 9.2L53.8 7.0L54.2 6.2L54.2 4.8L53.0 1.5L50.8 0.5L49.0 0.5L47.2 1.5L44.8 2.2L40.2 4.8L39.0 5.8L38.2 7.2L36.2 9.2L32.2 11.5L28.0 12.8L26.0 13.8L23.2 15.8L17.5 21.5L15.2 21.8L12.8 20.5L8.5 20.0L6.5 21.5L5.5 24.2L6.2 26.0L8.0 27.5L13.2 29.5L15.0 30.5L16.2 31.8L17.0 31.8L19.8 33.2L20.5 36.0L20.0 38.5L21.8 40.8L26.2 42.2L27.5 42.0L35.5 36.8L36.0 37.0L37.0 36.5L42.5 36.2L48.8 37.5L50.2 37.5L53.0 37.0L56.2 35.5L58.8 35.5Z" fill="#2a8bbe" fill-rule="evenodd"/><path d="M46.5 89.2L46.5 90.2L47.2 91.2L47.5 92.8L47.5 95.5L48.2 96.2L48.8 97.8L49.5 98.5L50.5 100.5L51.8 104.8L53.8 108.8L56.5 110.5L60.2 111.2L61.5 110.8L63.2 108.5L64.5 108.0L66.8 107.8L67.8 107.0L67.8 105.8L65.5 101.8L57.5 91.8L57.8 90.8L60.2 90.5L60.2 89.2L59.8 88.8L58.2 88.2L52.0 88.2L47.2 88.8ZM54.0 61.5L53.8 62.0L54.5 64.0L55.8 65.0L56.8 65.0L57.2 64.0L56.2 62.0L54.8 61.2ZM62.0 48.0L60.2 47.5L58.2 47.8L58.8 49.2L58.2 51.2L58.8 51.8L59.5 51.8L61.5 50.2L62.5 49.0ZM56.5 47.8L54.2 47.5L52.8 48.0L50.2 48.0L45.5 49.2L40.2 51.8L37.2 54.5L36.8 55.5L36.2 58.2L36.5 66.8L36.0 67.8L35.8 73.2L36.2 74.2L38.8 76.8L40.8 77.0L44.8 76.0L45.8 75.5L48.8 72.5L49.0 71.0L48.2 69.2L48.0 67.2L48.8 66.0L49.0 64.8L50.0 63.5L50.2 62.2L50.0 61.0L49.2 60.0L49.0 55.8L49.8 54.8L50.8 54.2L51.8 54.2L52.8 53.2L53.5 51.2L56.5 48.2ZM82.5 17.8L82.5 19.0L83.0 20.0L85.0 20.2L85.5 19.8L85.2 17.8L84.8 17.5ZM73.8 14.8L73.8 15.8L74.8 16.2L78.0 16.5L78.8 16.0L78.8 14.8L78.0 14.2L75.0 14.2ZM53.2 2.8L52.8 1.8L50.2 0.8L48.8 1.0L44.5 2.8L39.8 5.5L38.5 7.8L36.8 9.5L32.2 12.0L27.0 14.0L25.8 15.2L24.2 15.8L22.5 17.2L21.0 18.0L17.5 21.5L15.2 21.8L12.8 20.5L8.8 20.0L6.2 22.0L5.8 23.5L6.0 25.0L8.8 27.5L15.0 30.0L16.5 31.8L19.8 33.2L20.5 36.0L20.0 37.8L22.0 40.5L24.2 41.5L27.2 41.8L33.8 37.5L36.8 36.2L43.2 36.0L48.0 37.0L51.2 37.0L53.2 36.5L54.2 35.5L53.8 34.8L50.8 33.8L48.8 32.0L45.5 31.2L38.8 28.0L37.0 26.0L33.2 19.8L33.2 18.5L35.0 16.0L37.2 13.8L43.2 9.8L44.8 9.0L46.5 8.8L50.2 9.0L53.2 7.0L54.0 5.8Z" fill="#1373b2" fill-rule="evenodd"/><path d="M48.0 91.2L48.0 93.0L49.0 97.0L51.2 101.2L53.2 107.5L54.5 108.8L56.5 110.0L59.2 110.8L60.5 110.8L63.2 108.0L66.8 107.2L67.2 106.8L67.2 105.8L65.2 102.2L56.5 91.2L52.5 90.8L48.8 90.8ZM48.0 90.0L51.8 90.2L54.0 89.8L55.2 90.0L58.5 89.8L58.2 89.5L48.2 89.5ZM51.5 48.8L50.5 48.8L47.5 50.0L45.0 50.2L40.2 53.0L38.0 55.5L38.0 56.5L36.8 59.8L36.8 62.0L37.5 66.0L36.2 68.0L36.0 73.0L37.0 74.8L39.2 76.8L41.0 76.8L44.8 75.8L48.0 72.8L48.2 72.0L48.0 70.8L46.5 67.0L46.8 65.2L46.2 64.5L43.2 62.8L43.0 61.0L44.8 57.5L51.0 51.2L51.8 50.0ZM83.2 18.2L83.5 19.5L84.8 19.5L85.0 19.0L84.8 18.2ZM74.0 15.2L75.5 16.0L78.2 16.0L78.5 15.5L78.0 14.8L76.0 14.5L74.5 14.8ZM52.5 2.0L50.8 1.2L49.0 1.2L47.2 2.2L45.5 2.8L40.5 5.5L39.5 6.5L39.0 8.0L37.5 9.8L35.8 11.0L31.8 12.8L31.2 13.2L31.2 14.2L28.0 17.2L25.8 17.5L24.0 16.8L21.8 18.5L19.5 19.5L17.5 21.5L15.2 21.8L12.8 20.5L9.2 20.2L8.2 20.8L6.2 22.8L6.2 24.5L9.0 27.2L14.8 29.5L17.2 32.0L19.8 33.2L20.5 36.0L20.2 36.2L20.5 38.0L22.5 40.5L23.8 41.0L27.0 41.5L33.5 37.2L37.2 35.8L42.5 35.5L48.2 36.8L50.8 36.8L53.0 36.0L52.8 35.2L51.0 34.8L46.5 32.2L39.2 29.0L36.2 25.8L33.5 21.8L32.8 20.0L32.8 18.2L35.0 15.2L37.5 12.8L42.8 9.5L45.2 8.5L49.8 8.8L52.8 7.0L53.5 6.0L53.5 4.5Z" fill="#085a9d" fill-rule="evenodd"/><path d="M48.5 92.2L50.0 97.2L51.8 100.8L53.0 105.8L54.0 107.8L57.2 109.8L59.0 110.2L60.5 110.2L63.0 107.5L65.8 107.0L66.8 106.5L65.0 102.8L56.2 92.0L55.8 91.8L49.0 91.8ZM45.8 67.2L41.0 65.8L39.0 66.2L36.8 67.8L36.2 70.0L36.5 73.5L39.0 76.2L41.0 76.5L44.8 75.5L47.5 72.8L47.8 72.0L46.8 68.8ZM6.8 23.2L7.0 24.8L9.0 26.8L14.8 29.0L18.2 32.5L19.8 33.2L20.2 34.5L20.5 37.2L23.0 40.2L24.2 40.8L27.0 41.0L33.2 36.8L36.8 35.2L41.8 35.0L47.8 36.2L50.8 36.2L51.8 35.8L46.2 32.8L39.8 30.0L34.8 25.0L30.8 22.5L29.2 22.5L27.0 23.8L25.0 23.8L21.2 23.0L17.8 21.2L15.2 21.8L14.0 21.0L9.2 20.8ZM52.8 3.5L51.8 2.0L49.0 1.8L41.0 5.8L40.0 7.0L40.0 8.2L40.8 9.2L42.0 9.2L45.0 8.0L50.0 8.2L53.0 6.2L53.2 5.2Z" fill="#084081" fill-rule="evenodd"/><path d="M91.2 133.2L92.2 136.0L92.2 137.2L91.5 138.0L89.5 139.0L87.5 140.8L86.8 141.0L83.0 141.0L80.0 141.5L79.2 141.0L78.5 138.8L78.5 137.2L79.2 136.5L82.2 135.2L84.2 135.2L88.8 132.8L90.2 132.5L91.2 133.2M76.8 97.8L79.5 95.8L82.5 95.5L86.0 96.2L88.0 98.2L88.0 99.5L85.8 102.0L84.8 102.5L80.2 102.8L78.2 101.5L77.0 100.2L76.8 97.8M51.0 76.5L53.5 79.5L53.5 81.2L52.5 84.2L51.5 85.2L50.2 85.8L45.2 86.0L43.5 87.5L40.0 83.5L38.8 79.2L39.0 78.8L39.8 78.2L49.0 76.2L51.0 76.5M91.2 35.8L93.0 35.8L96.0 37.5L96.5 38.5L97.0 41.8L97.5 42.2L99.5 42.8L100.0 43.2M101.2 73.0L101.5 74.2L101.2 75.0L100.0 75.8L96.0 75.8L95.0 74.8L94.8 74.0L94.8 69.0L93.5 64.2L93.8 45.0L93.0 43.5L90.0 40.5L87.8 37.2L88.8 36.5L91.2 35.8M42.2 14.5L43.8 14.5L44.2 15.0L44.2 16.2L43.2 17.2L41.8 17.0L41.0 16.0L41.2 15.2L42.2 14.5M64.8 141.5L64.8 140.8L65.2 140.2L67.8 140.0L70.5 139.2L72.8 139.2L74.8 139.8L75.2 140.5M103.8 128.2L101.8 127.0L99.8 127.2L98.2 126.0L98.2 125.5L99.0 124.8L102.5 122.8L103.8 122.8" fill="none" stroke="#1a1a1a" stroke-opacity="0.85" stroke-width="0.33" stroke-linejoin="round"/><path d="M48.0 136.0L49.0 136.0L49.0 134.5L48.8 134.2M54.8 113.0L53.0 112.5L51.2 112.5L46.5 114.2L45.8 115.2L45.8 116.5L46.2 118.2M50.0 119.8L51.0 119.2L52.5 118.0L54.0 117.2L54.8 115.0L54.8 113.0M46.2 88.0L45.2 89.2L45.2 91.5M50.5 101.5L51.2 104.5L52.5 107.8L53.5 109.0L56.5 111.0L60.2 111.8L61.8 111.2L63.5 109.2L64.8 108.8L66.5 108.8L68.2 107.5L68.5 106.0L66.8 103.2L65.5 100.2L59.2 93.0L59.5 92.0L61.2 92.8L62.2 93.8L62.8 95.0L64.8 96.8L66.5 96.8L66.8 97.0L68.5 96.8L68.2 95.8L63.8 89.5L62.8 87.2L62.2 87.0L58.8 87.0L58.5 86.8L53.5 86.8L49.2 87.8L46.2 88.0M63.0 62.0L62.0 62.0L61.5 62.5L61.2 64.2L61.8 64.8L63.2 63.5L63.2 62.2L63.0 62.0M75.8 54.8L75.2 54.8L74.8 55.2L74.5 56.5L72.8 58.5L73.5 60.5L73.5 61.2L73.0 62.0L73.0 63.8L73.5 64.5L73.0 65.8L71.8 65.8L70.8 65.0L70.2 63.8L70.2 61.0L70.0 60.2L69.2 59.8L68.0 61.0L67.5 62.2L67.5 64.0L68.2 66.5L68.2 68.0L65.2 71.0L65.5 71.5L66.2 71.8L67.5 71.5L70.0 69.0L72.2 68.0L74.5 67.8L75.8 67.0L76.0 66.5L76.0 65.5L75.5 64.8L75.8 55.5L76.0 55.2L75.8 54.8M60.0 36.2L59.8 37.5L62.2 39.8L62.8 40.8L63.0 45.5L62.0 46.5L60.2 46.5L60.0 46.2L54.8 46.5L53.5 47.0L50.5 47.2L47.2 48.0L40.0 51.0L35.8 54.8L35.5 57.0L35.8 57.2L35.8 61.8L36.0 62.0L36.0 67.2L35.8 67.5L35.8 69.8L35.2 72.0L36.0 74.5L38.5 77.0L40.2 77.2L45.2 76.0L49.8 72.5L51.5 71.8L52.0 72.2L52.2 74.2L55.5 77.8L57.2 78.8L58.5 81.0L59.8 82.2L62.8 84.0L64.0 84.0L64.8 83.2L64.8 82.5L64.2 81.5L61.2 78.2L60.2 77.5L58.2 76.8L55.0 73.5L54.0 71.2L54.5 70.5L56.0 70.0L58.0 68.8L58.8 69.0L60.0 71.0L63.8 71.2L64.5 70.8L64.8 67.8L63.2 66.2L61.5 66.2L60.5 67.2L59.0 68.0L58.8 66.8L59.2 65.8L59.2 64.8L57.2 61.8L55.8 60.5L52.0 59.5L51.2 58.5L51.5 57.2L53.8 54.5L56.5 53.2L60.2 52.5L62.2 51.0L64.0 49.0L64.0 46.5L65.0 44.8L65.0 42.8L64.5 42.0L64.0 39.0L63.2 38.2L60.0 36.2M61.8 25.0L60.8 25.8L60.8 27.0L62.2 29.5L62.5 31.8L63.8 32.0L64.8 31.2L64.8 30.8L62.8 29.0L62.8 28.0L63.8 25.5L63.2 25.0L61.8 25.0M82.5 17.2L82.0 18.0L82.5 20.0L84.2 20.8L85.5 20.5L86.0 19.5L85.8 17.5L84.2 17.0L82.5 17.2M73.5 14.5L73.5 15.8L74.5 16.5L78.2 16.8L79.2 15.8L79.2 14.8L78.5 14.0L75.8 13.8L73.5 14.5M59.0 35.2L58.0 33.5L58.0 31.8L57.5 30.8L56.0 29.8L53.5 30.0L53.2 29.8L50.8 29.5L49.2 28.8L45.8 27.8L41.5 25.5L40.8 25.8L39.8 27.5L39.0 27.5L37.5 26.0L33.8 20.0L33.8 18.2L35.2 16.2L37.5 14.0L40.5 12.2L43.5 10.0L45.2 9.2M8.0 27.5L10.0 28.5L13.2 29.5M50.2 37.5L50.5 37.2L53.0 37.0L56.2 35.5L58.8 35.5L59.0 35.2" fill="none" stroke="#1a1a1a" stroke-opacity="0.85" stroke-width="0.33" stroke-linejoin="round"/><use href="#fringe"/></g><use href="#jeju"/></g>
<use href="#grid"/>
</g>
<rect x="0" y="0" width="104.9" height="142.2" fill="none" stroke="#4a4a4a" stroke-width="0.8"/>
<text x="10.2" y="149.60000000000002" font-size="5.4" text-anchor="middle" fill="#111">118°E</text>
<text x="31.2" y="149.60000000000002" font-size="5.4" text-anchor="middle" fill="#111">120°E</text>
<text x="52.2" y="149.60000000000002" font-size="5.4" text-anchor="middle" fill="#111">122°E</text>
<text x="73.2" y="149.60000000000002" font-size="5.4" text-anchor="middle" fill="#111">124°E</text>
<text x="94.2" y="149.60000000000002" font-size="5.4" text-anchor="middle" fill="#111">126°E</text>
<text x="-3.0" y="13.00" font-size="5.4" text-anchor="end" fill="#111">40°N</text>
<text x="-3.0" y="34.84" font-size="5.4" text-anchor="end" fill="#111">38°N</text>
<text x="-3.0" y="56.68" font-size="5.4" text-anchor="end" fill="#111">36°N</text>
<text x="-3.0" y="78.52" font-size="5.4" text-anchor="end" fill="#111">34°N</text>
<text x="-3.0" y="100.36" font-size="5.4" text-anchor="end" fill="#111">32°N</text>
<text x="-3.0" y="122.20" font-size="5.4" text-anchor="end" fill="#111">30°N</text>
<text x="52.6" y="-5.2" font-size="6.1" text-anchor="middle" fill="#111">(a) HYBRID</text>
<text x="5.6" y="11.4" font-size="6.3" font-weight="bold" fill="#000">Aug</text>
</g>
<g transform="translate(158.8,185.1)">
<g clip-path="url(#pc)">
<rect width="105.2" height="142.3" fill="#c0c0c0"/>
<g transform="translate(-0.3,-0.1)"><g clip-path="url(#sea)"><rect x="-1" y="-1" width="107.2" height="144.3" fill="#f7fcf0"/><path d="M6.8 21.2L5.5 24.2L5.5 25.8L6.5 28.5L9.5 30.5L12.5 30.8L17.0 31.8L19.8 33.2L20.5 36.0L20.0 37.8L20.0 39.5L21.5 41.5L25.2 42.5L26.8 42.5L30.5 41.0L35.5 36.8L38.5 37.0L40.0 36.5L42.0 36.5L48.0 38.5L55.0 39.2L57.5 40.5L58.2 42.0L57.8 43.2L57.0 43.8L53.2 44.8L49.5 44.8L46.8 45.8L44.0 47.2L43.0 47.2L41.0 46.5L39.2 46.8L37.2 48.2L33.0 52.5L31.8 55.2L29.8 58.0L26.0 61.8L22.8 64.2L22.0 66.2L22.0 67.5L24.5 70.0L27.2 72.0L33.0 74.8L35.5 77.2L38.2 82.8L38.8 84.5L41.2 89.0L44.0 92.5L45.8 93.5L48.2 96.2L49.0 98.2L48.5 100.2L47.2 100.5L38.2 97.0L36.2 97.0L31.8 97.8L31.8 99.0L32.2 100.0L37.2 100.0L40.5 101.8L43.5 102.8L48.0 105.2L47.8 107.0L48.8 109.2L47.5 111.2L42.5 114.0L34.2 115.5L34.2 116.8L34.8 118.0L40.8 118.2L44.0 118.8L49.5 121.2L50.2 122.5L50.5 123.5L47.5 129.0L47.5 130.2L48.0 131.5L47.5 134.2L43.2 139.8L43.2 141.2L43.8 143.0L106.0 143.0L106.0 74.2L104.2 73.2L98.0 67.0L97.0 63.8L97.0 62.2L98.2 58.5L99.5 49.8L100.8 47.2L104.0 45.0L104.0 43.8L101.0 36.8L97.0 34.5L90.2 32.2L84.0 28.5L85.5 26.8L89.2 25.2L89.2 24.2L87.5 22.5L88.5 20.8L88.2 16.8L85.0 14.2L76.8 11.5L75.2 11.5L72.8 12.8L66.2 13.8L60.5 15.2L45.2 23.0L44.2 23.0L44.0 22.2L45.0 20.8L47.2 18.5L50.0 17.0L50.8 15.5L50.8 14.5L49.5 12.8L51.0 10.2L53.2 8.5L55.0 6.2L54.5 3.0L53.2 1.5L52.2 0.8L48.0 0.5L44.8 1.5L39.5 5.0L34.0 10.0L32.0 11.2L28.2 12.5L24.8 14.2L17.5 21.5L15.2 21.8L12.8 20.5L10.2 20.0L8.5 20.0ZM47.5 85.5L48.2 84.8L49.2 85.0L48.8 86.0L48.0 86.0Z" fill="#e8f6e2" fill-rule="evenodd"/><path d="M6.8 21.2L5.5 24.2L5.5 25.8L6.5 28.5L9.5 30.5L12.5 30.8L17.0 31.8L19.8 33.2L20.5 36.0L20.0 37.8L20.0 39.5L21.5 41.5L25.2 42.5L26.8 42.5L30.5 41.0L35.5 36.8L38.5 37.0L40.0 36.5L42.0 36.5L48.0 38.5L55.0 39.2L57.5 40.5L58.2 42.0L57.8 43.2L57.0 43.8L53.2 44.8L49.5 44.8L46.8 45.8L44.0 47.2L43.0 47.2L41.0 46.5L39.2 46.8L37.2 48.2L33.0 52.5L31.8 55.2L29.8 58.0L26.0 61.8L22.8 64.2L22.0 66.2L22.0 67.5L24.5 70.0L27.2 72.0L33.0 74.8L35.5 77.2L38.2 82.8L38.8 84.5L41.2 89.0L44.0 92.5L45.8 93.5L48.2 96.2L49.0 98.2L48.5 100.2L47.2 100.5L38.2 97.0L36.2 97.0L31.8 97.8L31.8 99.0L32.2 100.0L37.2 100.0L40.5 101.8L43.5 102.8L48.0 105.2L47.8 107.0L48.8 109.2L47.5 111.2L42.5 114.0L34.2 115.5L34.2 116.8L34.8 118.0L40.8 118.2L44.0 118.8L49.5 121.2L50.2 122.5L50.5 123.5L47.5 129.0L47.5 130.2L48.0 131.5L47.5 134.2L43.2 139.8L43.2 141.2L43.8 143.0L106.0 143.0L106.0 74.2L104.2 73.2L101.2 70.2L101.2 73.8L100.8 74.2L95.2 74.5L94.8 73.8L95.0 71.2L96.2 70.0L96.0 68.8L94.2 67.2L93.5 65.0L93.5 61.2L94.0 60.2L94.0 57.2L93.5 54.8L93.5 49.8L93.8 49.5L93.8 47.0L94.8 44.5L94.2 43.5L89.5 38.2L89.5 37.5L90.0 37.0L92.0 36.2L93.0 36.2L96.5 38.0L98.0 39.5L101.0 46.8L101.5 46.8L103.8 45.2L104.0 43.8L101.0 36.8L97.0 34.5L90.2 32.2L84.0 28.5L85.5 26.8L89.2 25.2L89.2 24.2L87.5 22.5L88.5 20.8L88.2 16.8L85.0 14.2L76.8 11.5L75.2 11.5L72.8 12.8L66.2 13.8L60.5 15.2L45.2 23.0L44.2 23.0L44.0 22.2L45.0 20.8L47.2 18.5L50.0 17.0L50.8 15.5L50.8 14.5L49.5 12.8L51.0 10.2L53.2 8.5L55.0 6.2L54.5 3.0L53.2 1.5L52.2 0.8L48.0 0.5L44.8 1.5L39.5 5.0L34.0 10.0L32.0 11.2L28.2 12.5L24.8 14.2L17.5 21.5L15.2 21.8L12.8 20.5L10.2 20.0L8.5 20.0ZM78.2 96.8L78.8 96.2L81.8 96.2L84.8 97.0L88.0 97.2L89.0 99.0L89.2 105.5L88.8 106.0L86.8 105.8L82.0 106.0L79.5 105.2L78.8 104.2L79.0 101.8L78.2 99.5L78.0 97.8ZM53.0 80.0L53.2 85.5L52.5 86.5L50.0 87.0L45.0 87.0L44.2 86.2L43.5 84.2L43.5 82.8L44.2 82.0L47.5 80.2L51.5 79.0ZM31.2 60.5L31.8 60.5L32.8 62.0L32.8 63.2L31.8 65.0L31.2 62.8L29.8 61.5Z" fill="#daf0d4" fill-rule="evenodd"/><path d="M6.8 21.2L5.5 24.2L5.5 25.8L6.5 28.5L9.5 30.5L12.5 30.8L17.0 31.8L19.8 33.2L20.5 36.0L20.0 37.8L20.0 39.5L21.5 41.5L25.2 42.5L26.8 42.5L30.5 41.0L35.5 36.8L38.5 37.0L40.0 36.5L42.0 36.5L48.0 38.5L55.0 39.2L57.5 40.5L58.2 42.0L57.8 43.2L57.0 43.8L53.2 44.8L49.5 44.8L46.8 45.8L44.0 47.2L43.0 47.2L41.0 46.5L39.2 46.8L37.2 48.2L33.0 52.5L31.8 55.2L29.8 58.0L26.0 61.8L22.8 64.2L22.0 66.2L22.0 67.5L24.5 70.0L27.2 72.0L33.0 74.8L35.5 77.2L38.2 82.8L38.8 84.5L41.2 89.0L44.0 92.5L45.8 93.5L48.2 96.2L49.0 98.2L48.5 100.2L47.2 100.5L38.2 97.0L36.2 97.0L31.8 97.8L31.8 99.0L32.2 100.0L37.2 100.0L40.5 101.8L43.5 102.8L48.0 105.2L47.8 107.0L48.8 109.2L47.5 111.2L42.5 114.0L34.2 115.5L34.2 116.8L34.8 118.0L40.8 118.2L44.0 118.8L49.5 121.2L50.2 122.5L50.5 123.5L47.5 129.0L47.5 130.2L48.0 131.5L47.5 134.2L43.2 139.8L43.2 141.2L43.8 143.0L106.0 143.0L106.0 131.8L105.0 131.0L106.0 130.0L106.0 122.2L105.2 122.2L104.5 121.8L105.2 120.8L106.0 120.5L106.0 74.2L104.2 73.2L101.8 70.8L102.0 71.0L102.0 73.8L101.0 75.0L94.8 75.2L94.0 74.5L93.8 68.8L92.5 63.5L92.8 49.2L93.0 49.0L93.0 46.5L93.8 45.2L93.8 44.0L88.2 37.5L89.0 36.5L91.8 35.8L93.2 35.8L96.8 37.5L98.5 39.2L102.0 46.2L104.0 45.0L104.0 43.8L101.0 36.8L97.0 34.5L90.2 32.2L84.0 28.5L85.5 26.8L89.2 25.2L89.2 24.2L87.5 22.5L88.5 20.8L88.2 16.8L85.0 14.2L76.8 11.5L75.2 11.5L72.8 12.8L66.2 13.8L60.5 15.2L45.2 23.0L44.2 23.0L44.0 22.2L45.0 20.8L47.2 18.5L50.0 17.0L50.8 15.5L50.8 14.5L49.5 12.8L51.0 10.2L53.2 8.5L55.0 6.2L54.5 3.0L53.2 1.5L52.2 0.8L48.0 0.5L44.8 1.5L39.5 5.0L34.0 10.0L32.0 11.2L28.2 12.5L24.8 14.2L17.5 21.5L15.2 21.8L12.8 20.5L10.2 20.0L8.5 20.0ZM101.0 133.8L102.0 134.8L102.0 135.5L100.5 137.5L99.0 137.8L98.8 136.8L99.2 135.2L100.5 133.8ZM90.2 129.5L91.0 130.0L91.5 131.0L91.8 135.2L93.0 137.0L93.0 138.5L92.2 139.0L91.0 138.0L90.2 136.2L88.2 134.5L87.5 132.8L87.8 131.5L89.2 130.0ZM94.2 125.2L95.8 125.2L97.5 127.2L97.5 129.0L96.5 130.5L95.8 130.5L92.0 128.2L92.2 127.0ZM77.2 92.0L82.0 92.2L84.5 94.0L87.8 95.2L90.2 97.8L92.0 100.8L91.5 106.8L89.5 109.0L86.2 111.5L84.8 114.2L83.5 115.5L82.5 115.5L78.8 114.0L77.8 112.8L76.5 112.2L74.8 110.5L74.2 109.0L74.2 107.8L75.2 106.8L76.8 106.5L77.2 106.0L76.2 103.8L75.8 103.5L74.0 103.8L72.5 102.2L72.2 100.8L72.8 99.0L72.8 95.5L74.8 93.5ZM52.5 78.8L53.8 80.2L54.0 84.8L53.5 86.5L52.2 87.2L48.5 87.2L45.0 87.8L43.8 86.2L42.8 83.5L42.8 82.5L43.8 81.5L47.2 79.8L50.8 78.8ZM32.2 59.5L33.0 60.2L33.5 61.5L33.5 63.5L32.0 67.2L31.0 68.2L27.5 69.0L25.2 67.0L25.5 65.2L28.8 60.5L30.5 59.8Z" fill="#ccebc5" fill-rule="evenodd"/><path d="M48.0 0.5L44.8 1.5L39.5 5.0L34.0 10.0L32.0 11.2L28.2 12.5L24.8 14.2L17.5 21.5L15.2 21.8L12.8 20.5L8.5 20.0L6.5 21.5L5.5 24.2L5.5 25.8L6.5 28.5L9.0 30.2L17.0 31.8L19.8 33.2L20.5 36.0L20.0 37.8L20.0 39.5L21.0 41.0L22.2 41.8L25.2 42.5L26.8 42.5L30.5 41.0L35.5 36.8L38.5 37.0L40.0 36.5L42.0 36.5L49.2 38.8L55.0 39.2L57.8 40.8L58.2 42.0L57.8 43.2L55.5 44.2L53.2 44.8L49.5 44.8L46.8 45.8L44.0 47.2L43.0 47.2L41.0 46.5L39.2 46.8L37.2 48.2L33.0 52.5L31.8 55.2L29.8 58.0L26.0 61.8L22.8 64.2L22.0 66.2L22.0 67.5L26.5 71.5L33.0 74.8L35.5 77.2L38.2 82.8L38.8 84.5L41.2 89.0L44.0 92.5L45.8 93.5L48.2 96.2L49.0 98.2L48.5 100.2L47.2 100.5L38.2 97.0L36.2 97.0L31.8 97.8L31.8 99.0L32.2 100.0L37.2 100.0L40.5 101.8L43.5 102.8L48.0 105.2L47.8 107.0L48.8 109.2L47.5 111.2L42.5 114.0L34.2 115.5L34.2 116.8L34.8 118.0L40.8 118.2L44.0 118.8L49.5 121.2L50.2 122.5L50.5 123.5L47.5 129.0L47.5 130.2L48.0 131.5L47.5 134.2L43.2 139.8L43.2 141.2L43.8 143.0L68.0 143.0L68.2 140.5L70.0 139.2L71.2 139.2L72.0 140.0L72.8 143.0L75.0 143.0L76.2 141.0L79.5 132.8L82.2 129.5L83.8 128.5L86.2 128.5L89.2 127.2L95.8 122.0L97.5 121.2L100.5 121.0L102.8 119.8L104.5 117.2L106.0 117.0L106.0 115.5L104.8 114.5L105.0 113.5L106.0 112.8L106.0 74.2L104.2 73.2L102.2 71.2L102.2 74.5L101.5 75.2L94.8 76.0L94.0 75.8L92.8 74.2L93.0 68.8L91.8 64.2L91.5 62.0L92.0 59.0L91.8 52.2L92.2 49.2L92.2 46.2L93.0 45.0L93.0 44.0L88.8 39.2L87.5 37.2L88.2 36.2L92.5 35.2L93.8 35.5L96.8 37.0L98.8 39.0L100.8 42.2L101.2 44.2L102.2 46.2L104.0 45.0L104.0 43.8L101.0 36.8L97.0 34.5L90.2 32.2L84.0 28.5L85.5 26.8L89.2 25.2L89.2 24.2L87.5 22.5L88.5 20.8L88.2 16.8L85.0 14.2L76.8 11.5L75.2 11.5L72.8 12.8L66.2 13.8L60.5 15.2L45.2 23.0L44.2 23.0L44.0 22.2L45.0 20.8L47.2 18.5L50.0 17.0L50.8 15.5L50.8 14.5L49.5 12.8L51.0 10.2L53.2 8.5L55.0 6.2L54.5 3.0L53.2 1.5L52.2 0.8ZM68.8 132.0L69.5 132.8L69.0 133.8L68.2 133.2ZM74.5 121.2L77.5 119.8L78.8 120.2L80.2 120.0L82.2 120.2L83.0 121.0L83.0 122.5L83.5 123.5L85.2 125.0L85.5 126.0L83.5 128.0L79.8 127.2L79.0 126.8L78.5 125.8L78.8 122.5L78.2 121.8L77.2 121.5L75.2 122.2L74.5 121.8ZM92.0 119.2L92.5 118.5L93.0 118.5L93.8 119.0L94.0 119.8L93.0 120.2ZM77.0 91.0L83.0 91.2L85.0 92.8L87.8 93.8L88.8 94.5L90.8 97.0L93.2 101.5L93.0 105.0L93.8 106.2L89.5 110.5L88.0 111.2L87.0 112.2L85.5 115.0L83.8 116.5L78.5 115.5L76.5 113.2L75.0 112.2L73.8 109.8L73.0 105.0L71.8 102.2L72.0 95.2L74.2 92.5ZM52.8 78.5L54.0 79.8L54.5 81.0L54.5 84.2L54.0 86.5L52.8 87.5L46.0 87.8L44.8 88.2L44.0 87.5L42.8 84.5L42.5 82.2L44.0 81.0L47.0 79.5L51.5 78.2ZM32.0 59.0L33.2 60.0L34.0 62.0L34.0 63.0L33.0 66.2L31.5 68.5L28.8 69.5L27.2 69.5L24.5 67.0L24.5 66.2L26.5 62.8L28.5 60.2ZM72.5 14.2L72.5 16.0L71.5 16.5L64.2 17.2L59.8 19.2L58.5 18.5L59.8 17.2L63.5 15.8L65.8 15.5L70.8 14.0Z" fill="#b4e2ba" fill-rule="evenodd"/><path d="M48.0 0.5L44.8 1.5L39.5 5.0L34.0 10.0L32.0 11.2L28.2 12.5L24.8 14.2L17.5 21.5L15.2 21.8L12.8 20.5L8.5 20.0L6.5 21.5L5.5 24.2L5.5 25.8L6.5 28.5L9.0 30.2L17.0 31.8L19.8 33.2L20.5 36.0L20.0 37.8L20.0 39.5L21.0 41.0L22.2 41.8L25.2 42.5L26.8 42.5L30.5 41.0L35.5 36.8L38.5 37.0L40.0 36.5L42.0 36.5L49.2 38.8L55.0 39.2L57.5 40.5L58.0 41.2L58.2 42.2L57.8 43.2L55.5 44.2L53.2 44.8L49.5 44.8L46.8 45.8L44.0 47.2L43.0 47.2L41.0 46.5L39.2 46.8L37.2 48.2L33.0 52.5L31.8 55.2L29.8 58.0L26.0 61.8L22.8 64.2L22.0 66.2L22.0 67.5L26.5 71.5L33.0 74.8L35.5 77.2L38.2 82.8L38.8 84.5L41.2 89.0L44.0 92.5L45.8 93.5L48.2 96.2L49.0 98.2L48.5 100.2L47.2 100.5L38.2 97.0L36.2 97.0L31.8 97.8L31.8 99.0L32.2 100.0L37.2 100.0L40.5 101.8L43.5 102.8L48.0 105.2L47.8 107.0L48.8 109.2L47.5 111.2L42.5 114.0L34.2 115.5L34.2 116.8L34.8 118.0L40.8 118.2L44.0 118.8L49.5 121.2L50.2 122.5L50.5 123.5L47.5 129.0L47.5 130.2L48.0 131.5L47.5 134.2L43.2 139.8L43.2 141.2L43.8 143.0L60.8 143.0L60.8 142.0L61.5 140.2L64.2 137.5L65.0 135.2L66.2 133.0L66.8 131.0L67.8 129.8L69.0 129.0L69.8 127.8L70.8 124.8L71.0 121.2L72.0 118.5L74.0 117.2L74.5 116.5L74.5 115.5L73.2 113.5L73.2 109.8L72.8 108.5L72.8 107.0L71.0 101.5L71.2 95.2L72.2 93.5L72.0 91.2L72.8 90.2L78.0 89.2L81.2 89.5L84.0 88.5L89.5 88.8L90.5 89.5L91.0 90.8L91.0 95.0L92.0 98.2L93.0 100.0L94.2 101.2L98.2 102.2L100.5 101.8L106.0 101.8L106.0 74.2L104.2 73.2L102.8 71.8L102.5 74.8L101.2 75.8L99.0 75.8L96.8 76.5L93.5 76.5L90.8 76.0L89.8 75.0L89.5 74.0L89.8 71.0L89.2 67.8L87.0 61.2L87.2 59.0L88.0 57.5L88.0 50.8L87.8 50.5L88.0 46.8L88.8 45.8L91.2 45.2L92.2 44.2L89.0 41.0L88.0 39.0L87.2 38.2L86.8 36.8L88.2 35.8L89.8 35.8L92.0 35.0L94.0 35.2L97.2 37.0L99.0 38.8L100.8 41.5L102.5 45.8L104.0 45.0L104.0 43.8L101.0 36.8L97.0 34.5L90.2 32.2L84.0 28.5L85.5 26.8L89.2 25.2L89.2 24.2L87.5 22.5L88.5 20.8L88.2 16.8L85.0 14.2L76.8 11.5L75.2 11.5L72.8 12.8L66.2 13.8L60.5 15.2L45.2 23.0L44.2 23.0L44.0 22.2L45.0 20.8L47.2 18.5L50.0 17.0L50.8 15.5L50.8 14.5L49.5 12.8L51.0 10.2L53.2 8.5L55.0 6.2L54.5 3.0L53.2 1.5L52.2 0.8ZM53.2 78.5L55.0 80.8L55.0 84.5L54.2 86.8L52.8 87.8L46.2 88.0L44.8 88.8L44.0 88.0L42.0 83.0L42.2 82.0L43.5 81.0L49.2 78.5L51.2 78.0L52.2 78.0ZM32.5 58.8L33.2 59.5L34.2 62.0L34.2 63.0L33.0 67.0L31.8 68.8L30.0 69.5L27.5 70.0L24.8 68.0L24.0 66.5L26.2 62.5L28.2 60.0L29.8 59.2ZM88.2 42.2L88.5 43.5L87.8 44.8L87.0 44.8L86.5 44.2L86.5 43.5L87.5 42.2ZM73.0 13.5L73.0 16.5L72.2 17.2L70.2 17.2L68.2 18.0L64.5 18.5L60.5 20.0L58.8 20.0L57.0 18.8L57.0 18.0L57.5 17.5L64.2 14.8L67.0 14.5L71.5 13.2Z" fill="#99d7ba" fill-rule="evenodd"/><path d="M48.5 143.0L50.0 143.0L49.8 142.2L49.0 142.2ZM52.5 140.8L53.0 143.0L56.0 143.0L55.8 140.8L55.2 140.0L53.5 140.0ZM58.8 130.0L58.5 130.5L59.2 130.8L59.5 130.0ZM63.8 127.5L62.8 128.2L62.5 129.0L63.0 129.5L63.8 129.5L64.2 129.0L64.2 128.0ZM52.2 128.5L52.5 129.2L53.2 129.8L55.8 129.8L56.0 129.5L55.8 128.5L54.2 127.5L53.2 127.5ZM48.5 127.2L47.5 129.0L47.5 130.2L48.0 131.5L47.5 134.2L43.2 139.8L43.2 141.2L43.8 143.0L46.0 143.0L46.2 138.8L47.0 137.0L48.0 136.0L48.0 132.8L48.2 132.5L48.0 128.5ZM59.5 119.0L58.8 119.8L58.8 120.2L59.5 121.0L60.2 121.0L61.0 120.2L60.8 119.0ZM48.0 0.5L44.8 1.5L39.5 5.0L34.0 10.0L32.0 11.2L28.2 12.5L24.8 14.2L17.5 21.5L15.2 21.8L12.8 20.5L8.5 20.0L6.5 21.5L5.5 24.2L5.5 25.8L6.5 28.5L9.0 30.2L17.0 31.8L19.8 33.2L20.5 36.0L20.0 37.8L20.0 39.5L21.0 41.0L22.2 41.8L25.2 42.5L26.8 42.5L30.5 41.0L35.5 36.8L38.5 37.0L40.0 36.5L42.0 36.5L49.2 38.8L55.0 39.2L57.5 40.5L58.0 41.2L58.2 42.2L57.8 43.2L55.5 44.2L53.2 44.8L49.5 44.8L46.8 45.8L44.0 47.2L43.0 47.2L41.0 46.5L39.2 46.8L37.2 48.2L33.0 52.5L31.8 55.2L29.8 58.0L26.0 61.8L22.8 64.2L22.0 66.2L22.0 67.5L24.5 70.0L27.2 72.0L33.0 74.8L35.5 77.2L38.2 82.8L38.8 84.5L41.2 89.0L44.0 92.5L45.8 93.5L48.2 96.2L49.0 98.2L48.5 100.2L47.2 100.5L38.2 97.0L36.2 97.0L31.8 97.8L31.8 99.0L32.2 100.0L37.2 100.0L47.5 104.8L48.0 105.2L47.8 107.0L48.8 109.0L47.5 111.2L42.5 114.0L34.2 115.5L34.8 118.0L40.8 118.2L44.0 118.8L49.5 121.2L50.0 122.2L51.0 120.5L51.0 119.0L50.5 118.0L51.0 116.2L51.0 114.8L50.2 112.8L49.2 111.8L49.0 111.0L49.2 108.5L50.0 107.5L50.5 107.5L54.0 110.5L57.8 112.2L58.8 112.2L61.8 111.0L64.2 110.5L66.0 109.2L67.2 107.8L67.5 106.0L66.2 103.0L66.0 101.5L66.2 100.2L65.8 99.2L65.8 97.5L62.2 90.2L63.0 88.8L65.5 88.5L65.2 86.5L64.5 85.0L64.5 82.2L65.2 81.2L67.2 81.5L69.0 83.5L69.8 86.2L68.5 88.5L69.0 89.0L70.8 89.0L75.0 88.0L79.0 87.8L80.0 87.0L80.0 86.0L80.5 85.2L83.5 85.0L86.5 87.0L90.2 87.5L91.5 88.8L92.2 91.8L92.2 94.0L93.5 97.0L93.5 98.0L95.5 100.0L97.2 100.8L106.0 100.5L106.0 94.0L105.0 94.2L104.8 95.8L104.0 96.5L103.2 96.5L102.2 95.8L101.0 92.0L101.0 91.2L101.5 90.8L102.2 90.8L104.0 91.8L106.0 91.8L106.0 74.2L104.2 73.2L103.0 72.0L103.0 75.0L102.0 76.0L99.0 76.2L97.5 77.0L96.0 77.2L90.2 77.2L88.2 75.5L87.8 74.2L88.0 71.2L87.5 67.5L85.5 61.5L85.5 59.8L86.8 56.2L86.8 53.2L87.0 53.0L86.8 49.0L86.0 47.2L84.8 46.0L83.5 44.0L80.2 37.0L77.0 32.5L76.8 31.8L77.0 31.0L77.8 30.5L80.2 30.2L82.5 29.2L84.0 29.5L84.8 30.2L86.2 33.5L87.8 35.2L90.2 35.2L92.8 34.5L98.0 37.0L100.8 40.8L103.0 45.8L104.0 45.0L104.0 43.8L101.0 36.8L97.0 34.5L90.2 32.2L84.0 28.5L85.5 26.8L89.2 25.2L89.2 24.2L87.5 22.5L88.5 20.8L88.2 16.8L85.0 14.2L76.8 11.5L75.2 11.5L72.8 12.8L72.0 12.8L74.5 13.0L73.2 14.2L73.5 17.0L74.0 17.5L75.5 17.8L80.8 17.8L81.8 19.2L82.0 20.8L83.0 21.8L83.0 22.2L81.5 23.0L78.2 22.8L75.5 20.8L73.0 20.5L72.0 20.0L70.8 18.8L64.5 19.5L60.5 20.8L59.0 20.8L56.8 19.8L56.0 19.0L56.0 18.2L57.0 17.2L59.5 16.0L64.2 14.2L67.0 14.0L71.5 13.0L70.5 13.0L60.5 15.2L45.2 23.0L44.2 23.0L44.0 22.2L45.0 20.8L47.2 18.5L50.0 17.0L50.8 15.5L50.8 14.5L49.5 12.8L51.0 10.2L53.2 8.5L55.0 6.2L54.5 3.0L53.2 1.5L52.2 0.8ZM91.2 81.2L92.5 81.2L93.5 82.5L93.5 85.5L93.2 85.8L90.8 82.8L90.8 81.8ZM86.8 78.8L87.5 79.8L87.2 81.2L85.5 82.8L83.8 83.5L82.8 83.5L82.0 82.8L82.2 81.8L85.2 78.8L86.0 78.5ZM59.2 84.5L59.0 85.0L55.8 85.5L54.0 87.5L52.8 88.0L46.2 88.2L44.8 89.2L44.0 88.8L41.8 83.5L41.8 82.5L42.8 81.2L46.8 79.0L50.8 77.8L52.5 77.8L57.0 82.0L57.5 83.2ZM79.8 66.0L80.8 67.0L80.0 68.5L79.2 68.0L79.2 66.5ZM32.8 58.5L33.8 59.8L34.5 62.2L33.2 67.2L32.8 68.2L31.0 69.5L28.8 70.2L27.0 70.2L23.8 67.2L23.8 66.2L25.5 63.0L28.2 59.5L31.2 58.5Z" fill="#7accc4" fill-rule="evenodd"/><path d="M45.8 136.5L43.2 139.8L43.2 141.2L43.8 143.0L44.2 142.5L45.0 138.2ZM50.5 115.0L49.8 113.0L48.8 112.5L47.8 111.5L47.8 111.0L42.5 114.0L34.2 115.5L34.2 116.8L34.8 118.0L40.8 118.2L44.0 118.8L49.2 121.0L49.0 117.8L50.2 116.2ZM103.5 72.5L103.8 75.5L103.0 76.5L99.5 77.0L96.8 78.2L93.0 78.5L95.0 79.8L95.5 81.5L95.8 84.8L97.2 86.0L98.8 86.5L106.0 86.0L106.0 77.5L105.5 77.0L106.0 76.8L106.0 74.2ZM86.2 30.0L86.8 31.8L87.8 33.8L88.5 34.5L89.8 34.8L91.8 34.0L93.5 34.0L98.5 36.5L99.8 37.8L101.0 40.0L102.5 43.8L103.5 45.2L104.0 45.0L104.0 43.8L101.0 36.8L97.0 34.5L90.2 32.2ZM48.0 0.5L44.8 1.5L39.5 5.0L34.0 10.0L32.0 11.2L28.2 12.5L24.8 14.2L17.5 21.5L15.2 21.8L12.8 20.5L8.5 20.0L6.5 21.5L5.5 24.2L5.5 25.8L6.5 28.5L9.0 30.2L17.0 31.8L19.8 33.2L20.5 36.0L20.0 37.8L20.0 39.5L21.0 41.0L22.2 41.8L25.2 42.5L26.8 42.5L30.5 41.0L35.5 36.8L38.5 37.0L40.0 36.5L42.0 36.5L49.2 38.8L55.0 39.2L57.8 40.8L58.2 42.0L57.8 43.2L55.5 44.2L53.2 44.8L49.5 44.8L46.8 45.8L44.0 47.2L39.8 46.5L37.2 48.2L33.0 52.5L31.8 55.2L29.0 58.8L31.0 58.0L32.8 58.0L33.8 59.0L34.8 63.0L33.5 67.8L32.5 69.2L28.8 70.8L27.0 70.8L23.5 67.8L23.2 66.2L25.8 61.8L22.8 64.2L22.0 66.2L22.0 67.5L26.5 71.5L33.0 74.8L35.5 77.2L38.2 82.8L38.8 84.5L41.2 89.0L44.0 92.5L45.8 93.5L48.2 96.2L49.0 98.2L48.5 100.2L47.2 100.5L38.2 97.0L36.2 97.0L34.5 97.8L34.0 97.5L31.8 97.8L31.8 99.0L32.2 100.0L37.2 100.0L47.5 104.8L48.0 105.2L47.8 106.8L48.0 106.2L47.8 101.8L48.2 100.5L49.0 100.0L50.2 101.8L51.0 105.0L53.2 109.2L54.8 110.2L57.5 111.2L59.5 111.2L63.8 109.8L65.5 108.5L66.5 107.2L66.5 105.5L64.5 99.5L64.8 96.8L61.8 90.8L61.0 88.0L59.5 87.2L55.0 87.2L52.8 88.2L46.5 88.5L45.2 89.8L44.5 89.8L43.5 88.8L42.2 86.2L41.2 83.5L41.5 82.2L44.2 80.0L50.2 77.2L52.5 77.2L55.5 79.8L58.5 81.0L62.0 80.8L63.2 79.5L65.2 79.0L70.0 80.2L72.8 78.8L74.5 79.2L75.5 79.2L76.2 78.8L76.2 77.0L75.5 75.5L75.5 74.2L76.0 73.2L76.0 71.5L76.8 69.5L76.8 67.0L76.0 64.8L76.5 57.0L78.0 53.8L79.8 51.8L82.5 50.5L85.5 51.0L85.8 49.8L85.5 49.0L83.2 46.8L80.5 40.2L75.5 32.8L75.5 31.0L76.8 30.0L79.2 29.8L82.0 28.8L84.0 28.5L85.5 26.8L89.2 25.2L89.2 24.2L87.5 22.5L88.5 20.8L88.2 16.8L85.0 14.2L76.8 11.5L74.8 11.8L75.8 12.5L75.8 13.0L73.8 14.0L73.5 14.5L73.8 16.5L74.2 17.0L76.0 17.2L79.2 17.2L80.2 16.8L81.2 16.8L82.0 18.0L82.5 20.5L84.2 21.8L84.2 22.5L83.5 23.2L78.5 23.5L75.2 21.8L72.0 21.5L69.5 20.2L67.2 20.2L60.8 21.5L58.8 21.5L56.5 20.5L54.5 20.2L54.0 19.2L55.2 18.0L45.2 23.0L44.2 23.0L44.0 22.2L45.0 20.8L47.2 18.5L50.0 17.0L50.8 15.5L50.8 14.5L49.5 12.8L51.0 10.2L53.2 8.5L55.0 6.2L54.5 3.0L53.2 1.5L52.2 0.8ZM73.2 70.2L73.8 71.2L71.0 74.0L70.0 74.0L69.5 73.5L69.5 72.5L71.0 71.0L72.2 70.2ZM51.2 20.2L52.8 20.2L53.5 21.0L53.2 23.8L52.5 24.8L49.0 22.8L49.0 22.0ZM44.8 11.8L46.2 11.8L46.8 12.2L46.8 14.2L45.5 15.2L44.5 15.2L43.8 13.8L43.8 12.5Z" fill="#5dbbce" fill-rule="evenodd"/><path d="M45.8 112.5L44.0 113.2L40.5 116.2L40.5 117.2L41.8 118.5L44.0 118.8L47.0 120.0L47.2 119.8L46.5 119.0L46.5 118.5L50.0 116.0L50.0 114.5L49.0 113.0ZM46.5 89.0L44.5 91.0L45.0 93.2L45.8 93.5L48.2 96.2L49.0 98.8L50.8 101.8L51.2 104.2L53.0 108.2L54.2 109.5L57.8 110.8L59.0 110.8L64.0 108.8L66.0 107.0L66.0 105.8L63.5 98.5L64.0 97.5L64.0 96.2L61.2 91.0L60.8 89.0L60.0 88.2L56.2 87.8L51.5 88.8ZM78.8 50.0L75.8 49.5L73.0 49.5L70.8 50.8L68.2 51.5L66.0 53.0L63.8 53.5L60.2 53.5L58.0 54.2L57.2 55.2L57.2 56.5L57.8 57.8L57.5 62.8L59.0 65.8L59.8 69.5L62.2 73.5L63.8 73.8L66.8 73.0L70.5 70.0L73.0 67.2L73.8 65.8L73.8 63.0L73.2 61.8L73.2 59.8L79.2 50.8ZM82.8 16.8L82.2 17.2L82.8 20.2L84.8 21.2L86.2 21.0L87.0 19.8L86.8 17.2L86.2 16.8ZM73.8 14.5L73.8 16.0L74.8 16.8L79.0 17.0L80.2 15.8L80.2 14.8L79.5 13.8L77.2 13.0L75.8 13.8L74.2 14.0ZM48.5 0.5L47.0 1.5L43.5 2.8L42.0 4.0L40.0 5.0L36.5 8.5L34.5 10.0L31.0 11.8L28.2 12.5L25.5 13.8L23.5 15.2L17.5 21.5L15.2 21.8L12.8 20.5L8.5 20.0L6.5 21.5L5.8 23.5L5.8 24.8L6.5 26.2L7.8 27.5L13.0 30.0L15.0 30.5L16.2 31.8L17.0 31.8L19.8 33.2L20.5 36.0L20.0 37.8L20.2 39.0L22.5 41.2L25.2 42.2L26.8 42.5L29.2 41.5L32.8 39.2L35.5 36.8L37.2 37.0L40.0 36.5L46.2 37.0L49.0 37.8L52.8 37.8L55.5 36.5L57.5 36.5L58.2 37.0L58.5 38.0L61.2 40.5L61.5 43.8L61.0 45.2L60.0 46.2L59.0 46.2L55.0 45.0L51.8 46.2L45.2 47.8L43.8 49.0L40.0 50.8L38.2 52.0L34.0 56.2L33.5 57.5L35.0 62.2L34.5 65.8L34.0 67.0L34.0 70.5L37.2 79.0L39.0 82.0L40.0 82.8L40.8 82.8L43.0 80.5L45.8 78.8L51.5 75.8L52.0 75.8L55.0 78.8L56.5 79.5L58.2 80.0L61.0 79.8L61.0 79.0L58.2 77.0L54.5 73.0L54.5 72.2L55.2 71.0L56.0 68.5L56.2 64.8L55.5 63.5L53.5 61.5L53.0 60.5L53.0 58.8L53.8 56.0L56.0 53.8L59.8 51.0L61.8 51.2L64.2 49.0L66.5 44.2L66.5 43.2L64.5 38.2L62.0 36.5L60.0 34.5L58.0 31.5L60.0 30.5L64.0 31.0L66.8 30.0L68.8 30.0L71.0 30.5L77.0 29.2L79.0 29.2L81.8 28.2L84.5 27.8L85.8 26.8L86.5 25.5L86.5 24.8L85.2 23.8L78.8 24.2L76.0 23.0L74.0 23.0L69.2 23.8L61.8 23.8L59.8 24.5L56.8 24.8L53.5 26.5L51.0 26.8L49.8 27.5L47.0 26.8L45.5 25.0L45.2 24.2L45.5 22.8L44.2 23.0L44.0 22.2L45.0 20.8L47.2 18.5L50.0 17.0L50.8 15.5L50.8 14.5L49.5 12.8L51.0 10.2L54.8 6.8L55.0 6.0L54.2 2.5L52.2 0.8ZM46.8 11.2L47.5 12.5L47.2 14.8L46.0 15.8L44.0 16.0L43.2 14.8L43.0 13.0L43.2 12.0L45.5 11.0Z" fill="#42a6cc" fill-rule="evenodd"/><path d="M49.5 114.0L48.5 113.2L45.0 113.5L41.8 115.8L41.2 117.0L42.5 118.5L44.2 119.0L46.5 117.2L49.2 116.2L49.8 115.5ZM47.0 89.2L46.0 90.8L46.2 94.0L48.2 96.2L48.8 97.8L49.8 98.8L50.8 100.8L52.2 105.8L53.8 108.8L56.8 110.0L59.0 110.0L60.5 109.2L61.5 108.2L65.0 107.0L65.2 105.2L64.2 102.0L61.0 96.0L58.8 93.0L59.0 92.0L60.5 92.5L61.2 93.2L62.0 95.8L62.8 96.2L62.2 94.5L60.8 92.8L60.2 90.0L59.2 88.8L54.2 88.5L52.8 89.0ZM61.5 66.2L60.8 67.8L61.2 69.8L62.8 71.2L64.2 71.0L64.8 69.8L64.5 67.2L63.2 66.2ZM63.0 62.0L62.0 62.0L61.2 62.8L61.5 64.8L62.0 64.8L63.2 63.5ZM69.5 59.8L68.0 61.0L67.5 62.2L67.5 64.0L68.2 66.5L68.2 68.0L65.2 71.0L65.5 71.8L67.2 71.2L71.0 67.8L71.8 66.5L71.8 66.0L70.5 64.5L70.2 61.0ZM74.0 50.5L73.2 51.0L73.2 51.8L75.0 55.0L76.0 54.0L77.5 51.8L77.5 51.2L76.5 50.8ZM61.5 25.2L60.8 25.8L60.8 27.0L61.2 28.0L62.0 28.8L62.5 28.8L63.5 25.5ZM70.8 25.2L71.0 26.0L72.0 26.0L73.8 25.2L75.5 26.2L75.8 26.0L75.8 25.2L75.2 24.8L74.5 25.0L71.5 24.8ZM83.0 17.2L82.8 17.5L83.0 20.0L84.8 20.8L86.0 20.5L86.5 19.5L86.2 17.5L85.0 17.0ZM74.0 14.5L74.0 15.8L74.8 16.5L78.8 16.8L79.8 15.8L79.8 14.8L79.0 14.0L76.2 13.8ZM50.5 0.5L49.2 0.8L43.2 3.5L39.8 5.8L37.5 8.5L34.5 10.5L31.8 11.8L27.0 13.2L22.0 17.0L17.5 21.5L15.2 21.8L12.8 20.5L8.5 20.0L6.2 22.0L6.0 22.8L6.2 24.8L8.8 27.5L15.2 30.0L16.8 31.8L20.0 33.5L20.5 36.0L20.0 37.8L22.5 40.8L24.2 41.5L27.5 42.0L34.5 37.8L35.5 36.8L36.0 37.0L38.0 36.2L41.2 36.2L41.5 36.0L46.0 36.5L49.0 37.2L51.5 37.2L53.5 36.8L55.5 35.8L58.0 35.5L59.5 36.2L59.5 37.5L62.2 40.0L62.5 45.0L61.0 47.0L59.2 47.2L56.5 46.2L54.2 46.0L51.8 47.0L46.2 48.2L39.5 52.0L34.8 56.8L34.5 59.2L35.2 61.8L35.2 63.8L34.5 66.2L34.8 71.2L38.8 80.8L40.0 82.2L40.8 82.2L44.0 79.5L51.5 74.8L52.5 74.8L54.5 77.2L55.5 78.0L57.2 78.2L57.2 77.8L53.8 73.5L53.8 72.2L54.5 70.8L55.5 67.0L55.5 65.5L52.2 61.2L52.2 58.0L53.2 55.0L54.5 53.8L57.2 51.8L59.8 49.5L60.8 50.0L61.8 50.0L63.2 48.5L64.0 46.2L65.2 44.2L65.2 43.2L63.8 39.0L59.5 35.5L58.8 34.0L57.2 32.2L54.2 30.0L50.5 29.0L46.5 27.2L44.8 25.0L45.0 23.0L44.0 22.8L44.2 21.8L47.2 18.5L49.0 17.5L50.2 14.2L49.5 12.8L51.8 8.8L54.2 6.2L54.2 4.5L53.5 2.0L52.8 1.2ZM47.2 10.8L48.0 11.5L48.0 15.0L46.8 16.2L45.2 16.8L44.5 17.5L44.0 20.8L43.2 21.8L42.5 21.8L41.2 20.2L39.5 19.8L38.2 18.5L37.8 17.0L37.8 14.8L39.0 13.5L40.2 13.0L41.0 13.0L42.2 14.0L42.2 12.2L43.8 11.0L45.5 10.5Z" fill="#2a8bbe" fill-rule="evenodd"/><path d="M49.2 114.5L48.5 113.8L45.5 114.0L43.0 115.5L42.0 116.5L42.0 117.0L43.8 118.5L46.5 116.5L49.0 115.8ZM48.0 91.0L48.0 93.0L48.5 94.0L49.0 96.8L50.5 99.2L52.5 105.5L54.2 108.8L56.5 109.5L58.5 109.5L60.5 108.0L64.5 106.5L64.8 105.0L63.5 101.5L56.5 90.8L56.0 90.5L48.8 90.5ZM56.0 47.0L54.5 46.8L53.0 47.5L50.0 48.2L48.2 49.2L48.0 50.0L49.0 52.2L48.5 53.5L47.5 53.5L46.8 52.5L47.0 49.8L45.0 50.0L40.5 52.2L38.5 54.2L38.0 55.2L38.2 56.0L38.0 56.8L35.8 58.2L35.5 60.0L36.0 61.2L36.0 64.5L34.8 66.5L35.0 70.8L38.0 78.5L39.2 81.0L40.2 82.0L41.0 81.8L47.2 76.8L49.5 75.5L52.5 72.8L53.2 70.2L53.0 70.0L50.2 70.2L49.8 69.5L49.8 68.5L51.0 67.0L51.8 67.0L53.5 68.5L54.2 67.2L54.2 65.8L51.8 62.2L51.0 58.5L50.0 56.2L51.8 55.2L55.5 50.2L56.8 49.2L58.5 48.5ZM83.5 17.5L83.0 18.0L83.2 19.8L84.0 20.2L85.5 20.2L86.0 19.8L86.0 18.0L85.2 17.5ZM74.2 14.8L74.2 15.8L75.0 16.2L78.5 16.5L79.2 16.0L79.2 14.8L78.2 14.2L75.2 14.2ZM53.5 2.8L52.5 1.5L49.8 1.0L45.0 3.0L40.0 6.0L37.5 9.0L34.8 10.8L26.5 14.0L22.5 17.2L21.0 18.0L17.5 21.5L15.2 21.8L12.8 20.5L9.2 20.0L6.5 22.2L6.2 22.8L6.5 24.2L7.0 25.2L9.0 27.2L15.5 29.8L17.8 32.2L19.8 33.2L20.5 36.0L20.2 37.5L22.8 40.5L24.5 41.2L27.8 41.5L34.2 37.2L37.2 36.0L43.2 35.8L49.5 37.0L53.0 36.5L54.2 35.8L54.0 34.8L50.8 33.5L48.5 31.8L46.0 31.2L41.0 28.8L40.2 28.0L40.8 26.8L41.5 26.0L43.5 26.8L44.8 26.8L44.2 23.0L42.5 23.2L40.8 22.2L38.8 20.2L37.2 18.0L37.0 14.5L39.0 12.8L45.2 10.0L48.2 10.5L49.0 11.2L49.5 12.8L50.8 10.5L51.2 8.8L54.0 6.0Z" fill="#1373b2" fill-rule="evenodd"/><path d="M48.5 91.8L48.5 92.8L49.8 97.0L51.2 100.0L53.2 106.5L54.2 108.2L56.0 109.0L57.8 109.2L60.5 107.5L64.2 106.0L64.0 103.5L63.0 101.5L56.2 91.5L55.8 91.2L49.0 91.2ZM47.2 57.5L41.8 57.2L40.8 57.8L38.8 58.0L38.0 58.8L38.5 62.2L39.5 63.2L41.0 64.0L41.2 64.8L40.5 65.2L36.0 65.8L35.5 66.0L35.0 67.0L35.5 71.5L37.8 77.2L39.5 80.8L40.2 81.5L41.2 81.2L44.2 78.5L49.0 75.2L50.0 73.5L48.5 69.5L44.2 66.0L44.5 65.2L47.2 65.5L51.0 64.0L51.2 63.2L50.2 59.5L49.8 58.8ZM83.8 18.2L84.0 19.5L85.0 19.8L85.5 19.2L85.2 18.2ZM74.5 15.0L74.8 15.8L75.8 16.0L78.8 16.0L78.8 15.0L76.0 14.5ZM53.2 3.0L52.5 2.0L51.5 1.5L49.5 1.5L46.0 3.0L40.2 6.2L37.8 9.2L35.0 11.0L26.8 14.2L22.8 17.5L20.2 18.8L17.5 21.5L15.2 21.8L11.8 20.2L9.0 20.5L7.0 22.2L6.8 22.8L7.0 24.5L9.2 27.0L15.8 29.5L18.2 32.5L19.8 33.2L20.2 34.5L20.5 37.2L22.0 39.2L24.0 40.8L27.5 41.2L34.0 37.0L36.0 36.0L38.2 35.5L42.5 35.2L48.5 36.5L52.5 36.2L53.2 35.8L52.8 35.0L51.5 34.8L39.8 28.8L39.5 27.5L40.2 26.0L41.0 25.2L44.0 25.8L44.0 24.5L43.5 23.8L42.2 23.8L40.8 23.0L37.5 19.5L36.8 18.0L36.5 14.2L38.5 12.5L45.2 9.5L48.5 10.0L49.8 11.2L50.2 10.8L50.8 8.8L53.5 6.2Z" fill="#085a9d" fill-rule="evenodd"/><path d="M49.2 92.0L49.2 93.2L52.0 100.0L52.8 103.5L54.5 107.8L57.5 108.8L61.5 106.5L63.8 105.8L63.8 104.2L63.0 102.5L56.0 92.0L55.2 91.8L49.8 91.8ZM42.5 65.5L36.0 66.2L35.2 67.5L35.5 70.5L37.2 75.2L39.8 80.5L40.5 81.2L44.0 78.2L48.2 75.2L49.2 74.0L49.0 72.2L48.0 69.8ZM42.0 58.8L42.5 59.2L44.2 59.0L45.0 59.8L45.5 61.0L45.0 63.5L45.5 64.0L47.5 64.2L49.0 63.8L49.8 63.0L49.8 62.0L49.0 60.0L47.8 58.8L47.0 58.5ZM52.5 2.5L50.2 1.8L46.8 3.2L41.0 6.2L37.5 10.0L33.5 12.2L29.2 13.5L27.2 14.5L22.0 18.5L19.2 19.8L17.5 21.5L15.2 21.8L13.0 20.8L9.5 20.8L7.5 22.8L7.5 24.0L9.2 26.5L16.0 29.2L17.8 31.0L18.8 32.8L20.0 33.5L20.2 35.8L22.8 39.5L24.5 40.5L27.5 40.8L33.8 36.5L37.5 35.0L43.2 35.0L49.5 36.2L51.5 36.0L52.0 35.5L40.0 29.8L39.0 28.8L38.8 27.2L39.5 25.5L40.2 24.8L41.5 24.2L38.2 21.2L36.5 19.0L35.8 14.8L36.2 13.5L37.0 12.8L44.0 9.2L47.0 9.0L49.8 9.8L50.2 8.8L53.2 5.8Z" fill="#084081" fill-rule="evenodd"/><path d="M101.0 133.8L102.0 134.8L102.0 135.5L100.5 137.5L99.0 137.8L98.8 136.8L99.2 135.2L100.5 133.8L101.0 133.8M90.2 129.5L91.0 130.0L91.8 131.8L91.8 135.2L93.0 137.0L93.0 138.5L92.2 139.0L91.0 138.0L90.2 136.2L88.2 134.5L87.5 132.8L87.8 131.5L89.2 130.0L90.2 129.5M94.2 125.2L95.8 125.2L97.5 127.2L97.5 129.0L96.5 130.5L95.8 130.5L92.0 128.2L92.2 127.0L94.2 125.2M77.2 92.0L82.0 92.2L84.5 94.0L87.8 95.2L90.2 97.8L92.0 100.8L91.8 106.2L89.5 109.0L86.2 111.5L84.8 114.2L83.5 115.5L82.5 115.5L78.8 114.0L77.8 112.8L76.5 112.2L74.8 110.5L74.2 109.0L74.2 107.8L75.2 106.8L76.8 106.5L77.2 106.0L76.2 103.8L75.8 103.5L74.0 103.8L72.5 102.2L72.2 100.8L72.8 99.0L72.8 95.5L74.8 93.5L77.2 92.0M52.5 78.8L53.8 80.2L54.0 84.8L53.5 86.5L52.2 87.2L48.5 87.2L48.2 87.5L45.0 87.8L43.8 86.2L42.8 83.5L42.8 82.5L43.8 81.5L47.2 79.8L50.8 78.8L52.5 78.8M32.2 59.5L33.0 60.2L33.5 61.5L33.5 63.5L32.0 67.2L31.0 68.2L27.5 69.0L25.2 67.0L25.5 65.2M30.5 59.8L32.2 59.5M89.0 36.5L91.8 35.8L93.2 35.8L96.8 37.5L99.0 40.0L100.2 42.2L101.0 44.8M102.0 73.8L101.0 75.0L94.8 75.2L94.0 74.5L93.8 73.8L93.8 68.8L92.5 63.5L92.8 49.2L93.0 49.0L93.0 46.5L93.8 45.2L93.8 44.0L88.5 38.0L88.2 37.2L89.0 36.5" fill="none" stroke="#1a1a1a" stroke-opacity="0.85" stroke-width="0.33" stroke-linejoin="round"/><path d="M49.5 114.0L48.5 113.2M41.8 115.8L41.2 117.0M46.5 117.2L49.2 116.2L49.8 115.5L49.5 114.0M47.0 89.2L46.0 90.8M50.8 100.8L52.2 105.8L53.8 108.8L55.0 109.5L55.8 109.5L56.8 110.0L59.0 110.0L60.5 109.2L61.5 108.2L65.0 107.0L65.2 105.2L64.2 102.0L61.0 96.0L58.8 93.0L59.0 92.0L60.5 92.5L61.2 93.2L62.0 95.8L62.8 96.2L62.8 95.5L62.2 94.5L60.8 92.8L60.2 90.0L59.2 88.8L54.2 88.5L52.8 89.0L47.0 89.2M61.5 66.2L61.0 66.8L60.8 67.8L61.2 69.8L62.8 71.2L64.2 71.0L64.8 69.8L64.5 67.2L63.2 66.2L61.5 66.2M63.0 62.0L62.0 62.0L61.2 62.8L61.5 64.8L62.0 64.8L63.2 63.5L63.2 62.2L63.0 62.0M69.5 59.8L68.0 61.0L67.5 62.2L67.5 64.0L68.2 66.5L68.2 68.0L65.2 71.0L65.5 71.8L66.2 71.8L67.2 71.2L71.0 67.8L71.8 66.5L71.8 66.0L70.5 64.5L70.2 61.0L69.5 59.8M74.0 50.5L73.2 51.0L73.2 51.8L73.8 52.2L74.5 54.5L75.0 55.0L76.0 54.0L76.8 52.5L77.5 51.8L77.5 51.2L76.5 50.8L74.0 50.5M61.5 25.2L60.8 25.8L60.8 27.0L61.2 28.0L62.0 28.8L62.5 28.8L63.5 26.2L63.5 25.5L63.2 25.2L61.5 25.2M70.8 25.2L71.0 26.0L72.0 26.0L73.8 25.2L75.5 26.2L75.8 26.0L75.8 25.2L75.2 24.8L74.5 25.0L71.5 24.8L70.8 25.2M83.0 17.2L82.8 17.5L83.0 20.0L84.8 20.8L86.0 20.5L86.5 19.5L86.2 17.5L85.0 17.0L83.0 17.2M74.0 14.5L74.0 15.8L74.8 16.5L78.8 16.8L79.8 15.8L79.8 14.8L79.0 14.0L76.2 13.8L74.0 14.5M47.2 10.8L48.0 11.5L48.0 15.0L46.8 16.2L45.2 16.8L44.5 17.5M42.5 21.8L41.2 20.2L39.5 19.8L38.2 18.5L37.8 17.0L37.8 14.8L39.0 13.5L40.2 13.0L41.0 13.0L42.2 14.0L42.2 12.2L43.8 11.0L45.5 10.5L47.2 10.8M6.8 25.5L8.8 27.5L15.2 30.0M46.0 36.5L49.0 37.2L51.5 37.2L53.5 36.8L55.5 35.8L58.0 35.5L59.0 35.8L59.5 36.2L59.5 37.5L62.2 40.0L62.5 40.8L62.5 45.0L61.0 47.0L59.2 47.2L57.2 46.8L56.5 46.2L54.2 46.0L51.8 47.0L50.8 47.0L49.0 47.8L46.2 48.2L39.5 52.0L34.8 56.8L34.5 59.2L35.2 61.8L35.2 63.8L34.5 66.2L34.8 71.2L37.8 78.8L38.8 80.8L40.0 82.2L40.8 82.2L44.0 79.5L51.5 74.8L52.5 74.8L54.5 77.2L55.5 78.0L57.2 78.2L57.2 77.8L53.8 73.5L53.8 72.2L54.5 70.8L55.5 67.0L55.5 65.5L55.0 64.5L52.2 61.2L52.2 58.0L53.2 55.0L54.5 53.8L57.2 51.8L59.2 49.8L59.8 49.5L60.8 50.0L61.8 50.0L63.2 48.5L64.0 46.2L65.2 44.2L65.2 43.2L64.8 42.5L64.2 40.0L63.8 39.0L59.5 35.5L58.8 34.0L57.2 32.2L54.2 30.0L50.5 29.0L46.5 27.2L45.2 26.0L44.8 25.0" fill="none" stroke="#1a1a1a" stroke-opacity="0.85" stroke-width="0.33" stroke-linejoin="round"/><use href="#fringe"/></g><use href="#jeju"/></g>
<use href="#grid"/>
</g>
<rect x="0" y="0" width="104.9" height="142.2" fill="none" stroke="#4a4a4a" stroke-width="0.8"/>
<text x="10.2" y="149.60000000000002" font-size="5.4" text-anchor="middle" fill="#111">118°E</text>
<text x="31.2" y="149.60000000000002" font-size="5.4" text-anchor="middle" fill="#111">120°E</text>
<text x="52.2" y="149.60000000000002" font-size="5.4" text-anchor="middle" fill="#111">122°E</text>
<text x="73.2" y="149.60000000000002" font-size="5.4" text-anchor="middle" fill="#111">124°E</text>
<text x="94.2" y="149.60000000000002" font-size="5.4" text-anchor="middle" fill="#111">126°E</text>
<text x="-3.0" y="13.00" font-size="5.4" text-anchor="end" fill="#111">40°N</text>
<text x="-3.0" y="34.84" font-size="5.4" text-anchor="end" fill="#111">38°N</text>
<text x="-3.0" y="56.68" font-size="5.4" text-anchor="end" fill="#111">36°N</text>
<text x="-3.0" y="78.52" font-size="5.4" text-anchor="end" fill="#111">34°N</text>
<text x="-3.0" y="100.36" font-size="5.4" text-anchor="end" fill="#111">32°N</text>
<text x="-3.0" y="122.20" font-size="5.4" text-anchor="end" fill="#111">30°N</text>
<text x="52.6" y="-5.2" font-size="6.1" text-anchor="middle" fill="#111">(b) ZSTAR</text>
</g>
<g transform="translate(351.6,185.1)">
<g clip-path="url(#pc)">
<rect width="105.2" height="142.3" fill="#c0c0c0"/>
<g transform="translate(-0.3,-0.1)"><g clip-path="url(#sea)"><rect x="-1" y="-1" width="107.2" height="144.3" fill="#f9f0eb"/><path d="M99.8 136.8L99.8 138.0L100.8 138.8L101.2 137.5L100.8 136.8ZM84.2 135.8L83.2 134.8L80.5 134.5L76.8 136.0L69.0 136.8L66.8 137.5L63.8 137.5L61.2 138.2L59.5 138.2L59.0 139.0L59.8 141.0L60.0 143.0L62.5 143.0L64.0 141.8L67.2 141.2L68.2 140.8L68.0 139.5L68.8 139.0L69.8 139.5L69.5 140.5L75.5 140.5L77.5 140.0L82.8 140.5L84.0 140.0L84.8 139.0L84.2 137.2ZM106.0 134.2L105.0 135.0L104.2 137.8L104.2 140.0L104.8 141.2L105.5 142.0L106.0 142.0ZM62.2 130.8L61.5 130.0L60.0 129.5L55.8 132.2L53.8 133.0L53.5 133.8L55.2 136.0L56.8 136.2L58.0 135.5L60.8 132.5L62.2 131.5ZM71.2 121.8L70.8 120.5L69.2 119.0L67.0 119.8L64.2 119.8L63.2 120.2L61.0 120.2L60.8 120.8L63.0 122.2L63.2 124.0L63.8 124.5L64.5 124.5L69.2 122.2L70.2 122.2ZM106.0 113.2L100.5 114.2L96.2 114.2L94.0 115.5L91.5 115.8L88.5 117.2L88.0 118.0L88.0 118.8L89.0 121.0L89.8 121.8L92.2 123.0L94.8 123.5L96.8 124.8L98.2 124.5L101.0 124.8L102.5 124.2L106.0 124.5ZM44.8 112.8L42.5 114.0L34.2 115.5L34.2 116.8L34.8 118.0L40.8 118.2L44.0 118.8L49.5 121.2L50.2 122.5L50.5 123.5L47.5 129.0L47.5 130.2L48.0 131.5L47.5 134.2L43.2 139.8L43.2 141.2L43.8 143.0L46.2 143.0L48.5 138.2L48.5 136.5L49.5 134.2L49.8 132.5L51.8 130.5L51.5 126.5L53.2 124.8L53.5 123.8L53.0 121.8L50.5 118.5L49.0 117.8L47.2 117.8L46.2 117.2L46.0 115.0L45.2 113.0ZM97.2 99.0L97.0 103.0L97.8 104.5L98.5 104.5L99.5 103.8L106.0 103.8L106.0 98.0L105.2 98.2L98.8 98.0ZM31.8 97.8L31.8 99.0L32.2 100.0L37.2 100.0L47.5 104.8L48.0 105.2L47.8 107.0L48.8 109.2L48.0 110.8L47.2 111.2L49.8 111.0L54.0 109.5L55.8 109.5L57.2 109.0L57.5 104.8L56.5 103.8L51.5 103.8L50.0 104.5L45.8 100.0L43.2 99.0L41.8 99.2L41.5 98.2L38.2 97.0L36.2 97.0ZM84.8 94.8L85.0 97.0L85.5 97.5L86.8 97.8L90.8 97.2L91.5 95.0L87.0 94.5ZM87.2 31.0L86.2 32.8L87.2 34.0L90.0 35.2L92.0 37.0L93.5 37.5L95.8 41.5L98.2 43.8L98.8 45.8L99.8 47.5L99.8 49.5L100.2 48.5L100.2 47.2L101.0 46.5L102.2 46.2L104.0 45.0L104.0 43.8L101.2 37.0L97.0 34.5L92.8 33.2L88.0 31.0ZM6.5 21.5L5.5 24.2L5.5 25.8L6.8 28.8L9.5 30.5L12.5 30.8L17.0 31.8L19.8 33.2L20.0 34.2L20.0 33.2L20.5 32.8L21.2 32.8L25.5 34.8L27.0 36.0L26.8 37.2L25.8 38.2L25.0 38.2L22.5 37.2L20.2 34.8L20.5 36.0L20.0 37.8L20.0 39.5L21.5 41.5L25.2 42.5L26.8 42.5L30.5 41.0L35.5 36.8L38.5 37.0L40.0 36.5L42.0 36.5L49.2 38.8L55.0 39.2L57.8 40.8L58.2 42.0L57.8 43.2L55.5 44.2L53.2 44.8L49.5 44.8L46.8 45.8L44.0 47.2L43.0 47.2L41.0 46.5L39.2 46.8L37.2 48.2L33.0 52.5L31.8 55.2L29.0 58.8L29.5 59.0L30.5 61.5L30.5 63.5L29.5 66.0L28.5 66.8L25.5 66.5L24.0 65.5L23.8 63.5L22.5 64.8L22.0 67.5L24.5 70.0L27.2 72.0L33.0 74.8L35.5 77.2L38.2 82.8L38.8 84.5L41.2 89.0L41.8 87.0L42.2 86.5L47.5 86.0L48.5 85.2L47.0 83.5L47.2 82.0L48.2 81.2L49.0 81.2L50.0 82.2L50.2 85.2L52.5 87.0L53.8 88.8L57.0 89.0L57.8 88.8L56.8 87.0L57.2 86.5L60.5 85.5L61.8 85.5L62.8 86.5L63.0 88.0L63.5 88.2L68.0 88.2L68.8 87.5L69.0 85.5L70.0 84.5L72.5 84.2L74.0 85.0L81.0 84.8L83.2 84.2L85.5 83.2L88.5 83.2L90.5 82.2L92.2 82.2L94.5 81.0L98.8 80.5L100.2 79.5L100.2 79.0L98.5 79.0L98.0 78.2L98.0 77.0L96.8 76.5L92.0 76.8L90.0 74.2L89.8 73.2L90.2 72.5L91.0 72.2L93.8 72.2L95.0 71.8L98.0 71.5L99.8 73.0L100.2 73.0L102.0 71.0L97.8 66.5L97.0 63.8L97.0 62.2L97.5 61.2L95.0 62.8L91.5 62.0L90.2 61.5L87.2 58.5L87.0 57.5L87.8 54.2L84.8 51.0L85.0 45.8L86.0 43.8L83.8 41.5L81.8 36.5L81.5 33.2L82.2 32.5L84.2 32.5L84.5 30.8L85.0 30.2L86.8 30.2L84.2 28.8L84.0 28.2L85.5 26.8L89.2 25.2L89.2 24.2L88.2 24.8L85.8 24.5L85.0 25.2L85.2 26.8L84.0 28.5L82.8 29.2L81.5 28.8L81.2 28.0L83.0 27.0L84.2 25.5L80.0 23.2L78.5 21.2L76.0 18.8L75.0 18.2L71.0 19.0L67.8 20.2L63.2 21.2L60.8 20.8L59.0 19.2L59.2 17.5L60.2 16.2L64.0 14.8L71.2 13.0L73.2 13.0L74.8 13.5L81.5 13.2L83.5 14.2L84.8 15.5L87.0 16.2L88.2 17.2L88.2 16.8L85.5 14.5L76.8 11.5L75.2 11.5L72.8 12.8L66.2 13.8L60.5 15.2L45.2 23.0L44.2 23.0L44.0 22.2L45.0 20.8L47.2 18.5L50.0 17.0L50.8 15.5L50.8 14.5L49.5 12.8L51.0 10.2L53.2 8.5L55.0 6.2L54.5 3.0L53.2 1.5L52.2 0.8L48.0 0.5L44.8 1.5L39.5 5.0L34.0 10.0L32.0 11.2L28.2 12.5L24.8 14.2L17.5 21.5L15.2 21.8L12.8 20.5L10.2 20.0L8.5 20.0ZM39.2 84.5L40.2 83.5L41.5 83.5L42.5 84.5L42.5 85.2L42.0 85.8L41.2 85.8L40.0 85.2ZM44.5 81.2L45.2 82.0L45.2 82.8L44.0 84.2L43.5 83.0L43.8 82.0ZM68.8 80.5L70.0 80.5L71.0 81.5L70.8 82.8L69.8 84.0L68.0 83.8L67.0 83.0L67.2 81.8ZM84.2 59.5L84.2 60.8L83.2 63.2L83.5 67.2L84.2 69.0L81.2 71.2L80.2 71.2L79.2 70.2L77.5 66.5L75.5 64.8L75.5 63.0L74.5 62.2L74.0 62.5L74.0 63.8L74.5 64.8L73.8 65.2L71.0 64.8L67.5 64.8L65.0 65.8L64.0 65.5L62.8 65.8L62.5 66.2L62.8 67.2L64.8 70.2L64.5 72.0L62.5 76.0L59.2 79.2L56.5 78.0L53.5 75.0L45.5 65.8L45.5 65.2L46.2 64.5L48.5 63.5L50.8 61.2L51.8 60.8L54.8 60.2L64.8 57.0L69.8 57.2L70.8 57.8L71.2 59.2L72.2 59.2L72.5 58.5L71.8 57.0L73.0 56.0L75.0 55.2L77.5 55.2L78.5 54.8L80.5 54.8L82.0 56.0L82.8 57.8ZM66.5 36.8L68.0 37.0L69.2 38.5L69.2 40.2L67.8 41.5L67.0 41.5L66.2 40.8L65.8 37.8ZM73.5 31.2L74.5 31.0L74.8 32.0L74.2 32.2ZM53.5 27.0L54.5 26.8L55.8 27.2L56.5 28.0L56.8 29.2L56.5 29.5L54.5 29.2L53.5 27.8ZM44.2 25.8L47.2 25.2L47.8 25.8L48.0 27.0L47.2 27.8L46.5 27.8L45.0 27.0L44.2 26.2ZM73.8 21.5L74.5 22.2L75.0 24.8L74.5 25.2L72.8 25.0L70.2 25.8L69.5 25.0L69.5 22.5L70.5 21.8ZM30.8 13.2L31.2 12.8L32.0 13.0L31.8 13.8ZM33.2 11.0L34.0 10.2L35.5 10.2L36.2 11.0L36.2 12.8L35.5 13.2L34.0 13.0L33.5 12.5ZM54.0 3.2L54.5 3.8L54.0 6.8L53.2 7.5L51.2 7.5L50.5 6.5L50.2 3.8L50.8 3.2L53.2 3.0Z" fill="#edf2f5" fill-rule="evenodd"/><path d="M66.5 138.2L66.2 138.0L62.8 138.0L61.5 138.5L59.8 138.5L59.5 139.8L60.0 140.5L60.2 142.0L61.0 142.8L61.5 142.8L64.2 141.2L66.2 140.8ZM106.0 135.2L105.8 135.5L106.0 137.5L105.0 139.0L105.0 140.5L105.8 141.5L106.0 141.5ZM84.2 139.2L84.0 136.0L83.5 135.2L82.2 134.8L80.8 134.8L77.0 136.5L71.5 136.8L68.5 137.5L68.8 138.0L70.5 138.2L72.2 139.8L73.5 140.0L76.5 139.2L78.0 139.2L82.5 140.2ZM62.0 131.0L61.0 130.0L59.5 130.0L55.0 133.0L54.0 133.2L54.0 134.0L55.8 136.0L56.8 136.0ZM50.5 127.8L49.8 128.0L48.5 130.2L47.8 130.8L48.0 132.8L47.2 134.8L43.2 139.8L43.2 141.2L43.8 143.0L45.8 143.0L47.8 138.8L47.8 136.0L49.0 134.0L49.0 132.0L50.5 131.0L51.0 130.2L51.0 128.8ZM67.0 121.0L65.8 120.2L64.0 120.5L63.8 120.8L64.0 124.0L67.0 123.0L67.5 122.5L67.5 121.8ZM69.0 119.8L69.0 120.2L70.2 121.2L69.8 120.2ZM106.0 124.0L106.0 120.5L105.2 119.5L105.5 117.0L104.8 114.2L104.0 114.0L101.8 114.5L96.5 114.5L93.8 116.0L91.5 116.2L90.0 117.5L89.2 117.5L88.5 118.0L88.5 119.0L90.0 121.0L92.8 122.8L95.0 123.0L96.5 124.2L97.5 124.2L98.2 123.8L99.5 124.2ZM34.2 115.5L34.2 116.8L34.8 118.0L40.8 118.2L44.0 118.8L49.5 121.2L50.5 123.5L49.0 126.2L51.5 125.5L52.8 124.2L52.8 123.2L51.2 121.2L51.2 120.5L49.8 118.2L46.8 118.0L45.8 117.5L46.0 115.5L45.5 113.8L44.8 112.8L42.5 114.0ZM44.0 118.2L45.2 117.5L46.0 118.0L45.5 119.0L44.5 119.0ZM41.0 101.8L48.0 105.2L47.8 107.0L48.8 109.2L47.8 111.0L50.0 110.8L51.2 110.0L54.2 109.2L56.8 109.2L57.2 108.5L57.2 104.5L56.8 104.0L51.8 103.8L51.0 104.2L50.8 106.0L50.0 106.5L49.2 104.2L45.2 100.0L44.0 99.8L42.8 100.2ZM97.5 99.2L97.2 102.5L97.8 103.8L98.5 103.8L99.8 103.0L103.2 102.8L106.0 103.5L106.0 98.5L103.8 98.5L102.0 99.0L100.5 98.5L98.2 98.5ZM102.5 100.8L103.2 101.0L103.2 102.0L102.8 102.5L102.0 102.0L102.0 101.2ZM32.0 97.8L31.8 99.0L32.2 100.0L37.2 100.0L39.5 101.2L37.8 97.8L38.0 97.0L36.2 97.0L35.5 97.8L34.5 97.2ZM85.0 94.8L85.0 96.2L85.8 97.2L88.0 97.0L88.2 95.5L86.5 94.8ZM55.2 86.8L54.0 88.0L54.8 88.8L56.2 88.5L56.0 87.5ZM39.5 86.0L40.5 87.8L40.5 86.5ZM43.8 85.8L44.0 86.0L47.5 85.8L47.8 85.2L46.2 84.5L45.2 84.5ZM93.0 80.2L91.8 80.2L90.8 81.2L91.5 81.8L92.5 81.5L93.0 81.0ZM95.2 36.8L94.8 37.5L95.0 39.2L96.0 41.2L98.5 43.5L99.5 46.2L100.2 46.2L101.8 45.2L102.5 45.2L103.0 45.8L104.0 45.0L104.0 43.8L101.0 36.8L98.8 35.5L98.5 36.5L97.5 37.2L96.0 36.5ZM87.8 33.0L88.2 34.0L90.0 34.8L92.0 36.5L93.2 36.5L95.8 34.2L89.5 31.8ZM76.0 23.5L76.8 25.0L78.5 25.5L80.2 26.8L81.8 26.8L83.0 26.0L83.0 25.2L82.2 24.5L79.8 23.5L77.8 21.5L77.8 22.2ZM84.0 14.0L85.2 15.5L87.8 16.2L85.5 14.5ZM69.5 13.2L66.2 13.8L60.2 15.5L60.8 15.8L63.8 14.5ZM72.0 12.8L73.8 12.8L75.0 13.2L76.5 13.2L77.8 12.8L80.5 12.8L76.8 11.5L75.2 11.5L72.8 12.8ZM6.5 21.5L5.5 24.2L5.5 25.8L6.8 28.8L9.5 30.5L12.5 30.8L17.0 31.8L19.5 33.2L21.0 32.5L25.8 34.8L27.0 35.8L27.2 36.5L26.8 37.5L26.0 38.2L24.5 38.2L22.2 37.2L20.2 35.0L20.5 36.0L20.0 37.8L20.0 39.5L21.5 41.5L25.2 42.5L26.8 42.5L30.5 41.0L35.5 36.8L38.5 37.0L40.0 36.5L42.0 36.5L49.2 38.8L55.0 39.2L57.8 40.8L58.2 42.0L57.8 43.2L55.5 44.2L53.2 44.8L49.5 44.8L46.8 45.8L44.0 47.2L42.8 47.0L40.8 47.2L40.0 46.5L39.2 46.8L37.2 48.2L33.0 52.5L31.8 55.2L29.2 58.5L30.2 60.0L30.8 61.8L30.8 63.2L29.5 66.2L28.5 67.0L24.5 66.5L23.2 65.5L22.2 65.5L22.0 67.5L24.5 70.0L27.2 72.0L33.0 74.8L35.5 77.2L38.5 83.5L39.5 83.0L41.5 83.0L42.2 83.5L43.0 83.5L43.5 81.2L44.0 80.5L49.5 80.2L50.5 82.8L50.5 85.2L52.2 86.5L54.2 85.2L54.8 85.2L55.5 86.0L58.0 86.0L61.2 85.0L62.8 86.0L63.5 88.0L68.0 88.0L68.5 87.5L68.8 84.8L68.2 84.2L66.5 83.8L65.8 83.0L65.8 82.2L66.5 81.0L68.8 79.8L70.5 79.8L72.2 81.2L74.5 81.2L76.0 81.8L76.2 82.2L74.2 84.0L74.5 84.5L76.2 84.5L78.0 83.8L80.8 84.2L83.5 83.8L85.0 83.0L88.2 82.8L89.5 81.8L89.2 80.2L92.5 78.0L93.2 78.5L93.8 79.5L96.0 80.2L97.0 79.8L97.0 78.2L96.5 77.0L92.2 77.2L90.5 75.5L89.2 73.5L89.2 72.8L90.5 72.0L91.5 72.2L94.0 72.0L96.5 71.2L98.0 71.2L99.8 72.0L101.2 70.2L98.0 67.0L97.0 63.8L97.0 62.0L94.8 63.0L90.8 62.0L86.8 58.0L87.2 56.2L87.2 54.0L84.5 51.2L84.8 45.0L85.2 44.5L85.2 43.8L83.0 41.2L81.8 37.8L81.2 35.0L81.2 33.0L81.8 32.2L83.5 31.8L83.2 30.5L81.2 29.5L80.2 29.5L78.8 28.8L77.2 28.8L75.2 28.0L74.8 27.5L74.5 25.8L72.2 25.5L70.2 26.2L69.8 26.0L69.0 26.2L68.2 25.5L69.2 22.2L70.0 21.5L71.5 21.5L74.0 20.8L75.2 22.2L76.8 21.0L76.5 20.0L75.2 18.8L71.8 19.0L67.0 20.8L62.5 21.5L60.8 21.0L59.2 20.0L58.8 19.0L59.0 16.8L58.0 16.5L54.5 18.2L55.5 19.0L55.8 20.5L53.5 22.5L51.8 22.5L51.0 22.0L50.8 21.0L51.5 19.8L45.2 23.0L44.0 22.8L45.0 20.8L47.2 18.5L50.0 17.0L50.8 15.5L50.8 14.5L49.5 12.8L51.0 10.2L53.2 8.5L55.0 6.2L54.8 4.0L54.2 6.8L53.5 7.5L51.8 7.8L50.5 7.0L50.0 4.2L51.0 3.0L54.2 3.0L54.5 3.2L54.2 2.5L52.2 0.8L48.0 0.5L47.0 0.8L45.8 2.0L44.2 2.8L42.5 3.0L37.2 6.8L33.2 10.5L31.0 11.8L28.2 12.5L24.8 14.2L17.5 21.5L15.2 21.8L12.8 20.5L10.2 20.0L8.5 20.0ZM64.0 81.5L64.8 82.2L64.5 83.2L63.5 82.8L63.5 82.0ZM68.8 74.0L69.8 74.0L70.8 75.0L71.0 76.2L70.5 76.8L69.8 76.8L68.5 75.8L68.2 74.5ZM84.8 59.5L84.8 60.5L83.8 62.8L83.8 66.0L84.8 69.2L81.2 72.0L80.0 72.0L79.0 71.0L78.5 69.2L77.2 67.0L75.2 65.5L73.5 65.8L69.5 65.0L66.5 65.8L65.8 66.2L63.2 66.0L63.0 66.8L65.0 69.8L64.8 72.5L63.5 75.2L61.5 78.0L59.8 79.5L59.0 79.8L56.5 78.5L45.2 65.8L45.2 65.0L46.0 64.2L48.2 63.2L50.2 61.2L51.5 60.5L54.8 60.0L57.8 58.8L60.5 58.2L62.5 57.0L65.2 56.0L67.0 56.8L69.5 57.0L74.8 55.0L76.8 55.0L79.0 54.2L80.5 54.2L82.0 55.2L83.2 57.8ZM65.5 51.2L66.8 52.2L66.8 53.2L66.0 54.0L65.2 54.0L64.5 53.2L64.5 52.2ZM82.2 47.8L83.5 49.0L83.5 50.2L82.8 51.0L82.0 50.8L81.5 50.0L81.5 48.5ZM74.5 41.2L75.2 41.5L76.0 42.8L76.0 44.0L75.2 44.8L74.5 44.8L73.8 44.0L73.8 42.2ZM78.8 36.8L80.0 37.2L80.0 38.5L79.2 39.0L78.8 39.0L78.0 38.2L78.0 37.5ZM68.0 33.0L68.5 33.5L68.5 34.2L70.2 36.2L70.2 40.5L71.5 41.8L71.5 42.8L70.8 43.0L70.0 42.5L69.2 42.5L67.2 44.0L66.5 44.0L65.0 42.2L64.8 40.0L63.8 38.2L64.8 37.0L65.5 35.0L67.0 33.5ZM73.5 30.2L75.2 31.0L75.5 31.5L75.2 32.8L74.2 33.0L73.2 32.0L73.0 30.8ZM68.2 27.5L69.2 28.2L69.0 29.2L67.8 28.8L67.8 28.0ZM53.0 26.5L53.2 26.2L56.2 26.5L57.0 27.5L57.5 29.5L57.0 30.0L54.2 29.8L53.0 28.0ZM43.8 25.5L44.2 25.0L47.5 24.8L48.2 25.8L48.5 27.2L47.8 28.0L46.0 28.0L44.5 27.5L43.8 26.5ZM10.2 23.0L10.8 23.8L10.0 25.2L9.2 26.0L8.0 26.2L7.5 25.8L8.0 23.5L8.5 23.0ZM30.0 13.0L31.0 12.2L32.8 12.5L32.8 13.2L32.0 14.5L30.8 14.5ZM33.5 10.2L35.2 10.0L36.2 10.5L36.5 12.5L36.0 13.2L35.0 13.5L34.0 13.2L33.0 12.2Z" fill="#dbeaf2" fill-rule="evenodd"/><path d="M65.2 138.5L63.0 138.2L61.5 139.0L60.0 139.0L60.8 140.8L60.8 141.8L61.8 142.0L64.8 140.5L65.5 139.5ZM46.8 138.0L46.2 138.0L45.0 139.2L43.8 139.0L43.2 139.8L43.2 141.2L43.8 143.0L45.0 143.0L46.2 139.8L46.8 139.2ZM79.5 135.8L79.0 136.8L81.0 139.5L83.0 139.8L84.0 139.0L83.8 136.5L83.2 135.5L81.0 135.0ZM61.5 131.0L60.8 130.2L59.8 130.2L58.2 131.0L54.8 133.8L55.0 134.8L56.0 135.5L57.2 135.2ZM65.0 121.2L64.8 122.5L65.5 122.8L65.8 121.8ZM48.5 120.5L48.2 120.8L49.8 121.5L50.5 123.2L49.8 125.0L51.2 124.2L51.5 123.5L50.8 123.0L50.2 121.2L49.5 120.5ZM47.8 118.5L48.2 119.0L49.5 118.8L48.8 118.2ZM91.2 120.0L91.5 121.0L92.5 122.0L93.8 122.2L95.0 120.5L96.5 120.5L98.0 118.5L99.0 118.2L100.0 119.2L100.5 120.5L99.8 122.5L99.8 123.2L100.2 123.8L105.0 123.8L105.8 123.2L105.8 122.5L104.5 120.0L104.8 116.8L103.8 115.5L102.2 115.0L99.5 115.0L99.2 114.8L96.0 115.0L94.8 116.0L95.0 117.8L94.2 118.0L93.5 117.2L92.5 117.0L92.2 118.8ZM38.8 114.8L34.2 115.5L34.2 116.8L34.8 118.0L39.0 118.2L38.2 117.2L38.2 115.2ZM45.0 113.0L44.2 113.0L42.5 114.0L39.2 114.5L40.2 115.2L41.5 117.5L41.2 118.5L42.8 118.5L43.8 117.5L45.8 116.8L45.8 114.8ZM48.0 107.5L48.8 109.0L48.2 110.2L49.8 110.2L50.8 109.5L56.8 109.0L57.2 107.5L57.2 104.8L56.5 104.0L51.5 104.0L51.0 104.8L50.8 107.5L50.2 108.0ZM42.8 101.8L43.2 102.8L44.0 102.8L46.2 104.2L47.5 103.8L47.2 102.5L45.8 101.0L44.8 100.8ZM103.5 99.2L104.2 100.8L104.5 102.5L106.0 103.0L106.0 99.0ZM32.5 100.0L37.2 100.0L37.8 100.2L37.0 99.2L34.5 99.2L33.8 99.0ZM100.8 99.2L99.8 98.8L98.5 98.8L97.8 99.5L97.5 101.8L98.0 103.0L98.8 103.0L100.8 101.5L101.2 100.2ZM85.5 95.0L85.2 95.8L86.0 96.5L86.2 95.2ZM56.8 84.0L56.8 85.0L57.8 85.5L58.8 85.2L59.5 84.5L59.0 83.8ZM81.5 38.8L80.0 39.5L78.0 39.8L77.0 39.5L76.2 40.0L76.5 41.2L77.8 42.2L78.2 43.5L79.2 44.5L79.0 45.8L79.8 46.2L80.8 45.8L80.5 45.0L80.8 44.2L82.8 43.5L82.2 42.2L82.2 40.2ZM96.0 38.8L96.2 40.8L99.2 43.5L99.8 45.2L100.8 45.0L102.5 43.8L103.2 44.2L103.8 45.2L104.0 45.0L104.0 43.8L103.5 42.5L102.0 42.0L100.8 40.5L100.8 39.8L101.5 39.0L102.0 39.0L101.5 37.5L100.8 38.0L99.2 38.0L98.0 38.8ZM91.8 34.2L91.2 35.0L92.0 35.8L92.5 35.8L92.8 34.5ZM67.0 29.8L66.2 29.5L65.2 30.2L65.2 31.5L65.8 32.0L67.0 31.8L67.5 31.2L67.8 30.5ZM70.2 32.8L70.5 34.8L71.8 36.5L73.0 37.2L75.5 37.2L76.5 37.0L78.2 35.2L79.0 35.0L80.8 35.8L81.0 35.5L80.8 34.2L81.0 32.5L82.2 31.0L81.2 30.2L78.5 30.2L76.2 29.2L74.8 29.2L74.5 30.0L75.8 31.0L76.0 32.0L75.5 33.2L73.5 33.0L72.2 31.0L71.5 31.0ZM73.2 26.2L72.2 26.0L71.2 26.5L71.0 27.2L72.0 27.5L73.0 27.0ZM80.2 24.8L80.8 25.8L81.2 26.0L82.2 25.8L82.0 24.8L81.5 24.5ZM85.2 14.5L85.5 15.2L86.8 15.5ZM75.0 12.0L75.0 12.5L75.5 12.8L76.5 12.5L76.5 11.8ZM6.5 21.5L5.8 24.0L7.0 24.2L7.8 23.0L8.8 22.5L10.8 22.8L11.2 23.2L11.0 24.8L10.0 26.0L7.2 27.8L6.2 27.8L6.8 28.8L9.5 30.5L12.5 30.8L17.0 31.8L19.5 33.2L20.2 32.5L21.5 32.5L25.5 34.5L27.2 35.8L27.2 36.8L26.8 37.8L25.8 38.5L25.0 38.5L22.0 37.2L20.2 35.2L20.5 36.0L20.0 37.8L20.0 39.5L21.5 41.5L25.2 42.5L26.8 42.5L30.5 41.0L35.5 36.8L38.5 37.0L40.0 36.5L42.0 36.5L49.2 38.8L55.0 39.2L57.2 40.5L58.0 40.2L58.8 41.0L58.5 42.5L56.0 45.0L53.2 45.5L50.0 45.2L49.0 45.8L47.5 45.5L44.0 47.2L42.8 47.2L41.0 48.0L39.2 48.0L35.2 50.2L33.0 52.5L31.8 55.2L29.8 57.8L30.2 58.5L30.5 60.8L31.0 62.0L31.0 63.0L30.0 66.0L28.8 67.2L24.0 67.5L23.8 69.0L24.5 70.0L27.2 72.0L33.0 74.8L35.5 77.2L36.2 79.0L37.8 79.5L38.0 82.5L40.2 82.2L42.8 83.0L43.2 82.2L43.2 80.8L44.2 80.0L49.8 80.0L50.2 80.5L50.8 83.0L50.8 85.2L51.8 86.0L52.5 86.0L55.0 83.8L56.5 83.2L57.0 82.0L58.0 81.2L62.8 85.2L63.2 86.0L63.2 87.2L63.8 87.8L67.5 88.0L68.2 87.5L68.2 85.0L67.8 84.5L63.5 84.2L62.2 83.5L62.0 81.5L62.2 80.8L63.2 80.0L66.2 80.0L69.5 78.8L70.5 78.8L75.0 80.2L77.2 80.0L78.0 80.5L78.5 81.8L80.0 83.2L83.2 83.2L85.5 82.5L87.5 82.5L88.2 82.0L87.8 78.5L90.5 78.0L91.0 77.5L91.0 76.8L88.5 74.0L87.0 73.8L85.5 75.0L85.5 75.8L85.0 76.5L84.5 76.8L83.2 76.2L83.2 75.5L83.8 74.8L83.5 73.5L82.8 72.8L81.0 73.2L80.0 73.2L79.0 72.8L77.5 70.8L78.0 69.2L77.5 68.0L75.5 66.0L72.8 66.0L71.5 65.5L70.0 65.5L68.2 67.2L64.2 67.5L65.5 69.2L65.5 71.0L64.8 74.0L62.2 78.0L61.0 79.2L59.2 80.2L58.5 80.2L56.8 79.2L55.8 79.2L54.5 76.5L45.0 66.0L44.8 65.2L45.8 64.0L48.5 62.8L50.8 60.5L52.0 60.0L55.8 59.5L60.8 57.8L62.2 56.0L62.2 55.0L61.5 53.8L61.8 52.0L62.5 51.2L64.5 50.2L66.0 48.0L66.8 48.5L67.2 51.0L68.0 52.0L68.0 53.8L67.2 55.0L67.2 56.0L68.0 56.5L70.2 56.5L75.0 54.5L78.2 54.0L80.8 52.2L81.2 52.5L81.5 54.2L83.0 56.0L83.8 57.8L85.2 59.2L85.2 60.5L84.5 62.0L84.8 64.8L84.2 65.8L84.8 67.8L85.8 68.5L89.0 65.8L89.8 64.0L90.2 64.0L91.2 65.0L91.2 66.8L90.8 68.8L89.8 69.5L88.0 69.5L87.5 70.0L88.0 71.0L88.5 71.2L90.5 70.8L91.2 71.8L93.8 71.8L96.0 70.8L93.8 70.2L90.8 70.8L90.5 70.5L90.8 69.2L91.8 68.5L93.5 68.0L94.5 67.0L96.2 67.2L98.0 67.0L97.2 65.0L95.2 65.8L94.8 65.2L96.8 63.8L96.2 62.8L94.8 63.2L93.8 62.8L90.0 62.0L86.5 58.5L86.8 54.8L86.2 54.0L83.8 52.0L81.5 52.2L80.8 50.8L79.0 49.2L76.8 48.8L76.0 48.0L76.2 47.2L76.0 46.8L74.5 47.0L74.5 48.0L73.2 49.8L73.5 52.2L72.8 53.0L71.5 53.0L70.2 49.8L70.2 48.5L71.5 47.0L72.5 46.5L73.5 46.5L73.5 45.8L72.5 44.8L69.2 44.5L66.5 47.0L66.0 47.0L65.2 46.2L65.2 44.8L64.2 42.5L64.0 40.8L62.2 38.8L62.0 36.5L61.2 35.8L61.5 33.2L61.0 32.5L61.0 31.2L63.5 28.8L63.0 25.5L63.5 24.8L64.5 24.5L66.8 26.0L67.2 24.0L69.5 21.2L71.8 21.0L73.8 20.0L75.2 20.0L74.8 19.0L73.2 19.5L72.8 19.2L71.0 19.5L66.5 21.2L64.5 21.2L62.2 21.8L60.0 21.0L58.8 19.8L58.2 18.0L56.5 18.0L56.2 18.2L56.5 20.5L55.2 23.0L54.2 23.8L50.2 23.0L50.0 20.5L45.2 23.0L44.0 22.8L45.0 20.8L47.2 18.5L50.0 17.0L50.8 15.5L50.8 14.5L49.5 12.8L51.0 10.2L53.2 8.5L55.0 6.2L55.0 5.2L54.8 5.2L54.5 6.5L53.5 7.8L51.2 7.8L50.5 7.0L50.0 5.2L50.0 3.8L50.8 3.0L52.5 3.0L54.2 2.5L52.2 0.8L50.8 0.5L49.8 1.0L48.0 0.8L46.0 2.5L44.0 3.5L42.5 3.2L40.2 4.5L39.2 5.8L37.2 6.8L33.8 10.0L35.8 10.0L36.5 10.8L36.5 13.0L35.8 13.5L33.0 13.2L32.5 14.5L31.5 15.0L30.8 15.0L30.0 14.2L29.8 12.8L30.8 12.0L32.5 12.0L33.0 11.5L33.0 10.5L31.0 11.8L28.2 12.5L24.8 14.2L17.5 21.5L15.2 21.8L12.8 20.5L10.2 20.0L8.5 20.0ZM35.5 75.8L36.0 75.5L37.0 76.8L36.5 77.2L35.5 76.2ZM68.5 73.0L70.0 73.2L71.5 75.0L71.8 76.2L70.8 77.8L69.2 77.5L67.5 75.8L67.5 74.2ZM74.5 71.0L74.8 72.2L74.2 72.8L73.2 73.0L72.5 72.5L72.5 71.8L73.2 71.0ZM88.5 62.8L87.0 64.0L86.2 64.2L85.5 64.0L86.0 62.8L87.2 61.8ZM53.2 25.8L56.2 26.0L57.2 27.0L58.2 29.8L58.0 30.2L58.2 32.5L57.5 33.5L56.5 33.8L55.8 33.0L56.0 31.0L54.0 30.2L53.2 29.5L52.2 27.2ZM43.5 25.2L44.2 24.8L47.5 24.2L48.2 24.8L49.0 26.2L51.0 27.0L51.5 28.0L50.8 28.8L49.8 28.8L48.8 28.2L46.5 28.5L45.0 28.0L43.8 27.0Z" fill="#c5dfec" fill-rule="evenodd"/><path d="M43.2 140.2L43.8 143.0L44.2 143.0L44.5 141.0ZM63.2 138.8L63.0 139.5L64.0 139.8L64.2 139.0ZM80.8 135.5L80.2 136.5L81.5 139.0L82.2 139.5L83.2 139.2L83.5 137.2L83.0 136.0L82.2 135.5ZM60.0 131.0L58.2 131.5L57.8 132.8L58.8 132.5ZM100.5 117.2L100.5 118.2L101.5 119.5L102.2 119.5L103.5 118.8L104.0 117.8L103.5 117.0L102.5 116.5L101.2 116.5ZM96.2 115.8L96.2 116.2L97.0 116.8L98.2 116.8L98.8 116.0L98.5 115.2L96.8 115.2ZM44.8 113.0L42.5 114.0L40.2 114.5L42.0 117.8L43.0 117.8L45.8 116.2L45.5 114.0ZM51.2 104.5L51.0 108.2L51.5 109.2L56.5 109.0L57.0 108.5L57.2 105.2L56.8 104.2L52.0 104.0ZM105.2 99.8L105.0 101.5L105.5 102.2L106.0 102.2L106.0 99.8ZM99.2 99.2L98.8 99.2L98.0 100.2L98.2 102.0L98.8 102.0L100.0 100.5L100.0 100.0ZM64.0 85.5L63.8 87.2L64.2 87.5L67.5 87.8L68.0 87.2L68.0 85.5L67.5 85.0L65.5 84.8ZM87.5 75.8L87.8 76.2L88.5 76.2L88.0 75.5ZM79.2 76.0L80.5 78.0L79.5 80.2L79.8 81.8L80.2 82.0L87.0 82.0L87.5 81.5L87.2 80.0L86.0 78.5L85.2 78.5L84.2 79.2L83.0 79.2L82.2 78.5L81.8 77.2L82.0 74.8L81.5 74.2L80.8 74.5ZM72.2 74.2L72.5 77.2L72.8 77.8L73.5 78.0L75.5 78.0L78.5 76.0L77.8 75.0L76.8 74.5L73.8 74.8L73.0 74.2ZM76.8 67.5L75.8 66.5L75.0 66.2L72.5 66.5L71.5 66.0L70.5 66.2L69.2 68.2L69.0 69.5L67.2 70.5L66.0 71.8L65.8 74.8L66.0 75.0L66.8 74.2L67.5 72.8L68.5 71.8L71.0 72.5L71.0 71.0L72.0 70.0L73.2 69.8L75.5 70.0L76.8 69.5L77.2 69.0ZM91.5 63.0L93.0 64.5L94.2 63.8L93.5 63.0L92.2 62.8ZM83.8 55.5L83.8 56.8L84.8 57.8L85.2 56.8L85.0 55.8ZM78.5 50.0L76.8 50.2L76.0 52.0L76.5 53.0L77.8 53.2L79.2 52.2L79.5 50.8ZM70.0 46.2L68.0 48.2L67.8 49.5L68.0 50.5L69.2 51.8L69.2 52.8L68.2 55.0L68.2 55.8L69.2 56.2L71.8 55.0L71.8 54.5L70.0 53.0L69.5 52.0L69.2 47.5L70.0 46.8ZM97.2 40.2L97.5 41.2L98.5 41.8L99.5 41.8L99.5 40.8L99.0 40.0ZM81.0 39.8L78.5 40.2L78.8 42.5L79.8 43.5L81.2 43.2L81.5 42.8L81.5 40.2ZM80.5 31.8L78.8 31.5L76.8 30.2L76.0 30.2L76.2 33.0L75.8 33.5L74.0 33.8L72.0 32.5L71.2 33.8L72.2 35.2L74.2 36.2L75.5 36.2L76.5 35.8L78.0 33.8L80.0 33.5ZM52.2 29.2L52.2 30.0L53.0 30.2L52.8 29.5ZM49.8 24.5L49.8 25.5L50.5 26.0L51.5 26.2L52.8 25.2L52.8 24.8L51.5 24.0L50.5 24.0ZM57.8 20.0L56.5 22.0L56.5 23.0L57.2 24.2L55.0 25.2L56.5 25.5L58.2 27.5L59.0 27.5L59.8 28.2L60.0 30.0L60.5 30.0L62.5 28.2L62.2 24.2L63.2 23.5L65.5 23.5L66.0 23.0L66.0 22.0L65.5 21.8L62.0 22.2L61.2 23.5L58.2 24.0L58.0 23.8L58.8 22.8L59.0 20.8L58.2 20.0ZM51.0 0.8L50.2 1.2L48.0 1.5L44.2 3.8L41.8 4.0L39.5 6.0L37.0 7.0L34.2 9.8L35.8 9.8L36.5 10.5L36.8 12.8L36.2 13.5L35.2 13.8L33.2 13.5L32.2 15.0L30.5 15.2L29.8 14.2L29.5 12.5L30.8 11.8L32.2 11.8L32.8 11.2L32.5 10.8L31.0 11.8L28.2 12.5L24.8 14.2L17.5 21.5L15.2 21.8L12.8 20.5L8.5 20.0L6.5 21.5L6.0 22.8L7.0 23.2L8.0 22.5L10.8 22.5L11.5 23.2L11.0 25.5L9.5 26.5L9.0 27.2L9.0 28.2L9.8 29.2L9.5 30.5L12.5 30.8L17.0 31.8L19.5 33.2L20.0 32.5L21.2 32.2L25.0 34.0L27.5 36.0L27.0 37.5L26.0 38.5L24.5 38.5L22.2 37.5L20.2 35.5L20.5 36.0L20.0 37.8L20.0 39.5L21.0 41.0L22.2 41.8L25.2 42.5L26.8 42.5L30.5 41.0L35.5 36.8L38.5 37.0L40.0 36.5L42.0 36.5L49.2 38.8L55.0 39.2L56.2 40.0L57.2 39.2L59.0 40.2L59.5 41.2L59.2 42.2L56.8 45.2L45.2 46.5L42.2 48.0L39.5 48.5L34.0 51.5L33.0 52.5L31.8 55.2L30.8 56.5L31.2 65.5L30.0 67.0L30.2 67.2L31.0 66.5L31.5 66.5L32.2 67.5L32.2 69.0L31.5 69.8L29.0 70.2L28.2 71.2L28.5 72.5L30.8 73.8L32.8 74.0L33.8 73.5L34.8 73.5L37.8 76.8L38.0 77.8L39.2 79.5L39.5 81.2L42.2 82.8L42.8 82.8L43.0 82.2L43.0 80.8L43.5 80.0L50.0 79.8L50.5 80.5L51.0 85.2L52.2 85.8L55.8 82.5L56.0 81.0L55.0 79.5L54.8 77.8L54.0 76.2L44.8 66.0L44.5 64.8L45.2 63.8L48.0 62.8L49.0 61.8L49.5 60.5L50.8 59.5L51.0 59.8L54.8 59.5L58.8 58.0L59.5 58.0L61.0 57.0L61.2 55.2L60.5 54.0L60.5 50.5L61.8 48.8L63.2 49.5L64.0 49.0L64.0 48.2L62.8 47.0L62.8 46.5L64.2 44.8L63.5 41.2L61.8 39.8L60.5 38.0L60.2 35.5L59.5 33.8L58.8 33.8L57.5 34.5L56.0 34.5L53.8 32.5L50.0 31.2L48.8 29.5L46.8 29.2L44.0 27.8L43.2 26.2L43.2 25.2L43.8 24.8L47.5 23.8L49.0 22.5L49.5 20.8L45.2 23.0L44.2 23.0L44.0 22.2L45.0 20.8L47.2 18.5L50.0 17.0L50.8 15.5L50.8 14.5L49.5 12.8L51.0 10.2L53.2 8.5L55.0 6.2L54.8 6.0L54.5 7.0L53.2 8.0L51.8 8.0L50.2 7.0L50.0 3.5L51.0 2.8L53.0 2.8L53.8 2.2L52.2 0.8Z" fill="#a7d0e4" fill-rule="evenodd"/><path d="M81.5 136.2L82.0 138.0L82.8 138.5L82.5 136.8ZM44.8 113.2L43.8 113.2L42.5 114.0L40.5 114.5L40.8 115.5L42.2 117.5L45.0 116.8L45.8 116.0L45.5 114.2ZM51.5 104.5L51.5 108.8L52.8 109.2L56.8 108.5L57.0 104.8L56.5 104.2L51.8 104.2ZM65.8 86.5L66.2 87.2L67.8 87.0L67.5 86.0L66.2 86.0ZM85.2 80.5L85.2 81.2L86.5 81.2L86.2 80.2ZM30.0 71.2L30.0 72.2L31.0 73.0L32.5 72.8L32.5 71.8L31.8 70.8L30.8 70.8ZM74.8 66.8L74.0 67.8L74.0 68.5L76.0 68.8L76.2 67.8L75.2 66.8ZM77.8 51.0L77.5 51.5L78.2 51.8L78.2 51.2ZM79.5 40.5L79.2 42.0L79.5 42.5L80.2 42.5L80.5 40.8ZM74.8 34.2L75.0 34.8L76.0 34.5L76.0 34.2ZM60.2 24.8L59.2 25.5L59.2 26.2L60.5 27.5L61.2 27.5L61.5 25.8L61.0 25.0ZM52.2 0.8L50.5 1.5L48.5 1.8L44.5 4.0L42.0 4.5L39.8 6.2L36.5 7.5L34.5 9.5L34.5 9.8L36.0 9.8L36.8 10.5L36.8 13.0L36.0 13.8L33.5 13.8L32.2 15.2L30.5 15.5L29.5 14.2L29.2 12.2L25.5 13.8L23.5 15.2L17.5 21.5L15.2 21.8L12.8 20.5L8.5 20.0L6.8 21.2L6.2 22.0L6.5 22.5L10.8 22.2L11.5 22.8L11.8 23.2L11.5 25.0L9.8 26.8L9.8 27.8L12.2 30.8L17.0 31.8L19.5 33.2L20.8 32.0L25.2 34.0L27.5 35.8L27.8 36.2L27.5 37.0L26.0 38.8L25.0 38.8L22.2 37.8L20.2 35.8L20.5 36.0L20.0 37.8L20.0 39.5L21.0 40.8L22.5 41.8L25.2 42.5L26.8 42.5L30.5 41.0L35.5 36.8L38.5 37.0L40.0 36.5L42.0 36.5L48.0 38.5L51.0 39.0L53.2 39.0L55.5 39.5L56.5 38.8L57.2 38.8L58.5 39.2L59.8 40.5L59.8 42.0L58.2 44.8L57.5 45.5L50.2 46.2L49.0 46.8L46.5 46.8L44.2 47.2L41.8 48.5L39.2 49.0L33.2 52.5L31.0 56.2L31.5 58.5L31.2 62.2L32.0 64.2L33.0 69.8L35.0 73.2L38.2 77.0L40.2 81.0L42.2 82.5L42.8 82.2L43.0 80.2L43.5 79.8L50.0 79.5L50.8 80.5L51.0 84.8L51.8 85.5L52.5 85.2L55.0 82.8L55.5 81.8L54.5 79.2L54.2 77.2L51.8 73.8L44.2 65.8L44.2 64.2L45.2 62.5L45.8 62.2L47.0 62.8L48.2 61.8L48.2 60.2L48.8 59.0L50.5 57.5L51.5 57.8L52.2 59.0L54.8 59.2L57.5 58.0L59.2 57.8L60.2 57.0L60.5 56.5L60.2 55.5L59.5 55.0L57.8 55.2L56.0 56.5L54.2 56.5L53.0 57.5L52.0 57.5L50.5 55.5L50.5 54.8L52.0 53.2L53.2 53.2L53.8 53.8L53.8 54.5L54.5 54.8L56.2 53.2L57.0 52.0L59.5 51.2L61.2 48.5L62.0 46.2L63.8 44.2L63.0 41.8L61.0 40.0L60.0 38.5L59.5 35.8L59.0 35.0L58.5 34.8L56.2 35.2L55.0 34.8L53.5 33.2L50.0 32.0L48.2 30.5L46.0 30.0L45.0 28.5L44.0 28.0L43.2 27.0L43.2 25.0L44.0 24.5L45.5 24.2L47.2 22.2L48.8 21.5L49.0 21.0L45.2 23.0L44.2 23.0L44.0 22.2L45.0 20.8L47.2 18.5L50.0 17.0L50.8 15.5L50.8 14.5L49.5 12.8L51.0 10.2L54.0 7.8L53.8 8.0L51.2 8.0L50.2 7.2L49.8 5.2L50.0 3.2L50.5 2.8L53.0 2.5L53.5 1.8Z" fill="#87beda" fill-rule="evenodd"/><path d="M45.0 113.5L44.2 113.2L40.8 114.5L41.2 116.0L42.2 117.2L44.5 116.8L45.5 116.0L45.5 114.8ZM51.5 104.8L51.8 108.5L52.2 109.0L56.2 108.8L56.8 108.2L57.0 106.0L56.8 104.5L52.0 104.2ZM53.8 58.5L55.2 58.8L56.2 58.2L56.8 57.5L54.5 57.5ZM59.5 56.5L58.5 56.2L57.5 57.2L59.0 57.2ZM60.8 41.0L58.8 44.2L58.8 45.0L58.0 45.8L56.2 46.2L52.8 46.2L48.0 47.2L46.2 47.2L44.0 47.8L41.8 48.8L40.0 49.0L36.0 51.0L32.8 53.2L31.2 55.8L31.8 58.2L31.5 62.0L32.5 64.8L33.2 69.2L34.8 72.5L37.5 75.5L40.0 79.2L40.8 81.0L42.0 82.0L42.5 82.0L42.8 80.2L43.5 79.5L50.0 79.2L51.0 80.5L51.5 85.0L52.2 85.0L55.0 82.0L55.0 81.0L54.2 79.5L54.0 77.2L53.5 76.2L49.5 71.5L44.2 66.2L43.8 64.8L44.5 62.2L46.8 60.2L46.0 58.5L46.0 57.0L46.8 55.2L49.8 54.2L52.8 52.5L55.0 52.8L57.8 51.0L58.8 51.0L59.8 50.2L61.2 47.5L61.5 46.0L63.2 44.2L62.8 42.5ZM52.5 1.2L51.5 1.2L50.0 2.0L48.8 2.0L44.5 4.2L42.5 4.8L38.8 7.0L36.0 8.0L34.5 9.5L36.0 9.5L37.0 10.8L37.0 13.0L36.2 13.8L33.5 14.0L32.2 15.5L30.5 15.8L29.5 15.0L29.0 12.2L25.5 13.8L23.5 15.2L17.5 21.5L15.2 21.8L12.8 20.5L8.5 20.0L6.8 21.2L6.5 22.0L7.0 22.2L10.8 22.0L11.8 22.8L12.0 23.2L11.5 25.5L10.0 27.2L10.8 28.5L12.8 30.2L13.0 31.0L17.0 31.8L19.0 33.0L20.2 32.0L21.2 32.0L26.0 34.2L27.8 35.8L27.8 36.8L26.2 38.8L24.5 38.8L23.0 38.2L20.2 36.2L20.0 37.8L20.2 39.5L23.2 42.0L26.8 42.5L29.5 41.5L31.2 40.5L35.5 36.8L38.5 37.0L40.0 36.5L42.0 36.5L47.2 38.2L49.8 38.2L51.0 38.8L53.5 38.8L53.8 39.0L57.0 38.2L59.8 39.5L59.2 38.5L59.0 36.5L58.5 35.8L56.0 35.8L54.5 35.0L52.5 33.2L50.5 32.8L47.8 31.0L45.5 30.5L44.8 29.8L44.5 28.8L43.2 27.5L43.0 26.5L43.2 24.8L45.2 24.0L46.0 22.5L45.2 23.0L44.2 23.0L44.0 22.8L44.2 21.8L47.2 18.5L50.0 17.0L50.8 15.5L50.8 14.5L49.5 12.8L51.0 10.2L53.5 8.2L51.5 8.2L50.5 7.8L49.8 5.8L50.0 3.0L50.8 2.5L52.5 2.5L52.8 2.2Z" fill="#5fa5cd" fill-rule="evenodd"/><path d="M44.8 113.5L41.0 114.5L41.0 115.2L42.2 117.0L43.2 117.0L45.2 116.2L45.5 115.0ZM51.8 104.8L52.0 108.2L52.5 108.8L54.5 108.2L56.0 108.5L56.5 108.0L56.8 106.5L56.5 104.5L52.0 104.5ZM62.0 42.5L60.5 42.2L59.2 44.0L59.2 45.5L57.0 46.5L50.8 46.8L49.0 47.5L46.5 47.8L45.8 48.2L43.8 48.2L42.0 49.0L40.2 49.2L35.8 51.5L32.2 54.0L31.5 55.5L32.0 58.0L31.8 61.8L32.8 64.5L32.8 66.0L33.5 69.2L35.0 72.5L37.5 75.2L39.8 78.2L40.8 80.5L42.0 81.8L42.5 81.5L42.5 80.2L43.8 79.2L50.0 79.0L51.2 80.2L51.2 82.5L51.8 84.8L52.5 84.5L54.2 82.5L54.5 80.8L54.0 80.0L53.5 76.8L49.5 71.8L43.8 66.0L43.5 64.5L44.0 62.5L45.5 59.8L45.2 59.0L46.0 55.5L47.0 54.5L49.5 53.8L52.0 52.2L55.0 52.0L57.0 50.8L58.8 50.5L60.0 49.2L60.8 47.8L61.0 45.8L62.8 44.0ZM58.5 38.0L57.8 36.5L56.0 36.2L54.5 35.5L52.5 33.8L50.0 33.0L47.8 31.5L45.2 31.0L44.2 30.0L42.8 26.0L43.0 25.0L45.2 23.5L45.2 23.0L44.0 22.8L44.2 21.8L47.2 18.5L48.5 18.0L48.8 17.0L50.8 15.2L50.8 14.5L49.5 12.8L51.0 10.2L53.2 8.5L51.0 8.2L50.0 7.2L49.5 5.2L49.5 3.5L50.5 2.2L52.2 2.2L52.2 1.8L47.8 2.8L44.5 4.5L42.0 5.2L39.5 7.0L38.2 7.2L35.0 9.0L36.2 9.5L37.0 10.2L37.2 12.8L36.0 14.0L33.5 14.2L33.2 15.0L32.2 15.8L31.2 16.0L29.8 15.8L29.2 15.2L28.8 12.8L28.2 12.5L25.5 13.8L23.5 15.2L17.5 21.5L15.2 21.8L12.8 20.5L10.2 20.0L8.5 20.0L6.5 21.5L11.2 22.0L12.0 22.5L11.8 25.5L10.5 27.0L10.5 27.5L11.2 28.5L13.2 30.0L13.5 31.0L17.0 31.8L19.0 33.0L19.8 32.0L21.0 31.8L25.5 33.8L28.0 35.5L28.0 36.8L26.2 39.0L24.8 39.0L22.5 38.2L20.2 36.2L20.0 38.2L22.0 40.5L24.2 42.2L26.8 42.5L29.5 41.5L31.2 40.5L35.5 36.8L38.5 37.0L40.0 36.5L42.0 36.5L44.2 37.2L46.0 37.2L47.0 37.8L49.8 37.8L53.0 38.2L54.8 38.2L55.5 37.8ZM34.0 33.2L34.5 34.2L31.8 36.8L31.0 36.8L30.2 36.0L30.2 34.8L31.2 33.5Z" fill="#3f8ec0" fill-rule="evenodd"/><path d="M44.8 113.8L42.0 114.2L41.2 114.8L42.2 116.8L42.8 117.0L45.2 116.0L45.2 114.5ZM56.5 104.8L55.8 104.5L55.5 104.8L52.2 104.8L52.0 105.0L52.5 106.0L52.2 107.5L52.5 108.2L53.2 108.0L53.0 106.5L53.5 106.0L56.0 107.2L56.5 106.2ZM51.8 79.8L51.5 81.8L52.0 83.8L52.2 83.8L52.8 82.5L54.0 81.5L53.2 80.0L52.5 80.2ZM54.8 47.0L50.5 47.2L48.5 48.8L48.0 50.0L49.2 51.8L49.2 52.2L48.5 53.0L44.8 52.8L42.2 54.2L40.5 54.0L39.5 53.0L39.5 51.8L40.8 50.8L42.8 50.2L43.5 49.2L40.2 49.8L36.0 51.8L32.0 54.8L32.0 57.8L32.5 59.2L32.2 62.5L33.0 64.2L33.5 68.8L35.2 72.5L39.8 77.8L41.0 80.2L42.0 81.2L42.5 79.8L43.8 79.0L50.8 78.8L51.8 79.2L52.0 79.0L53.0 79.2L53.0 76.8L52.5 75.8L49.2 71.8L47.0 70.0L45.5 68.0L43.2 66.0L43.2 64.0L45.0 60.2L45.0 57.8L45.8 55.2L47.2 53.8L50.2 52.8L52.0 51.8L54.8 51.5L55.2 51.0L55.2 50.2L54.8 49.5L55.0 47.8ZM60.2 46.5L58.8 46.2L57.5 47.0L57.5 48.0L58.2 49.8L59.0 49.8L59.8 49.0L60.2 48.0ZM59.8 43.8L60.0 44.8L61.2 44.8L62.0 44.2L62.0 43.5L61.5 43.0L60.2 43.0ZM35.5 36.0L35.0 35.5L33.5 36.0L30.5 39.5L29.8 39.0L28.8 36.0L27.5 38.0L26.0 39.2L23.0 38.8L20.2 36.8L20.2 37.8L24.5 42.2L26.0 42.5L27.8 41.5L31.2 40.5L35.5 36.8ZM55.5 37.0L54.8 36.0L52.5 34.2L50.0 33.5L47.2 31.8L45.8 31.8L44.5 31.2L42.8 27.2L42.8 25.0L44.8 23.5L44.8 23.0L44.2 23.0L44.0 22.2L46.8 19.0L47.5 15.2L48.2 14.5L49.2 14.8L50.8 14.5L49.5 12.8L51.0 10.2L52.2 9.2L51.0 8.5L49.8 7.0L49.2 4.8L49.5 2.8L48.0 3.0L44.8 4.8L42.8 5.2L40.5 6.8L36.0 8.8L37.2 10.5L37.5 12.2L37.2 13.2L36.2 14.0L34.0 14.2L32.8 15.8L31.5 16.2L28.0 16.2L27.8 16.5L26.5 16.0L27.0 15.5L28.0 15.5L28.8 15.0L28.8 13.8L27.8 12.8L25.5 13.8L23.5 15.2L20.5 18.5L21.0 19.0L20.0 19.8L19.2 19.8L17.5 21.5L15.2 21.8L12.8 20.5L10.2 20.0L8.5 20.0L7.2 21.0L7.2 21.2L11.5 21.8L12.2 22.5L12.5 23.2L11.8 26.0L10.8 27.0L11.0 27.8L12.5 28.8L13.5 28.8L14.8 27.8L16.0 27.8L17.5 29.2L18.2 30.8L17.8 31.2L17.0 31.2L14.5 30.0L14.2 31.2L17.0 31.8L18.8 32.8L19.8 31.8L21.2 31.5L25.0 33.0L28.5 35.2L29.5 33.5L31.0 32.5L36.5 31.8L38.0 33.2L38.5 35.2L38.2 37.0L40.8 36.5L39.5 32.0L40.5 31.5L42.2 33.2L42.2 35.8L42.0 36.0L42.2 36.8L43.2 37.0L45.8 36.8L47.5 37.5L53.2 37.5L53.5 37.8Z" fill="#2f79b5" fill-rule="evenodd"/><path d="M45.0 114.2L44.0 114.0L43.0 114.5L42.0 114.5L41.5 115.2L42.2 116.5L43.5 116.5L45.2 115.5ZM55.2 105.0L55.5 105.5L56.2 105.5L56.2 105.0ZM33.0 54.5L32.2 55.2L32.2 57.2L32.5 58.0L33.8 59.0L33.8 59.8L32.5 61.2L33.2 64.0L33.2 66.5L33.8 69.0L35.5 72.5L40.8 78.2L41.5 80.2L42.0 80.5L42.5 79.2L43.2 78.8L48.8 78.5L51.8 77.5L52.2 77.0L52.2 76.0L51.5 74.8L45.0 68.0L42.8 66.5L43.0 63.8L44.8 60.2L44.8 57.0L45.5 54.0L41.0 54.8L39.2 53.8L38.2 53.8L36.8 55.2L36.0 55.2L35.5 54.5L35.5 53.2L35.0 53.2ZM49.2 49.8L49.5 50.5L50.2 51.0L54.0 50.5L53.5 49.0L52.0 48.8L51.2 48.2ZM59.0 47.0L58.5 47.8L59.2 48.5L59.8 47.5ZM28.5 40.2L28.5 39.2L28.0 38.2L26.2 39.5L24.2 39.2L23.0 39.5L23.2 40.2L25.2 42.0ZM28.0 13.8L26.2 13.5L24.8 14.2L24.2 15.0L27.5 14.2ZM50.5 11.0L49.8 11.2L49.8 12.5ZM49.0 3.2L47.0 3.8L44.5 5.2L42.5 5.8L40.5 7.2L37.0 8.5L36.8 9.2L37.8 11.8L37.2 13.5L36.0 14.2L34.0 14.5L32.8 16.0L31.2 16.8L25.5 17.5L23.2 17.0L23.0 17.2L23.2 19.0L22.5 19.8L17.5 21.5L15.2 21.8L14.0 21.0L11.5 20.2L10.8 21.0L12.5 21.8L14.0 21.8L14.5 22.2L13.5 23.5L12.5 24.0L11.2 27.5L12.5 28.2L14.8 26.8L15.8 26.8L17.5 28.2L19.8 31.2L24.5 31.0L26.5 31.8L27.5 32.8L27.8 33.5L30.5 32.0L33.2 31.8L34.5 31.2L38.2 31.2L40.0 30.0L40.5 30.0L43.5 32.5L43.0 34.2L43.2 36.2L43.8 36.5L45.8 36.2L47.2 37.0L50.2 37.0L50.5 36.8L53.8 37.0L54.0 36.5L51.5 34.2L50.0 34.0L47.2 32.2L44.0 32.2L43.5 31.8L42.8 29.2L41.8 28.2L42.5 27.0L42.5 25.0L44.5 23.2L44.0 22.2L45.0 21.0L45.8 19.2L46.0 17.5L46.8 15.8L47.0 13.0L50.5 8.8L49.5 7.0ZM46.0 7.5L46.8 7.2L47.0 7.8L46.5 8.0Z" fill="#1f63a8" fill-rule="evenodd"/><path d="M44.8 114.5L42.2 115.2L42.8 116.0L44.5 115.8ZM33.0 55.8L32.8 56.0L33.0 57.2L34.5 58.5L34.2 62.8L35.8 63.2L36.8 64.2L38.0 64.2L39.8 65.0L39.2 65.8L37.0 65.8L34.5 65.0L33.5 65.5L33.8 68.2L35.5 72.2L38.0 74.8L38.8 76.0L41.2 77.5L44.5 78.5L49.0 78.0L51.5 77.0L51.8 76.5L51.5 75.2L49.8 73.0L44.5 68.2L42.5 67.5L41.8 66.8L43.0 62.8L44.5 60.0L44.2 58.5L44.5 55.5L44.0 55.0L40.8 55.2L39.5 54.5L38.5 54.5L36.0 56.2L34.5 56.2L34.0 55.8ZM44.0 34.5L44.5 35.5L47.8 36.0L48.5 35.5L48.5 34.0L47.2 32.8L45.5 33.0ZM48.0 9.2L45.8 9.2L42.0 11.5L41.0 11.5L40.0 10.8L40.8 8.2L40.5 8.0L38.2 8.2L37.2 9.0L37.2 9.8L38.2 11.5L38.2 12.5L37.0 14.0L34.2 14.8L31.8 17.2L26.8 17.8L24.8 18.5L21.8 20.8L16.2 22.2L13.8 24.8L13.0 24.5L12.5 25.0L11.8 27.2L12.8 27.5L14.2 26.0L15.0 25.8L16.8 26.8L20.2 30.5L24.5 30.5L28.5 31.8L30.8 31.8L34.0 30.8L37.8 30.8L38.8 30.2L40.2 28.2L41.8 27.0L42.5 24.8L44.0 23.5L44.0 22.2L45.2 19.0L45.8 13.8ZM44.0 6.0L42.8 6.2L42.2 7.0L43.2 7.5L44.2 6.8ZM46.5 4.5L46.0 5.5L48.2 6.0L48.8 6.8L48.8 8.5L49.2 8.5L49.5 7.5L48.8 5.8L48.8 4.2L47.8 4.0Z" fill="#124984" fill-rule="evenodd"/><path d="M34.0 65.8L33.8 66.2L34.0 68.5L35.5 71.8L39.8 76.2L44.8 78.0L47.2 78.0L51.0 76.8L51.2 75.8L49.2 72.8L46.0 70.5L44.2 68.8L42.2 68.0L40.5 66.2L38.2 66.5L35.5 65.8ZM34.8 57.2L35.0 58.5L34.8 61.2L35.2 62.2L37.5 64.0L39.0 64.0L40.8 64.8L41.8 64.8L44.2 59.8L43.8 55.8L43.5 55.5L42.5 55.8L41.8 57.0L39.0 55.0L37.2 56.8ZM46.2 10.8L45.5 10.8L43.5 13.5L42.5 13.5L41.2 12.5L39.8 12.5L37.0 14.2L34.5 15.0L33.0 17.8L32.0 18.5L30.0 17.8L28.2 17.8L26.8 18.2L21.8 21.2L19.8 21.5L18.0 22.5L16.8 22.8L15.5 23.5L15.2 25.0L19.2 29.0L21.2 30.0L24.5 30.0L29.0 31.2L31.2 31.2L33.5 30.0L37.2 30.2L38.2 29.5L39.2 28.0L41.5 26.5L42.2 24.5L43.8 23.0L43.8 22.0L44.8 19.0L44.8 13.0ZM39.0 9.2L38.2 9.0L38.0 9.8Z" fill="#053061" fill-rule="evenodd"/><path d="M81.0 141.2L79.5 140.8L72.5 141.0L69.8 141.8L65.5 142.0L63.5 143.0L79.8 143.0ZM48.8 82.8L48.5 84.0L49.5 84.8L49.8 83.0ZM105.5 79.5L104.0 79.2L99.0 81.2L94.8 81.8L92.2 83.0L91.0 83.0L89.0 84.0L87.5 83.8L85.2 84.0L83.5 85.0L81.8 85.5L81.5 86.5L80.0 87.8L79.8 88.8L79.0 89.5L77.5 88.5L76.5 89.2L75.0 89.0L75.0 88.0L75.5 87.5L77.0 87.2L77.8 86.2L77.2 85.8L74.8 86.0L72.8 85.2L70.0 85.5L69.2 86.5L69.0 88.0L68.0 88.8L66.0 88.5L63.5 88.8L62.5 88.0L62.2 86.8L61.8 86.2L60.0 86.2L58.2 87.0L58.2 87.8L58.8 88.5L58.5 89.2L55.0 89.5L53.8 89.2L49.8 85.2L48.0 86.2L45.2 86.5L42.2 88.0L41.8 89.0L42.0 90.0L44.5 93.0L45.8 93.5L48.5 96.8L49.0 98.2L48.2 100.5L46.5 100.2L50.2 103.8L51.5 103.2L55.5 103.2L57.2 103.8L57.8 104.5L57.8 108.5L56.8 109.8L54.0 110.0L53.0 111.0L50.8 111.0L46.5 111.8L45.2 112.5L46.2 114.8L46.5 116.8L47.0 117.2L50.0 117.8L53.8 121.5L54.2 123.0L54.0 125.0L52.8 126.2L52.2 127.5L52.5 131.2L50.5 133.0L49.8 135.8L49.8 137.5L47.0 143.0L58.8 143.0L58.5 138.5L59.5 137.5L62.0 137.5L68.5 136.2L77.2 135.2L81.2 133.5L84.0 134.5L84.8 135.8L85.2 139.5L84.5 140.5L82.5 141.2L83.8 143.0L105.5 143.0L103.2 140.8L102.8 139.8L101.8 140.2L100.0 140.0L98.8 138.8L98.2 136.5L98.8 135.8L99.8 135.2L103.5 135.2L104.2 134.5L106.0 131.5L106.0 125.2L103.0 124.8L100.2 125.5L99.2 125.2L97.0 125.5L94.2 124.0L92.0 123.5L89.2 122.2L88.5 121.5L87.5 119.2L87.5 117.5L88.5 116.5L91.0 115.2L93.8 115.0L95.8 113.8L101.5 113.5L104.2 112.8L105.0 112.0L104.8 110.5L102.5 111.0L101.8 110.5L101.8 109.5L103.5 108.8L106.0 109.0L106.0 104.5L99.5 104.8L98.8 105.5L97.8 105.5L97.0 104.8L96.5 103.5L96.5 100.0L97.0 98.5L98.5 97.5L104.8 97.8L106.0 97.2L106.0 80.0ZM62.0 129.8L63.0 130.8L63.0 131.5L62.0 132.5L60.8 133.0L57.5 136.5L56.5 137.0L55.5 136.8L53.2 134.5L52.8 133.5L53.5 132.5L56.0 131.5L59.8 129.0L60.8 129.0ZM82.5 124.0L83.0 124.0L84.0 125.2L83.8 127.5L84.0 129.5L83.8 129.8L83.0 129.8L80.2 126.8L80.2 126.0ZM78.5 118.5L79.0 119.5L78.2 120.5L77.5 120.8L77.0 120.2L77.0 119.2L77.8 118.5ZM72.2 122.0L71.8 122.5L70.2 122.8L67.0 124.2L63.5 125.2L62.8 124.2L62.5 123.0L60.0 120.5L61.0 119.5L63.2 119.5L64.8 119.0L67.2 119.0L69.5 118.5L72.0 121.0ZM58.0 114.2L58.5 114.0L58.8 114.5L58.2 114.8ZM84.2 94.5L84.8 94.0L87.0 94.2L91.5 94.0L92.2 94.5L92.0 97.2L91.0 98.0L85.5 98.0L84.5 97.0ZM102.5 72.2L101.8 73.5L102.2 74.5L103.2 74.5L103.8 74.2L104.0 73.0L103.2 72.2ZM100.2 75.8L100.2 74.8L99.8 73.8L98.0 72.0L96.2 72.0L90.5 73.0L90.5 74.2L92.0 76.2L95.2 76.2L95.5 76.0L99.8 76.2ZM29.0 59.0L24.2 63.0L24.2 64.8L25.0 65.8L27.0 66.2L29.0 66.0L30.2 63.0L30.0 61.0ZM83.5 59.5L81.8 58.0L81.2 56.0L80.8 55.5L79.0 55.2L78.0 55.8L75.2 55.8L73.8 56.2L73.0 57.0L73.5 58.0L73.5 59.2L72.8 60.8L71.0 60.5L69.2 58.5L68.2 58.0L64.2 57.8L60.5 59.0L57.8 59.5L55.0 60.8L51.8 61.2L49.0 64.0L46.5 65.0L46.2 65.8L47.5 67.0L48.0 68.2L55.0 75.8L57.0 77.5L58.5 78.2L59.5 78.2L60.8 77.0L63.8 72.2L64.0 70.0L62.8 68.5L62.0 66.8L62.0 65.8L62.8 65.0L65.2 65.0L67.8 64.0L70.2 64.0L72.5 64.5L73.0 64.0L73.0 61.5L74.0 61.0L77.0 62.2L77.8 63.0L78.0 64.2L79.2 65.8L79.0 68.2L79.5 69.5L80.5 70.5L81.2 70.5L83.2 69.0L83.2 68.2L82.5 67.0L82.8 65.5L82.5 64.0L82.8 62.2L83.5 60.8ZM20.5 33.2L20.2 33.8L20.5 34.8L22.8 37.0L24.5 37.8L25.8 37.8L26.2 37.2L26.5 36.0L26.0 35.5L21.5 33.2ZM82.5 33.0L82.0 33.5L82.0 35.5L82.5 37.2L83.5 39.0L84.0 40.8L86.8 43.8L85.5 45.8L85.2 51.0L88.2 54.0L87.5 58.0L90.2 61.0L92.0 61.8L95.0 62.2L96.2 61.5L98.0 59.5L99.5 50.2L99.0 48.8L99.0 47.2L97.8 44.0L95.0 41.5L93.2 38.2L91.8 37.5L90.2 36.0L85.0 33.2ZM73.5 23.5L73.2 24.2L74.0 24.5L74.2 24.0L74.0 23.5ZM70.2 23.0L70.5 25.0L71.2 25.0L72.5 24.2L71.0 22.8ZM59.5 19.2L60.5 20.2L62.0 20.8L63.8 20.8L68.0 19.8L70.2 18.8L75.5 17.8L80.8 23.2L83.2 24.5L84.8 24.5L86.0 23.8L88.2 23.2L87.5 22.5L88.2 21.2L87.8 17.5L85.2 16.2L83.0 14.5L80.8 13.8L76.5 14.2L73.2 13.5L70.0 13.8L63.0 15.5L60.8 16.5L59.8 17.5ZM34.0 10.8L33.8 11.0L34.0 12.2L34.5 12.8L35.5 12.8L35.8 11.2L35.2 10.8ZM50.8 3.8L50.5 5.0L51.0 6.8L52.0 7.2L53.5 7.0L54.0 4.0L53.5 3.5Z" fill="#fbe3d4" fill-rule="evenodd"/><path d="M64.2 143.0L68.2 143.0L68.2 142.8L65.0 142.5ZM79.5 141.5L78.8 141.0L75.2 141.5L71.5 141.5L70.2 142.0L69.5 143.0L79.0 143.0ZM86.0 84.2L85.2 84.8L85.2 85.5L86.0 87.2L86.8 88.0L87.2 88.0L87.5 84.8L87.0 84.2ZM105.0 80.0L104.2 79.8L102.5 80.5L101.5 80.5L99.0 81.8L95.8 82.0L93.8 82.8L93.2 83.5L94.2 84.8L94.5 86.5L93.2 87.2L90.8 86.0L90.0 86.8L90.2 88.5L92.2 89.8L92.2 91.0L91.8 91.5L88.5 91.0L87.8 90.5L86.0 90.5L82.8 91.2L81.0 90.2L77.8 90.5L76.0 90.0L74.0 90.0L73.5 89.2L73.8 86.5L72.8 85.8L70.2 86.0L69.5 87.0L69.2 88.2L68.0 89.0L66.8 88.8L63.2 89.0L62.2 88.2L62.0 87.0L61.0 86.5L59.0 87.5L59.5 88.5L59.0 89.5L54.0 89.5L53.0 89.0L51.8 87.2L49.8 85.5L47.8 86.5L45.0 86.8L43.0 87.8L42.0 88.8L42.0 90.0L44.0 92.5L45.8 93.5L48.5 96.8L49.0 98.2L48.8 99.8L48.2 100.5L47.0 100.2L49.0 101.8L50.2 103.2L56.5 103.2L57.8 104.2L58.0 105.0L57.8 109.0L57.0 109.8L54.8 110.0L53.8 111.5L51.5 111.0L50.2 111.5L46.8 111.8L45.5 112.2L46.5 115.5L46.5 116.5L47.5 117.2L49.0 117.2L50.2 117.8L53.0 120.8L54.8 121.8L54.8 125.0L53.0 127.2L53.2 132.0L55.5 131.5L58.2 129.8L59.8 128.2L61.2 128.5L63.0 129.8L63.5 130.5L63.5 131.8L62.5 132.8L61.0 133.2L59.2 135.0L58.2 136.8L56.8 137.2L55.8 137.2L53.5 135.8L52.2 133.2L51.8 133.0L51.0 133.8L51.0 135.8L51.5 136.8L48.5 140.2L47.8 142.0L47.8 143.0L57.8 143.0L57.2 141.0L58.0 140.2L58.0 138.5L59.0 137.0L61.8 137.2L62.8 136.8L65.0 136.8L67.5 136.0L69.8 136.0L71.8 135.5L73.8 135.5L75.0 135.0L77.0 135.0L78.5 134.2L79.2 133.5L79.2 133.0L78.0 132.0L77.5 130.5L77.8 129.8L79.2 128.2L78.8 127.0L78.8 125.5L80.5 124.0L81.0 122.8L80.8 121.5L80.2 121.0L79.5 121.0L77.5 122.8L77.0 124.8L74.8 126.2L72.0 126.0L71.5 126.5L71.8 127.8L71.0 129.0L70.0 129.0L68.5 127.8L66.8 127.5L66.2 126.5L67.5 125.2L71.5 125.0L72.0 124.0L71.8 123.2L70.2 123.2L67.8 124.5L64.8 125.2L64.0 126.0L63.8 127.2L63.0 127.8L62.0 126.8L62.5 125.8L62.2 123.2L61.0 122.0L59.2 121.2L59.2 120.5L60.8 119.0L67.0 118.8L68.2 118.2L70.0 118.5L71.5 120.0L73.5 120.0L74.8 120.8L75.5 120.8L76.5 118.5L78.2 117.5L79.0 117.5L80.8 118.8L83.0 118.8L84.2 119.8L84.5 120.8L84.0 122.5L84.5 123.8L84.8 127.5L85.5 128.8L85.5 130.0L84.5 131.2L83.2 131.8L81.8 131.5L81.2 131.8L81.2 132.2L82.0 132.5L84.8 134.8L85.0 137.0L85.5 138.0L86.2 138.2L88.0 136.5L88.0 135.5L87.5 134.8L88.0 132.0L86.8 128.8L87.0 127.8L88.0 126.5L88.8 126.5L90.5 128.0L90.0 129.0L90.0 130.5L90.5 131.0L91.8 131.2L93.0 132.2L94.5 132.5L95.5 133.8L94.2 135.8L94.2 137.5L93.5 138.2L92.0 137.5L90.5 137.5L87.2 139.5L86.0 139.5L84.8 141.2L85.8 142.2L86.0 143.0L100.0 143.0L100.5 141.5L97.8 138.5L97.5 135.8L100.0 134.5L103.0 134.0L103.8 133.2L104.2 131.5L106.0 128.0L106.0 125.8L104.8 125.2L101.2 125.5L100.5 126.0L100.2 128.2L99.8 128.8L98.5 128.8L97.5 127.8L97.2 126.0L94.8 124.5L92.5 124.0L88.8 122.5L86.8 119.5L86.8 118.2L88.2 116.2L89.5 115.8L91.0 114.2L92.0 114.8L93.2 114.8L95.8 113.2L101.0 113.2L102.8 112.5L102.5 112.0L101.5 111.8L100.5 110.8L100.8 108.2L102.2 107.5L106.0 107.8L106.0 105.0L102.0 105.2L100.0 106.0L99.0 107.2L98.2 107.2L96.5 104.8L96.0 102.2L96.5 98.8L97.5 97.5L100.8 96.2L103.0 97.2L105.0 97.2L106.0 96.2L105.2 92.8L105.2 91.0L106.0 90.0L106.0 82.5L105.5 82.0L105.5 80.8ZM55.5 139.8L56.8 141.0L56.0 141.8L54.8 142.2L54.2 141.8L54.2 141.0ZM65.5 132.8L66.0 132.5L66.2 133.2L65.8 133.5ZM57.2 112.8L58.5 113.0L60.0 114.5L59.0 116.0L58.5 116.0L57.0 113.5ZM93.0 94.8L92.5 97.2L92.0 98.0L91.2 98.2L85.5 98.2L84.5 97.5L84.0 96.2L84.0 94.5L84.8 93.8L90.5 94.0L92.0 93.5ZM100.0 91.2L101.2 90.8L101.8 91.5L100.8 92.0ZM96.0 88.5L96.5 89.0L96.2 90.0L95.5 89.8L95.5 89.0ZM99.8 75.5L99.8 74.5L99.2 73.5L97.5 72.0L94.0 72.8L92.0 72.8L90.5 73.5L91.2 75.2L92.8 76.2L96.5 75.8L98.8 76.0ZM79.8 68.2L80.0 69.5L80.5 70.0L81.2 70.0L82.2 69.2L82.2 68.8L81.0 68.0ZM81.5 59.5L80.5 59.5L79.2 61.8L79.2 63.5L79.8 64.0L81.2 64.0L82.0 63.2L82.5 60.5ZM29.0 59.2L28.5 59.2L24.2 63.0L24.5 65.0L25.2 65.8L28.0 66.2L29.0 65.8L30.0 63.2L30.0 61.5ZM66.8 58.2L65.5 58.0L62.8 58.5L61.0 59.2L56.5 60.2L54.0 61.5L51.5 61.8L50.8 62.5L50.8 63.0L51.8 64.2L51.8 65.2L50.8 66.0L48.5 66.2L48.0 66.8L48.0 67.8L52.5 72.2L54.0 74.5L57.2 76.8L59.5 76.5L60.2 75.5L60.8 72.5L61.5 71.8L63.0 71.2L63.2 70.0L61.8 67.5L61.8 65.5L63.0 64.5L64.0 64.8L65.2 64.5L66.5 63.8L67.8 63.5L71.0 63.5L71.2 63.8L72.0 63.5L71.8 62.0L70.2 61.2L69.0 60.0L67.8 60.0L67.0 61.0L66.0 61.5L65.5 61.0L65.8 60.2L67.2 59.2ZM54.2 69.0L54.8 68.0L56.8 66.2L58.2 66.5L59.2 67.8L59.2 68.5L58.2 69.8L55.0 69.8ZM80.5 56.0L78.8 55.8L77.8 56.2L74.2 56.5L74.0 56.8L74.2 60.2L75.2 61.0L76.5 61.0L77.5 59.5L80.0 58.8L80.5 58.0ZM20.5 33.5L20.8 34.8L22.2 36.5L25.2 37.8L26.0 37.5L26.2 37.0L26.0 35.8L21.5 33.5ZM82.5 33.2L82.0 34.0L82.5 36.8L83.8 38.5L84.8 41.2L87.2 43.8L85.8 45.5L85.5 51.0L88.2 53.5L87.8 58.0L90.5 61.0L93.8 62.0L95.2 62.0L97.2 60.2L98.2 58.5L99.5 50.8L98.8 48.8L98.8 47.2L97.8 44.8L94.5 41.5L93.5 39.2L91.8 38.0L90.5 36.5L86.5 34.2L84.5 33.5ZM59.8 18.0L60.0 19.8L61.8 20.5L64.0 20.5L68.2 19.5L70.5 18.5L72.8 18.2L76.0 17.2L80.8 23.0L83.2 24.2L84.5 24.2L87.8 22.8L87.5 22.2L88.0 21.5L87.8 18.8L87.2 17.2L84.5 16.0L82.0 14.2L78.8 14.2L76.2 14.8L73.5 13.8L70.8 13.8L63.5 15.5L60.8 16.8ZM34.2 11.0L34.0 11.2L34.2 12.0L35.0 12.2L35.2 11.5ZM51.0 3.8L50.8 4.0L51.0 6.5L51.5 7.0L53.0 7.0L53.5 6.5L53.8 4.0L53.5 3.8Z" fill="#fbd0b9" fill-rule="evenodd"/><path d="M78.5 141.8L78.2 141.5L72.0 141.8L71.2 142.0L70.8 143.0L78.2 143.0ZM56.8 138.2L55.0 137.2L54.2 137.2L53.2 138.2L50.0 139.5L48.8 140.8L48.2 143.0L52.5 143.0L52.5 141.5L54.0 139.2L55.5 138.2ZM99.0 141.8L98.8 141.0L97.0 139.8L96.8 137.8L96.0 136.0L95.5 136.2L95.5 137.5L94.5 139.2L92.2 139.5L91.2 139.0L90.0 139.0L89.0 140.0L89.0 141.2L90.8 141.8L91.8 143.0L94.5 143.0L95.2 142.0L96.5 141.5L97.8 142.2L98.8 142.2ZM61.0 133.8L60.0 134.8L60.0 135.8L60.8 136.8L61.8 136.8L62.5 136.2L62.5 135.8L61.8 134.2ZM86.5 131.2L84.2 132.8L84.2 133.5L85.2 134.5L85.2 136.5L85.8 137.2L86.2 137.2L87.0 136.5L87.0 135.5L86.0 134.2L86.8 132.8ZM74.5 127.8L74.0 127.5L73.0 127.8L71.5 130.5L67.2 128.8L66.5 129.0L66.5 130.2L67.2 131.8L68.8 133.0L68.2 134.8L68.8 135.5L73.0 135.2L77.5 134.2L77.8 133.5L77.0 132.0L75.0 130.0ZM104.8 125.8L102.5 125.5L101.5 126.2L101.8 128.2L101.5 129.5L99.8 131.2L98.8 130.5L97.8 131.0L96.5 133.0L97.0 134.5L100.0 134.0L103.0 132.2L103.5 130.2L105.2 127.5L105.2 126.2ZM85.8 121.8L85.2 124.0L85.8 126.8L86.2 126.8L87.5 125.5L88.8 125.2L90.2 126.5L92.8 127.8L94.5 128.0L95.8 128.8L96.2 128.5L96.2 126.0L95.0 125.0L91.8 124.2L90.5 123.5L88.2 123.2L86.5 121.5ZM97.8 112.2L98.0 112.8L100.5 112.8L100.8 112.5L100.2 112.0ZM104.0 92.5L102.5 93.8L102.2 95.2L103.5 96.8L104.8 96.8L105.2 96.0L105.2 94.8L104.8 93.0ZM93.8 89.2L93.5 91.8L94.2 93.8L96.0 92.2L96.0 91.8L94.0 90.0ZM42.0 89.2L42.0 90.0L44.0 92.5L45.8 93.5L48.5 96.8L49.0 99.0L48.5 100.2L47.5 100.5L48.8 101.0L50.8 102.8L55.8 103.0L57.2 103.5L58.0 104.5L58.2 105.8L58.0 108.8L57.0 110.0L55.0 110.5L55.2 110.8L55.0 112.0L52.5 111.2L51.0 111.2L46.2 112.0L45.5 112.5L46.2 114.2L46.8 116.8L49.5 117.2L50.5 117.8L53.0 120.5L54.0 121.0L56.0 121.2L56.5 121.8L55.8 123.0L56.0 126.0L53.8 128.2L53.8 130.0L54.2 131.2L55.0 131.2L57.2 130.0L58.0 129.2L58.5 128.0L60.2 126.5L60.5 125.5L62.0 124.5L62.0 123.8L61.0 122.5L59.8 122.2L58.8 122.8L57.0 122.0L56.8 121.5L58.0 120.8L60.8 117.8L62.8 116.2L64.0 116.2L65.0 117.2L65.2 118.2L65.8 118.5L69.8 118.0L71.2 119.2L72.5 119.0L75.0 119.2L76.2 118.0L78.0 117.0L79.5 117.0L80.8 117.8L86.2 117.5L88.2 116.0L90.0 113.8L92.5 113.0L92.8 113.8L93.2 114.0L93.5 113.5L93.0 113.0L95.0 111.8L97.2 109.0L97.2 107.2L95.8 103.8L95.8 100.5L96.2 98.2L98.0 96.5L98.0 96.0L95.0 95.5L94.8 96.8L93.8 98.0L92.5 98.0L91.5 98.5L85.8 98.5L85.0 98.2L83.8 96.5L83.8 94.2L84.5 93.5L90.2 93.8L91.0 93.2L91.0 92.8L90.0 91.8L86.0 91.2L82.8 92.0L81.2 91.0L78.0 91.0L76.8 90.5L72.2 90.8L71.8 90.0L72.2 89.2L72.5 86.8L71.8 86.2L70.8 87.0L70.2 88.2L68.2 89.2L61.2 89.0L59.2 89.8L54.5 89.8L53.5 89.5L50.2 86.0L49.5 85.8L48.2 86.5L44.8 87.0L43.2 87.8ZM58.2 123.8L58.8 123.8L59.5 124.5L59.0 125.5L58.0 125.5L57.5 125.0L57.5 124.5ZM56.0 112.2L56.2 112.0L58.5 112.2L61.0 114.5L61.0 115.2L59.2 117.0L58.8 117.0L57.2 114.2L56.2 113.2ZM104.8 80.5L101.5 81.0L99.8 82.2L97.5 82.2L94.8 83.0L94.8 84.2L95.2 85.5L95.8 86.0L97.8 86.2L98.5 87.0L98.2 89.0L98.5 90.0L101.2 89.8L103.5 90.5L104.5 90.5L105.0 90.0L105.5 83.5ZM99.5 75.2L99.0 73.5L97.8 72.2L95.0 72.5L93.5 73.0L91.2 73.0L90.8 73.5L91.5 75.2L92.5 76.0L98.8 75.8ZM53.8 72.5L53.8 73.5L56.8 75.5L58.2 75.5L59.0 74.8L58.8 72.5L56.2 71.2L55.2 71.2ZM49.0 67.2L48.8 67.5L49.0 68.5L51.8 70.8L52.0 70.5L52.0 67.5L51.8 67.2ZM52.5 62.2L52.2 63.0L53.8 65.8L55.0 65.8L56.5 65.0L57.5 65.0L60.0 67.2L60.2 69.2L59.2 71.0L59.5 71.5L60.2 71.5L61.5 70.2L61.0 68.5L61.0 66.5L61.5 64.5L62.0 64.0L64.5 64.0L64.2 62.0L63.5 61.0L62.2 61.5L61.5 63.2L59.0 62.5L58.5 62.0L58.5 60.5L57.0 60.5L54.2 62.2ZM28.8 59.2L24.5 62.8L24.5 64.2L25.2 65.5L27.2 66.0L28.5 66.0L29.0 65.5L30.0 63.0L30.0 62.0ZM75.5 56.5L74.8 57.0L75.2 58.2L76.0 57.5L76.0 56.8ZM79.5 56.2L78.8 56.5L78.8 57.5L79.8 57.0ZM20.8 34.0L23.0 36.8L24.8 37.5L25.5 37.5L26.0 37.0L26.0 36.2L25.2 35.5L21.2 33.8ZM82.8 33.5L82.2 34.0L82.8 37.0L85.0 39.0L84.8 40.2L85.5 41.5L87.8 43.0L87.8 44.0L86.0 45.5L85.8 46.2L85.5 50.5L88.5 53.5L88.0 58.2L90.5 60.8L92.2 61.5L94.8 62.0L97.0 60.2L98.5 57.0L99.2 52.5L99.2 50.5L98.8 49.5L98.5 47.0L98.0 45.8L95.5 42.8L93.5 41.5L93.2 40.0L91.2 38.2L91.0 37.5L89.5 36.0L85.2 34.0ZM89.5 41.5L91.5 39.8L92.5 40.5L93.2 41.8L92.2 42.5L90.2 42.5L89.5 42.0ZM76.8 16.2L76.5 16.8L77.0 18.2L80.0 22.2L81.0 23.0L83.8 24.2L87.5 22.5L87.8 22.0L87.2 17.8L86.5 17.0L82.0 14.5L79.8 14.5L78.2 15.0ZM75.8 15.0L73.8 14.0L70.2 14.0L65.8 15.0L61.0 16.8L60.0 17.8L59.8 19.2L61.2 20.2L63.5 20.5L68.5 19.2L70.8 18.2L73.2 18.0L74.8 17.5L75.5 16.8ZM51.0 4.0L50.8 4.8L51.2 6.5L53.0 6.8L53.5 4.2L51.8 3.8Z" fill="#f7b799" fill-rule="evenodd"/><path d="M71.8 143.0L77.2 143.0L77.0 142.5L72.2 142.2ZM93.0 141.0L93.2 141.8L94.0 141.8L94.5 141.2L94.5 140.8ZM49.8 140.8L49.0 141.8L48.8 143.0L51.5 143.0L51.5 142.2L50.8 140.8ZM74.5 131.8L73.5 132.0L72.2 134.0L72.5 134.5L73.5 134.5L75.5 133.5L75.5 133.0ZM68.5 130.2L68.2 131.0L69.0 131.2L69.2 130.5ZM57.2 128.5L56.2 128.0L55.2 128.5L55.0 129.2L55.5 129.8L56.5 129.5ZM103.5 126.0L102.8 126.5L102.8 127.5L103.2 128.0L104.0 128.0L104.5 127.2L104.5 126.5ZM91.2 125.5L91.8 126.2L93.0 127.0L95.2 126.8L95.2 126.0L94.0 125.0L92.0 125.0ZM45.8 112.5L46.8 116.5L47.5 117.0L49.0 117.0L50.8 117.8L53.2 120.5L56.8 120.8L58.5 119.8L58.8 118.5L57.5 115.0L55.5 112.8L51.8 111.2L50.2 111.8L46.8 112.0ZM103.8 93.8L103.0 94.8L103.2 95.5L104.2 96.0L104.8 95.5L104.8 94.8ZM84.8 92.8L86.8 93.5L89.0 93.5L90.2 93.0L89.5 92.2L87.5 91.8L86.2 91.8ZM101.2 88.0L101.2 88.5L101.8 88.8L102.5 88.5L102.5 88.0L102.0 87.8ZM42.2 89.0L42.0 90.0L44.0 92.5L45.8 93.5L48.2 96.2L49.0 98.2L49.0 99.0L48.2 100.5L49.0 100.5L51.2 102.0L53.8 102.2L56.5 103.0L57.8 103.8L58.5 106.0L58.0 109.5L57.2 110.2L56.2 110.5L58.5 111.5L59.8 112.8L61.8 113.8L63.2 115.2L64.8 116.0L66.2 118.0L69.8 117.8L71.2 118.8L74.8 118.5L78.0 116.5L82.0 117.0L83.2 116.2L87.0 116.2L88.0 115.5L89.0 113.8L92.2 111.8L94.2 111.2L95.2 110.5L96.2 109.0L96.5 106.5L95.2 103.8L94.0 102.5L94.0 101.5L95.5 100.0L95.8 98.5L95.0 98.2L93.8 99.0L89.0 98.5L88.8 98.8L85.0 98.5L83.2 96.8L83.2 93.5L81.2 91.5L78.0 91.2L76.8 90.8L74.5 90.8L72.8 91.2L71.2 91.0L69.5 89.5L66.8 89.5L66.5 89.2L59.0 90.0L54.0 89.8L53.2 89.5L50.0 86.0L49.2 86.0L48.0 86.8L45.8 86.8L43.5 87.8ZM103.5 81.2L101.8 82.0L100.8 84.5L101.0 85.5L101.8 86.2L104.2 87.5L104.8 83.0L104.2 81.5ZM99.2 75.2L99.2 74.2L98.0 72.5L96.0 72.5L91.0 73.5L91.5 75.0L92.2 75.8L94.2 75.5L95.5 75.8ZM55.0 72.8L55.2 73.8L56.8 74.5L57.5 74.5L57.8 73.8L57.0 73.0L56.0 72.5ZM59.0 64.2L59.0 64.8L59.8 65.2L60.0 64.5ZM57.2 61.5L56.0 61.8L54.5 63.5L55.2 64.0L57.5 63.8L57.8 62.8ZM28.8 59.5L28.2 59.5L24.8 62.8L25.0 65.2L26.5 65.8L28.5 65.8L29.0 65.2L29.8 63.2L29.8 61.5ZM89.2 43.0L88.2 44.2L86.0 45.8L85.8 50.5L88.8 53.8L88.2 58.2L89.2 59.5L91.2 61.0L95.0 61.8L97.0 60.0L98.5 57.0L99.2 51.0L98.5 49.2L98.2 47.0L97.2 45.0L95.0 42.8L93.8 42.5L92.2 43.0ZM22.8 35.8L24.0 37.0L25.0 37.2L25.5 37.0L25.5 36.2L24.5 35.5L23.2 35.2ZM82.5 34.0L82.5 35.5L83.0 37.0L83.8 37.8L85.5 38.5L87.0 40.2L89.0 40.2L90.2 39.2L90.8 37.8L89.5 36.2L83.5 33.8ZM77.0 16.5L77.0 17.5L77.8 19.0L80.0 22.0L81.2 23.0L83.5 24.0L84.2 24.0L86.8 22.8L87.5 22.0L87.5 20.2L86.8 17.5L82.2 14.8L80.0 14.8L77.8 15.8ZM75.2 14.8L73.0 14.0L69.8 14.2L68.5 14.8L66.2 15.0L63.0 16.0L60.5 17.2L60.0 18.2L60.0 19.2L61.8 20.2L64.0 20.2L65.0 19.8L68.0 19.2L70.2 18.2L74.8 17.2L75.5 16.0ZM51.0 4.2L51.5 6.2L52.5 6.5L53.0 6.0L53.0 4.2L52.0 4.0Z" fill="#f09c7b" fill-rule="evenodd"/><path d="M46.0 112.5L46.8 116.2L47.2 116.8L49.5 117.0L50.5 117.5L53.5 120.5L56.8 120.5L58.2 119.8L58.5 119.0L57.0 114.5L55.0 112.8L52.2 111.5L47.5 112.0ZM86.8 92.5L86.8 93.0L88.0 93.0L87.8 92.5ZM42.5 88.8L42.2 90.2L44.5 93.0L45.8 93.5L48.2 96.2L49.0 98.2L48.5 100.0L51.0 100.2L54.5 101.8L55.8 102.8L57.0 103.0L58.0 104.0L59.0 106.2L59.0 107.0L58.5 107.8L58.5 110.0L59.5 111.8L60.8 112.5L62.2 112.2L63.8 112.5L64.2 113.0L64.2 114.8L67.2 117.8L71.2 117.5L71.8 116.8L72.2 116.8L73.5 117.8L74.5 117.8L78.0 115.8L79.2 115.8L81.2 116.5L83.5 115.5L87.0 115.5L87.8 114.2L90.2 112.5L91.8 110.8L93.8 110.8L94.8 110.0L95.2 109.0L95.8 106.2L95.2 105.2L92.8 102.5L93.0 101.2L92.8 100.0L92.2 99.5L90.2 99.0L86.0 99.0L83.2 98.2L82.8 97.0L82.5 93.8L81.8 92.2L81.0 91.8L78.2 91.5L76.8 91.0L74.5 91.0L72.5 91.5L71.0 91.2L69.5 90.2L67.8 90.2L65.8 89.5L63.8 90.0L54.5 90.0L53.0 89.5L50.2 86.2L49.0 86.2L47.5 87.0L45.5 87.0ZM75.8 112.0L76.2 112.0L77.0 112.8L77.0 113.8L76.5 114.2L75.2 114.2L74.8 113.8L74.8 113.0ZM83.8 110.2L84.2 109.8L85.0 109.8L85.5 110.2L85.0 111.0L84.2 111.0ZM90.0 108.8L90.5 108.5L90.8 109.0L90.2 109.2ZM99.0 75.2L99.0 74.2L97.8 72.5L91.2 73.5L92.2 75.5L98.5 75.5ZM28.2 59.5L24.8 62.8L25.0 65.0L25.8 65.5L28.0 65.8L29.0 64.8L29.8 62.2L28.8 59.8ZM89.8 43.2L88.5 44.5L86.2 45.8L86.0 50.5L89.0 53.8L88.2 57.8L89.2 59.2L91.0 60.8L93.8 61.5L95.0 61.5L96.8 60.0L97.8 58.5L98.5 56.2L99.2 51.2L98.5 50.0L98.0 46.8L97.5 45.8L94.8 43.0ZM82.8 34.0L82.5 34.5L82.8 36.0L83.8 37.5L85.2 38.0L87.8 39.8L88.8 39.8L90.2 38.5L90.5 37.8L89.2 36.2L85.5 34.5ZM77.2 16.5L77.5 18.2L80.8 22.5L83.2 23.8L84.2 23.8L87.2 22.0L87.2 20.0L86.5 17.5L82.8 15.2L81.0 14.8ZM75.2 15.2L73.5 14.2L70.5 14.2L69.2 14.8L68.0 14.8L64.0 15.8L60.8 17.2L60.0 19.0L60.8 19.8L62.5 20.2L66.5 19.5L70.5 18.0L73.8 17.5L74.8 17.0Z" fill="#e17860" fill-rule="evenodd"/><path d="M46.0 112.5L47.0 116.5L50.0 117.0L53.0 120.0L54.0 120.5L57.0 120.2L58.0 119.8L58.2 118.8L57.0 114.8L54.8 112.8L51.8 111.5ZM42.5 89.2L42.2 90.2L44.0 92.5L45.8 93.5L48.2 96.2L49.0 98.2L48.8 99.2L52.0 99.0L53.8 100.8L56.5 102.8L57.0 102.8L58.2 104.0L60.0 107.0L60.0 109.2L60.8 110.5L65.0 109.8L65.5 110.2L65.8 112.5L66.2 113.0L67.5 112.8L69.0 114.0L69.5 115.2L69.0 116.0L66.5 115.5L67.2 117.0L69.0 117.0L70.0 115.8L73.0 115.5L73.8 114.5L74.2 112.8L75.5 111.5L77.2 111.8L78.0 112.5L78.5 114.2L80.2 115.5L81.8 115.5L82.5 115.0L86.0 115.0L89.8 111.8L89.5 110.5L88.5 109.5L88.5 108.8L89.8 107.5L91.2 107.8L93.0 110.0L94.2 109.5L94.8 106.2L92.2 103.0L91.2 100.8L89.2 99.2L83.0 99.0L82.5 98.5L82.5 95.0L81.0 92.0L77.0 91.2L71.0 91.5L69.0 90.5L67.0 90.5L66.0 90.0L63.8 90.2L53.8 90.0L53.0 89.8L49.8 86.2L48.0 87.0L45.8 87.0L43.2 88.2ZM83.5 108.8L84.5 108.5L86.2 108.8L87.0 109.5L86.5 111.0L85.2 112.0L84.2 112.0L83.2 111.5L82.2 110.5L82.2 110.0ZM99.0 74.8L98.5 73.5L97.8 72.8L96.2 72.8L91.5 73.8L92.2 75.2L98.5 75.2ZM28.5 59.8L28.0 59.8L25.0 62.5L25.0 64.5L25.5 65.2L27.2 65.5L28.5 65.2L29.5 62.8L29.5 62.0ZM90.0 43.5L88.2 45.0L86.5 45.8L86.2 50.5L89.0 53.2L89.0 55.2L88.5 57.5L89.8 59.5L91.0 60.5L93.8 61.2L95.0 61.2L96.8 59.8L98.2 56.8L98.5 54.2L99.0 53.0L99.0 51.2L98.0 49.0L98.0 47.5L97.0 45.5L94.8 43.5ZM82.8 34.5L83.2 36.8L85.8 38.0L87.2 39.2L88.5 39.5L90.2 37.8L89.2 36.5L87.5 35.5L84.0 34.2ZM77.5 16.8L77.8 18.2L81.0 22.5L83.2 23.5L84.5 23.5L87.0 22.0L87.2 21.2L86.5 18.0L85.5 17.0L81.8 15.0L80.8 15.0ZM75.0 15.2L74.2 14.8L72.0 14.2L64.5 15.8L61.0 17.2L60.2 18.2L60.2 19.0L62.0 20.0L63.8 20.0L67.8 19.0L70.8 17.8L73.0 17.5L74.2 17.0L75.0 16.0Z" fill="#d25849" fill-rule="evenodd"/><path d="M82.5 112.5L82.8 113.2L83.2 113.5L83.5 113.0ZM46.2 112.8L47.0 116.2L50.2 117.0L53.2 120.0L56.2 120.2L58.0 119.5L57.8 117.5L56.8 114.8L54.0 112.5L52.2 111.8L50.8 111.8ZM42.5 89.5L42.5 90.5L44.0 92.5L45.8 93.5L48.2 96.2L49.0 98.8L49.8 98.5L52.5 98.8L55.0 101.2L58.2 103.5L58.5 104.2L60.5 106.5L61.8 109.0L64.8 109.0L66.2 109.8L68.5 111.8L70.2 114.8L71.0 115.0L72.5 114.8L74.5 111.8L76.5 110.8L78.5 111.0L79.0 109.8L80.0 108.8L82.2 108.5L83.5 108.0L87.5 108.0L87.8 107.8L87.5 106.8L88.8 105.2L89.8 105.2L90.5 107.0L92.2 107.5L93.2 108.5L93.8 107.8L93.5 105.5L93.0 104.5L91.5 103.0L90.0 100.2L89.2 99.8L82.8 100.0L81.8 99.2L81.5 98.8L82.2 97.2L82.2 95.5L81.5 93.0L80.2 92.0L78.8 92.0L76.0 91.2L73.0 92.0L71.2 91.8L68.8 90.8L67.0 90.8L65.5 90.2L63.5 90.5L63.0 90.2L53.8 90.2L53.0 90.0L50.0 86.5L49.2 86.5L48.0 87.2L45.5 87.2L43.5 88.2ZM70.8 104.0L71.2 103.8L71.5 104.2L71.0 104.5ZM98.8 74.8L98.2 73.5L97.2 72.8L95.0 73.2L93.5 74.0L92.0 74.0L92.5 75.0L94.0 74.8L98.0 75.2ZM28.2 60.0L27.5 60.2L25.2 62.2L25.5 65.0L28.2 65.0L29.2 62.5L29.0 61.0ZM90.0 43.8L88.2 45.2L86.5 46.0L86.8 47.5L86.5 50.2L87.2 51.5L89.2 53.2L89.0 57.8L89.5 58.8L91.8 60.5L94.8 61.0L96.5 59.8L97.8 57.5L99.0 51.8L98.0 49.8L97.8 47.5L97.0 46.0L96.2 45.5L94.8 45.8L93.0 44.0ZM83.0 34.8L83.2 36.2L84.0 37.0L85.5 37.5L88.0 39.2L89.0 39.0L90.0 37.8L89.0 36.5L84.0 34.5ZM77.8 16.8L78.0 18.2L80.0 21.2L81.2 22.5L83.0 23.2L84.5 23.2L86.8 22.0L87.0 21.5L86.8 19.2L86.2 18.0L85.5 17.2L82.0 15.2L80.8 15.2ZM74.8 15.5L73.8 14.8L71.2 14.5L65.2 15.8L61.0 17.5L60.5 18.2L60.5 19.0L61.8 19.8L64.0 19.8L67.0 19.0L70.8 17.5L73.2 17.2L74.5 16.5Z" fill="#c13639" fill-rule="evenodd"/><path d="M46.2 113.0L47.2 116.2L49.5 116.5L50.5 117.0L53.5 120.0L56.8 120.0L57.8 119.5L57.8 118.2L56.5 114.8L54.5 113.0L52.0 111.8L47.0 112.5ZM91.2 104.2L91.0 106.2L92.0 106.8L92.8 106.2L92.8 105.2L92.5 104.8ZM42.8 89.2L42.5 90.5L44.5 93.0L46.8 94.0L47.0 95.0L48.2 96.2L49.0 98.2L50.5 98.0L52.8 98.2L55.8 101.2L57.2 102.0L59.8 105.0L61.8 105.8L62.2 106.2L62.5 107.8L64.0 108.0L65.8 109.0L68.2 108.8L68.5 108.2L68.2 107.2L67.0 106.0L67.0 105.0L67.8 103.5L68.5 102.8L72.8 102.5L73.2 103.5L72.5 105.2L71.5 106.5L72.8 107.8L73.0 109.5L71.5 111.2L69.8 111.8L70.0 113.2L70.8 114.0L71.8 114.0L72.2 113.0L73.8 111.5L77.8 109.8L79.2 107.2L80.8 107.8L85.2 107.2L89.5 104.0L89.2 103.0L89.5 100.8L88.8 100.2L81.8 100.5L80.8 100.0L79.8 100.0L78.5 99.0L79.2 98.0L81.0 98.0L82.0 97.0L81.5 93.8L81.0 92.8L80.2 92.2L77.2 91.8L75.0 91.8L74.2 92.2L72.5 92.2L69.8 91.2L66.8 91.0L65.5 90.5L53.5 90.5L51.5 89.0L50.0 86.8L48.2 87.5L46.2 87.2L43.8 88.2ZM68.5 99.2L68.8 99.8L68.0 100.2L67.8 99.8ZM98.5 74.8L98.2 73.8L97.5 73.0L95.5 73.5L95.0 74.0L95.2 74.8L97.0 75.0ZM28.0 60.5L27.0 60.8L25.5 62.0L25.5 64.5L25.8 64.8L26.5 64.8L28.5 62.5L28.8 61.8ZM90.2 44.0L88.8 45.2L86.8 46.2L87.5 48.2L87.2 50.8L89.8 53.5L89.5 56.0L90.0 58.8L90.8 59.5L92.0 60.0L95.2 60.2L97.2 58.2L98.0 56.0L98.8 51.5L97.8 50.0L97.5 48.0L96.8 46.8L94.5 46.5L92.0 44.2ZM91.5 55.2L93.0 56.0L94.2 57.2L93.8 58.5L92.8 58.5L92.0 57.8L91.0 56.0ZM83.5 35.0L83.8 36.5L85.8 37.2L88.0 39.0L89.2 38.5L89.8 37.8L89.0 36.8L86.0 35.8L84.8 35.0ZM78.0 17.0L78.5 18.5L81.2 22.2L83.2 23.0L84.5 23.0L86.8 21.5L86.8 20.2L86.0 18.0L82.5 15.8L80.8 15.5ZM74.2 15.5L73.0 14.8L70.8 14.8L66.8 16.0L64.0 16.2L61.0 17.8L60.8 19.0L62.8 19.8L67.2 18.8L70.0 17.2L73.0 17.0L74.0 16.5Z" fill="#ae172a" fill-rule="evenodd"/><path d="M46.8 113.0L47.0 115.2L47.5 116.2L50.2 116.5L54.0 120.0L57.5 119.5L57.5 118.0L56.8 116.0L55.5 114.0L54.2 113.0L52.2 112.0ZM74.2 110.0L75.5 109.8L74.8 108.2L77.2 105.8L79.5 105.8L81.0 106.8L83.2 107.0L85.2 106.2L88.0 104.5L88.5 103.8L87.5 101.8L86.2 101.0L81.8 101.0L80.8 100.5L77.8 100.2L77.0 99.8L75.5 100.0L74.8 101.0L75.0 102.5L73.8 104.2L73.2 105.8L73.2 106.5L74.5 108.0ZM54.8 91.2L54.8 93.0L55.2 93.8L55.5 97.0L54.2 98.2L54.5 99.5L55.8 100.8L57.8 101.8L60.2 104.5L62.8 104.5L63.5 105.2L63.8 106.8L65.5 108.2L67.0 108.0L65.5 105.5L66.2 104.0L66.2 103.2L65.5 102.0L65.5 100.8L66.5 99.2L66.5 97.8L65.5 96.8L65.8 95.0L67.5 95.8L68.2 96.8L68.2 97.5L69.5 97.2L68.8 96.2L69.5 94.8L70.0 94.5L71.2 95.5L71.0 97.0L71.2 99.0L70.2 101.0L70.5 101.2L72.5 101.2L73.8 100.5L74.2 99.8L74.2 98.5L75.5 97.5L77.2 98.0L78.2 97.2L80.0 97.5L81.5 97.2L81.5 95.0L80.8 93.0L80.0 92.5L75.8 92.0L75.2 92.2L75.0 93.5L74.0 94.8L73.2 94.0L72.8 92.8L68.8 91.2L66.8 91.2L65.2 90.8L55.8 90.8ZM58.2 92.8L59.0 93.2L59.8 95.0L59.8 96.0L59.2 96.5L58.5 96.5L57.8 95.5L57.5 93.8ZM44.0 88.2L43.0 89.2L42.8 90.8L44.5 93.0L45.2 92.5L46.8 92.5L48.0 93.5L48.2 95.0L47.8 95.8L48.5 96.8L48.8 98.0L52.8 97.5L53.5 95.5L53.5 94.0L52.0 91.0L51.0 90.0L50.0 87.5L49.5 87.5L49.0 88.2L47.8 88.2L47.0 87.8L45.0 87.8ZM96.5 73.8L96.8 74.5L97.5 74.8L98.2 74.5L97.5 73.5ZM27.2 61.8L26.8 61.8L26.5 62.2L26.8 62.5ZM90.0 44.5L87.5 46.0L87.5 46.8L88.5 48.0L89.0 49.5L88.2 51.5L89.2 52.2L90.5 52.2L93.2 55.0L95.2 56.0L96.0 57.0L95.8 59.2L96.0 59.2L97.5 56.8L97.8 54.0L98.5 51.8L97.2 50.2L96.8 48.2L96.2 47.8L94.2 47.0L91.8 44.8ZM96.0 50.5L95.8 51.8L95.0 52.5L94.2 52.5L93.5 51.8L93.8 50.8L95.0 50.0ZM87.5 36.8L87.0 37.2L87.2 38.2L88.2 38.8L89.2 38.0L89.2 37.2ZM68.2 17.8L66.5 16.5L65.0 16.2L61.5 17.8L61.0 18.5L61.2 19.0L62.0 19.2L64.0 19.2L67.2 18.5ZM78.8 17.2L78.8 18.0L81.2 21.8L84.5 22.5L86.5 21.5L86.2 19.0L85.5 17.8L81.5 15.8ZM69.5 15.8L71.0 16.5L72.5 16.5L73.2 16.0L73.2 15.5L72.5 15.0L71.0 15.0Z" fill="#8a0b25" fill-rule="evenodd"/><path d="M47.8 113.5L47.5 115.8L48.2 115.8L48.5 114.0L49.5 114.0L50.2 114.8L50.8 116.5L53.5 119.5L55.5 119.8L57.2 119.2L57.0 117.8L55.5 117.0L55.8 116.5L55.5 114.5L53.5 112.8L52.5 112.2L50.8 112.2L48.2 113.0ZM75.8 101.5L75.8 104.2L76.0 104.5L79.5 105.0L81.5 106.2L84.0 106.2L86.8 104.5L87.2 103.8L86.8 102.2L85.5 101.5L81.8 101.5L80.0 100.8L76.2 101.0ZM72.8 96.5L72.2 97.5L72.8 98.2L73.2 98.2L73.8 97.5L73.8 96.8ZM52.0 95.8L51.0 95.2L48.5 96.8L48.8 97.5L51.5 97.2L52.0 96.8ZM76.0 93.0L75.8 94.0L76.2 95.0L78.8 95.2L80.5 97.0L81.2 96.5L80.5 93.5L80.0 93.0L76.8 92.5ZM60.5 91.0L59.8 91.2L59.8 93.0L61.0 95.0L60.8 97.0L60.0 97.8L56.5 97.2L55.0 98.5L55.0 99.2L56.5 100.8L59.0 102.0L60.2 103.5L62.2 103.2L64.2 103.5L64.8 103.0L64.8 100.5L65.8 99.2L65.8 98.2L64.5 97.0L63.8 94.2L64.0 93.2L64.5 92.8L65.8 92.8L67.5 94.8L68.2 94.8L69.8 93.8L71.5 93.8L71.8 93.2L69.5 91.8L67.5 91.8L66.2 91.2ZM43.2 89.2L43.2 91.0L43.5 91.8L44.0 92.0L47.8 91.8L50.2 92.8L50.8 92.5L50.8 91.8L49.5 90.2L47.8 89.8L46.0 88.0L45.0 88.0ZM88.5 46.0L88.5 46.8L89.8 49.2L90.5 50.0L91.2 50.2L93.0 50.0L94.5 48.5L94.0 47.5L90.8 45.0L90.0 45.0ZM88.8 37.5L88.2 37.5L88.0 38.2L88.5 38.2ZM82.2 17.0L82.0 18.8L86.0 21.2L86.2 20.8L85.5 18.2L83.0 17.0ZM63.2 17.5L63.5 18.5L66.0 18.5L66.8 18.0L65.2 16.8L63.8 17.0Z" fill="#67001f" fill-rule="evenodd"/><path d="M99.8 136.5L100.8 136.5L101.5 137.5L101.5 138.0L100.8 139.0L99.5 138.0L99.5 136.8L99.8 136.5M62.5 130.8L62.5 131.5L60.8 132.8L58.0 135.8L56.8 136.5L55.2 136.2L53.2 133.8L53.2 133.2L53.8 132.8L55.8 132.0L60.0 129.2L61.5 129.8L62.5 130.8M71.5 121.8L71.0 122.2L69.2 122.5L66.5 124.0L63.8 124.8L63.0 124.0L62.8 122.2L61.5 121.8L60.5 120.8L61.0 120.0L63.2 120.0L64.2 119.5L67.0 119.5L69.2 118.8L71.0 120.5L71.5 121.8M84.5 96.2L84.5 94.8L85.0 94.2L89.5 94.5L91.8 95.0L91.2 97.0L90.8 97.5L89.0 97.5L86.8 98.0L85.5 97.8L84.8 97.0L84.5 96.2M41.2 85.5L42.2 85.2L42.2 84.5L41.5 83.8L40.2 83.8M44.5 81.5L44.0 82.0L43.8 83.0L44.0 84.0L45.0 82.8L45.0 82.0L44.5 81.5M68.8 80.8L67.5 81.8L67.2 83.0L68.0 83.5L69.8 83.8L70.5 82.8L70.8 81.5L70.0 80.8L68.8 80.8M100.2 73.2L99.8 73.2L98.0 71.8L90.2 72.8L90.0 73.2L90.2 74.2L92.0 76.5L96.8 76.2L98.2 77.0L98.5 78.8L100.2 78.8L100.5 79.5L99.5 80.5L94.5 81.2L92.2 82.5L90.5 82.5L88.5 83.5L85.5 83.5L84.0 84.2L81.0 85.0L74.0 85.2L72.5 84.5L70.0 84.8L69.0 86.0L68.8 88.0L68.0 88.5L63.5 88.5L62.8 88.0L62.5 86.5L61.8 85.8L60.5 85.8L57.2 86.8L57.0 87.2L58.0 88.8L57.0 89.2L53.8 89.0L52.5 87.2L50.0 85.2L50.0 82.8L49.0 81.5L48.2 81.5L47.2 82.5L47.5 84.0L48.8 85.0L48.0 86.0L45.5 86.2L44.5 86.8L42.2 86.8L42.0 87.0M50.0 104.2L50.5 104.2L51.5 103.5L56.5 103.5L57.8 104.8L57.5 109.0L57.0 109.5L54.0 109.8L51.8 110.8L49.8 111.2M46.2 115.0L46.5 117.2L49.0 117.5L50.5 118.2L53.2 121.8L53.8 123.8L53.5 124.8L51.8 126.5L52.0 130.5L50.0 132.5L49.8 134.2L48.8 136.5L48.8 138.2M59.5 141.0L58.8 139.0L59.5 138.0L61.2 138.0L63.8 137.2L66.8 137.2L69.0 136.5L72.8 136.2L74.5 135.8L76.8 135.8L80.5 134.2L83.2 134.5L84.5 135.8L84.5 137.2L85.0 139.0L83.5 140.5L81.0 140.8L79.2 140.2L77.5 140.2L75.5 140.8L69.5 140.8L69.2 140.5L69.5 139.5L68.8 139.2L68.2 139.5L68.5 140.5L68.2 141.0L66.5 141.8M104.5 141.2L104.0 140.0L104.0 137.8L104.5 136.5L104.5 135.5M102.5 124.5L101.0 125.0L99.5 125.0L99.2 124.8L96.8 125.0L94.8 123.8L92.2 123.2L91.2 122.5L89.8 122.0L88.8 121.0L88.8 120.5L87.8 118.8L87.8 118.0L88.5 117.0L89.5 116.8L91.5 115.5L94.0 115.2L96.2 114.0L100.5 114.0M99.5 104.0L98.5 104.8L97.8 104.8L96.8 103.0L96.8 100.0L97.0 99.0L98.0 98.0L98.8 97.8L100.2 97.8L100.5 98.0M24.0 65.0L24.5 65.8L25.5 66.2L27.2 66.2L27.5 66.5L28.5 66.5L29.2 66.0L30.2 63.5L30.2 61.5M84.0 59.5L82.5 57.8L81.8 56.0L80.5 55.0L78.5 55.0L77.5 55.5L75.0 55.5L73.5 56.0L72.0 57.0L72.0 57.5L72.8 58.5L72.2 59.5L71.2 59.5L70.8 59.0L70.5 57.8L69.8 57.5L67.2 57.5L67.0 57.2L63.5 57.5L60.5 58.8L57.0 59.5L54.8 60.5L53.5 60.5L50.8 61.5L48.5 63.8L46.2 64.8L45.8 65.2L45.8 65.8L53.8 75.0L56.5 77.8L58.8 79.0L59.2 79.0L62.2 76.0L64.2 72.0L64.2 70.8L64.5 70.5L64.2 69.5L62.8 67.8L62.2 66.2L62.8 65.5L63.2 65.2L65.0 65.5L67.5 64.5L71.0 64.5L72.5 65.0L73.8 65.0L74.2 64.8L73.8 63.8L73.8 62.5L74.5 62.0L75.8 63.0L75.8 64.8L77.8 66.5L79.5 70.2L80.2 71.0L81.2 71.0L84.0 69.0L83.2 67.2L83.2 64.8L83.0 64.5L83.0 63.2L84.0 60.8L84.0 59.5M66.5 37.0L66.0 37.8L66.5 40.8L67.0 41.2L67.8 41.2L69.0 40.2L69.0 38.5L68.0 37.2L66.5 37.0M22.5 37.0L25.0 38.0L25.8 38.0L26.5 37.2L26.8 36.0L25.5 35.0L21.2 33.0M84.8 30.8L84.8 32.2L84.2 32.8L82.2 32.8L81.8 33.2L82.0 36.5L84.0 41.5L86.2 43.8L86.2 44.2L85.5 45.0L85.2 45.8L85.0 51.0L88.0 54.2L87.8 56.2L87.2 57.5L87.5 58.5L90.2 61.2L95.0 62.5M98.5 45.8L98.0 43.8L95.5 41.5L93.8 38.0L92.0 37.2L90.0 35.5L87.2 34.2L86.0 32.8M53.8 27.0L53.8 27.8L54.5 29.0L56.5 29.2L56.5 28.5L55.8 27.5L53.8 27.0M44.5 25.8L44.5 26.2L45.8 27.2L47.2 27.5L47.8 27.0L47.2 25.5L44.5 25.8M74.2 22.2L73.8 21.8L70.0 22.2L69.8 22.5L69.8 25.0L70.2 25.5L71.0 25.5L72.8 24.8L74.5 25.0L74.8 23.8L74.2 22.2M59.2 18.2L59.2 19.2L60.2 20.2L62.2 21.0L63.2 21.0L67.8 20.0L71.0 18.8L73.5 18.5L75.0 18.0L76.0 18.5L78.8 21.2L80.0 23.0L82.2 24.0L84.5 25.5L83.0 27.2L81.5 28.0L81.5 28.5L82.8 29.0M84.8 25.2L85.8 24.2M77.8 13.5L77.5 13.8L74.8 13.8M33.5 11.8L34.0 12.8L34.5 13.0L36.0 12.8L36.0 11.0L35.5 10.5M53.0 3.5L50.8 3.5L50.5 3.8L50.5 5.5L51.2 7.2" fill="none" stroke="#1a1a1a" stroke-opacity="0.85" stroke-width="0.33" stroke-linejoin="round"/><use href="#fringe"/></g><use href="#jeju"/></g>
<use href="#grid"/>
</g>
<rect x="0" y="0" width="104.9" height="142.2" fill="none" stroke="#4a4a4a" stroke-width="0.8"/>
<text x="10.2" y="149.60000000000002" font-size="5.4" text-anchor="middle" fill="#111">118°E</text>
<text x="31.2" y="149.60000000000002" font-size="5.4" text-anchor="middle" fill="#111">120°E</text>
<text x="52.2" y="149.60000000000002" font-size="5.4" text-anchor="middle" fill="#111">122°E</text>
<text x="73.2" y="149.60000000000002" font-size="5.4" text-anchor="middle" fill="#111">124°E</text>
<text x="94.2" y="149.60000000000002" font-size="5.4" text-anchor="middle" fill="#111">126°E</text>
<text x="-3.0" y="13.00" font-size="5.4" text-anchor="end" fill="#111">40°N</text>
<text x="-3.0" y="34.84" font-size="5.4" text-anchor="end" fill="#111">38°N</text>
<text x="-3.0" y="56.68" font-size="5.4" text-anchor="end" fill="#111">36°N</text>
<text x="-3.0" y="78.52" font-size="5.4" text-anchor="end" fill="#111">34°N</text>
<text x="-3.0" y="100.36" font-size="5.4" text-anchor="end" fill="#111">32°N</text>
<text x="-3.0" y="122.20" font-size="5.4" text-anchor="end" fill="#111">30°N</text>
<text x="52.6" y="-5.2" font-size="6.1" text-anchor="middle" fill="#111">(c) HYBRID - ZSTAR</text>
</g>
<g>
<rect x="269.2" y="148.83" width="7.300000000000011" height="11.87" fill="#f7fcf0"/>
<rect x="269.2" y="137.17" width="7.300000000000011" height="11.87" fill="#e8f6e2"/>
<rect x="269.2" y="125.50" width="7.300000000000011" height="11.87" fill="#daf0d4"/>
<rect x="269.2" y="113.83" width="7.300000000000011" height="11.87" fill="#ccebc5"/>
<rect x="269.2" y="102.17" width="7.300000000000011" height="11.87" fill="#b4e2ba"/>
<rect x="269.2" y="90.50" width="7.300000000000011" height="11.87" fill="#99d7ba"/>
<rect x="269.2" y="78.83" width="7.300000000000011" height="11.87" fill="#7accc4"/>
<rect x="269.2" y="67.17" width="7.300000000000011" height="11.87" fill="#5dbbce"/>
<rect x="269.2" y="55.50" width="7.300000000000011" height="11.87" fill="#42a6cc"/>
<rect x="269.2" y="43.83" width="7.300000000000011" height="11.87" fill="#2a8bbe"/>
<rect x="269.2" y="32.17" width="7.300000000000011" height="11.87" fill="#1373b2"/>
<rect x="269.2" y="20.50" width="7.300000000000011" height="11.87" fill="#085a9d"/>
<polygon points="269.2,20.6 272.85,13.5 276.5,20.6" fill="#084081"/>
<polygon points="269.2,160.5 269.2,20.5 272.85,13.5 276.5,20.5 276.5,160.5" fill="none" stroke="#333" stroke-width="0.6"/>
<line x1="276.5" y1="160.50" x2="278.3" y2="160.50" stroke="#333" stroke-width="0.5"/>
<text x="279.9" y="162.40" font-size="4.8" fill="#222">0.00</text>
<line x1="276.5" y1="113.83" x2="278.3" y2="113.83" stroke="#333" stroke-width="0.5"/>
<text x="279.9" y="115.73" font-size="4.8" fill="#222">0.02</text>
<line x1="276.5" y1="67.17" x2="278.3" y2="67.17" stroke="#333" stroke-width="0.5"/>
<text x="279.9" y="69.07" font-size="4.8" fill="#222">0.04</text>
<line x1="276.5" y1="20.50" x2="278.3" y2="20.50" stroke="#333" stroke-width="0.5"/>
<text x="279.9" y="22.40" font-size="4.8" fill="#222">0.06</text>
<text transform="translate(297.6,88.3) rotate(-90)" font-size="4.8" text-anchor="middle" fill="#222">[s-1]</text>
</g>
<g>
<rect x="458.9" y="147.71" width="6.800000000000011" height="6.89" fill="#124984"/>
<rect x="458.9" y="141.02" width="6.800000000000011" height="6.89" fill="#1f63a8"/>
<rect x="458.9" y="134.33" width="6.800000000000011" height="6.89" fill="#2f79b5"/>
<rect x="458.9" y="127.64" width="6.800000000000011" height="6.89" fill="#3f8ec0"/>
<rect x="458.9" y="120.95" width="6.800000000000011" height="6.89" fill="#5fa5cd"/>
<rect x="458.9" y="114.26" width="6.800000000000011" height="6.89" fill="#87beda"/>
<rect x="458.9" y="107.57" width="6.800000000000011" height="6.89" fill="#a7d0e4"/>
<rect x="458.9" y="100.88" width="6.800000000000011" height="6.89" fill="#c5dfec"/>
<rect x="458.9" y="94.19" width="6.800000000000011" height="6.89" fill="#dbeaf2"/>
<rect x="458.9" y="87.50" width="6.800000000000011" height="6.89" fill="#edf2f5"/>
<rect x="458.9" y="80.81" width="6.800000000000011" height="6.89" fill="#f9f0eb"/>
<rect x="458.9" y="74.12" width="6.800000000000011" height="6.89" fill="#fbe3d4"/>
<rect x="458.9" y="67.43" width="6.800000000000011" height="6.89" fill="#fbd0b9"/>
<rect x="458.9" y="60.74" width="6.800000000000011" height="6.89" fill="#f7b799"/>
<rect x="458.9" y="54.05" width="6.800000000000011" height="6.89" fill="#f09c7b"/>
<rect x="458.9" y="47.36" width="6.800000000000011" height="6.89" fill="#e17860"/>
<rect x="458.9" y="40.67" width="6.800000000000011" height="6.89" fill="#d25849"/>
<rect x="458.9" y="33.98" width="6.800000000000011" height="6.89" fill="#c13639"/>
<rect x="458.9" y="27.29" width="6.800000000000011" height="6.89" fill="#ae172a"/>
<rect x="458.9" y="20.60" width="6.800000000000011" height="6.89" fill="#8a0b25"/>
<polygon points="458.9,20.700000000000003 462.29999999999995,13.600000000000001 465.7,20.700000000000003" fill="#67001f"/>
<polygon points="458.9,154.3 462.29999999999995,161.0 465.7,154.3" fill="#053061"/>
<polygon points="458.9,154.4 458.9,20.6 462.29999999999995,13.600000000000001 465.7,20.6 465.7,154.4 462.29999999999995,161.0" fill="none" stroke="#333" stroke-width="0.6"/>
<line x1="465.7" y1="154.40" x2="467.5" y2="154.40" stroke="#333" stroke-width="0.5"/>
<text x="469.09999999999997" y="156.30" font-size="4.8" fill="#222">−0.010</text>
<line x1="465.7" y1="120.95" x2="467.5" y2="120.95" stroke="#333" stroke-width="0.5"/>
<text x="469.09999999999997" y="122.85" font-size="4.8" fill="#222">−0.005</text>
<line x1="465.7" y1="87.50" x2="467.5" y2="87.50" stroke="#333" stroke-width="0.5"/>
<text x="469.09999999999997" y="89.40" font-size="4.8" fill="#222">0.000</text>
<line x1="465.7" y1="54.05" x2="467.5" y2="54.05" stroke="#333" stroke-width="0.5"/>
<text x="469.09999999999997" y="55.95" font-size="4.8" fill="#222">0.005</text>
<line x1="465.7" y1="20.60" x2="467.5" y2="20.60" stroke="#333" stroke-width="0.5"/>
<text x="469.09999999999997" y="22.50" font-size="4.8" fill="#222">0.010</text>
<text transform="translate(494.0,88.3) rotate(-90)" font-size="4.8" text-anchor="middle" fill="#222">[s-1]</text>
</g>
<g>
<rect x="269.2" y="317.83" width="7.300000000000011" height="11.87" fill="#f7fcf0"/>
<rect x="269.2" y="306.17" width="7.300000000000011" height="11.87" fill="#e8f6e2"/>
<rect x="269.2" y="294.50" width="7.300000000000011" height="11.87" fill="#daf0d4"/>
<rect x="269.2" y="282.83" width="7.300000000000011" height="11.87" fill="#ccebc5"/>
<rect x="269.2" y="271.17" width="7.300000000000011" height="11.87" fill="#b4e2ba"/>
<rect x="269.2" y="259.50" width="7.300000000000011" height="11.87" fill="#99d7ba"/>
<rect x="269.2" y="247.83" width="7.300000000000011" height="11.87" fill="#7accc4"/>
<rect x="269.2" y="236.17" width="7.300000000000011" height="11.87" fill="#5dbbce"/>
<rect x="269.2" y="224.50" width="7.300000000000011" height="11.87" fill="#42a6cc"/>
<rect x="269.2" y="212.83" width="7.300000000000011" height="11.87" fill="#2a8bbe"/>
<rect x="269.2" y="201.17" width="7.300000000000011" height="11.87" fill="#1373b2"/>
<rect x="269.2" y="189.50" width="7.300000000000011" height="11.87" fill="#085a9d"/>
<polygon points="269.2,189.6 272.85,182.5 276.5,189.6" fill="#084081"/>
<polygon points="269.2,329.5 269.2,189.5 272.85,182.5 276.5,189.5 276.5,329.5" fill="none" stroke="#333" stroke-width="0.6"/>
<line x1="276.5" y1="329.50" x2="278.3" y2="329.50" stroke="#333" stroke-width="0.5"/>
<text x="279.9" y="331.40" font-size="4.8" fill="#222">0.00</text>
<line x1="276.5" y1="282.83" x2="278.3" y2="282.83" stroke="#333" stroke-width="0.5"/>
<text x="279.9" y="284.73" font-size="4.8" fill="#222">0.02</text>
<line x1="276.5" y1="236.17" x2="278.3" y2="236.17" stroke="#333" stroke-width="0.5"/>
<text x="279.9" y="238.07" font-size="4.8" fill="#222">0.04</text>
<line x1="276.5" y1="189.50" x2="278.3" y2="189.50" stroke="#333" stroke-width="0.5"/>
<text x="279.9" y="191.40" font-size="4.8" fill="#222">0.06</text>
<text transform="translate(297.6,257.3) rotate(-90)" font-size="4.8" text-anchor="middle" fill="#222">[s-1]</text>
</g>
<g>
<rect x="458.9" y="316.71" width="6.800000000000011" height="6.89" fill="#124984"/>
<rect x="458.9" y="310.02" width="6.800000000000011" height="6.89" fill="#1f63a8"/>
<rect x="458.9" y="303.33" width="6.800000000000011" height="6.89" fill="#2f79b5"/>
<rect x="458.9" y="296.64" width="6.800000000000011" height="6.89" fill="#3f8ec0"/>
<rect x="458.9" y="289.95" width="6.800000000000011" height="6.89" fill="#5fa5cd"/>
<rect x="458.9" y="283.26" width="6.800000000000011" height="6.89" fill="#87beda"/>
<rect x="458.9" y="276.57" width="6.800000000000011" height="6.89" fill="#a7d0e4"/>
<rect x="458.9" y="269.88" width="6.800000000000011" height="6.89" fill="#c5dfec"/>
<rect x="458.9" y="263.19" width="6.800000000000011" height="6.89" fill="#dbeaf2"/>
<rect x="458.9" y="256.50" width="6.800000000000011" height="6.89" fill="#edf2f5"/>
<rect x="458.9" y="249.81" width="6.800000000000011" height="6.89" fill="#f9f0eb"/>
<rect x="458.9" y="243.12" width="6.800000000000011" height="6.89" fill="#fbe3d4"/>
<rect x="458.9" y="236.43" width="6.800000000000011" height="6.89" fill="#fbd0b9"/>
<rect x="458.9" y="229.74" width="6.800000000000011" height="6.89" fill="#f7b799"/>
<rect x="458.9" y="223.05" width="6.800000000000011" height="6.89" fill="#f09c7b"/>
<rect x="458.9" y="216.36" width="6.800000000000011" height="6.89" fill="#e17860"/>
<rect x="458.9" y="209.67" width="6.800000000000011" height="6.89" fill="#d25849"/>
<rect x="458.9" y="202.98" width="6.800000000000011" height="6.89" fill="#c13639"/>
<rect x="458.9" y="196.29" width="6.800000000000011" height="6.89" fill="#ae172a"/>
<rect x="458.9" y="189.60" width="6.800000000000011" height="6.89" fill="#8a0b25"/>
<polygon points="458.9,189.7 462.29999999999995,182.6 465.7,189.7" fill="#67001f"/>
<polygon points="458.9,323.29999999999995 462.29999999999995,330.0 465.7,323.29999999999995" fill="#053061"/>
<polygon points="458.9,323.4 458.9,189.6 462.29999999999995,182.6 465.7,189.6 465.7,323.4 462.29999999999995,330.0" fill="none" stroke="#333" stroke-width="0.6"/>
<line x1="465.7" y1="323.40" x2="467.5" y2="323.40" stroke="#333" stroke-width="0.5"/>
<text x="469.09999999999997" y="325.30" font-size="4.8" fill="#222">−0.010</text>
<line x1="465.7" y1="289.95" x2="467.5" y2="289.95" stroke="#333" stroke-width="0.5"/>
<text x="469.09999999999997" y="291.85" font-size="4.8" fill="#222">−0.005</text>
<line x1="465.7" y1="256.50" x2="467.5" y2="256.50" stroke="#333" stroke-width="0.5"/>
<text x="469.09999999999997" y="258.40" font-size="4.8" fill="#222">0.000</text>
<line x1="465.7" y1="223.05" x2="467.5" y2="223.05" stroke="#333" stroke-width="0.5"/>
<text x="469.09999999999997" y="224.95" font-size="4.8" fill="#222">0.005</text>
<line x1="465.7" y1="189.60" x2="467.5" y2="189.60" stroke="#333" stroke-width="0.5"/>
<text x="469.09999999999997" y="191.50" font-size="4.8" fill="#222">0.010</text>
<text transform="translate(494.0,257.3) rotate(-90)" font-size="4.8" text-anchor="middle" fill="#222">[s-1]</text>
</g>
</svg>
</body></html>
